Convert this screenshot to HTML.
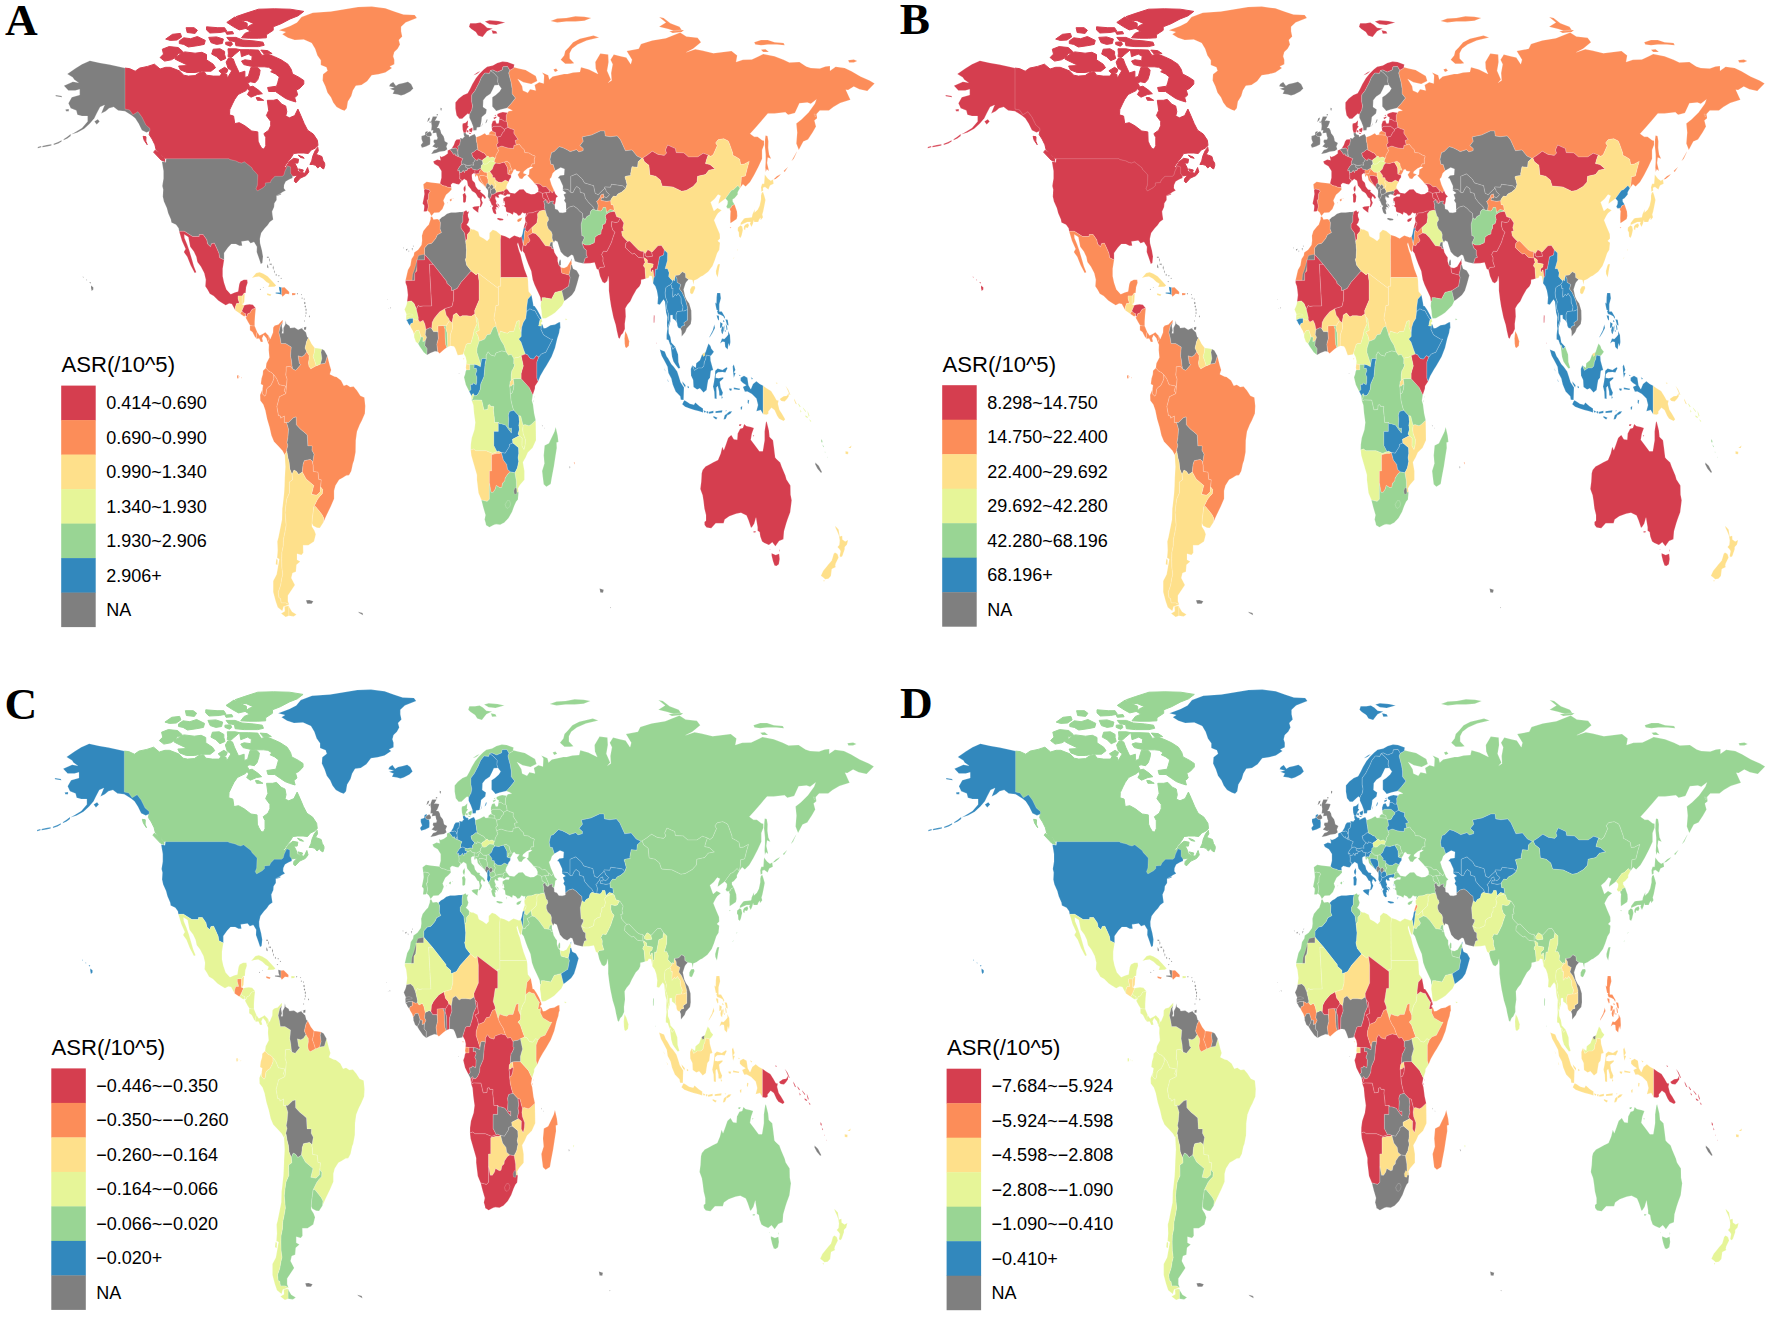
<!DOCTYPE html>
<html><head><meta charset="utf-8"><title>Figure</title>
<style>
html,body{margin:0;padding:0;background:#fff;}
svg{display:block;}
path{stroke:#fff;stroke-opacity:0.3;stroke-width:0.6;stroke-linejoin:round;}
.lt{font-family:"Liberation Sans",Arial,Helvetica,sans-serif;font-size:22.1px;fill:#000;}
.ll{font-family:"Liberation Sans",Arial,Helvetica,sans-serif;font-size:18px;fill:#000;}
.pl{font-family:"Liberation Serif","Times New Roman",serif;font-weight:bold;font-size:45.3px;fill:#000;}
</style></head><body>
<svg width="1772" height="1321" viewBox="0 0 1772 1321">
<rect width="1772" height="1321" fill="#fff"/>
<g transform="translate(0,0)">
<path d="M125.0,68.1L129.5,68.6L135.2,71.2L139.7,68.1L147.6,66.4L154.4,64.2L160.1,69.0L165.7,67.3L170.2,67.3L179.3,70.8L183.8,75.2L188.3,76.1L195.1,75.6L199.7,72.5L204.2,71.7L206.5,75.2L213.2,76.1L220.0,76.1L222.3,72.5L226.8,74.3L227.3,78.3L229.1,75.2L231.8,70.8L228.0,68.1L226.1,62.0L228.6,58.0L233.2,58.9L235.2,64.2L237.0,68.1L239.3,73.0L244.9,71.2L244.9,77.4L248.3,76.5L249.9,70.8L251.0,67.3L257.4,67.3L260.1,69.9L259.6,73.9L257.8,79.6L255.1,82.7L250.6,81.8L247.6,82.7L249.5,86.2L246.1,90.6L241.5,92.8L238.1,94.5L234.7,99.4L232.5,103.8L229.8,109.5L229.5,114.8L233.6,116.1L234.7,123.6L239.3,122.7L244.9,125.8L251.7,131.0L257.8,131.9L258.1,141.2L259.6,144.7L261.9,148.6L264.2,149.1L265.8,145.6L265.8,137.6L263.9,133.7L268.7,130.2L270.7,125.8L270.7,121.4L266.4,115.6L268.7,110.4L267.3,100.3L273.2,100.3L277.3,99.4L281.8,104.2L285.7,106.0L286.8,111.7L285.7,116.1L289.5,117.8L294.7,115.6L297.9,109.1L300.8,115.6L304.2,123.6L307.6,130.2L313.3,134.1L317.4,140.3L318.0,145.6L315.1,148.2L311.2,150.0L308.3,153.5L303.8,153.0L298.1,153.0L293.6,153.5L291.3,157.4L287.9,161.8L283.9,167.5L285.7,167.5L289.1,161.8L293.6,158.3L298.6,159.2L297.9,163.1L294.7,163.1L297.0,167.5L297.9,171.1L299.7,171.9L304.9,173.3L307.6,167.5L308.8,171.9L306.0,175.5L300.4,178.1L295.9,182.9L294.3,181.2L294.7,178.5L298.1,175.0L295.9,175.5L292.5,175.9L290.6,173.3L290.6,167.1L287.5,165.8L285.0,171.1L283.9,175.0L282.3,176.3L275.0,176.3L271.4,179.9L270.3,182.5L265.3,182.9L265.3,185.6L263.0,187.8L257.4,190.9L256.0,188.7L257.4,185.1L257.8,175.0L255.1,171.9L252.9,169.7L251.7,167.5L244.3,161.8L241.5,163.1L238.6,162.3L235.9,160.9L230.0,159.6L228.7,158.7L165.3,158.7L161.6,154.4L156.2,150.0L154.9,144.7L152.1,139.0L149.2,134.6L149.9,131.0L149.9,128.4L145.8,124.9L141.9,117.0L137.9,111.7L132.9,114.8L129.5,109.9L125.0,109.1ZM164.8,161.4L161.2,160.1L153.7,152.2L154.9,150.4L160.5,153.5L164.4,158.7ZM147.2,144.7L144.2,140.3L143.1,136.3L146.0,136.8L145.8,141.2ZM309.9,164.5L311.7,160.9L312.8,156.1L315.1,150.8L317.8,147.3L318.3,150.8L316.2,154.4L318.5,155.2L321.9,156.5L323.0,160.5L324.6,163.1L324.8,165.3L323.7,168.9L321.9,168.0L320.1,165.8L317.8,168.0L315.5,165.3L312.8,164.5ZM298.6,168.9L303.3,170.0L302.6,171.9L299.9,171.1ZM298.3,155.2L303.1,157.0L304.2,158.3L300.4,157.4ZM240.4,49.7L249.5,49.7L258.5,50.1L261.9,55.4L267.6,54.1L274.4,56.7L281.1,59.8L287.9,64.2L291.3,69.5L292.5,73.9L299.2,77.4L303.8,80.5L303.8,84.0L299.7,88.4L296.3,90.1L297.7,95.0L294.7,97.6L295.9,102.0L290.2,100.3L285.7,98.5L281.1,95.4L275.5,91.5L268.7,91.5L267.6,87.5L276.6,86.2L277.7,82.7L279.3,76.9L275.5,73.9L270.7,71.7L272.8,69.9L268.7,67.3L264.2,66.8L258.5,66.8L251.7,66.4L243.8,64.6L241.5,61.1L244.9,59.8L251.7,60.7L252.2,56.3L248.3,54.1L241.5,56.7ZM247.2,87.5L252.9,86.2L258.5,90.1L262.4,93.7L257.4,94.5L251.0,97.2L247.4,94.5L249.5,91.0ZM256.2,97.6L259.2,97.6L263.7,100.3L257.4,100.3ZM178.2,53.6L185.0,51.9L195.1,53.2L201.9,52.3L206.5,54.5L206.5,59.8L213.2,64.2L215.5,67.7L211.0,71.2L201.9,71.2L195.1,72.5L187.2,72.5L180.4,69.9L178.6,66.0L188.3,65.5L178.2,60.7L174.8,58.9ZM160.1,57.6L164.6,61.1L171.4,59.8L179.3,55.0L182.7,51.4L178.2,47.5L169.1,46.6L162.3,49.2L163.5,54.1ZM213.2,49.2L220.0,48.8L224.6,51.4L224.6,54.5L225.7,58.5L220.7,60.7L216.6,56.7L211.7,54.1ZM228.0,48.8L235.9,48.8L240.4,49.7L234.7,54.5L231.3,57.6L228.0,56.7L228.4,53.2ZM218.9,70.8L224.6,67.3L228.0,69.5L226.8,72.5L221.2,73.0ZM179.3,40.9L183.8,37.8L190.6,38.7L197.4,36.5L205.3,40.4L204.2,44.4L197.4,45.7L188.3,47.0L183.8,44.4L179.3,43.5ZM165.7,39.1L172.5,34.3L180.4,33.4L181.6,36.9L177.0,40.0L170.2,40.4ZM208.7,37.4L216.6,36.9L223.4,39.1L222.3,43.5L216.6,44.4L211.0,42.6ZM225.7,42.2L231.3,41.8L232.5,44.4L230.2,46.2L225.7,44.4ZM226.8,37.4L235.9,37.4L242.7,40.0L254.0,40.9L263.0,42.2L264.2,45.3L258.5,46.6L244.9,46.6L235.9,45.7L235.2,41.8L229.1,40.4ZM260.8,50.1L267.6,50.6L272.1,53.6L264.2,54.1ZM235.9,16.7L244.9,13.6L258.5,9.2L274.4,8.8L290.2,9.2L303.8,11.4L298.1,15.8L290.2,18.9L281.1,23.7L273.2,26.8L273.2,30.3L266.4,34.7L266.4,37.8L258.5,38.2L249.5,38.2L241.5,37.8L244.9,33.4L250.6,31.2L246.1,28.6L249.5,25.5L254.0,23.7L247.2,20.7L240.4,20.2ZM226.8,22.4L234.7,17.1L240.4,20.2L247.2,23.3L247.2,28.1L239.3,29.9L233.6,26.8ZM206.5,26.8L217.8,27.7L224.6,27.7L226.8,31.2L220.0,32.5L209.8,33.0L206.5,29.9ZM186.1,27.7L194.0,27.7L197.4,30.3L195.1,33.4L187.2,32.5ZM225.7,32.1L232.5,31.6L233.6,33.8L226.8,34.3Z" fill="#D53E4F" style="stroke:#D53E4F;stroke-opacity:1;stroke-width:1"/>
<path d="M125.0,68.1L118.2,66.4L109.1,64.6L100.1,62.9L89.9,60.7L82.0,64.2L75.2,68.6L67.3,73.9L72.9,77.4L74.1,79.6L78.6,82.7L72.9,81.8L63.9,85.7L68.4,90.6L75.2,90.6L79.7,89.3L79.7,95.0L71.8,97.2L68.4,103.3L70.7,108.2L76.3,110.4L77.4,114.8L82.0,116.1L87.6,116.1L87.6,121.4L82.0,128.0L76.3,131.5L71.1,134.6L77.4,132.4L84.2,128.8L89.9,123.6L94.4,118.3L96.7,113.4L100.1,106.9L104.6,105.1L101.2,113.4L105.7,111.2L109.1,108.2L113.7,106.9L118.2,110.4L125.0,111.2L131.8,115.6L135.2,118.3L138.6,123.6L141.9,130.2L146.5,132.4L149.9,131.0L149.9,128.4L145.8,124.9L141.9,117.0L137.9,111.7L132.9,114.8L129.5,109.9L125.0,109.1ZM94.4,121.4L97.8,119.2L99.6,121.4L96.7,124.4ZM55.5,95.0L61.6,95.9L62.1,97.2L55.9,96.3ZM65.4,109.5L68.8,109.1L68.8,111.2L66.1,111.2ZM70.7,134.1L67.3,136.8L63.9,139.0L63.4,140.3L67.3,138.5L70.7,135.9ZM61.6,140.3L58.2,142.0L53.7,143.8L53.7,145.1L58.2,143.4L61.6,141.6ZM51.4,144.2L46.9,145.1L42.4,146.0L42.4,147.3L46.9,146.4L51.4,145.6ZM41.2,146.0L37.8,146.9L37.8,148.2L41.2,147.3Z" fill="#7F7F7F"/>
<path d="M165.3,158.7L228.7,158.7L230.0,159.6L235.9,160.9L238.6,162.3L241.5,163.1L244.3,161.8L251.7,167.5L252.9,169.7L255.1,171.9L257.8,175.0L257.4,185.1L256.0,188.7L257.4,190.9L263.0,187.8L265.3,185.6L265.3,182.9L270.3,182.5L271.4,179.9L275.0,176.3L282.3,176.3L283.9,175.0L285.0,171.1L287.5,165.8L290.6,167.1L290.6,173.3L292.5,175.9L292.5,178.1L289.1,179.4L285.7,181.6L284.1,185.1L283.9,188.2L285.7,190.4L282.3,192.2L280.0,193.9L276.6,195.7L276.6,200.1L274.4,203.2L274.1,207.1L272.1,211.5L272.5,215.0L273.2,219.4L269.8,222.1L267.6,225.2L264.8,228.2L261.2,233.1L259.9,238.8L260.1,243.2L261.9,250.2L263.0,256.4L262.4,263.0L260.8,263.9L259.0,258.6L256.7,252.0L256.9,246.7L254.0,241.9L250.6,243.2L248.3,240.6L244.9,241.0L241.5,241.4L242.2,245.8L239.3,245.8L235.9,244.1L231.3,244.1L228.0,247.6L224.1,252.9L224.1,259.9L219.6,257.7L218.9,253.3L216.6,248.0L214.4,243.2L211.7,243.6L210.5,246.7L207.6,244.1L206.7,239.7L203.1,234.6L199.2,234.6L199.2,236.5L192.6,236.5L184.3,231.3L179.1,231.3L178.6,228.2L176.1,224.7L171.4,222.5L170.9,219.4L168.2,213.3L166.8,208.0L163.9,201.4L162.8,196.6L163.2,189.5L162.3,186.0L163.5,178.5L163.5,171.1L161.9,161.4L165.7,162.3L166.2,158.7ZM276.6,195.7L281.1,193.5L281.1,194.6L277.1,195.9Z" fill="#7F7F7F"/>
<path d="M91.0,285.4L93.3,287.2L93.3,289.4L91.7,290.9L91.0,288.0ZM89.4,281.9L91.0,282.3L90.3,283.7ZM86.0,279.3L87.2,280.1L86.5,280.6ZM82.7,276.6L83.6,277.1L83.1,277.9Z" fill="#7F7F7F"/>
<path d="M278.9,30.3L290.2,25.9L297.0,22.4L301.5,17.1L312.8,12.7L330.9,11.4L344.5,9.2L358.1,7.0L371.7,6.6L385.3,8.3L394.3,11.4L403.4,14.5L414.7,14.9L416.9,18.0L405.6,22.4L401.1,26.8L401.1,31.2L402.2,36.5L398.8,40.0L400.0,44.4L397.7,48.8L394.3,51.9L393.2,56.3L394.3,59.8L394.3,64.2L389.8,66.4L392.0,68.1L385.3,72.5L378.5,74.3L371.7,75.2L367.1,81.3L361.5,84.9L355.8,85.7L352.9,90.6L351.3,95.9L347.9,101.6L346.8,108.2L344.5,110.8L341.1,109.5L336.6,106.9L333.2,102.5L330.9,97.2L327.5,92.8L325.3,86.2L322.6,80.5L323.0,74.3L327.5,70.8L326.4,67.3L320.8,65.1L320.8,60.2L317.4,55.4L315.1,48.8L311.7,43.1L303.8,39.6L294.7,40.0L287.9,37.8L282.3,34.3L285.7,32.1Z" fill="#FC8D59"/>
<path d="M179.1,231.3L184.3,231.3L192.6,236.5L199.2,236.5L199.2,234.6L203.1,234.6L206.7,239.7L207.6,244.1L210.5,246.7L211.7,243.6L214.4,243.2L216.6,248.0L218.9,253.3L219.6,257.7L224.1,259.9L222.7,268.7L222.7,276.2L224.1,282.8L226.4,289.4L229.1,292.4L230.7,294.2L234.7,292.4L238.1,291.6L239.3,284.1L240.4,281.5L243.8,279.7L247.2,279.7L247.6,282.8L246.1,287.2L245.6,292.9L244.3,292.9L242.3,295.9L238.1,295.9L238.1,298.4L239.5,303.4L236.6,303.6L235.4,307.0L235.4,310.5L231.8,303.9L229.1,303.4L225.7,305.2L221.2,302.6L218.2,300.4L213.7,296.0L209.8,293.8L207.6,289.8L205.3,286.3L205.8,279.7L204.2,273.1L200.8,266.5L197.4,262.1L196.3,256.8L193.8,251.5L190.2,246.7L188.3,237.0L184.3,234.4L184.5,237.9L187.2,244.5L189.5,251.1L191.7,258.6L194.0,266.5L196.3,272.2L194.7,273.1L190.6,265.2L187.2,256.8L183.8,252.0L185.6,248.9L182.0,241.0Z" fill="#D53E4F"/>
<path d="M235.4,310.5L235.4,307.0L236.6,303.6L239.5,303.4L238.1,298.4L238.1,295.9L242.3,295.9L242.2,304.3L244.3,305.2L241.9,310.9L240.2,313.8Z" fill="#FEE08B"/>
<path d="M242.3,295.9L244.3,292.9L244.7,294.6L244.3,301.7L242.9,304.3L242.2,304.3Z" fill="#FEE08B"/>
<path d="M240.2,313.8L241.9,310.9L243.8,312.9L245.6,313.6L245.4,316.2L243.8,316.2Z" fill="#FC8D59"/>
<path d="M241.9,310.9L244.3,305.2L246.1,304.8L249.5,304.3L252.9,304.8L255.8,308.3L252.2,309.2L249.9,313.1L247.9,313.6L246.5,317.1L245.6,315.3L245.6,313.6L243.8,312.9Z" fill="#D53E4F"/>
<path d="M245.6,317.5L246.5,317.1L247.9,313.6L249.9,313.1L252.2,309.2L255.8,308.3L255.1,314.9L254.7,321.5L254.7,326.1L252.2,325.9L250.1,325.4L248.3,322.4Z" fill="#FC8D59"/>
<path d="M250.1,325.4L252.2,325.9L254.7,326.1L257.2,332.0L256.5,334.2L256.5,338.8L254.7,336.4L252.4,332.0L249.9,330.3L249.9,326.3Z" fill="#FC8D59"/>
<path d="M256.5,338.8L256.5,334.2L257.2,332.0L259.6,335.5L263.0,333.8L265.3,332.2L268.9,336.0L269.1,339.5L267.8,342.6L266.4,338.2L263.7,335.1L262.1,338.2L263.0,341.7L260.8,342.1L259.2,338.6Z" fill="#FC8D59"/>
<path d="M251.9,277.9L256.2,273.1L259.6,272.2L263.0,273.5L267.6,276.2L272.1,281.0L276.2,285.4L274.4,286.7L268.2,286.9L269.4,283.7L266.4,281.9L263.0,278.8L259.0,276.6L255.1,277.1Z" fill="#FEE08B"/>
<path d="M275.7,293.5L280.5,294.2L281.7,294.9L281.7,287.6L278.9,286.7L279.3,290.2L280.2,292.4L275.7,292.4Z" fill="#3288BD"/>
<path d="M281.7,294.9L282.5,296.8L285.7,293.8L289.1,294.2L289.3,292.0L286.8,289.4L284.5,287.2L281.7,287.6Z" fill="#FC8D59"/>
<path d="M266.9,293.3L271.4,294.6L270.3,296.0L267.1,295.1Z" fill="#FEE08B"/>
<path d="M292.0,292.9L295.6,293.3L295.2,295.1L292.0,295.3Z" fill="#FC8D59"/>
<path d="M266.9,256.8L268.7,256.8L268.7,258.1L266.9,257.7ZM267.1,263.9L268.2,266.1L268.5,268.3L267.1,267.4ZM268.9,263.9L271.6,263.4L271.6,265.2ZM277.3,281.5L278.9,281.0L278.4,282.3ZM272.7,267.8L273.2,265.6L273.8,267.8L273.2,270.0ZM273.9,271.8L274.4,270.0L274.8,271.8L274.4,273.5ZM275.5,274.9L276.2,273.8L276.8,274.9L276.2,276.0ZM278.2,275.7L278.9,274.9L279.6,275.7L278.9,276.6ZM268.9,259.9L269.4,257.7L269.8,259.9L269.4,262.1ZM280.5,278.4L281.1,277.7L281.8,278.4L281.1,279.0Z" fill="#7F7F7F"/>
<path d="M304.0,327.2L306.3,326.8L306.0,329.8L304.0,329.8Z" fill="#7F7F7F"/>
<path d="M303.9,303.0L304.8,301.7L305.7,303.0L304.8,304.3ZM304.5,306.5L305.2,305.2L306.0,306.5L305.2,307.8ZM305.4,309.8L306.0,308.3L306.7,309.8L306.0,311.4ZM305.5,313.1L306.0,311.8L306.6,313.1L306.0,314.4ZM305.1,316.0L305.6,314.9L306.0,316.0L305.6,317.1ZM308.8,316.4L309.3,315.3L309.9,316.4L309.3,317.5ZM304.0,321.0L304.5,319.9L304.9,321.0L304.5,322.1ZM303.7,299.0L304.2,298.2L304.8,299.0L304.2,299.9ZM301.5,298.2L302.1,297.3L302.6,298.2L302.1,299.0ZM296.8,293.8L297.4,293.1L298.1,293.8L297.4,294.4ZM300.9,294.6L301.4,294.0L301.9,294.6L301.4,295.3Z" fill="#7F7F7F"/>
<path d="M259.8,289.4L260.3,288.8L260.9,289.4L260.3,289.9ZM262.8,287.6L263.3,287.2L263.7,287.6L263.3,288.0Z" fill="#7F7F7F"/>
<path d="M327.3,355.8L329.8,365.5L331.2,369.9L329.8,374.2L334.3,376.4L336.6,376.9L341.1,380.4L343.8,385.7L346.8,384.8L350.2,387.0L353.6,386.6L357.0,390.5L360.4,395.8L364.4,397.6L365.3,405.9L364.9,413.4L361.9,420.4L359.7,424.8L357.0,431.4L355.8,440.2L355.6,452.1L354.0,460.5L352.9,463.5L351.3,471.0L349.0,475.2L346.3,475.4L342.3,478.0L339.1,479.8L335.5,485.5L334.1,490.8L334.1,498.7L330.9,506.2L326.2,515.9L323.2,522.7L323.7,518.1L321.9,514.5L318.3,509.9L315.5,506.6L313.7,507.1L317.4,499.6L319.6,496.5L322.3,493.7L322.6,489.5L320.5,486.8L321.2,479.8L318.7,479.4L318.0,472.3L313.3,471.4L313.1,465.3L312.5,462.9L314.0,454.3L311.9,450.3L312.1,445.9L307.8,445.9L307.2,434.9L303.8,431.9L300.4,429.2L296.3,424.8L296.1,416.9L293.4,417.8L288.6,422.6L286.6,422.4L284.3,422.6L284.3,416.0L280.7,418.2L280.5,416.0L278.4,415.6L276.8,406.4L278.4,400.6L279.3,396.7L285.7,393.6L285.8,392.7L287.0,379.1L285.7,375.1L286.1,370.7L286.1,366.8L290.2,366.3L292.7,369.0L295.9,370.3L300.6,364.6L299.2,363.3L298.1,355.8L301.5,356.7L304.2,355.3L306.7,351.4L308.1,354.0L309.0,354.9L309.2,358.4L308.5,362.8L309.0,366.3L310.8,368.8L316.2,365.7L317.4,365.5L320.5,363.9L325.1,363.3Z" fill="#FC8D59"/>
<path d="M268.9,336.0L270.3,339.1L273.0,332.5L273.2,327.6L274.8,325.4L278.4,324.6L281.1,321.5L282.7,319.7L282.7,322.4L280.5,325.4L278.9,332.5L280.2,337.7L281.1,343.5L285.7,343.5L291.3,347.0L290.6,355.8L291.6,361.1L292.0,365.5L292.7,369.0L290.2,366.3L286.1,366.8L286.1,370.7L285.7,375.1L287.0,379.1L285.8,392.7L284.1,391.0L285.6,386.1L279.1,384.8L276.6,378.6L273.7,374.7L271.4,372.5L268.7,371.2L265.8,368.1L266.4,363.3L269.4,357.5L268.7,350.1L268.9,344.8L267.8,342.6L269.1,339.5Z" fill="#FC8D59"/>
<path d="M282.7,322.4L281.8,325.9L282.7,330.3L281.8,333.3L283.4,333.3L283.4,328.1L285.2,324.6L285.7,320.6L286.3,323.7L289.5,325.9L290.2,328.1L294.7,327.6L298.1,329.8L303.8,327.2L302.0,328.5L306.0,332.5L307.2,336.9L308.5,337.7L306.7,341.3L305.1,348.1L306.7,351.4L304.2,355.3L301.5,356.7L298.1,355.8L299.2,363.3L300.6,364.6L295.9,370.3L292.7,369.0L292.0,365.5L291.6,361.1L290.6,355.8L291.3,347.0L285.7,343.5L281.1,343.5L280.2,337.7L278.9,332.5L280.5,325.4Z" fill="#7F7F7F"/>
<path d="M308.5,337.7L311.7,343.9L314.8,348.1L314.4,352.3L313.1,356.7L314.4,359.7L316.2,365.7L310.8,368.8L309.0,366.3L308.5,362.8L309.2,358.4L309.0,354.9L308.1,354.0L306.7,351.4L305.1,348.1L306.7,341.3Z" fill="#FEE08B"/>
<path d="M314.8,348.1L317.6,348.3L321.9,349.0L321.0,352.3L321.9,358.4L320.5,363.9L317.4,365.5L316.2,365.7L314.4,359.7L313.1,356.7L314.4,352.3Z" fill="#E6F598"/>
<path d="M321.9,349.0L324.4,350.5L327.3,355.8L325.1,363.3L320.5,363.9L321.9,358.4L321.0,352.3Z" fill="#7F7F7F"/>
<path d="M265.8,368.1L268.7,371.2L271.4,372.5L273.7,374.7L273.9,378.4L273.0,381.1L270.7,385.7L268.0,387.4L266.7,389.2L266.0,394.5L264.8,396.2L262.1,393.6L262.4,389.2L263.0,385.2L260.8,383.9L261.5,378.6L262.8,374.2L263.0,370.7Z" fill="#FC8D59"/>
<path d="M262.4,389.2L262.1,393.6L264.8,396.2L266.0,394.5L266.7,389.2L268.0,387.4L270.7,385.7L273.0,381.1L273.9,378.4L273.7,374.7L276.6,378.6L279.1,384.8L285.6,386.1L284.1,391.0L285.8,392.7L285.7,393.6L279.3,396.7L278.4,400.6L276.8,406.4L278.4,415.6L280.5,416.0L280.7,418.2L284.3,416.0L284.3,422.6L286.6,422.4L288.6,429.2L287.9,438.0L287.0,442.4L287.9,445.5L286.6,450.3L286.8,451.2L284.8,455.0L282.5,450.8L278.9,446.8L273.9,441.5L271.4,435.4L269.6,427.5L267.1,419.1L265.3,410.3L263.3,404.6L260.3,400.6L260.1,394.9Z" fill="#FC8D59"/>
<path d="M286.6,422.4L288.6,422.6L293.4,417.8L296.1,416.9L296.3,424.8L300.4,429.2L303.8,431.9L307.2,434.9L307.8,445.9L312.1,445.9L311.9,450.3L314.0,454.3L312.5,462.9L312.4,461.3L310.3,459.4L304.3,460.7L303.1,464.4L302.3,472.1L298.6,474.5L296.5,471.4L294.0,470.1L292.0,474.5L289.7,468.8L289.1,462.2L287.9,457.8L286.8,451.2L286.6,450.3L287.9,445.5L287.0,442.4L287.9,438.0L288.6,429.2Z" fill="#7F7F7F"/>
<path d="M312.5,462.9L313.1,465.3L313.3,471.4L318.0,472.3L318.7,479.4L321.2,479.8L320.5,486.8L320.3,491.7L317.6,494.5L316.2,495.2L311.5,494.3L313.7,485.5L306.0,478.9L302.3,472.1L303.1,464.4L304.3,460.7L310.3,459.4L312.4,461.3Z" fill="#FC8D59"/>
<path d="M323.2,522.7L319.8,528.0L316.9,527.7L313.1,525.8L311.9,523.3L312.4,517.2L313.3,510.6L313.7,507.1L315.5,506.6L318.3,509.9L321.9,514.5L323.7,518.1Z" fill="#FEE08B"/>
<path d="M302.3,472.1L298.6,474.5L296.5,471.4L294.0,470.1L292.0,474.5L292.5,479.8L289.3,482.0L289.5,492.6L286.6,499.2L285.7,506.2L285.0,512.8L285.7,520.7L286.1,525.1L284.8,532.6L283.4,539.2L283.2,545.8L281.8,552.4L281.6,559.0L281.8,567.8L282.7,574.4L281.6,578.8L280.5,585.4L278.2,592.0L278.9,597.7L280.5,598.5L281.1,602.9L285.7,602.9L289.3,604.7L287.9,601.2L287.9,595.5L290.9,591.1L294.9,584.9L291.3,577.9L292.5,573.0L295.9,571.7L296.5,564.7L300.2,561.6L297.0,559.8L297.0,553.7L301.5,555.0L303.3,552.8L303.1,545.3L308.3,545.3L314.0,541.4L315.8,534.3L314.4,530.4L311.9,526.4L311.9,523.3L312.4,517.2L313.3,510.6L313.7,507.1L317.4,499.6L319.6,496.5L322.3,493.7L322.6,489.5L320.5,486.8L320.3,491.7L317.6,494.5L316.2,495.2L311.5,494.3L313.7,485.5L306.0,478.9ZM288.8,605.8L289.6,607.8L292.0,611.7L296.5,614.6L293.6,616.4L288.8,615.7Z" fill="#FEE08B"/>
<path d="M284.8,455.0L286.8,451.2L287.9,457.8L289.1,462.2L289.7,468.8L292.0,474.5L292.5,479.8L289.3,482.0L289.5,492.6L286.6,499.2L285.7,506.2L285.0,512.8L285.7,520.7L286.1,525.1L284.8,532.6L283.4,539.2L283.2,545.8L281.8,552.4L281.6,559.0L281.8,567.8L282.7,574.4L281.6,578.8L280.5,585.4L278.2,592.0L278.9,597.7L280.5,598.5L281.1,602.9L285.7,602.9L289.3,604.7L283.6,606.5L282.3,610.9L277.7,607.3L275.5,600.7L273.2,592.0L273.2,581.0L276.6,574.4L278.2,565.6L279.3,559.0L277.1,558.1L277.7,550.2L277.3,541.4L278.4,537.4L279.8,530.4L282.0,519.4L282.3,508.4L282.7,505.8L284.1,493.0L284.5,486.0L284.8,477.6L285.4,466.6L285.2,463.1ZM288.8,605.8L284.5,606.5L284.8,611.3L281.1,613.5L285.7,617.0L288.8,615.7ZM276.8,558.5L277.7,560.3L277.5,565.1L275.7,564.2L276.2,559.8Z" fill="#FEE08B"/>
<path d="M306.0,600.3L309.4,599.9L313.3,601.2L311.7,603.8L307.2,603.8Z" fill="#7F7F7F"/>
<path d="M513.8,67.3L518.8,68.6L525.6,69.9L535.8,76.1L537.3,80.9L531.2,84.0L523.3,82.2L517.7,79.1L522.2,86.2L522.9,90.6L527.8,92.8L530.1,89.3L535.8,90.4L534.6,84.9L539.2,82.2L543.7,83.5L544.1,75.6L542.1,72.5L548.2,75.2L549.3,79.6L552.7,76.5L564.1,73.9L567.4,73.9L573.1,72.5L579.9,72.1L581.0,67.3L589.0,69.5L593.5,71.7L598.0,73.9L595.7,68.6L595.3,62.0L600.3,53.6L608.2,54.5L608.6,62.0L607.1,70.8L610.9,79.6L608.2,82.7L611.6,80.5L611.1,73.0L612.7,64.2L610.5,59.8L613.8,54.5L620.6,56.3L626.3,57.6L630.8,64.2L632.0,59.8L626.7,51.0L638.7,48.8L641.0,44.0L652.3,40.4L665.9,38.2L680.2,32.5L686.3,36.5L697.6,37.8L701.0,42.2L693.1,48.8L686.3,52.3L695.3,49.2L702.1,50.6L713.4,53.2L723.6,51.9L731.5,51.0L737.2,55.4L736.1,62.0L742.9,59.8L751.9,59.4L759.8,55.8L763.2,54.1L774.5,56.3L783.6,59.8L789.3,62.4L799.4,62.0L806.2,66.4L810.8,68.1L819.8,68.6L825.5,66.4L830.0,66.0L830.0,70.8L835.7,66.8L844.7,68.1L851.5,71.2L860.5,76.5L869.6,80.5L874.6,83.5L871.9,86.2L867.3,91.0L859.4,89.3L853.8,86.6L848.1,90.1L845.8,89.7L849.2,97.2L850.4,99.8L840.2,102.9L833.4,106.9L828.9,110.4L819.8,110.4L816.6,113.9L817.1,118.3L814.4,120.5L816.0,126.6L812.6,132.4L808.0,139.4L803.3,141.6L798.8,150.0L796.3,143.4L797.2,132.4L796.3,123.6L801.7,119.2L808.5,112.6L814.8,103.8L816.4,99.4L810.8,103.8L807.4,102.5L799.4,103.3L794.9,113.0L788.1,114.8L785.4,112.3L774.5,113.4L767.8,113.4L761.0,121.4L755.3,128.0L750.1,133.7L754.2,136.8L757.6,136.8L762.1,140.3L764.1,140.7L764.1,144.7L762.1,150.0L762.1,158.7L758.7,166.2L754.2,175.0L750.1,182.1L745.6,186.5L742.9,184.3L739.9,188.2L741.0,182.9L741.3,176.8L745.3,175.9L747.4,167.5L749.2,161.4L744.0,164.2L740.6,164.5L739.7,159.2L736.1,157.0L732.7,155.2L732.7,153.0L729.3,143.4L728.1,140.9L723.6,138.7L718.0,139.8L715.7,142.9L717.3,145.6L713.4,154.4L710.7,156.5L708.2,155.1L703.2,153.3L697.6,157.0L688.5,157.0L684.0,153.0L676.1,152.6L675.4,148.6L667.7,145.1L665.5,150.0L666.6,153.0L664.3,155.4L658.0,154.4L652.3,151.3L647.1,155.2L642.8,158.0L641.7,158.3L636.9,156.1L632.0,150.0L625.4,150.8L620.4,139.8L617.2,135.9L610.5,136.8L605.2,135.9L604.6,131.0L600.3,131.0L591.7,135.0L582.2,137.0L583.3,141.2L579.9,145.6L583.3,148.6L583.1,150.8L578.8,151.9L576.5,149.7L570.2,151.7L567.4,150.0L562.9,147.8L559.1,146.7L554.1,151.7L551.6,152.6L550.0,159.2L550.9,164.2L553.2,164.5L555.0,170.2L555.5,170.6L552.7,173.3L551.4,177.2L549.8,179.0L551.6,185.1L554.0,190.2L552.3,193.1L549.9,190.2L549.1,190.0L545.9,186.5L543.2,186.9L540.3,184.3L534.6,183.4L532.4,180.7L529.7,177.9L527.4,175.5L529.0,174.6L529.4,169.3L530.6,168.9L533.0,167.1L530.6,167.1L532.1,163.8L534.4,163.8L534.2,159.6L535.1,156.1L532.1,155.0L529.0,153.0L524.7,152.6L524.2,149.7L521.3,147.1L519.2,144.0L516.1,145.1L515.2,140.3L518.1,139.4L516.1,136.8L513.8,133.2L514.0,129.7L510.6,128.8L507.8,127.3L507.0,122.2L506.0,121.1L506.3,118.3L506.1,115.6L507.5,112.8L508.6,111.2L512.5,110.6L509.7,109.1L507.0,108.0L510.9,103.8L515.4,98.1L512.0,93.7L512.0,88.4L510.9,81.8L509.7,77.4L508.6,73.0L509.7,70.3L513.8,68.1ZM488.5,134.8L495.7,135.2L495.5,132.6L492.3,131.3L491.4,131.1L489.4,132.6L489.1,134.1ZM560.7,59.8L565.2,63.8L570.8,63.8L574.2,63.3L569.7,58.5L569.7,53.2L572.0,48.8L577.6,44.4L586.7,40.4L599.1,37.4L593.5,35.6L579.9,38.7L573.1,42.2L568.6,47.5L565.2,51.0L564.1,55.4ZM659.1,26.8L665.9,22.4L659.1,17.1L663.6,18.0L670.4,23.3L679.5,26.8L681.7,29.9L675.0,31.2L668.2,29.0ZM669.3,31.2L677.2,30.3L684.0,29.9L681.7,32.1L672.7,33.0ZM550.5,21.1L557.3,18.5L566.3,18.0L575.4,16.3L584.4,16.7L591.2,18.0L584.4,20.7L575.4,21.5L566.3,21.5L557.3,22.4ZM754.2,42.2L761.0,40.0L767.8,40.0L774.5,42.2L783.6,43.1L784.7,45.3L776.8,44.4L767.8,44.4L761.0,45.3L755.3,44.4ZM761.0,49.7L765.5,49.2L768.9,51.9L763.2,51.9ZM848.1,60.2L853.8,59.4L857.2,61.1L853.8,62.4L849.2,62.4ZM765.5,135.4L767.5,135.9L768.4,141.2L768.2,147.8L769.1,154.4L771.1,158.7L767.8,157.4L767.1,163.1L768.4,168.4L768.9,171.1L766.8,169.3L765.7,171.9L765.3,167.5L765.7,160.9L765.7,154.4L764.8,145.6L765.0,139.8ZM553.4,69.5L556.1,68.6L557.9,70.8L555.0,72.1ZM773.4,179.4L776.8,176.3L780.9,174.1L779.1,176.3L775.7,179.0ZM783.6,171.1L788.1,166.7L784.7,171.9ZM791.5,160.9L796.0,153.0L797.2,151.3L793.8,158.7ZM814.1,113.9L816.4,114.8L815.3,117.0Z" fill="#FC8D59"/>
<path d="M389.1,86.2L390.2,84.0L393.2,82.0L395.9,85.7L398.8,84.0L403.4,83.1L407.9,81.8L411.1,84.0L413.3,88.4L410.2,91.5L404.5,94.5L401.1,95.4L397.7,94.5L392.7,93.7L394.3,90.6L389.8,88.8L394.3,87.5Z" fill="#7F7F7F"/>
<path d="M421.9,147.8L420.8,145.1L422.8,142.5L421.5,139.0L421.5,135.9L424.9,135.0L425.3,131.9L427.6,131.0L427.6,132.4L425.8,134.6L427.6,136.3L429.8,136.5L430.3,139.8L430.1,144.2L429.6,144.7L426.0,146.4Z" fill="#7F7F7F"/>
<path d="M427.6,132.4L430.1,131.3L431.7,133.7L431.7,135.4L429.8,136.5L427.6,136.3L425.8,134.6ZM431.2,154.1L436.2,153.0L439.6,151.7L444.8,151.1L447.3,149.3L446.4,146.4L447.9,142.9L444.8,141.2L444.3,138.5L443.6,136.3L441.2,133.2L440.5,130.2L439.1,128.0L436.9,128.0L438.2,126.2L439.6,122.7L440.0,120.9L436.2,120.5L435.0,120.9L437.3,116.5L432.8,116.5L431.0,121.4L431.7,125.8L431.2,130.6L433.2,130.2L432.6,133.2L436.2,132.8L436.9,136.3L437.5,137.6L437.1,139.4L433.9,139.8L433.5,142.0L434.8,143.8L432.3,146.4L436.9,148.2L438.0,147.3L436.9,149.1L433.9,150.0ZM427.1,122.2L428.3,118.3L430.1,117.4L429.4,120.0ZM429.4,121.8L430.3,120.9L431.0,122.7L429.8,123.1ZM440.5,107.7L441.8,108.2L441.4,110.8L440.5,109.9ZM436.6,114.3L438.0,113.9L437.8,115.6L436.6,115.2Z" fill="#7F7F7F"/>
<path d="M469.4,114.8L467.9,113.4L465.6,115.6L462.2,118.7L459.3,118.7L456.5,115.2L455.4,108.6L455.4,102.5L458.8,98.5L463.3,95.0L467.6,93.2L470.1,88.8L472.4,84.0L475.8,78.3L479.2,73.9L483.7,69.5L487.1,66.8L492.8,65.5L497.3,62.9L502.5,61.6L507.5,62.0L514.3,64.6L513.8,67.3L513.8,68.1L509.7,70.3L507.5,66.4L502.9,66.8L502.3,69.9L497.3,72.1L492.8,69.9L490.5,70.6L489.4,73.4L484.8,73.0L481.4,77.4L479.2,82.7L476.9,87.1L475.1,90.6L471.7,95.0L471.7,101.6L472.6,106.0L471.7,110.4L470.6,112.1ZM473.5,75.2L476.9,73.9L480.3,71.2L478.0,72.1L474.7,74.3ZM469.0,26.8L470.1,23.3L475.8,23.3L480.3,22.4L483.7,24.6L487.1,27.7L492.8,28.6L487.1,31.2L482.6,36.9L478.0,35.6L475.8,32.1L471.3,29.0ZM484.8,21.5L489.4,20.2L498.4,21.1L505.2,22.4L496.2,25.0L489.4,24.2ZM491.6,30.3L496.2,31.2L497.3,33.4L492.8,33.8Z" fill="#D53E4F"/>
<path d="M469.4,114.8L469.4,117.8L471.3,121.8L473.1,126.6L473.3,130.6L476.5,130.2L476.9,127.5L480.3,127.1L481.4,121.4L481.9,117.0L486.0,113.4L486.7,109.5L483.0,106.9L483.3,100.3L486.0,96.7L490.5,93.7L492.8,89.3L494.6,85.3L498.8,84.9L497.7,81.8L498.0,77.4L493.9,73.0L490.5,70.6L489.4,73.4L484.8,73.0L481.4,77.4L479.2,82.7L476.9,87.1L475.1,90.6L471.7,95.0L471.7,101.6L472.6,106.0L471.7,110.4L470.6,112.1ZM485.3,123.6L486.7,119.6L487.6,119.6L486.7,122.2ZM481.2,127.1L482.8,122.2L482.3,124.9Z" fill="#7F7F7F"/>
<path d="M498.8,84.9L501.4,88.4L499.6,91.5L495.7,95.0L492.3,97.2L492.3,102.5L492.3,106.4L495.0,109.5L496.2,111.0L500.7,109.5L507.0,108.0L510.9,103.8L515.4,98.1L512.0,93.7L512.0,88.4L510.9,81.8L509.7,77.4L508.6,73.0L509.7,70.3L507.5,66.4L502.9,66.8L502.3,69.9L497.3,72.1L492.8,69.9L490.5,70.6L493.9,73.0L498.0,77.4L497.7,81.8Z" fill="#7F7F7F"/>
<path d="M463.6,132.8L462.7,129.7L462.4,125.8L462.7,123.6L465.6,122.7L468.1,120.3L467.6,125.8L468.8,126.6L467.2,128.4L466.3,131.0L465.6,133.0ZM469.0,129.3L472.4,127.5L472.6,129.7L471.7,132.4L469.4,131.5ZM466.3,130.2L468.5,130.2L468.3,132.4L466.7,131.9ZM469.0,132.8L471.3,133.2L470.8,134.1L469.0,133.7Z" fill="#D53E4F"/>
<path d="M463.6,132.8L465.6,133.0L466.7,134.6L469.0,135.0L469.0,136.8L472.4,135.0L474.7,134.1L476.2,137.2L476.5,141.2L477.1,143.4L477.4,146.4L478.0,150.0L476.5,149.7L473.5,152.2L471.7,153.0L472.6,156.5L475.3,159.6L474.4,161.4L473.1,162.7L473.6,165.3L471.7,164.9L467.9,165.8L465.8,165.1L463.6,164.0L461.3,164.9L461.3,161.8L462.7,158.7L458.6,156.8L457.9,153.7L457.7,151.1L458.1,148.2L457.7,146.2L459.5,145.1L459.9,142.9L460.4,140.1L459.9,138.1L462.9,138.5L463.6,137.2L464.5,136.8L463.8,135.0Z" fill="#7F7F7F"/>
<path d="M460.4,140.1L459.7,139.2L456.5,139.4L455.0,141.4L453.8,145.1L451.8,148.2L451.8,148.4L453.8,148.4L455.4,148.0L457.2,149.3L457.0,151.1L457.7,151.1L458.1,148.2L457.7,146.2L459.5,145.1L459.9,142.9Z" fill="#D53E4F"/>
<path d="M451.8,148.4L449.9,149.5L451.3,151.3L453.6,154.4L455.1,153.7L455.2,155.2L457.2,156.3L457.1,154.4L457.9,153.7L457.7,151.1L457.0,151.1L457.2,149.3L455.4,148.0L453.8,148.4Z" fill="#7F7F7F"/>
<path d="M457.2,156.3L457.1,154.4L457.9,153.7L458.6,156.8L457.7,156.8Z" fill="#7F7F7F"/>
<path d="M449.9,149.5L447.7,150.4L447.7,153.5L444.6,155.7L441.4,157.0L439.8,155.7L440.5,160.3L437.3,159.6L433.2,161.4L434.4,164.0L438.4,166.2L441.4,171.1L441.4,177.7L440.0,183.4L442.5,185.6L445.7,186.2L447.9,187.3L451.3,187.6L450.9,184.7L452.7,182.9L455.0,183.6L456.3,184.0L459.0,184.5L461.1,181.7L461.5,179.9L459.7,179.0L459.9,175.5L459.5,172.6L459.5,170.2L457.9,171.1L457.9,169.5L459.9,166.2L461.3,164.9L461.3,161.8L462.7,158.7L458.6,156.8L457.7,156.8L457.2,156.3L455.2,155.2L455.1,153.7L453.6,154.4L451.3,151.3ZM463.6,187.8L465.4,185.1L465.7,189.1L464.9,192.2L463.6,190.0Z" fill="#D53E4F"/>
<path d="M440.0,183.4L435.5,182.9L431.2,182.5L426.7,181.8L423.3,184.3L424.0,190.0L425.5,189.1L429.2,189.8L430.1,191.3L428.5,193.9L428.3,199.6L427.1,199.9L428.3,206.2L427.4,210.6L429.6,212.4L431.4,215.9L434.1,212.8L439.1,212.6L442.5,208.9L444.6,203.8L443.4,200.5L446.1,194.8L449.1,192.2L451.6,189.5L451.3,187.6L447.9,187.3L445.7,186.2L442.5,185.6ZM449.5,200.1L451.3,198.5L451.8,200.1L450.9,201.4ZM447.0,202.3L447.7,202.7L447.3,203.4ZM452.7,198.1L453.8,198.8L452.9,198.8Z" fill="#FC8D59"/>
<path d="M424.0,190.0L424.4,193.9L423.7,198.3L422.6,203.6L424.2,205.4L424.2,207.6L423.7,211.5L426.2,211.5L427.4,210.6L428.3,206.2L427.1,199.9L428.3,199.6L428.5,193.9L430.1,191.3L429.2,189.8L425.5,189.1Z" fill="#D53E4F"/>
<path d="M461.1,181.7L464.2,179.0L467.0,180.7L467.9,185.6L470.8,189.1L471.9,190.9L475.3,193.1L476.5,194.8L478.0,197.5L479.6,198.3L480.5,202.7L479.9,205.8L479.5,207.1L480.5,207.3L481.7,205.4L482.8,202.7L481.4,199.6L482.3,196.4L483.0,196.4L484.8,199.0L486.0,197.7L484.6,195.3L480.3,191.7L480.8,190.0L478.0,189.5L475.8,186.5L474.9,182.7L472.4,180.3L471.9,176.8L471.9,174.6L473.7,173.3L475.3,173.7L474.9,171.9L475.1,169.7L472.2,168.9L471.7,167.3L469.0,168.4L467.8,168.2L467.0,170.6L465.1,170.2L464.5,172.6L463.2,170.2L461.9,172.2L460.1,172.4L459.5,172.6L459.9,175.5L459.7,179.0L461.5,179.9ZM472.3,207.6L474.3,206.5L479.3,206.0L478.3,210.2L478.3,212.8L476.5,211.5L473.3,209.1ZM462.7,194.4L464.9,192.8L466.3,196.1L465.8,201.8L464.5,202.7L463.1,202.3L463.1,197.0Z" fill="#D53E4F"/>
<path d="M457.9,171.1L457.9,169.5L459.9,166.2L461.3,164.9L463.6,164.0L465.8,165.1L465.8,167.3L467.8,168.2L467.0,170.6L465.1,170.2L464.5,172.6L463.2,170.2L461.9,172.2L460.1,172.4L459.5,172.6L459.5,170.2Z" fill="#7F7F7F"/>
<path d="M465.8,165.1L467.9,165.8L471.7,164.9L473.6,165.3L473.1,162.7L474.4,161.4L475.3,159.6L477.4,160.5L478.0,158.7L480.5,159.8L482.5,160.5L482.9,163.1L482.8,164.5L481.4,165.3L481.4,167.5L480.5,168.2L479.5,168.9L477.1,170.2L475.1,169.7L472.2,168.9L471.7,167.3L469.0,168.4L467.8,168.2L465.8,167.3Z" fill="#7F7F7F"/>
<path d="M471.7,153.0L473.5,152.2L476.5,149.7L478.0,150.0L481.0,151.5L482.3,152.6L484.2,153.0L486.8,156.5L485.1,158.3L483.0,159.4L482.5,160.5L480.5,159.8L478.0,158.7L477.4,160.5L475.3,159.6L472.6,156.5Z" fill="#D53E4F"/>
<path d="M476.2,137.2L480.8,135.4L484.8,133.2L486.4,135.0L488.5,134.8L495.7,135.2L497.3,137.0L498.2,142.5L496.6,144.7L497.5,147.8L498.6,150.8L496.2,154.8L495.5,158.3L495.1,158.4L492.8,157.0L489.6,157.9L488.2,156.3L486.8,156.5L484.2,153.0L482.3,152.6L481.0,151.5L478.0,150.0L477.4,146.4L477.1,143.4L476.5,141.2Z" fill="#FC8D59"/>
<path d="M482.5,160.5L483.0,159.4L485.1,158.3L486.8,156.5L488.2,156.3L489.6,157.9L492.8,157.0L495.1,158.4L494.2,161.4L490.5,160.9L488.5,162.3L486.7,164.0L484.4,164.2L482.9,163.1Z" fill="#E6F598"/>
<path d="M482.9,163.1L484.4,164.2L486.7,164.0L488.5,162.3L490.5,160.9L494.2,161.4L495.9,163.1L493.9,164.9L492.3,169.3L489.9,171.5L486.9,172.4L484.2,172.2L482.3,170.4L481.2,169.3L480.5,168.2L481.4,167.5L481.4,165.3L482.8,164.5Z" fill="#E6F598"/>
<path d="M475.3,173.7L474.9,171.9L475.1,169.7L477.1,170.2L479.5,168.9L480.5,168.2L481.2,169.3L479.6,171.1L478.7,174.1L477.1,173.7L474.9,174.4Z" fill="#D53E4F"/>
<path d="M474.9,174.4L477.1,173.7L478.7,174.1L479.6,171.1L481.2,169.3L482.3,170.4L484.2,172.2L486.9,172.4L487.2,174.6L487.1,176.8L484.8,175.9L482.3,175.5L479.9,175.5L479.7,177.2L480.8,179.9L482.6,182.9L483.9,185.1L485.9,187.3L486.0,187.8L483.9,185.6L481.4,182.9L480.1,182.1L478.5,179.9L477.8,176.3L476.7,175.0L475.6,177.2L474.7,174.4Z" fill="#FC8D59"/>
<path d="M479.7,177.2L479.9,175.5L482.3,175.5L484.8,175.9L487.1,176.8L488.0,179.4L488.2,182.5L486.4,184.3L485.9,187.3L483.9,185.1L482.6,182.9L480.8,179.9Z" fill="#FC8D59"/>
<path d="M486.9,172.4L489.9,171.5L492.8,175.5L492.5,177.2L495.0,177.7L495.5,179.9L494.8,182.9L496.2,184.7L494.8,188.2L493.0,188.4L493.4,186.5L491.9,184.3L490.2,185.8L487.7,182.9L488.2,182.5L488.0,179.4L487.1,176.8L487.2,174.6Z" fill="#FEE08B"/>
<path d="M490.2,185.8L491.9,184.3L493.4,186.5L493.0,188.4L490.7,190.0L489.6,187.1Z" fill="#7F7F7F"/>
<path d="M485.9,187.3L486.4,184.3L487.7,182.9L490.2,185.8L489.6,187.1L488.5,187.3L487.9,190.2L486.0,187.8Z" fill="#7F7F7F"/>
<path d="M487.9,190.2L488.5,187.3L489.6,187.1L490.7,190.0L490.5,192.6L491.6,194.6L491.0,197.0L489.4,199.6L487.8,196.6L488.1,192.6Z" fill="#7F7F7F"/>
<path d="M490.7,190.0L493.0,188.4L494.8,188.2L496.2,190.9L495.9,192.4L495.5,193.3L493.7,194.2L491.6,194.6L490.5,192.6Z" fill="#7F7F7F"/>
<path d="M489.4,199.6L491.0,197.0L491.6,194.6L493.7,194.2L495.5,193.3L495.9,192.4L499.6,191.5L502.9,190.9L503.7,190.9L504.3,192.4L502.9,195.0L500.7,194.2L498.4,195.0L499.3,197.7L496.8,197.5L495.9,196.1L495.3,198.3L496.6,201.8L495.9,203.2L498.4,207.1L498.5,208.7L497.5,207.1L496.2,207.1L496.6,209.8L495.5,209.3L496.4,213.7L495.0,214.2L493.2,212.4L491.9,208.0L493.2,205.8L491.9,205.4L491.0,203.2L489.8,200.5ZM497.3,218.1L498.4,217.9L502.5,218.8L503.6,219.4L502.9,220.3L500.0,220.5L497.3,219.2ZM496.6,203.2L498.9,204.5L499.8,207.1L498.4,205.8ZM507.0,214.2L507.9,214.2L507.0,216.4ZM502.9,201.4L504.3,201.8L503.4,202.7ZM502.7,204.9L503.2,204.9L502.9,206.2ZM488.7,199.2L489.6,200.5L489.1,201.0ZM490.5,205.4L491.2,206.7L490.5,206.7Z" fill="#D53E4F"/>
<path d="M495.5,179.9L498.4,182.1L501.8,182.3L505.2,180.1L508.8,181.8L507.2,184.3L506.3,187.3L507.5,189.5L505.9,189.1L503.7,190.9L502.9,190.9L499.6,191.5L495.9,192.4L496.2,190.9L494.8,188.2L496.2,184.7L494.8,182.9Z" fill="#FEE08B"/>
<path d="M489.9,171.5L492.3,169.3L493.9,164.9L495.9,163.1L499.6,163.4L504.3,162.0L506.3,165.3L507.7,168.0L507.9,174.1L511.1,175.0L511.1,177.2L509.1,179.9L508.8,181.8L505.2,180.1L501.8,182.3L498.4,182.1L495.5,179.9L495.0,177.7L492.5,177.2L492.8,175.5Z" fill="#D53E4F"/>
<path d="M504.3,162.0L507.0,161.2L510.0,163.4L510.2,165.8L512.2,170.2L509.5,170.0L509.6,171.9L507.9,174.1L507.7,168.0L506.3,165.3Z" fill="#FC8D59"/>
<path d="M497.5,147.8L499.1,146.9L501.8,146.0L507.0,147.8L510.4,148.2L513.4,148.6L514.0,145.1L516.1,145.1L519.2,144.0L521.3,147.1L524.2,149.7L524.7,152.6L529.0,153.0L532.1,155.0L535.1,156.1L534.2,159.6L534.4,163.8L532.1,163.8L530.6,167.1L527.4,168.6L523.8,171.5L523.3,173.3L526.9,174.6L524.2,176.3L522.2,179.0L519.7,178.5L517.7,174.8L520.1,171.5L516.5,171.1L515.4,169.3L513.7,169.7L512.9,171.9L511.3,174.6L511.1,175.0L507.9,174.1L509.6,171.9L509.5,170.0L512.2,170.2L510.2,165.8L510.0,163.4L507.0,161.2L504.3,162.0L499.6,163.4L495.9,163.1L494.2,161.4L495.1,158.4L495.5,158.3L496.2,154.8L498.6,150.8Z" fill="#FC8D59"/>
<path d="M497.3,137.0L500.7,136.3L502.5,132.8L504.3,131.0L504.3,129.3L507.8,127.3L510.6,128.8L514.0,129.7L513.8,133.2L516.1,136.8L518.1,139.4L515.2,140.3L516.1,145.1L514.0,145.1L513.4,148.6L510.4,148.2L507.0,147.8L501.8,146.0L499.1,146.9L497.5,147.8L496.6,144.7L498.2,142.5Z" fill="#D53E4F"/>
<path d="M492.3,131.3L491.7,127.7L493.9,126.2L500.5,126.2L504.3,129.3L504.3,131.0L502.5,132.8L500.7,136.3L497.3,137.0L495.7,135.2L495.5,132.6Z" fill="#D53E4F"/>
<path d="M491.7,127.7L491.6,124.4L492.8,121.1L495.3,120.3L496.6,123.6L498.6,123.3L499.2,119.7L501.4,119.2L504.1,121.1L506.0,121.1L507.0,122.2L507.8,127.3L504.3,129.3L500.5,126.2L493.9,126.2Z" fill="#D53E4F"/>
<path d="M499.2,119.7L499.6,117.6L497.3,116.1L497.3,113.9L500.1,112.8L502.9,112.1L507.5,112.8L506.1,115.6L506.3,118.3L506.0,121.1L504.1,121.1L501.4,119.2ZM493.4,117.8L496.2,116.5L496.6,117.4L494.3,119.2ZM494.3,115.2L496.2,114.8L495.7,116.1Z" fill="#D53E4F"/>
<path d="M502.9,195.0L504.3,192.4L503.7,190.9L505.9,189.1L507.5,189.5L510.0,192.8L514.9,193.5L519.5,189.5L523.5,189.3L526.3,192.6L531.0,194.2L534.6,193.9L538.1,191.7L540.3,192.0L542.4,193.5L543.0,197.9L545.5,199.6L544.6,201.0L543.7,201.0L544.8,205.8L544.4,207.6L545.5,210.9L543.9,210.2L540.0,211.1L536.9,211.1L532.4,212.8L528.1,213.1L527.0,214.8L526.0,216.6L525.5,216.4L526.0,213.3L524.4,213.5L522.4,212.4L520.4,215.3L518.3,215.7L516.5,213.5L513.6,212.2L512.9,214.8L510.0,213.1L507.9,212.4L506.1,211.5L505.7,207.6L503.6,205.8L505.0,205.1L504.5,201.4L503.2,200.5L503.4,198.3L506.3,196.6L509.7,196.4L510.2,194.6L507.5,194.2L505.2,195.9Z" fill="#D53E4F"/>
<path d="M517.2,220.1L518.8,218.8L522.3,217.5L521.1,220.3L518.8,222.1L517.4,221.4Z" fill="#FC8D59"/>
<path d="M534.6,183.4L540.3,184.3L543.2,186.9L545.9,186.5L549.1,190.0L549.8,192.6L545.9,192.6L542.4,193.5L540.3,192.0L538.1,191.7L538.3,188.7L536.9,185.4Z" fill="#D53E4F"/>
<path d="M542.4,193.5L545.9,192.6L547.1,195.3L548.0,197.5L549.3,200.5L549.3,203.2L548.4,203.4L547.1,200.5L545.5,199.6L543.0,197.9Z" fill="#D53E4F"/>
<path d="M549.1,190.0L549.9,190.2L552.3,193.1L554.0,190.2L555.5,193.9L557.9,196.6L556.1,197.7L555.7,201.4L554.8,205.1L552.7,203.4L553.4,201.0L550.5,201.6L549.3,203.2L549.3,200.5L548.0,197.5L547.1,195.3L545.9,192.6L549.8,192.6ZM545.5,199.6L547.1,200.5L548.4,203.4L546.9,202.7L545.8,201.0Z" fill="#D53E4F"/>
<path d="M405.9,249.3L407.7,248.7L406.5,251.1ZM408.3,250.7L409.2,250.7L409.0,252.2ZM411.7,248.5L412.9,248.0L412.2,250.7ZM412.9,245.8L413.8,245.8L413.1,247.1ZM403.4,247.6L404.0,247.6L403.8,248.9Z" fill="#7F7F7F"/>
<path d="M555.5,170.6L555.0,170.2L553.2,164.5L550.9,164.2L550.0,159.2L551.6,152.6L554.1,151.7L559.1,146.7L562.9,147.8L567.4,150.0L570.2,151.7L576.5,149.7L578.8,151.9L583.1,150.8L583.3,148.6L579.9,145.6L583.3,141.2L582.2,137.0L591.7,135.0L600.3,131.0L604.6,131.0L605.2,135.9L610.5,136.8L617.2,135.9L620.4,139.8L625.4,150.8L632.0,150.0L636.9,156.1L641.7,158.3L640.6,159.6L638.1,161.8L637.6,167.3L632.0,166.7L630.6,174.1L631.0,175.5L627.2,175.9L624.9,176.8L626.1,180.7L627.0,184.5L625.6,188.7L623.4,186.0L617.2,185.1L611.6,184.3L610.5,187.3L604.8,186.9L604.7,188.4L602.5,190.4L600.3,192.4L598.2,194.8L595.1,193.3L593.5,185.6L593.0,185.6L584.4,182.9L582.2,179.0L576.5,173.9L570.8,176.3L570.8,192.6L568.1,189.5L564.1,189.1L562.8,190.6L562.9,186.0L559.5,178.5L557.9,178.1L560.0,175.5L564.1,175.0L564.5,168.9L560.7,167.5Z" fill="#7F7F7F"/>
<path d="M570.8,192.6L570.8,176.3L576.5,173.9L582.2,179.0L584.4,182.9L593.0,185.6L593.5,185.6L595.1,193.3L598.2,194.8L600.3,192.4L602.5,190.4L604.7,188.4L605.5,188.7L606.4,191.7L609.5,194.6L608.0,196.4L606.4,197.7L603.7,196.6L603.4,193.9L600.9,195.0L600.3,197.5L599.4,197.9L598.0,200.5L596.6,201.4L597.6,203.2L598.2,205.4L597.6,210.6L594.6,210.0L592.6,206.2L589.0,202.9L585.3,198.3L584.2,193.5L580.1,192.2L579.9,188.7L576.7,186.5L574.9,188.7L573.1,192.6Z" fill="#7F7F7F"/>
<path d="M562.8,190.6L564.1,189.1L568.1,189.5L570.8,192.6L573.1,192.6L574.9,188.7L576.7,186.5L579.9,188.7L580.1,192.2L584.2,193.5L585.3,198.3L589.0,202.9L592.6,206.2L594.6,210.0L592.8,209.3L590.8,211.1L589.9,215.0L586.9,216.6L585.1,219.4L582.8,217.7L582.4,213.3L579.9,211.5L577.2,208.4L573.6,206.0L569.5,207.1L566.1,210.0L565.9,203.2L564.1,200.5L565.2,198.3L563.6,194.4L566.3,193.1Z" fill="#7F7F7F"/>
<path d="M604.7,188.4L604.8,186.9L610.5,187.3L611.6,184.3L617.2,185.1L623.4,186.0L625.6,188.7L621.5,192.2L617.9,193.9L616.1,196.6L613.4,196.1L611.1,199.2L610.8,200.7L606.6,201.4L600.9,200.3L601.6,197.5L603.7,198.1L603.7,196.6L606.4,197.7L608.0,196.4L609.5,194.6L606.4,191.7L605.5,188.7Z" fill="#7F7F7F"/>
<path d="M597.6,210.6L598.2,205.4L597.6,203.2L596.6,201.4L598.0,200.5L599.4,197.9L600.3,197.5L600.9,195.0L603.4,193.9L603.7,196.6L603.7,198.1L601.6,197.5L600.9,200.3L606.6,201.4L610.8,200.7L611.1,204.5L613.6,205.1L614.2,209.8L613.6,210.4L610.0,209.5L606.6,212.8L605.7,207.6L603.0,207.6L602.8,209.1L600.9,211.1Z" fill="#FC8D59"/>
<path d="M642.8,158.0L647.1,155.2L652.3,151.3L658.0,154.4L664.3,155.4L666.6,153.0L665.5,150.0L667.7,145.1L675.4,148.6L676.1,152.6L684.0,153.0L688.5,157.0L697.6,157.0L703.2,153.3L708.2,155.1L706.6,159.6L705.5,163.6L710.0,164.5L715.2,168.9L708.9,170.2L705.5,174.6L697.6,176.3L697.1,182.1L693.1,186.5L686.3,190.4L681.7,191.3L672.7,186.9L663.6,186.2L662.1,186.0L660.2,179.9L655.7,176.3L649.8,175.0L648.9,165.3L644.4,161.8Z" fill="#D53E4F"/>
<path d="M739.7,187.8L737.9,185.6L733.8,189.5L731.3,190.6L727.7,195.5L725.5,198.5L720.2,202.5L718.4,203.8L719.1,200.1L720.7,195.7L718.0,194.6L714.6,199.0L710.7,202.3L713.2,209.3L713.9,210.9L717.5,208.0L721.6,210.2L718.0,213.3L716.4,215.7L714.1,220.3L716.8,226.9L719.8,234.0L720.0,238.4L717.7,241.0L720.0,242.7L719.3,249.8L717.1,253.3L714.8,260.3L712.5,266.1L708.2,271.8L702.8,275.7L701.0,276.6L697.1,279.3L694.0,280.6L693.7,285.0L692.4,280.1L688.5,279.5L685.6,277.5L685.4,273.5L682.4,271.8L679.3,275.1L675.3,275.5L674.5,281.0L673.0,279.5L673.0,281.2L670.4,278.8L668.6,276.6L669.1,272.7L667.5,268.7L665.0,268.7L667.3,260.8L667.5,252.9L664.4,250.0L661.4,245.4L658.0,245.8L652.3,252.0L651.5,252.2L650.1,251.1L647.8,249.8L645.5,253.3L645.3,254.2L643.6,251.6L640.8,251.2L638.1,249.8L634.2,245.8L629.7,241.0L627.5,241.4L624.0,237.9L622.2,235.7L621.5,231.3L623.6,230.9L622.7,227.8L623.8,223.0L620.6,218.1L616.6,216.8L614.8,211.7L612.8,211.4L613.6,210.4L614.2,209.8L613.6,205.1L611.1,204.5L610.8,200.7L611.1,199.2L613.4,196.1L616.1,196.6L617.9,193.9L621.5,192.2L625.6,188.7L627.0,184.5L626.1,180.7L624.9,176.8L627.2,175.9L631.0,175.5L630.6,174.1L632.0,166.7L637.6,167.3L638.1,161.8L640.6,159.6L641.7,158.3L642.8,158.0L644.4,161.8L648.9,165.3L649.8,175.0L655.7,176.3L660.2,179.9L662.1,186.0L663.6,186.2L672.7,186.9L681.7,191.3L686.3,190.4L693.1,186.5L697.1,182.1L697.6,176.3L705.5,174.6L708.9,170.2L715.2,168.9L710.0,164.5L705.5,163.6L706.6,159.6L708.2,155.1L710.7,156.5L713.4,154.4L717.3,145.6L715.7,142.9L718.0,139.8L723.6,138.7L728.1,140.9L729.3,143.4L732.7,153.0L732.7,155.2L736.1,157.0L739.7,159.2L740.6,164.5L744.0,164.2L749.2,161.4L747.4,167.5L745.3,175.9L741.3,176.8L741.0,182.9L739.9,188.2ZM690.1,289.4L691.9,286.3L694.6,285.9L695.3,288.0L693.1,293.3L691.9,294.2L690.1,292.9Z" fill="#FEE08B"/>
<path d="M718.0,264.3L720.0,263.9L719.1,268.7L717.7,277.5L716.1,274.0L715.9,270.9L717.3,266.1Z" fill="#FEE08B"/>
<path d="M725.5,198.5L727.7,195.5L731.3,190.6L733.8,189.5L737.9,185.6L739.7,187.8L739.9,188.2L737.7,192.2L737.7,194.6L734.5,198.3L732.7,199.2L732.7,201.4L734.6,204.5L731.8,205.8L730.9,208.0L727.7,208.4L726.3,206.7L727.5,204.0L727.7,201.0Z" fill="#99D594"/>
<path d="M730.9,208.0L731.8,205.8L734.6,204.5L737.0,211.5L737.3,215.9L736.7,219.0L733.8,221.0L730.4,223.2L730.2,218.1L730.4,212.8L730.6,211.5L729.5,208.4ZM729.7,227.4L731.3,226.9L730.6,228.2Z" fill="#FC8D59"/>
<path d="M763.0,191.7L764.4,196.1L765.5,200.1L764.4,205.8L763.2,211.5L762.3,214.6L763.0,217.2L760.7,220.3L760.5,217.7L759.2,219.4L758.2,221.9L756.9,222.1L754.2,222.1L753.9,220.3L753.0,223.4L751.5,227.1L749.9,223.8L750.6,221.9L747.4,222.1L744.0,223.4L740.6,224.9L740.6,223.0L744.0,218.6L745.6,217.9L748.5,217.7L751.9,217.2L752.4,214.6L753.7,211.5L754.9,209.3L754.6,212.4L757.6,209.8L759.6,205.8L761.0,199.2L761.0,195.7L761.6,193.1ZM761.4,191.7L761.0,187.3L762.1,183.8L764.1,183.8L764.8,174.6L767.8,178.5L770.7,180.7L773.0,179.4L773.6,183.8L770.0,185.4L768.4,189.5L765.0,186.9L763.0,187.8L763.2,190.6ZM744.0,226.5L745.1,224.7L748.1,223.2L749.0,225.6L747.8,228.0L745.6,227.4L745.1,230.2L743.8,229.1ZM740.4,225.2L742.2,226.5L742.9,230.0L741.7,235.3L740.6,237.9L739.0,236.6L738.8,232.2L737.7,230.4L737.9,227.4L739.2,226.5ZM733.1,259.0L734.5,256.4L733.8,258.6ZM738.3,249.3L737.2,249.8L737.0,250.7Z" fill="#FEE08B"/>
<path d="M598.5,270.0L600.0,276.2L602.5,281.9L604.8,283.2L607.3,281.0L608.4,276.2L608.9,281.9L608.9,290.7L610.0,299.5L611.1,306.5L613.4,317.5L615.7,325.0L616.8,330.7L618.4,337.7L619.6,338.7L621.1,335.1L622.9,333.3L624.9,329.0L624.8,323.7L625.8,316.6L625.4,308.3L627.4,304.8L630.4,301.2L632.6,296.4L636.5,289.4L639.6,286.3L641.0,283.2L641.2,279.7L643.7,279.3L645.8,278.4L645.3,272.2L644.9,267.4L643.5,266.1L644.2,263.4L645.3,263.0L644.2,258.6L644.4,257.7L647.3,259.9L647.3,263.0L653.2,264.1L652.8,266.9L650.5,268.7L650.5,270.9L651.6,273.1L652.1,270.5L653.0,270.0L653.7,277.7L655.0,276.6L655.5,269.1L657.2,269.4L658.4,263.4L659.6,256.8L663.6,255.1L664.4,250.0L661.4,245.4L658.0,245.8L652.3,252.0L651.5,252.2L652.5,256.2L647.5,256.8L645.3,255.7L645.3,254.2L643.6,251.6L643.5,257.9L638.3,257.3L634.4,253.3L632.6,254.0L629.5,251.5L625.4,247.6L625.8,243.4L627.5,241.4L624.0,237.9L622.2,235.7L621.5,231.3L623.6,230.9L622.7,227.8L623.8,223.0L620.6,218.1L620.2,218.1L618.1,221.9L615.7,222.5L611.6,221.6L611.4,226.0L612.7,230.0L614.8,232.2L612.9,237.5L611.4,242.3L609.1,247.1L606.8,251.5L603.4,251.1L601.6,254.6L603.0,257.7L602.8,261.2L604.6,266.9L599.8,267.4ZM653.9,314.9L654.6,315.8L654.4,322.4L653.7,322.8L653.7,318.0ZM656.2,342.1L656.6,343.5L656.4,344.3Z" fill="#D53E4F"/>
<path d="M583.5,263.4L590.1,263.2L594.6,262.5L596.6,268.7L598.5,270.0L599.8,267.4L604.6,266.9L602.8,261.2L603.0,257.7L601.6,254.6L603.4,251.1L606.8,251.5L609.1,247.1L611.4,242.3L612.9,237.5L614.8,232.2L612.7,230.0L611.4,226.0L611.6,221.6L615.7,222.5L618.1,221.9L620.2,218.1L616.6,216.8L614.8,211.7L612.8,211.4L609.3,212.2L606.2,214.2L605.2,216.1L606.2,219.4L605.0,223.8L602.5,224.7L602.5,228.2L601.2,230.4L600.9,234.0L598.2,234.8L595.1,237.0L594.2,242.7L589.2,244.9L585.6,244.9L581.9,242.9L584.0,248.5L586.2,250.0L586.2,254.4L587.4,257.3L585.1,258.1Z" fill="#D53E4F"/>
<path d="M581.9,242.9L585.6,244.9L589.2,244.9L594.2,242.7L595.1,237.0L598.2,234.8L600.9,234.0L601.2,230.4L602.5,228.2L602.5,224.7L605.0,223.8L606.2,219.4L605.2,216.1L606.2,214.2L609.3,212.2L612.8,211.4L613.6,210.4L610.0,209.5L606.6,212.8L605.7,207.6L603.0,207.6L602.8,209.1L600.9,211.1L597.6,210.6L594.6,210.0L592.8,209.3L590.8,211.1L589.9,215.0L586.9,216.6L585.1,219.4L582.8,217.7L581.0,224.7L581.3,229.1L581.8,235.7L584.0,236.4L584.0,238.6Z" fill="#99D594"/>
<path d="M625.4,247.6L625.8,243.4L627.5,241.4L629.7,241.0L634.2,245.8L638.1,249.8L640.8,251.2L643.6,251.6L643.5,257.9L638.3,257.3L634.4,253.3L632.6,254.0L629.5,251.5Z" fill="#D53E4F"/>
<path d="M645.3,254.2L645.5,253.3L647.8,249.8L650.1,251.1L651.5,252.2L652.5,256.2L647.5,256.8L645.3,255.7Z" fill="#D53E4F"/>
<path d="M645.8,278.4L645.3,272.2L644.9,267.4L643.5,266.1L644.2,263.4L645.3,263.0L644.2,258.6L644.4,257.7L647.3,259.9L647.3,263.0L653.2,264.1L652.8,266.9L650.5,268.7L650.5,270.9L651.6,273.1L652.1,270.5L653.0,270.0L653.7,277.7L653.0,283.2L651.9,276.2L649.6,275.7L648.5,277.9Z" fill="#FEE08B"/>
<path d="M624.5,338.2L625.2,331.1L627.2,334.7L629.2,341.3L628.8,345.7L626.5,348.1L625.2,347.0L624.7,343.5Z" fill="#FC8D59"/>
<path d="M653.0,283.2L653.7,277.7L655.0,276.6L655.5,269.1L657.2,269.4L658.4,263.4L659.6,256.8L663.6,255.1L664.4,250.0L667.5,252.9L667.3,260.8L665.0,268.7L667.5,268.7L669.1,272.7L668.6,276.6L670.4,278.8L673.0,281.2L670.7,284.8L668.2,285.9L665.9,287.6L665.2,292.9L665.5,296.8L667.3,301.7L666.4,307.4L668.4,313.6L668.6,319.3L669.5,322.4L667.7,328.1L667.1,330.4L667.0,322.4L667.3,317.1L666.1,312.7L665.2,304.3L665.0,301.7L663.6,299.5L661.8,301.7L659.8,304.8L657.5,303.9L658.0,297.3L656.9,290.7L655.3,286.3Z" fill="#3288BD"/>
<path d="M670.7,284.8L671.6,285.6L671.8,288.5L673.1,288.3L672.7,295.1L672.9,297.3L675.2,294.2L676.5,295.7L678.1,293.3L681.1,297.7L681.3,302.6L683.1,307.0L682.2,311.1L677.2,311.6L676.1,314.7L676.1,318.6L677.0,323.0L675.4,320.6L672.7,318.6L672.5,315.1L670.4,315.3L670.4,321.5L668.6,328.1L668.8,333.3L670.4,336.9L671.3,342.6L674.5,345.9L675.2,346.8L672.9,349.4L670.9,344.8L670.7,345.9L669.8,343.9L668.4,339.9L666.6,339.5L666.6,335.1L667.1,330.4L667.7,328.1L669.5,322.4L668.6,319.3L668.4,313.6L666.4,307.4L667.3,301.7L665.5,296.8L665.2,292.9L665.9,287.6L668.2,285.9Z" fill="#3288BD"/>
<path d="M670.7,284.8L673.0,281.2L673.0,279.5L674.5,281.0L675.3,275.5L677.0,278.8L677.2,282.3L680.8,284.5L679.5,288.9L682.2,292.4L685.4,299.5L687.6,307.4L687.5,309.6L684.0,311.1L682.2,311.1L683.1,307.0L681.3,302.6L681.1,297.7L678.1,293.3L676.5,295.7L675.2,294.2L672.9,297.3L672.7,295.1L673.1,288.3L671.8,288.5L671.6,285.6Z" fill="#3288BD"/>
<path d="M688.5,279.5L686.3,281.9L685.6,283.2L683.6,289.4L685.1,296.4L687.0,300.4L689.2,303.4L691.3,310.5L691.5,319.3L690.8,324.1L686.7,328.5L685.4,332.0L681.7,336.4L681.5,331.1L680.5,328.5L682.0,326.1L684.5,325.4L683.8,322.8L687.4,320.2L687.5,309.6L687.6,307.4L685.4,299.5L682.2,292.4L679.5,288.9L680.8,284.5L677.2,282.3L677.0,278.8L675.3,275.5L679.3,275.1L682.4,271.8L685.4,273.5L685.6,277.5Z" fill="#7F7F7F"/>
<path d="M677.0,323.0L676.1,318.6L676.1,314.7L677.2,311.6L682.2,311.1L684.0,311.1L687.5,309.6L687.4,320.2L683.8,322.8L684.5,325.4L682.0,326.1L680.5,328.5L678.6,328.1L677.4,325.9Z" fill="#3288BD"/>
<path d="M670.7,345.9L670.9,344.8L672.9,349.4L675.2,346.8L678.1,354.5L678.4,361.9L680.2,368.1L678.4,368.5L675.4,364.6L673.4,361.5L672.0,356.7L671.2,350.5ZM692.3,365.2L695.8,367.7L696.2,363.3L699.9,360.2L702.1,354.5L705.5,352.3L706.9,347.9L708.5,343.5L710.5,346.1L711.4,348.7L713.9,351.8L711.6,354.9L710.3,356.0L706.4,355.1L705.7,359.3L704.4,361.9L703.9,365.9L701.9,368.1L698.0,368.1L694.4,370.5Z" fill="#3288BD"/>
<path d="M702.3,354.0L705.1,352.5L704.8,355.3L703.5,356.7Z" fill="#FEE08B"/>
<path d="M659.8,349.6L664.8,351.4L666.6,356.2L668.2,358.4L671.3,364.1L673.8,366.8L677.2,371.6L679.0,376.9L680.6,382.2L684.0,387.4L683.8,394.0L683.6,400.0L680.8,399.8L680.2,396.2L675.6,391.4L672.7,384.4L671.3,378.4L668.4,372.9L667.5,366.8L664.1,360.2L661.6,355.8ZM682.2,404.2L684.2,400.2L685.8,401.1L689.9,403.7L694.0,404.8L695.3,402.4L699.2,405.9L703.0,408.6L703.0,412.5L699.2,411.2L694.2,409.9L689.7,408.6L685.1,406.8ZM692.3,365.2L694.4,370.5L698.0,368.1L701.9,368.1L703.9,365.9L704.4,361.9L705.7,359.3L706.4,355.1L710.3,356.0L710.7,361.1L713.2,369.9L710.9,370.7L710.0,377.8L708.2,380.0L707.3,385.2L706.6,390.1L703.5,392.5L699.9,388.3L697.1,389.6L693.5,387.0L693.1,380.0L691.0,375.6L690.8,369.0ZM715.2,370.7L717.7,368.5L722.5,370.1L726.6,367.2L727.5,368.1L725.4,372.5L722.5,372.1L718.0,372.3L715.9,374.2L715.7,377.8L718.6,378.2L723.2,377.3L723.4,378.6L719.8,381.7L720.7,387.4L722.9,392.7L722.0,395.8L719.3,395.4L719.1,391.4L717.7,386.1L716.4,387.4L716.6,395.4L716.6,398.9L714.6,398.4L714.3,391.8L713.0,386.6L713.9,382.2L715.0,374.7ZM740.6,377.8L744.0,375.8L747.4,377.8L748.5,385.2L750.8,389.2L753.0,383.9L756.4,381.3L759.8,383.9L763.2,385.7L763.2,414.3L760.7,409.9L756.4,411.2L758.0,405.0L756.4,398.4L751.9,394.0L747.4,391.4L744.9,391.8L742.9,387.0L746.3,385.2L742.9,383.0L740.6,380.8ZM723.6,419.5L724.7,415.2L727.0,413.4L727.2,415.6L725.7,418.9ZM703.2,410.3L706.0,411.2L704.8,413.0ZM706.6,411.2L708.2,411.2L707.8,413.4L706.6,413.0ZM708.5,412.1L713.4,410.8L713.4,413.0L708.9,413.8ZM715.5,411.2L722.3,410.3L722.0,412.5L715.5,413.0ZM713.4,416.0L717.5,417.8L716.1,419.5L713.4,417.4ZM733.8,387.4L740.1,388.8L739.5,390.1L733.8,389.2ZM729.3,388.3L732.0,388.8L731.1,391.0L729.3,390.1ZM732.7,366.3L733.8,364.6L735.4,369.9L733.8,372.5L735.6,372.9L733.8,377.8L733.1,372.1ZM682.2,381.3L685.6,385.2L685.1,387.4L682.9,383.9ZM687.6,385.7L689.2,387.0L688.5,388.3L687.6,387.4ZM664.1,368.1L665.7,371.6L664.8,370.3ZM667.3,378.6L668.8,382.2L667.9,381.3ZM725.4,410.8L727.2,410.3L725.9,411.6ZM740.6,407.2L742.2,405.9L742.0,409.4L740.8,409.4ZM747.8,399.8L749.2,400.2L748.5,404.2L747.6,402.8ZM721.4,396.2L722.9,397.1L721.8,398.9ZM750.8,377.3L753.0,378.6L751.9,379.5ZM738.8,374.7L741.0,375.6L739.5,376.0Z" fill="#3288BD"/>
<path d="M727.0,413.4L729.3,411.6L732.2,411.2L730.4,413.8L727.2,415.6Z" fill="#3288BD"/>
<path d="M717.1,292.9L720.2,292.9L720.9,298.2L719.3,304.3L719.3,311.4L721.8,311.4L725.0,317.1L724.7,319.1L723.2,316.2L720.9,314.9L718.0,314.0L717.1,311.4L717.7,310.0L716.6,310.0L715.5,304.8L715.2,302.6L716.4,303.4L716.6,297.3ZM720.2,343.5L722.0,338.6L724.3,339.1L726.3,336.9L728.1,334.7L728.1,331.1L730.0,335.1L730.4,342.1L729.7,346.5L728.6,343.5L727.9,347.9L727.7,349.6L725.2,347.0L724.7,342.1L723.4,341.7L722.3,341.7ZM725.4,319.3L727.7,319.7L728.6,325.4L727.0,325.0ZM725.7,324.1L727.0,325.9L727.5,329.4L726.6,330.3ZM722.3,326.3L723.6,326.8L722.9,334.2L721.6,332.9L721.1,330.3ZM720.2,321.9L722.7,323.7L721.6,327.6L720.0,328.1ZM723.4,328.1L724.7,325.0L724.1,330.3L723.2,332.5ZM714.3,324.6L715.0,328.1L712.3,333.3L709.4,337.7L709.6,336.4L712.8,330.3ZM716.6,315.3L718.9,315.8L719.1,319.7L718.4,320.6L717.3,318.0ZM724.3,330.7L725.9,330.3L725.7,332.0ZM722.9,319.7L724.7,321.5L723.2,321.9Z" fill="#3288BD"/>
<path d="M525.5,216.4L526.0,216.6L527.0,214.8L528.1,213.1L532.4,212.8L536.9,211.1L540.0,211.1L537.6,213.7L537.8,217.7L536.9,223.0L531.9,227.5L527.4,232.2L525.0,230.2L525.2,227.4L526.9,223.8L526.5,222.1L525.5,221.9L525.0,218.1Z" fill="#D53E4F"/>
<path d="M523.5,228.7L525.2,227.4L526.9,223.8L526.5,222.1L525.5,221.9L524.4,225.2Z" fill="#D53E4F"/>
<path d="M521.6,236.6L523.1,244.5L524.2,237.9L524.6,231.8L525.0,230.2L525.2,227.4L523.5,228.7L523.2,230.0L522.6,233.5Z" fill="#3288BD"/>
<path d="M523.2,244.9L524.2,237.9L524.6,231.8L525.0,230.2L527.4,232.2L531.9,227.5L532.8,232.9L527.8,235.7L530.1,240.1L529.0,242.3L527.3,243.0L525.8,245.8Z" fill="#FC8D59"/>
<path d="M540.0,211.1L543.9,210.2L545.5,210.9L546.9,215.9L548.2,217.2L548.7,219.9L547.1,222.5L547.1,225.2L548.4,228.7L551.4,231.8L552.3,234.4L552.1,237.9L552.7,240.1L554.0,242.5L552.7,242.3L552.1,241.9L550.5,242.5L549.5,246.3L545.3,245.8L539.4,237.5L535.5,233.7L532.8,232.9L531.9,227.5L536.9,223.0L537.8,217.7L537.6,213.7Z" fill="#FEE08B"/>
<path d="M549.5,246.3L550.5,242.5L552.1,241.9L552.7,242.3L552.7,245.4L553.6,248.7L551.8,248.7L551.5,246.7Z" fill="#7F7F7F"/>
<path d="M523.2,244.9L525.8,245.8L527.3,243.0L529.0,242.3L530.1,240.1L527.8,235.7L532.8,232.9L535.5,233.7L539.4,237.5L545.3,245.8L549.5,246.3L551.5,246.7L551.8,248.7L553.6,248.7L554.5,252.4L556.6,255.9L557.7,257.3L557.7,261.2L559.1,265.4L560.0,266.1L560.9,267.6L561.8,273.1L568.8,274.9L569.0,274.4L570.2,277.5L568.6,286.3L561.8,290.7L555.0,292.4L551.6,299.0L548.9,298.6L544.8,297.7L542.1,297.7L541.9,300.8L541.0,302.1L540.3,297.3L537.3,290.7L534.6,285.0L532.7,279.7L531.2,270.9L528.3,264.3L526.7,259.9L524.4,253.3L522.4,250.7Z" fill="#D53E4F"/>
<path d="M541.0,302.1L541.9,300.8L542.1,297.7L544.8,297.7L548.9,298.6L551.6,299.0L555.0,292.4L561.8,290.7L564.3,301.0L562.2,305.6L555.0,312.7L551.6,314.9L545.9,318.2L542.6,318.6L541.9,315.8L541.4,310.5L540.7,306.1ZM565.0,318.8L567.4,319.1L565.9,320.2Z" fill="#E6F598"/>
<path d="M564.3,301.0L561.8,290.7L568.6,286.3L570.2,277.5L569.0,274.4L570.4,268.7L570.8,264.7L571.8,264.5L573.1,268.7L576.7,270.5L579.4,275.3L577.0,284.1L574.9,290.7L574.7,291.1L572.0,295.1L569.3,297.3L566.5,299.5ZM571.1,259.9L572.0,258.6L571.8,261.7Z" fill="#7F7F7F"/>
<path d="M560.9,267.6L561.8,273.1L568.8,274.9L569.0,274.4L570.4,268.7L570.8,264.7L571.8,264.5L571.5,261.7L571.1,259.9L569.3,263.0L567.2,266.5L564.1,268.0Z" fill="#FC8D59"/>
<path d="M559.1,265.4L559.0,262.1L560.0,259.2L560.9,260.8L560.9,264.3L560.0,266.1Z" fill="#7F7F7F"/>
<path d="M545.5,199.6L546.9,202.7L548.4,203.4L549.3,203.2L550.5,201.6L553.4,201.0L552.7,203.4L554.8,205.1L555.2,208.9L557.7,209.8L559.5,212.4L562.9,212.8L566.1,212.0L566.1,210.0L569.5,207.1L573.6,206.0L577.2,208.4L579.9,211.5L582.4,213.3L582.8,217.7L581.0,224.7L581.3,229.1L581.8,235.7L584.0,236.4L584.0,238.6L581.9,242.9L584.0,248.5L586.2,250.0L586.2,254.4L587.4,257.3L585.1,258.1L583.5,263.4L578.8,262.5L574.9,261.2L573.1,255.5L571.5,254.8L567.9,257.5L564.1,255.5L560.7,251.8L559.1,247.1L557.5,241.7L555.0,240.6L554.0,242.5L552.7,240.1L552.1,237.9L552.3,234.4L551.4,231.8L548.4,228.7L547.1,225.2L547.1,222.5L548.7,219.9L548.2,217.2L546.9,215.9L545.5,210.9L544.4,207.6L544.8,205.8L543.7,201.0L544.6,201.0Z" fill="#7F7F7F"/>
<path d="M439.1,219.9L441.8,217.2L444.3,215.9L447.0,213.7L451.0,212.4L455.6,212.4L459.7,212.0L461.8,212.0L463.6,211.7L462.9,215.9L462.9,221.6L461.1,224.3L461.1,228.2L464.6,233.1L465.7,241.3L466.5,249.8L466.1,257.7L465.4,259.5L466.7,265.2L471.2,270.9L461.1,282.3L457.2,288.5L453.7,290.0L451.6,290.7L451.3,287.2L446.8,283.2L446.7,281.5L433.2,264.3L424.5,254.2L424.5,252.6L424.5,248.0L428.0,244.1L431.7,243.2L435.7,238.4L437.3,234.8L441.4,232.6L440.0,229.1L440.3,222.5Z" fill="#7F7F7F"/>
<path d="M405.5,282.8L405.6,280.1L407.9,270.0L410.4,265.6L411.5,259.0L413.8,255.5L414.2,252.6L418.1,249.8L421.5,244.9L422.1,240.6L421.9,235.7L423.3,230.9L426.9,226.5L428.7,224.7L430.5,219.4L430.7,216.8L432.1,216.4L433.5,219.4L437.3,219.0L439.1,219.9L440.3,222.5L440.0,229.1L441.4,232.6L437.3,234.8L435.7,238.4L431.7,243.2L428.0,244.1L424.5,248.0L424.5,252.6L424.5,259.9L416.9,259.9L416.9,271.1L414.7,273.1L414.7,280.4L405.6,280.4Z" fill="#FC8D59"/>
<path d="M418.5,255.5L424.5,254.2L424.5,259.9L419.1,259.9L418.1,262.5L416.3,269.6L414.7,274.4L414.5,280.4L412.0,280.4L412.6,274.4L414.7,268.5L416.3,262.5Z" fill="#7F7F7F"/>
<path d="M405.5,282.8L405.6,280.4L414.7,280.4L414.7,273.1L416.9,271.1L416.9,259.9L424.5,259.9L424.5,254.2L433.2,264.3L429.4,264.3L431.7,306.1L423.1,306.1L419.9,306.5L418.1,305.6L416.4,309.3L414.0,303.4L411.3,301.0L407.2,301.7L406.8,303.7L407.9,295.1L407.2,288.9L406.8,286.3Z" fill="#D53E4F"/>
<path d="M406.8,303.7L407.2,301.7L411.3,301.0L414.0,303.4L416.4,309.3L418.3,317.3L418.3,319.7L416.0,320.2L413.1,318.6L409.7,318.5L406.3,319.9L406.1,316.9L406.6,314.4L404.5,309.6L406.1,306.1Z" fill="#E6F598"/>
<path d="M406.1,316.9L412.9,315.8L412.9,314.7L409.7,313.6L406.6,314.4Z" fill="#E6F598"/>
<path d="M406.3,319.9L409.7,318.5L413.1,318.6L413.1,322.8L410.8,323.7L410.2,326.1L408.1,323.2L407.4,321.5Z" fill="#3288BD"/>
<path d="M410.2,326.1L410.8,323.7L413.1,322.8L413.1,318.6L416.0,320.2L418.3,319.7L419.9,321.9L423.1,320.2L424.9,324.1L426.0,329.4L425.3,334.7L426.7,337.3L425.3,340.8L422.8,341.7L423.1,337.3L420.8,336.9L420.1,334.2L418.8,330.3L416.0,330.7L414.0,334.4L412.9,331.1L411.1,328.1Z" fill="#FEE08B"/>
<path d="M414.0,334.4L416.0,330.7L418.8,330.3L420.1,334.2L420.8,336.9L420.1,339.9L418.1,343.7L415.8,341.7L414.2,337.3Z" fill="#E6F598"/>
<path d="M418.1,343.7L420.1,339.9L420.8,336.9L423.1,337.3L422.8,341.7L425.3,340.8L424.9,345.7L427.1,348.5L427.0,355.1L423.7,352.3L419.7,346.5Z" fill="#99D594"/>
<path d="M427.0,355.1L427.1,348.5L424.9,345.7L425.3,340.8L426.7,337.3L425.3,334.7L426.0,329.4L430.1,327.6L431.7,328.5L433.5,331.6L437.8,331.6L438.0,332.5L438.4,338.2L436.9,344.3L437.8,351.8L435.0,351.2L430.5,353.1Z" fill="#7F7F7F"/>
<path d="M437.8,351.8L436.9,344.3L438.4,338.2L438.0,332.5L437.8,325.9L443.8,325.4L445.0,329.0L445.2,336.9L445.7,344.3L446.8,347.4L444.1,349.6L439.6,353.4Z" fill="#FC8D59"/>
<path d="M446.8,347.4L445.7,344.3L445.2,336.9L445.0,329.0L443.8,325.4L446.1,325.9L445.9,328.5L447.3,333.3L447.7,343.9L447.8,347.0Z" fill="#99D594"/>
<path d="M447.8,347.0L447.7,343.9L447.3,333.3L445.9,328.5L446.1,325.9L449.5,320.6L452.2,322.8L452.7,328.1L450.4,334.7L450.2,346.1Z" fill="#FEE08B"/>
<path d="M431.7,328.5L433.5,331.6L437.8,331.6L438.0,332.5L437.8,325.9L443.8,325.4L446.1,325.9L449.5,320.6L448.9,318.4L446.3,315.3L444.7,308.7L439.6,311.8L436.2,315.8L434.1,318.4L432.1,322.4Z" fill="#FEE08B"/>
<path d="M416.4,309.3L418.1,305.6L419.9,306.5L423.1,306.1L431.7,306.1L429.4,264.3L433.2,264.3L446.7,281.5L446.8,283.2L451.3,287.2L451.6,290.7L453.7,290.0L453.6,299.9L452.0,306.5L444.7,308.7L439.6,311.8L436.2,315.8L434.1,318.4L432.1,322.4L431.7,328.5L430.1,327.6L426.0,329.4L424.9,324.1L423.1,320.2L419.9,321.9L418.3,319.7L418.3,317.3Z" fill="#D53E4F"/>
<path d="M444.7,308.7L452.0,306.5L453.6,299.9L453.7,290.0L457.2,288.5L461.1,282.3L471.2,270.9L476.2,274.9L478.0,273.1L479.2,281.9L479.2,299.9L474.7,310.5L474.9,314.0L471.3,316.2L466.7,315.8L462.2,315.8L459.9,317.1L456.5,313.1L453.4,314.9L452.2,322.8L449.5,320.6L448.9,318.4L446.3,315.3Z" fill="#D53E4F"/>
<path d="M450.2,346.1L450.4,334.7L452.7,328.1L452.2,322.8L453.4,314.9L456.5,313.1L459.9,317.1L462.2,315.8L466.7,315.8L471.3,316.2L474.9,314.0L476.0,317.1L476.2,319.3L477.1,323.7L474.2,330.3L473.1,336.0L470.8,343.5L467.9,343.5L466.3,344.3L463.6,353.1L462.9,354.5L459.9,354.9L457.7,355.3L455.4,348.7L454.1,346.5L451.8,346.1Z" fill="#FEE08B"/>
<path d="M463.6,211.7L466.3,210.2L467.4,212.0L469.2,211.3L467.9,214.6L468.1,216.8L469.2,219.4L468.3,222.5L466.7,224.7L468.8,226.5L470.2,228.5L470.1,231.3L467.4,234.4L467.4,238.4L465.7,241.3L464.6,233.1L461.1,228.2L461.1,224.3L462.9,221.6L462.9,215.9Z" fill="#D53E4F"/>
<path d="M470.2,228.5L472.4,229.6L474.0,229.6L478.3,231.8L479.6,236.2L483.7,238.4L487.1,241.0L489.4,238.4L489.5,233.1L492.8,229.8L496.2,230.9L501.0,235.1L500.5,240.1L500.7,277.5L500.7,286.3L498.4,286.3L498.4,288.5L478.0,273.1L476.2,274.9L471.2,270.9L466.7,265.2L465.4,259.5L466.1,257.7L466.5,249.8L465.7,241.3L467.4,238.4L467.4,234.4L470.1,231.3Z" fill="#FEE08B"/>
<path d="M501.0,235.1L505.2,236.2L509.7,238.6L511.8,237.0L514.3,235.5L517.2,236.6L519.9,237.5L521.6,236.6L523.1,244.5L522.0,251.1L521.5,252.2L520.1,249.8L517.9,242.7L517.4,244.5L519.2,251.1L520.6,254.6L522.2,261.2L524.4,269.1L527.6,277.5L500.7,277.5L500.5,240.1Z" fill="#D53E4F"/>
<path d="M527.6,277.5L500.7,277.5L500.7,286.3L498.4,286.3L498.4,305.2L495.9,305.6L495.0,311.8L493.9,318.4L495.9,324.1L495.9,326.3L497.5,331.1L498.9,336.0L500.5,331.1L504.1,332.5L507.5,333.3L509.7,331.6L513.8,331.4L516.8,321.5L519.2,320.6L519.0,327.2L521.3,332.5L521.7,327.6L523.3,322.4L525.8,318.4L526.6,311.6L526.7,307.4L527.8,299.3L531.5,295.1L528.7,291.6L528.3,286.3L528.1,281.0Z" fill="#FEE08B"/>
<path d="M498.9,336.0L500.5,331.1L504.1,332.5L507.5,333.3L509.7,331.6L513.8,331.4L516.8,321.5L519.2,320.6L519.0,327.2L521.3,332.5L521.3,336.4L518.8,339.1L521.1,342.1L524.0,350.5L525.4,354.0L521.1,355.8L518.8,357.3L514.3,358.0L513.9,358.9L511.3,354.5L508.4,355.3L506.2,352.0L503.9,345.2L501.1,340.8Z" fill="#E6F598"/>
<path d="M474.9,314.0L474.7,310.5L479.2,299.9L479.2,281.9L478.0,273.1L498.4,288.5L498.4,305.2L495.9,305.6L495.0,311.8L493.9,318.4L495.9,324.1L495.9,326.3L493.2,327.6L490.3,334.2L487.1,334.7L484.8,339.1L481.7,340.4L479.2,341.3L478.0,336.0L475.6,332.0L479.2,330.3L478.3,323.7L477.8,319.3L476.0,317.1Z" fill="#FEE08B"/>
<path d="M463.6,353.1L466.3,344.3L467.9,343.5L470.8,343.5L473.1,336.0L474.2,330.3L477.1,323.7L476.2,319.3L476.0,317.1L477.8,319.3L478.3,323.7L479.2,330.3L475.6,332.0L478.0,336.0L479.2,341.3L477.1,347.9L476.9,352.3L478.3,356.7L480.8,364.6L480.5,366.8L476.9,365.0L474.2,364.6L469.8,364.6L466.3,364.1L466.5,361.1L465.6,357.1L464.2,354.5Z" fill="#E6F598"/>
<path d="M479.2,341.3L481.7,340.4L484.8,339.1L487.1,334.7L490.3,334.2L493.2,327.6L495.9,326.3L497.5,331.1L498.9,336.0L501.1,340.8L503.9,345.2L506.2,352.0L501.8,350.9L499.3,351.8L495.9,353.1L494.8,356.2L490.5,354.9L488.2,351.8L486.2,355.3L486.2,358.9L483.7,358.4L481.7,358.9L480.8,364.6L478.3,356.7L476.9,352.3L477.1,347.9Z" fill="#99D594"/>
<path d="M466.3,364.1L469.8,364.6L469.8,369.9L466.3,369.9L465.8,367.7ZM463.3,358.0L464.2,358.0L463.8,360.0Z" fill="#FEE08B"/>
<path d="M466.3,369.9L469.8,369.9L469.8,364.6L474.2,364.6L474.0,368.5L476.2,368.1L476.9,370.7L475.6,374.2L476.9,376.9L476.7,382.6L476.2,384.8L473.1,383.0L472.4,384.8L470.4,384.8L471.0,389.6L469.2,391.6L465.8,384.8L464.0,377.3L465.1,374.2L465.6,371.6Z" fill="#99D594"/>
<path d="M469.2,391.6L471.0,389.6L470.4,384.8L472.4,384.8L473.1,383.0L476.2,384.8L476.7,382.6L476.9,376.9L475.6,374.2L476.9,370.7L476.2,368.1L474.0,368.5L474.2,364.6L476.9,365.0L480.5,366.8L480.8,364.6L481.7,358.9L483.7,358.4L486.2,358.9L485.1,364.1L484.4,372.9L483.9,376.9L480.8,383.9L480.3,389.2L478.5,393.2L476.7,395.6L474.4,395.8L473.7,394.5L473.1,393.6L471.3,396.2L470.8,394.5Z" fill="#3288BD"/>
<path d="M471.7,399.5L472.4,399.3L473.7,394.5L474.4,395.8L476.7,395.6L478.5,393.2L480.3,389.2L480.8,383.9L483.9,376.9L484.4,372.9L485.1,364.1L486.2,358.9L486.2,355.3L488.2,351.8L490.5,354.9L494.8,356.2L495.9,353.1L499.3,351.8L501.8,350.9L506.2,352.0L508.4,355.3L511.3,354.5L513.9,358.9L513.8,363.7L514.9,364.8L513.1,369.0L511.9,370.7L511.3,374.7L511.1,380.4L510.2,381.7L509.7,386.3L510.2,388.8L510.4,393.8L511.1,400.6L512.7,407.2L513.8,410.3L509.5,411.6L508.4,415.2L508.8,419.1L508.4,426.6L509.7,428.8L511.5,427.9L511.5,433.2L508.4,429.2L505.7,425.3L501.6,423.9L499.3,423.9L498.4,422.2L498.2,422.6L494.6,422.6L494.3,417.8L493.4,410.3L493.7,406.4L490.5,406.4L490.0,404.8L488.2,405.0L487.8,409.4L483.9,409.9L481.7,400.2L474.4,400.0L471.9,401.1Z" fill="#99D594"/>
<path d="M471.9,401.1L474.4,400.0L481.7,400.2L483.9,409.9L487.8,409.4L488.2,405.0L490.0,404.8L490.5,406.4L493.7,406.4L493.4,410.3L494.3,417.8L494.6,422.6L498.2,422.6L498.4,422.2L498.4,431.4L493.9,431.4L493.9,445.5L497.1,451.7L492.5,453.4L486.0,450.8L475.8,450.8L473.5,449.0L470.7,450.1L470.8,444.6L471.7,438.0L474.4,429.7L475.3,422.6L474.0,413.0L473.3,405.0ZM471.3,396.2L473.1,393.6L473.7,394.5L472.4,399.3L471.7,399.5Z" fill="#E6F598"/>
<path d="M498.4,422.2L499.3,423.9L501.6,423.9L505.7,425.3L508.4,429.2L511.5,433.2L511.5,427.9L509.7,428.8L508.4,426.6L508.8,419.1L508.4,415.2L509.5,411.6L513.8,410.3L518.7,415.6L519.5,421.7L518.8,425.3L519.5,429.2L518.1,434.1L519.2,435.8L512.5,439.3L512.9,442.9L509.5,444.4L509.3,446.8L505.2,453.2L501.4,452.5L498.4,451.2L497.1,451.7L493.9,445.5L493.9,431.4L498.4,431.4Z" fill="#3288BD"/>
<path d="M470.7,450.1L473.5,449.0L475.8,450.8L486.0,450.8L492.5,453.4L497.1,451.7L498.4,451.2L501.4,452.5L499.6,453.4L496.8,453.4L491.6,454.7L491.6,471.0L489.4,471.0L489.4,483.3L489.4,499.2L487.1,501.4L483.5,500.5L481.4,500.0L478.5,493.0L476.9,479.8L476.9,475.0L474.4,466.2L471.3,455.6Z" fill="#FEE08B"/>
<path d="M489.4,483.3L489.4,471.0L491.6,471.0L491.6,454.7L496.8,453.4L499.6,453.4L501.4,452.5L503.4,460.0L506.8,464.4L507.5,469.2L510.6,471.9L508.2,473.6L505.2,478.0L504.8,481.1L502.7,482.9L501.8,487.3L500.0,487.7L496.2,485.5L495.3,489.0L493.2,492.3L491.0,492.3Z" fill="#FC8D59"/>
<path d="M501.4,452.5L505.2,453.2L509.3,446.8L509.5,444.4L512.9,442.9L514.9,444.6L518.6,447.7L518.8,453.4L518.1,457.8L518.8,461.3L517.4,467.9L514.9,472.8L510.6,471.9L507.5,469.2L506.8,464.4L503.4,460.0Z" fill="#3288BD"/>
<path d="M535.7,420.2L531.2,424.4L529.0,425.7L525.1,424.6L523.2,425.0L522.6,429.2L523.1,433.6L525.4,439.8L525.1,444.6L524.0,449.5L522.0,445.9L522.2,438.0L519.2,435.8L512.5,439.3L512.9,442.9L514.9,444.6L518.6,447.7L518.8,453.4L518.1,457.8L518.8,461.3L517.4,467.9L514.9,472.8L516.3,481.1L516.5,488.2L516.8,492.1L518.6,492.3L517.9,488.4L519.9,485.1L524.4,479.8L524.4,471.0L522.9,462.2L525.6,457.4L527.8,452.5L532.6,447.7L536.0,440.2L535.9,431.0Z" fill="#E6F598"/>
<path d="M518.7,415.6L520.8,416.0L522.4,422.6L523.2,425.0L522.6,429.2L523.1,433.6L525.4,439.8L525.1,444.6L524.0,449.5L522.0,445.9L522.2,438.0L519.2,435.8L518.1,434.1L519.5,429.2L518.8,425.3L519.5,421.7Z" fill="#E6F598"/>
<path d="M535.7,420.2L534.2,413.4L533.0,404.2L531.9,400.6L532.8,394.9L529.2,387.4L521.1,378.6L515.8,378.6L513.1,378.9L513.9,384.6L513.4,389.2L512.0,393.2L510.4,393.8L511.1,400.6L512.7,407.2L513.8,410.3L518.7,415.6L520.8,416.0L522.4,422.6L523.2,425.0L525.1,424.6L529.0,425.7L531.2,424.4ZM532.8,399.8L533.6,401.1L533.3,402.6ZM534.0,395.8L534.3,397.1L534.0,398.0Z" fill="#99D594"/>
<path d="M532.8,394.9L529.2,387.4L521.1,378.6L521.1,373.4L522.2,369.4L523.3,365.9L521.1,355.8L525.4,354.0L527.6,354.7L530.3,358.4L533.5,359.1L536.4,355.6L538.9,356.9L536.9,361.9L536.9,374.2L536.9,378.0L538.1,381.5L535.1,386.1L534.9,388.8L533.8,392.1Z" fill="#D53E4F"/>
<path d="M521.1,378.6L515.8,378.6L513.1,378.9L511.1,380.4L511.3,374.7L511.9,370.7L513.1,369.0L514.9,364.8L513.8,363.7L513.9,358.9L514.3,358.0L518.8,357.3L521.1,355.8L523.3,365.9L522.2,369.4L521.1,373.4Z" fill="#E6F598"/>
<path d="M511.1,380.4L513.1,378.9L513.9,384.6L512.0,384.8L511.8,386.1L509.7,386.3L510.2,381.7Z" fill="#FEE08B"/>
<path d="M509.7,386.3L511.8,386.1L512.0,384.8L513.9,384.6L513.4,389.2L512.0,393.2L510.4,393.8L510.2,388.8Z" fill="#99D594"/>
<path d="M526.6,311.6L529.9,308.7L532.4,310.0L534.9,310.5L537.3,314.9L540.1,319.5L538.7,325.9L541.3,326.0L541.0,329.4L542.8,333.3L543.7,334.9L550.5,339.1L552.7,339.1L545.9,352.3L541.4,354.0L538.9,356.9L536.4,355.6L533.5,359.1L530.3,358.4L527.6,354.7L525.4,354.0L524.0,350.5L521.1,342.1L518.8,339.1L521.3,336.4L521.3,332.5L521.7,327.6L523.3,322.4L525.8,318.4Z" fill="#3288BD"/>
<path d="M531.5,295.1L527.8,299.3L526.7,307.4L526.6,311.6L529.9,308.7L532.4,310.0L534.9,310.5L537.3,314.9L540.1,319.5L541.6,318.4L539.8,314.4L537.3,310.0L534.6,306.1L533.5,306.1L532.8,301.7Z" fill="#3288BD"/>
<path d="M541.6,318.4L540.1,319.5L538.7,325.9L541.3,326.0L542.0,323.9L540.7,323.2L542.3,321.5Z" fill="#E6F598"/>
<path d="M542.0,323.9L541.3,326.0L541.0,329.4L542.8,333.3L543.7,334.9L550.5,339.1L552.7,339.1L545.9,352.3L541.4,354.0L538.9,356.9L536.9,361.9L536.9,374.2L536.9,378.0L538.1,381.5L540.3,376.0L543.7,369.9L546.7,365.2L551.6,356.7L555.0,347.9L557.3,338.6L559.1,332.9L559.8,328.5L560.4,328.3L560.1,322.1L558.4,322.6L555.0,324.6L550.5,325.2L545.9,328.1L543.7,328.3L542.6,325.0Z" fill="#3288BD"/>
<path d="M481.4,500.0L483.5,500.5L487.1,501.4L489.4,499.2L489.4,483.3L491.0,492.3L493.2,492.3L495.3,489.0L496.2,485.5L500.0,487.7L501.8,487.3L502.7,482.9L504.8,481.1L505.2,478.0L508.2,473.6L510.6,471.9L514.9,472.8L516.3,481.1L516.5,488.2L516.8,492.1L518.6,492.3L517.9,499.6L516.1,501.8L514.3,505.8L512.0,511.9L508.6,518.1L507.2,519.4L504.1,522.7L502.0,523.8L500.2,524.7L496.2,524.2L494.1,524.7L489.4,527.3L486.7,525.5L486.0,525.3L485.7,523.3L484.6,519.4L485.5,515.0L483.3,507.5Z" fill="#99D594"/>
<path d="M505.2,504.4L507.5,500.5L509.5,500.7L510.6,503.6L510.0,506.2L507.9,508.4L506.1,507.5Z" fill="#99D594"/>
<path d="M515.2,487.5L516.5,488.6L516.8,492.1L516.4,494.3L514.3,493.9L513.8,490.8Z" fill="#7F7F7F"/>
<path d="M555.7,427.0L557.7,435.8L558.4,442.0L556.6,442.4L556.8,448.1L555.9,453.4L553.9,466.6L551.8,477.6L550.7,484.0L546.4,486.8L543.7,484.2L542.8,477.2L542.1,471.0L544.4,463.5L543.7,455.6L544.6,445.5L548.9,443.3L552.5,435.8L554.5,431.4Z" fill="#99D594"/>
<path d="M573.8,462.2L574.9,462.6L574.5,464.4Z" fill="#FC8D59"/>
<path d="M569.3,466.2L570.4,467.0L569.7,468.4Z" fill="#7F7F7F"/>
<path d="M541.9,424.8L542.6,425.7L542.1,426.6ZM544.4,427.5L544.8,428.3L544.4,428.8Z" fill="#7F7F7F"/>
<path d="M390.2,307.0L391.1,307.8L390.7,308.7ZM387.1,299.0L387.5,299.5L387.1,299.9ZM388.9,308.7L389.1,308.3L388.6,308.3Z" fill="#7F7F7F"/>
<path d="M458.8,372.9L459.3,372.9L459.0,374.0Z" fill="#7F7F7F"/>
<path d="M700.3,489.0L701.2,482.0L701.7,473.2L702.6,470.1L705.5,466.6L708.9,464.8L713.4,462.2L718.0,460.0L720.7,453.4L722.3,446.8L723.8,450.3L725.9,444.6L728.1,438.0L731.3,434.9L733.8,439.3L737.2,439.8L737.7,433.6L739.0,431.0L740.1,428.8L742.9,427.9L744.2,423.9L746.3,426.1L750.8,427.0L753.9,427.9L751.9,433.6L750.8,439.8L754.2,444.2L759.4,451.2L762.8,451.2L764.6,440.2L764.6,431.4L765.9,422.6L766.6,421.3L768.9,430.5L769.6,437.1L773.0,440.2L774.1,448.6L775.2,457.4L776.4,458.9L780.2,462.6L781.8,467.0L785.4,475.4L786.5,479.4L790.4,485.5L790.6,494.8L791.7,500.3L790.2,512.3L787.7,518.9L786.3,523.3L784.0,531.3L783.4,539.2L779.1,540.9L775.4,546.2L772.3,542.3L768.9,544.9L764.4,543.1L762.1,541.4L760.3,536.5L759.6,532.1L757.6,530.8L757.6,527.3L756.4,520.3L756.0,517.6L754.2,523.8L751.9,527.3L751.0,527.7L748.5,520.3L746.5,515.4L741.0,512.8L736.1,513.7L729.3,516.3L724.7,519.4L723.6,523.3L720.0,523.3L715.7,523.3L711.2,528.2L706.6,527.5L704.6,525.1L704.4,522.0L706.0,520.7L706.0,515.0L704.4,508.4L703.5,500.9L702.6,495.2ZM771.6,553.2L775.7,555.0L779.1,553.7L779.7,559.0L778.8,564.2L776.4,566.0L774.5,565.6L773.0,561.2L771.6,555.4ZM739.0,424.4L741.5,423.9L740.6,426.1L739.2,426.1ZM753.0,434.9L754.2,435.4L753.5,436.7ZM753.5,531.3L756.0,531.3L755.3,532.6L753.5,532.6ZM769.8,548.9L770.2,548.9L770.0,550.6ZM779.1,549.3L779.7,550.2L779.3,551.9Z" fill="#D53E4F"/>
<path d="M835.0,525.8L838.6,529.5L839.7,536.5L842.2,535.7L842.4,539.6L845.2,541.4L848.1,540.1L847.0,544.5L844.7,547.1L844.7,549.3L842.4,555.9L840.9,557.2L839.7,555.9L840.6,551.0L839.3,548.9L837.5,547.1L839.3,544.9L839.7,540.5L839.0,536.1L837.5,532.1L835.7,528.2ZM835.0,552.4L837.5,554.1L838.6,557.6L835.7,563.4L835.2,566.0L835.9,567.1L831.8,569.1L830.9,576.1L828.4,578.8L825.2,579.2L823.2,577.4L820.9,575.7L823.2,570.8L825.7,567.8L828.9,563.8L831.6,560.7L832.5,557.9L833.6,554.1ZM823.4,580.1L824.8,580.5L823.9,581.8Z" fill="#FEE08B"/>
<path d="M763.2,385.7L766.6,388.3L771.1,391.0L774.1,395.8L776.6,400.2L778.6,400.6L777.9,403.7L779.5,409.9L782.0,413.8L785.2,419.3L783.6,421.1L779.1,418.7L777.1,415.8L774.5,409.9L771.4,407.7L769.6,409.9L768.4,411.2L768.4,413.8L766.6,414.7L763.2,414.3ZM779.7,398.9L783.6,396.2L787.0,395.8L788.6,392.7L788.8,396.2L787.0,398.9L784.7,401.5L781.3,401.1ZM785.4,385.7L788.1,389.2L790.4,394.5L789.7,394.9L787.0,388.8ZM794.2,398.4L796.9,404.2L795.6,403.7L794.2,400.2ZM775.7,382.6L777.7,383.0L776.8,383.9Z" fill="#FEE08B"/>
<path d="M805.3,415.2L808.0,416.9L807.6,418.0L805.5,416.9ZM807.6,410.8L809.4,415.6L808.9,416.9L807.8,413.4ZM802.8,407.2L806.0,411.2L805.5,412.1L803.1,408.6ZM798.3,403.3L800.6,406.4L799.9,407.2L798.3,404.6ZM799.9,409.4L801.5,411.6L800.6,412.5ZM809.2,419.1L811.4,421.3L810.3,421.7Z" fill="#E6F598"/>
<path d="M821.2,438.9L822.5,441.1L822.1,442.9L821.2,441.5ZM822.5,444.6L823.9,446.4L823.2,447.3ZM824.8,451.7L825.5,452.1L825.0,452.8ZM827.1,456.5L827.5,457.4L827.1,457.8Z" fill="#99D594"/>
<path d="M815.3,462.6L818.7,465.7L822.1,472.3L820.9,472.8L817.5,468.8L815.3,464.4Z" fill="#7F7F7F"/>
<path d="M845.4,451.2L848.3,451.7L848.1,454.3L845.6,453.9ZM848.3,448.1L851.5,445.5L850.8,448.1Z" fill="#FEE08B"/>
<path d="M599.6,588.4L603.7,589.8L603.0,592.8L600.3,592.4ZM610.0,607.3L611.1,607.3L610.7,608.2Z" fill="#7F7F7F"/>
<path d="M358.1,611.7L362.6,613.1L363.1,615.3L359.2,613.1Z" fill="#7F7F7F"/>
<path d="M237.0,375.6L238.4,375.1L238.6,378.2L237.2,378.6ZM239.3,376.4L240.0,376.4L239.7,377.5ZM241.3,377.3L242.0,377.5L241.5,378.4Z" fill="#FC8D59"/>
</g>
<g transform="translate(890,0)">
<path d="M125.0,68.1L129.5,68.6L135.2,71.2L139.7,68.1L147.6,66.4L154.4,64.2L160.1,69.0L165.7,67.3L170.2,67.3L179.3,70.8L183.8,75.2L188.3,76.1L195.1,75.6L199.7,72.5L204.2,71.7L206.5,75.2L213.2,76.1L220.0,76.1L222.3,72.5L226.8,74.3L227.3,78.3L229.1,75.2L231.8,70.8L228.0,68.1L226.1,62.0L228.6,58.0L233.2,58.9L235.2,64.2L237.0,68.1L239.3,73.0L244.9,71.2L244.9,77.4L248.3,76.5L249.9,70.8L251.0,67.3L257.4,67.3L260.1,69.9L259.6,73.9L257.8,79.6L255.1,82.7L250.6,81.8L247.6,82.7L249.5,86.2L246.1,90.6L241.5,92.8L238.1,94.5L234.7,99.4L232.5,103.8L229.8,109.5L229.5,114.8L233.6,116.1L234.7,123.6L239.3,122.7L244.9,125.8L251.7,131.0L257.8,131.9L258.1,141.2L259.6,144.7L261.9,148.6L264.2,149.1L265.8,145.6L265.8,137.6L263.9,133.7L268.7,130.2L270.7,125.8L270.7,121.4L266.4,115.6L268.7,110.4L267.3,100.3L273.2,100.3L277.3,99.4L281.8,104.2L285.7,106.0L286.8,111.7L285.7,116.1L289.5,117.8L294.7,115.6L297.9,109.1L300.8,115.6L304.2,123.6L307.6,130.2L313.3,134.1L317.4,140.3L318.0,145.6L315.1,148.2L311.2,150.0L308.3,153.5L303.8,153.0L298.1,153.0L293.6,153.5L291.3,157.4L287.9,161.8L283.9,167.5L285.7,167.5L289.1,161.8L293.6,158.3L298.6,159.2L297.9,163.1L294.7,163.1L297.0,167.5L297.9,171.1L299.7,171.9L304.9,173.3L307.6,167.5L308.8,171.9L306.0,175.5L300.4,178.1L295.9,182.9L294.3,181.2L294.7,178.5L298.1,175.0L295.9,175.5L292.5,175.9L290.6,173.3L290.6,167.1L287.5,165.8L285.0,171.1L283.9,175.0L282.3,176.3L275.0,176.3L271.4,179.9L270.3,182.5L265.3,182.9L265.3,185.6L263.0,187.8L257.4,190.9L256.0,188.7L257.4,185.1L257.8,175.0L255.1,171.9L252.9,169.7L251.7,167.5L244.3,161.8L241.5,163.1L238.6,162.3L235.9,160.9L230.0,159.6L228.7,158.7L165.3,158.7L161.6,154.4L156.2,150.0L154.9,144.7L152.1,139.0L149.2,134.6L149.9,131.0L149.9,128.4L145.8,124.9L141.9,117.0L137.9,111.7L132.9,114.8L129.5,109.9L125.0,109.1ZM164.8,161.4L161.2,160.1L153.7,152.2L154.9,150.4L160.5,153.5L164.4,158.7ZM147.2,144.7L144.2,140.3L143.1,136.3L146.0,136.8L145.8,141.2ZM309.9,164.5L311.7,160.9L312.8,156.1L315.1,150.8L317.8,147.3L318.3,150.8L316.2,154.4L318.5,155.2L321.9,156.5L323.0,160.5L324.6,163.1L324.8,165.3L323.7,168.9L321.9,168.0L320.1,165.8L317.8,168.0L315.5,165.3L312.8,164.5ZM298.6,168.9L303.3,170.0L302.6,171.9L299.9,171.1ZM298.3,155.2L303.1,157.0L304.2,158.3L300.4,157.4ZM240.4,49.7L249.5,49.7L258.5,50.1L261.9,55.4L267.6,54.1L274.4,56.7L281.1,59.8L287.9,64.2L291.3,69.5L292.5,73.9L299.2,77.4L303.8,80.5L303.8,84.0L299.7,88.4L296.3,90.1L297.7,95.0L294.7,97.6L295.9,102.0L290.2,100.3L285.7,98.5L281.1,95.4L275.5,91.5L268.7,91.5L267.6,87.5L276.6,86.2L277.7,82.7L279.3,76.9L275.5,73.9L270.7,71.7L272.8,69.9L268.7,67.3L264.2,66.8L258.5,66.8L251.7,66.4L243.8,64.6L241.5,61.1L244.9,59.8L251.7,60.7L252.2,56.3L248.3,54.1L241.5,56.7ZM247.2,87.5L252.9,86.2L258.5,90.1L262.4,93.7L257.4,94.5L251.0,97.2L247.4,94.5L249.5,91.0ZM256.2,97.6L259.2,97.6L263.7,100.3L257.4,100.3ZM178.2,53.6L185.0,51.9L195.1,53.2L201.9,52.3L206.5,54.5L206.5,59.8L213.2,64.2L215.5,67.7L211.0,71.2L201.9,71.2L195.1,72.5L187.2,72.5L180.4,69.9L178.6,66.0L188.3,65.5L178.2,60.7L174.8,58.9ZM160.1,57.6L164.6,61.1L171.4,59.8L179.3,55.0L182.7,51.4L178.2,47.5L169.1,46.6L162.3,49.2L163.5,54.1ZM213.2,49.2L220.0,48.8L224.6,51.4L224.6,54.5L225.7,58.5L220.7,60.7L216.6,56.7L211.7,54.1ZM228.0,48.8L235.9,48.8L240.4,49.7L234.7,54.5L231.3,57.6L228.0,56.7L228.4,53.2ZM218.9,70.8L224.6,67.3L228.0,69.5L226.8,72.5L221.2,73.0ZM179.3,40.9L183.8,37.8L190.6,38.7L197.4,36.5L205.3,40.4L204.2,44.4L197.4,45.7L188.3,47.0L183.8,44.4L179.3,43.5ZM165.7,39.1L172.5,34.3L180.4,33.4L181.6,36.9L177.0,40.0L170.2,40.4ZM208.7,37.4L216.6,36.9L223.4,39.1L222.3,43.5L216.6,44.4L211.0,42.6ZM225.7,42.2L231.3,41.8L232.5,44.4L230.2,46.2L225.7,44.4ZM226.8,37.4L235.9,37.4L242.7,40.0L254.0,40.9L263.0,42.2L264.2,45.3L258.5,46.6L244.9,46.6L235.9,45.7L235.2,41.8L229.1,40.4ZM260.8,50.1L267.6,50.6L272.1,53.6L264.2,54.1ZM235.9,16.7L244.9,13.6L258.5,9.2L274.4,8.8L290.2,9.2L303.8,11.4L298.1,15.8L290.2,18.9L281.1,23.7L273.2,26.8L273.2,30.3L266.4,34.7L266.4,37.8L258.5,38.2L249.5,38.2L241.5,37.8L244.9,33.4L250.6,31.2L246.1,28.6L249.5,25.5L254.0,23.7L247.2,20.7L240.4,20.2ZM226.8,22.4L234.7,17.1L240.4,20.2L247.2,23.3L247.2,28.1L239.3,29.9L233.6,26.8ZM206.5,26.8L217.8,27.7L224.6,27.7L226.8,31.2L220.0,32.5L209.8,33.0L206.5,29.9ZM186.1,27.7L194.0,27.7L197.4,30.3L195.1,33.4L187.2,32.5ZM225.7,32.1L232.5,31.6L233.6,33.8L226.8,34.3Z" fill="#D53E4F" style="stroke:#D53E4F;stroke-opacity:1;stroke-width:1"/>
<path d="M125.0,68.1L118.2,66.4L109.1,64.6L100.1,62.9L89.9,60.7L82.0,64.2L75.2,68.6L67.3,73.9L72.9,77.4L74.1,79.6L78.6,82.7L72.9,81.8L63.9,85.7L68.4,90.6L75.2,90.6L79.7,89.3L79.7,95.0L71.8,97.2L68.4,103.3L70.7,108.2L76.3,110.4L77.4,114.8L82.0,116.1L87.6,116.1L87.6,121.4L82.0,128.0L76.3,131.5L71.1,134.6L77.4,132.4L84.2,128.8L89.9,123.6L94.4,118.3L96.7,113.4L100.1,106.9L104.6,105.1L101.2,113.4L105.7,111.2L109.1,108.2L113.7,106.9L118.2,110.4L125.0,111.2L131.8,115.6L135.2,118.3L138.6,123.6L141.9,130.2L146.5,132.4L149.9,131.0L149.9,128.4L145.8,124.9L141.9,117.0L137.9,111.7L132.9,114.8L129.5,109.9L125.0,109.1ZM94.4,121.4L97.8,119.2L99.6,121.4L96.7,124.4ZM55.5,95.0L61.6,95.9L62.1,97.2L55.9,96.3ZM65.4,109.5L68.8,109.1L68.8,111.2L66.1,111.2ZM70.7,134.1L67.3,136.8L63.9,139.0L63.4,140.3L67.3,138.5L70.7,135.9ZM61.6,140.3L58.2,142.0L53.7,143.8L53.7,145.1L58.2,143.4L61.6,141.6ZM51.4,144.2L46.9,145.1L42.4,146.0L42.4,147.3L46.9,146.4L51.4,145.6ZM41.2,146.0L37.8,146.9L37.8,148.2L41.2,147.3Z" fill="#D53E4F"/>
<path d="M165.3,158.7L228.7,158.7L230.0,159.6L235.9,160.9L238.6,162.3L241.5,163.1L244.3,161.8L251.7,167.5L252.9,169.7L255.1,171.9L257.8,175.0L257.4,185.1L256.0,188.7L257.4,190.9L263.0,187.8L265.3,185.6L265.3,182.9L270.3,182.5L271.4,179.9L275.0,176.3L282.3,176.3L283.9,175.0L285.0,171.1L287.5,165.8L290.6,167.1L290.6,173.3L292.5,175.9L292.5,178.1L289.1,179.4L285.7,181.6L284.1,185.1L283.9,188.2L285.7,190.4L282.3,192.2L280.0,193.9L276.6,195.7L276.6,200.1L274.4,203.2L274.1,207.1L272.1,211.5L272.5,215.0L273.2,219.4L269.8,222.1L267.6,225.2L264.8,228.2L261.2,233.1L259.9,238.8L260.1,243.2L261.9,250.2L263.0,256.4L262.4,263.0L260.8,263.9L259.0,258.6L256.7,252.0L256.9,246.7L254.0,241.9L250.6,243.2L248.3,240.6L244.9,241.0L241.5,241.4L242.2,245.8L239.3,245.8L235.9,244.1L231.3,244.1L228.0,247.6L224.1,252.9L224.1,259.9L219.6,257.7L218.9,253.3L216.6,248.0L214.4,243.2L211.7,243.6L210.5,246.7L207.6,244.1L206.7,239.7L203.1,234.6L199.2,234.6L199.2,236.5L192.6,236.5L184.3,231.3L179.1,231.3L178.6,228.2L176.1,224.7L171.4,222.5L170.9,219.4L168.2,213.3L166.8,208.0L163.9,201.4L162.8,196.6L163.2,189.5L162.3,186.0L163.5,178.5L163.5,171.1L161.9,161.4L165.7,162.3L166.2,158.7ZM276.6,195.7L281.1,193.5L281.1,194.6L277.1,195.9Z" fill="#D53E4F"/>
<path d="M91.0,285.4L93.3,287.2L93.3,289.4L91.7,290.9L91.0,288.0ZM89.4,281.9L91.0,282.3L90.3,283.7ZM86.0,279.3L87.2,280.1L86.5,280.6ZM82.7,276.6L83.6,277.1L83.1,277.9Z" fill="#D53E4F"/>
<path d="M278.9,30.3L290.2,25.9L297.0,22.4L301.5,17.1L312.8,12.7L330.9,11.4L344.5,9.2L358.1,7.0L371.7,6.6L385.3,8.3L394.3,11.4L403.4,14.5L414.7,14.9L416.9,18.0L405.6,22.4L401.1,26.8L401.1,31.2L402.2,36.5L398.8,40.0L400.0,44.4L397.7,48.8L394.3,51.9L393.2,56.3L394.3,59.8L394.3,64.2L389.8,66.4L392.0,68.1L385.3,72.5L378.5,74.3L371.7,75.2L367.1,81.3L361.5,84.9L355.8,85.7L352.9,90.6L351.3,95.9L347.9,101.6L346.8,108.2L344.5,110.8L341.1,109.5L336.6,106.9L333.2,102.5L330.9,97.2L327.5,92.8L325.3,86.2L322.6,80.5L323.0,74.3L327.5,70.8L326.4,67.3L320.8,65.1L320.8,60.2L317.4,55.4L315.1,48.8L311.7,43.1L303.8,39.6L294.7,40.0L287.9,37.8L282.3,34.3L285.7,32.1Z" fill="#FC8D59"/>
<path d="M179.1,231.3L184.3,231.3L192.6,236.5L199.2,236.5L199.2,234.6L203.1,234.6L206.7,239.7L207.6,244.1L210.5,246.7L211.7,243.6L214.4,243.2L216.6,248.0L218.9,253.3L219.6,257.7L224.1,259.9L222.7,268.7L222.7,276.2L224.1,282.8L226.4,289.4L229.1,292.4L230.7,294.2L234.7,292.4L238.1,291.6L239.3,284.1L240.4,281.5L243.8,279.7L247.2,279.7L247.6,282.8L246.1,287.2L245.6,292.9L244.3,292.9L242.3,295.9L238.1,295.9L238.1,298.4L239.5,303.4L236.6,303.6L235.4,307.0L235.4,310.5L231.8,303.9L229.1,303.4L225.7,305.2L221.2,302.6L218.2,300.4L213.7,296.0L209.8,293.8L207.6,289.8L205.3,286.3L205.8,279.7L204.2,273.1L200.8,266.5L197.4,262.1L196.3,256.8L193.8,251.5L190.2,246.7L188.3,237.0L184.3,234.4L184.5,237.9L187.2,244.5L189.5,251.1L191.7,258.6L194.0,266.5L196.3,272.2L194.7,273.1L190.6,265.2L187.2,256.8L183.8,252.0L185.6,248.9L182.0,241.0Z" fill="#FC8D59"/>
<path d="M235.4,310.5L235.4,307.0L236.6,303.6L239.5,303.4L238.1,298.4L238.1,295.9L242.3,295.9L242.2,304.3L244.3,305.2L241.9,310.9L240.2,313.8Z" fill="#FEE08B"/>
<path d="M242.3,295.9L244.3,292.9L244.7,294.6L244.3,301.7L242.9,304.3L242.2,304.3Z" fill="#FEE08B"/>
<path d="M240.2,313.8L241.9,310.9L243.8,312.9L245.6,313.6L245.4,316.2L243.8,316.2Z" fill="#FC8D59"/>
<path d="M241.9,310.9L244.3,305.2L246.1,304.8L249.5,304.3L252.9,304.8L255.8,308.3L252.2,309.2L249.9,313.1L247.9,313.6L246.5,317.1L245.6,315.3L245.6,313.6L243.8,312.9Z" fill="#D53E4F"/>
<path d="M245.6,317.5L246.5,317.1L247.9,313.6L249.9,313.1L252.2,309.2L255.8,308.3L255.1,314.9L254.7,321.5L254.7,326.1L252.2,325.9L250.1,325.4L248.3,322.4Z" fill="#FC8D59"/>
<path d="M250.1,325.4L252.2,325.9L254.7,326.1L257.2,332.0L256.5,334.2L256.5,338.8L254.7,336.4L252.4,332.0L249.9,330.3L249.9,326.3Z" fill="#FC8D59"/>
<path d="M256.5,338.8L256.5,334.2L257.2,332.0L259.6,335.5L263.0,333.8L265.3,332.2L268.9,336.0L269.1,339.5L267.8,342.6L266.4,338.2L263.7,335.1L262.1,338.2L263.0,341.7L260.8,342.1L259.2,338.6Z" fill="#FC8D59"/>
<path d="M251.9,277.9L256.2,273.1L259.6,272.2L263.0,273.5L267.6,276.2L272.1,281.0L276.2,285.4L274.4,286.7L268.2,286.9L269.4,283.7L266.4,281.9L263.0,278.8L259.0,276.6L255.1,277.1Z" fill="#FEE08B"/>
<path d="M275.7,293.5L280.5,294.2L281.7,294.9L281.7,287.6L278.9,286.7L279.3,290.2L280.2,292.4L275.7,292.4Z" fill="#3288BD"/>
<path d="M281.7,294.9L282.5,296.8L285.7,293.8L289.1,294.2L289.3,292.0L286.8,289.4L284.5,287.2L281.7,287.6Z" fill="#FC8D59"/>
<path d="M266.9,293.3L271.4,294.6L270.3,296.0L267.1,295.1Z" fill="#FEE08B"/>
<path d="M292.0,292.9L295.6,293.3L295.2,295.1L292.0,295.3Z" fill="#FC8D59"/>
<path d="M266.9,256.8L268.7,256.8L268.7,258.1L266.9,257.7ZM267.1,263.9L268.2,266.1L268.5,268.3L267.1,267.4ZM268.9,263.9L271.6,263.4L271.6,265.2ZM277.3,281.5L278.9,281.0L278.4,282.3ZM272.7,267.8L273.2,265.6L273.8,267.8L273.2,270.0ZM273.9,271.8L274.4,270.0L274.8,271.8L274.4,273.5ZM275.5,274.9L276.2,273.8L276.8,274.9L276.2,276.0ZM278.2,275.7L278.9,274.9L279.6,275.7L278.9,276.6ZM268.9,259.9L269.4,257.7L269.8,259.9L269.4,262.1ZM280.5,278.4L281.1,277.7L281.8,278.4L281.1,279.0Z" fill="#7F7F7F"/>
<path d="M304.0,327.2L306.3,326.8L306.0,329.8L304.0,329.8Z" fill="#7F7F7F"/>
<path d="M303.9,303.0L304.8,301.7L305.7,303.0L304.8,304.3ZM304.5,306.5L305.2,305.2L306.0,306.5L305.2,307.8ZM305.4,309.8L306.0,308.3L306.7,309.8L306.0,311.4ZM305.5,313.1L306.0,311.8L306.6,313.1L306.0,314.4ZM305.1,316.0L305.6,314.9L306.0,316.0L305.6,317.1ZM308.8,316.4L309.3,315.3L309.9,316.4L309.3,317.5ZM304.0,321.0L304.5,319.9L304.9,321.0L304.5,322.1ZM303.7,299.0L304.2,298.2L304.8,299.0L304.2,299.9ZM301.5,298.2L302.1,297.3L302.6,298.2L302.1,299.0ZM296.8,293.8L297.4,293.1L298.1,293.8L297.4,294.4ZM300.9,294.6L301.4,294.0L301.9,294.6L301.4,295.3Z" fill="#7F7F7F"/>
<path d="M259.8,289.4L260.3,288.8L260.9,289.4L260.3,289.9ZM262.8,287.6L263.3,287.2L263.7,287.6L263.3,288.0Z" fill="#7F7F7F"/>
<path d="M327.3,355.8L329.8,365.5L331.2,369.9L329.8,374.2L334.3,376.4L336.6,376.9L341.1,380.4L343.8,385.7L346.8,384.8L350.2,387.0L353.6,386.6L357.0,390.5L360.4,395.8L364.4,397.6L365.3,405.9L364.9,413.4L361.9,420.4L359.7,424.8L357.0,431.4L355.8,440.2L355.6,452.1L354.0,460.5L352.9,463.5L351.3,471.0L349.0,475.2L346.3,475.4L342.3,478.0L339.1,479.8L335.5,485.5L334.1,490.8L334.1,498.7L330.9,506.2L326.2,515.9L323.2,522.7L323.7,518.1L321.9,514.5L318.3,509.9L315.5,506.6L313.7,507.1L317.4,499.6L319.6,496.5L322.3,493.7L322.6,489.5L320.5,486.8L321.2,479.8L318.7,479.4L318.0,472.3L313.3,471.4L313.1,465.3L312.5,462.9L314.0,454.3L311.9,450.3L312.1,445.9L307.8,445.9L307.2,434.9L303.8,431.9L300.4,429.2L296.3,424.8L296.1,416.9L293.4,417.8L288.6,422.6L286.6,422.4L284.3,422.6L284.3,416.0L280.7,418.2L280.5,416.0L278.4,415.6L276.8,406.4L278.4,400.6L279.3,396.7L285.7,393.6L285.8,392.7L287.0,379.1L285.7,375.1L286.1,370.7L286.1,366.8L290.2,366.3L292.7,369.0L295.9,370.3L300.6,364.6L299.2,363.3L298.1,355.8L301.5,356.7L304.2,355.3L306.7,351.4L308.1,354.0L309.0,354.9L309.2,358.4L308.5,362.8L309.0,366.3L310.8,368.8L316.2,365.7L317.4,365.5L320.5,363.9L325.1,363.3Z" fill="#FC8D59"/>
<path d="M268.9,336.0L270.3,339.1L273.0,332.5L273.2,327.6L274.8,325.4L278.4,324.6L281.1,321.5L282.7,319.7L282.7,322.4L280.5,325.4L278.9,332.5L280.2,337.7L281.1,343.5L285.7,343.5L291.3,347.0L290.6,355.8L291.6,361.1L292.0,365.5L292.7,369.0L290.2,366.3L286.1,366.8L286.1,370.7L285.7,375.1L287.0,379.1L285.8,392.7L284.1,391.0L285.6,386.1L279.1,384.8L276.6,378.6L273.7,374.7L271.4,372.5L268.7,371.2L265.8,368.1L266.4,363.3L269.4,357.5L268.7,350.1L268.9,344.8L267.8,342.6L269.1,339.5Z" fill="#FC8D59"/>
<path d="M282.7,322.4L281.8,325.9L282.7,330.3L281.8,333.3L283.4,333.3L283.4,328.1L285.2,324.6L285.7,320.6L286.3,323.7L289.5,325.9L290.2,328.1L294.7,327.6L298.1,329.8L303.8,327.2L302.0,328.5L306.0,332.5L307.2,336.9L308.5,337.7L306.7,341.3L305.1,348.1L306.7,351.4L304.2,355.3L301.5,356.7L298.1,355.8L299.2,363.3L300.6,364.6L295.9,370.3L292.7,369.0L292.0,365.5L291.6,361.1L290.6,355.8L291.3,347.0L285.7,343.5L281.1,343.5L280.2,337.7L278.9,332.5L280.5,325.4Z" fill="#7F7F7F"/>
<path d="M308.5,337.7L311.7,343.9L314.8,348.1L314.4,352.3L313.1,356.7L314.4,359.7L316.2,365.7L310.8,368.8L309.0,366.3L308.5,362.8L309.2,358.4L309.0,354.9L308.1,354.0L306.7,351.4L305.1,348.1L306.7,341.3Z" fill="#FEE08B"/>
<path d="M314.8,348.1L317.6,348.3L321.9,349.0L321.0,352.3L321.9,358.4L320.5,363.9L317.4,365.5L316.2,365.7L314.4,359.7L313.1,356.7L314.4,352.3Z" fill="#E6F598"/>
<path d="M321.9,349.0L324.4,350.5L327.3,355.8L325.1,363.3L320.5,363.9L321.9,358.4L321.0,352.3Z" fill="#7F7F7F"/>
<path d="M265.8,368.1L268.7,371.2L271.4,372.5L273.7,374.7L273.9,378.4L273.0,381.1L270.7,385.7L268.0,387.4L266.7,389.2L266.0,394.5L264.8,396.2L262.1,393.6L262.4,389.2L263.0,385.2L260.8,383.9L261.5,378.6L262.8,374.2L263.0,370.7Z" fill="#FC8D59"/>
<path d="M262.4,389.2L262.1,393.6L264.8,396.2L266.0,394.5L266.7,389.2L268.0,387.4L270.7,385.7L273.0,381.1L273.9,378.4L273.7,374.7L276.6,378.6L279.1,384.8L285.6,386.1L284.1,391.0L285.8,392.7L285.7,393.6L279.3,396.7L278.4,400.6L276.8,406.4L278.4,415.6L280.5,416.0L280.7,418.2L284.3,416.0L284.3,422.6L286.6,422.4L288.6,429.2L287.9,438.0L287.0,442.4L287.9,445.5L286.6,450.3L286.8,451.2L284.8,455.0L282.5,450.8L278.9,446.8L273.9,441.5L271.4,435.4L269.6,427.5L267.1,419.1L265.3,410.3L263.3,404.6L260.3,400.6L260.1,394.9Z" fill="#FC8D59"/>
<path d="M286.6,422.4L288.6,422.6L293.4,417.8L296.1,416.9L296.3,424.8L300.4,429.2L303.8,431.9L307.2,434.9L307.8,445.9L312.1,445.9L311.9,450.3L314.0,454.3L312.5,462.9L312.4,461.3L310.3,459.4L304.3,460.7L303.1,464.4L302.3,472.1L298.6,474.5L296.5,471.4L294.0,470.1L292.0,474.5L289.7,468.8L289.1,462.2L287.9,457.8L286.8,451.2L286.6,450.3L287.9,445.5L287.0,442.4L287.9,438.0L288.6,429.2Z" fill="#7F7F7F"/>
<path d="M312.5,462.9L313.1,465.3L313.3,471.4L318.0,472.3L318.7,479.4L321.2,479.8L320.5,486.8L320.3,491.7L317.6,494.5L316.2,495.2L311.5,494.3L313.7,485.5L306.0,478.9L302.3,472.1L303.1,464.4L304.3,460.7L310.3,459.4L312.4,461.3Z" fill="#FC8D59"/>
<path d="M323.2,522.7L319.8,528.0L316.9,527.7L313.1,525.8L311.9,523.3L312.4,517.2L313.3,510.6L313.7,507.1L315.5,506.6L318.3,509.9L321.9,514.5L323.7,518.1Z" fill="#FEE08B"/>
<path d="M302.3,472.1L298.6,474.5L296.5,471.4L294.0,470.1L292.0,474.5L292.5,479.8L289.3,482.0L289.5,492.6L286.6,499.2L285.7,506.2L285.0,512.8L285.7,520.7L286.1,525.1L284.8,532.6L283.4,539.2L283.2,545.8L281.8,552.4L281.6,559.0L281.8,567.8L282.7,574.4L281.6,578.8L280.5,585.4L278.2,592.0L278.9,597.7L280.5,598.5L281.1,602.9L285.7,602.9L289.3,604.7L287.9,601.2L287.9,595.5L290.9,591.1L294.9,584.9L291.3,577.9L292.5,573.0L295.9,571.7L296.5,564.7L300.2,561.6L297.0,559.8L297.0,553.7L301.5,555.0L303.3,552.8L303.1,545.3L308.3,545.3L314.0,541.4L315.8,534.3L314.4,530.4L311.9,526.4L311.9,523.3L312.4,517.2L313.3,510.6L313.7,507.1L317.4,499.6L319.6,496.5L322.3,493.7L322.6,489.5L320.5,486.8L320.3,491.7L317.6,494.5L316.2,495.2L311.5,494.3L313.7,485.5L306.0,478.9ZM288.8,605.8L289.6,607.8L292.0,611.7L296.5,614.6L293.6,616.4L288.8,615.7Z" fill="#FEE08B"/>
<path d="M284.8,455.0L286.8,451.2L287.9,457.8L289.1,462.2L289.7,468.8L292.0,474.5L292.5,479.8L289.3,482.0L289.5,492.6L286.6,499.2L285.7,506.2L285.0,512.8L285.7,520.7L286.1,525.1L284.8,532.6L283.4,539.2L283.2,545.8L281.8,552.4L281.6,559.0L281.8,567.8L282.7,574.4L281.6,578.8L280.5,585.4L278.2,592.0L278.9,597.7L280.5,598.5L281.1,602.9L285.7,602.9L289.3,604.7L283.6,606.5L282.3,610.9L277.7,607.3L275.5,600.7L273.2,592.0L273.2,581.0L276.6,574.4L278.2,565.6L279.3,559.0L277.1,558.1L277.7,550.2L277.3,541.4L278.4,537.4L279.8,530.4L282.0,519.4L282.3,508.4L282.7,505.8L284.1,493.0L284.5,486.0L284.8,477.6L285.4,466.6L285.2,463.1ZM288.8,605.8L284.5,606.5L284.8,611.3L281.1,613.5L285.7,617.0L288.8,615.7ZM276.8,558.5L277.7,560.3L277.5,565.1L275.7,564.2L276.2,559.8Z" fill="#FEE08B"/>
<path d="M306.0,600.3L309.4,599.9L313.3,601.2L311.7,603.8L307.2,603.8Z" fill="#7F7F7F"/>
<path d="M513.8,67.3L518.8,68.6L525.6,69.9L535.8,76.1L537.3,80.9L531.2,84.0L523.3,82.2L517.7,79.1L522.2,86.2L522.9,90.6L527.8,92.8L530.1,89.3L535.8,90.4L534.6,84.9L539.2,82.2L543.7,83.5L544.1,75.6L542.1,72.5L548.2,75.2L549.3,79.6L552.7,76.5L564.1,73.9L567.4,73.9L573.1,72.5L579.9,72.1L581.0,67.3L589.0,69.5L593.5,71.7L598.0,73.9L595.7,68.6L595.3,62.0L600.3,53.6L608.2,54.5L608.6,62.0L607.1,70.8L610.9,79.6L608.2,82.7L611.6,80.5L611.1,73.0L612.7,64.2L610.5,59.8L613.8,54.5L620.6,56.3L626.3,57.6L630.8,64.2L632.0,59.8L626.7,51.0L638.7,48.8L641.0,44.0L652.3,40.4L665.9,38.2L680.2,32.5L686.3,36.5L697.6,37.8L701.0,42.2L693.1,48.8L686.3,52.3L695.3,49.2L702.1,50.6L713.4,53.2L723.6,51.9L731.5,51.0L737.2,55.4L736.1,62.0L742.9,59.8L751.9,59.4L759.8,55.8L763.2,54.1L774.5,56.3L783.6,59.8L789.3,62.4L799.4,62.0L806.2,66.4L810.8,68.1L819.8,68.6L825.5,66.4L830.0,66.0L830.0,70.8L835.7,66.8L844.7,68.1L851.5,71.2L860.5,76.5L869.6,80.5L874.6,83.5L871.9,86.2L867.3,91.0L859.4,89.3L853.8,86.6L848.1,90.1L845.8,89.7L849.2,97.2L850.4,99.8L840.2,102.9L833.4,106.9L828.9,110.4L819.8,110.4L816.6,113.9L817.1,118.3L814.4,120.5L816.0,126.6L812.6,132.4L808.0,139.4L803.3,141.6L798.8,150.0L796.3,143.4L797.2,132.4L796.3,123.6L801.7,119.2L808.5,112.6L814.8,103.8L816.4,99.4L810.8,103.8L807.4,102.5L799.4,103.3L794.9,113.0L788.1,114.8L785.4,112.3L774.5,113.4L767.8,113.4L761.0,121.4L755.3,128.0L750.1,133.7L754.2,136.8L757.6,136.8L762.1,140.3L764.1,140.7L764.1,144.7L762.1,150.0L762.1,158.7L758.7,166.2L754.2,175.0L750.1,182.1L745.6,186.5L742.9,184.3L739.9,188.2L741.0,182.9L741.3,176.8L745.3,175.9L747.4,167.5L749.2,161.4L744.0,164.2L740.6,164.5L739.7,159.2L736.1,157.0L732.7,155.2L732.7,153.0L729.3,143.4L728.1,140.9L723.6,138.7L718.0,139.8L715.7,142.9L717.3,145.6L713.4,154.4L710.7,156.5L708.2,155.1L703.2,153.3L697.6,157.0L688.5,157.0L684.0,153.0L676.1,152.6L675.4,148.6L667.7,145.1L665.5,150.0L666.6,153.0L664.3,155.4L658.0,154.4L652.3,151.3L647.1,155.2L642.8,158.0L641.7,158.3L636.9,156.1L632.0,150.0L625.4,150.8L620.4,139.8L617.2,135.9L610.5,136.8L605.2,135.9L604.6,131.0L600.3,131.0L591.7,135.0L582.2,137.0L583.3,141.2L579.9,145.6L583.3,148.6L583.1,150.8L578.8,151.9L576.5,149.7L570.2,151.7L567.4,150.0L562.9,147.8L559.1,146.7L554.1,151.7L551.6,152.6L550.0,159.2L550.9,164.2L553.2,164.5L555.0,170.2L555.5,170.6L552.7,173.3L551.4,177.2L549.8,179.0L551.6,185.1L554.0,190.2L552.3,193.1L549.9,190.2L549.1,190.0L545.9,186.5L543.2,186.9L540.3,184.3L534.6,183.4L532.4,180.7L529.7,177.9L527.4,175.5L529.0,174.6L529.4,169.3L530.6,168.9L533.0,167.1L530.6,167.1L532.1,163.8L534.4,163.8L534.2,159.6L535.1,156.1L532.1,155.0L529.0,153.0L524.7,152.6L524.2,149.7L521.3,147.1L519.2,144.0L516.1,145.1L515.2,140.3L518.1,139.4L516.1,136.8L513.8,133.2L514.0,129.7L510.6,128.8L507.8,127.3L507.0,122.2L506.0,121.1L506.3,118.3L506.1,115.6L507.5,112.8L508.6,111.2L512.5,110.6L509.7,109.1L507.0,108.0L510.9,103.8L515.4,98.1L512.0,93.7L512.0,88.4L510.9,81.8L509.7,77.4L508.6,73.0L509.7,70.3L513.8,68.1ZM488.5,134.8L495.7,135.2L495.5,132.6L492.3,131.3L491.4,131.1L489.4,132.6L489.1,134.1ZM560.7,59.8L565.2,63.8L570.8,63.8L574.2,63.3L569.7,58.5L569.7,53.2L572.0,48.8L577.6,44.4L586.7,40.4L599.1,37.4L593.5,35.6L579.9,38.7L573.1,42.2L568.6,47.5L565.2,51.0L564.1,55.4ZM659.1,26.8L665.9,22.4L659.1,17.1L663.6,18.0L670.4,23.3L679.5,26.8L681.7,29.9L675.0,31.2L668.2,29.0ZM669.3,31.2L677.2,30.3L684.0,29.9L681.7,32.1L672.7,33.0ZM550.5,21.1L557.3,18.5L566.3,18.0L575.4,16.3L584.4,16.7L591.2,18.0L584.4,20.7L575.4,21.5L566.3,21.5L557.3,22.4ZM754.2,42.2L761.0,40.0L767.8,40.0L774.5,42.2L783.6,43.1L784.7,45.3L776.8,44.4L767.8,44.4L761.0,45.3L755.3,44.4ZM761.0,49.7L765.5,49.2L768.9,51.9L763.2,51.9ZM848.1,60.2L853.8,59.4L857.2,61.1L853.8,62.4L849.2,62.4ZM765.5,135.4L767.5,135.9L768.4,141.2L768.2,147.8L769.1,154.4L771.1,158.7L767.8,157.4L767.1,163.1L768.4,168.4L768.9,171.1L766.8,169.3L765.7,171.9L765.3,167.5L765.7,160.9L765.7,154.4L764.8,145.6L765.0,139.8ZM553.4,69.5L556.1,68.6L557.9,70.8L555.0,72.1ZM773.4,179.4L776.8,176.3L780.9,174.1L779.1,176.3L775.7,179.0ZM783.6,171.1L788.1,166.7L784.7,171.9ZM791.5,160.9L796.0,153.0L797.2,151.3L793.8,158.7ZM814.1,113.9L816.4,114.8L815.3,117.0Z" fill="#FC8D59"/>
<path d="M389.1,86.2L390.2,84.0L393.2,82.0L395.9,85.7L398.8,84.0L403.4,83.1L407.9,81.8L411.1,84.0L413.3,88.4L410.2,91.5L404.5,94.5L401.1,95.4L397.7,94.5L392.7,93.7L394.3,90.6L389.8,88.8L394.3,87.5Z" fill="#7F7F7F"/>
<path d="M421.9,147.8L420.8,145.1L422.8,142.5L421.5,139.0L421.5,135.9L424.9,135.0L425.3,131.9L427.6,131.0L427.6,132.4L425.8,134.6L427.6,136.3L429.8,136.5L430.3,139.8L430.1,144.2L429.6,144.7L426.0,146.4Z" fill="#7F7F7F"/>
<path d="M427.6,132.4L430.1,131.3L431.7,133.7L431.7,135.4L429.8,136.5L427.6,136.3L425.8,134.6ZM431.2,154.1L436.2,153.0L439.6,151.7L444.8,151.1L447.3,149.3L446.4,146.4L447.9,142.9L444.8,141.2L444.3,138.5L443.6,136.3L441.2,133.2L440.5,130.2L439.1,128.0L436.9,128.0L438.2,126.2L439.6,122.7L440.0,120.9L436.2,120.5L435.0,120.9L437.3,116.5L432.8,116.5L431.0,121.4L431.7,125.8L431.2,130.6L433.2,130.2L432.6,133.2L436.2,132.8L436.9,136.3L437.5,137.6L437.1,139.4L433.9,139.8L433.5,142.0L434.8,143.8L432.3,146.4L436.9,148.2L438.0,147.3L436.9,149.1L433.9,150.0ZM427.1,122.2L428.3,118.3L430.1,117.4L429.4,120.0ZM429.4,121.8L430.3,120.9L431.0,122.7L429.8,123.1ZM440.5,107.7L441.8,108.2L441.4,110.8L440.5,109.9ZM436.6,114.3L438.0,113.9L437.8,115.6L436.6,115.2Z" fill="#7F7F7F"/>
<path d="M469.4,114.8L467.9,113.4L465.6,115.6L462.2,118.7L459.3,118.7L456.5,115.2L455.4,108.6L455.4,102.5L458.8,98.5L463.3,95.0L467.6,93.2L470.1,88.8L472.4,84.0L475.8,78.3L479.2,73.9L483.7,69.5L487.1,66.8L492.8,65.5L497.3,62.9L502.5,61.6L507.5,62.0L514.3,64.6L513.8,67.3L513.8,68.1L509.7,70.3L507.5,66.4L502.9,66.8L502.3,69.9L497.3,72.1L492.8,69.9L490.5,70.6L489.4,73.4L484.8,73.0L481.4,77.4L479.2,82.7L476.9,87.1L475.1,90.6L471.7,95.0L471.7,101.6L472.6,106.0L471.7,110.4L470.6,112.1ZM473.5,75.2L476.9,73.9L480.3,71.2L478.0,72.1L474.7,74.3ZM469.0,26.8L470.1,23.3L475.8,23.3L480.3,22.4L483.7,24.6L487.1,27.7L492.8,28.6L487.1,31.2L482.6,36.9L478.0,35.6L475.8,32.1L471.3,29.0ZM484.8,21.5L489.4,20.2L498.4,21.1L505.2,22.4L496.2,25.0L489.4,24.2ZM491.6,30.3L496.2,31.2L497.3,33.4L492.8,33.8Z" fill="#D53E4F"/>
<path d="M469.4,114.8L469.4,117.8L471.3,121.8L473.1,126.6L473.3,130.6L476.5,130.2L476.9,127.5L480.3,127.1L481.4,121.4L481.9,117.0L486.0,113.4L486.7,109.5L483.0,106.9L483.3,100.3L486.0,96.7L490.5,93.7L492.8,89.3L494.6,85.3L498.8,84.9L497.7,81.8L498.0,77.4L493.9,73.0L490.5,70.6L489.4,73.4L484.8,73.0L481.4,77.4L479.2,82.7L476.9,87.1L475.1,90.6L471.7,95.0L471.7,101.6L472.6,106.0L471.7,110.4L470.6,112.1ZM485.3,123.6L486.7,119.6L487.6,119.6L486.7,122.2ZM481.2,127.1L482.8,122.2L482.3,124.9Z" fill="#7F7F7F"/>
<path d="M498.8,84.9L501.4,88.4L499.6,91.5L495.7,95.0L492.3,97.2L492.3,102.5L492.3,106.4L495.0,109.5L496.2,111.0L500.7,109.5L507.0,108.0L510.9,103.8L515.4,98.1L512.0,93.7L512.0,88.4L510.9,81.8L509.7,77.4L508.6,73.0L509.7,70.3L507.5,66.4L502.9,66.8L502.3,69.9L497.3,72.1L492.8,69.9L490.5,70.6L493.9,73.0L498.0,77.4L497.7,81.8Z" fill="#7F7F7F"/>
<path d="M463.6,132.8L462.7,129.7L462.4,125.8L462.7,123.6L465.6,122.7L468.1,120.3L467.6,125.8L468.8,126.6L467.2,128.4L466.3,131.0L465.6,133.0ZM469.0,129.3L472.4,127.5L472.6,129.7L471.7,132.4L469.4,131.5ZM466.3,130.2L468.5,130.2L468.3,132.4L466.7,131.9ZM469.0,132.8L471.3,133.2L470.8,134.1L469.0,133.7Z" fill="#D53E4F"/>
<path d="M463.6,132.8L465.6,133.0L466.7,134.6L469.0,135.0L469.0,136.8L472.4,135.0L474.7,134.1L476.2,137.2L476.5,141.2L477.1,143.4L477.4,146.4L478.0,150.0L476.5,149.7L473.5,152.2L471.7,153.0L472.6,156.5L475.3,159.6L474.4,161.4L473.1,162.7L473.6,165.3L471.7,164.9L467.9,165.8L465.8,165.1L463.6,164.0L461.3,164.9L461.3,161.8L462.7,158.7L458.6,156.8L457.9,153.7L457.7,151.1L458.1,148.2L457.7,146.2L459.5,145.1L459.9,142.9L460.4,140.1L459.9,138.1L462.9,138.5L463.6,137.2L464.5,136.8L463.8,135.0Z" fill="#7F7F7F"/>
<path d="M460.4,140.1L459.7,139.2L456.5,139.4L455.0,141.4L453.8,145.1L451.8,148.2L451.8,148.4L453.8,148.4L455.4,148.0L457.2,149.3L457.0,151.1L457.7,151.1L458.1,148.2L457.7,146.2L459.5,145.1L459.9,142.9Z" fill="#D53E4F"/>
<path d="M451.8,148.4L449.9,149.5L451.3,151.3L453.6,154.4L455.1,153.7L455.2,155.2L457.2,156.3L457.1,154.4L457.9,153.7L457.7,151.1L457.0,151.1L457.2,149.3L455.4,148.0L453.8,148.4Z" fill="#7F7F7F"/>
<path d="M457.2,156.3L457.1,154.4L457.9,153.7L458.6,156.8L457.7,156.8Z" fill="#7F7F7F"/>
<path d="M449.9,149.5L447.7,150.4L447.7,153.5L444.6,155.7L441.4,157.0L439.8,155.7L440.5,160.3L437.3,159.6L433.2,161.4L434.4,164.0L438.4,166.2L441.4,171.1L441.4,177.7L440.0,183.4L442.5,185.6L445.7,186.2L447.9,187.3L451.3,187.6L450.9,184.7L452.7,182.9L455.0,183.6L456.3,184.0L459.0,184.5L461.1,181.7L461.5,179.9L459.7,179.0L459.9,175.5L459.5,172.6L459.5,170.2L457.9,171.1L457.9,169.5L459.9,166.2L461.3,164.9L461.3,161.8L462.7,158.7L458.6,156.8L457.7,156.8L457.2,156.3L455.2,155.2L455.1,153.7L453.6,154.4L451.3,151.3ZM463.6,187.8L465.4,185.1L465.7,189.1L464.9,192.2L463.6,190.0Z" fill="#D53E4F"/>
<path d="M440.0,183.4L435.5,182.9L431.2,182.5L426.7,181.8L423.3,184.3L424.0,190.0L425.5,189.1L429.2,189.8L430.1,191.3L428.5,193.9L428.3,199.6L427.1,199.9L428.3,206.2L427.4,210.6L429.6,212.4L431.4,215.9L434.1,212.8L439.1,212.6L442.5,208.9L444.6,203.8L443.4,200.5L446.1,194.8L449.1,192.2L451.6,189.5L451.3,187.6L447.9,187.3L445.7,186.2L442.5,185.6ZM449.5,200.1L451.3,198.5L451.8,200.1L450.9,201.4ZM447.0,202.3L447.7,202.7L447.3,203.4ZM452.7,198.1L453.8,198.8L452.9,198.8Z" fill="#FC8D59"/>
<path d="M424.0,190.0L424.4,193.9L423.7,198.3L422.6,203.6L424.2,205.4L424.2,207.6L423.7,211.5L426.2,211.5L427.4,210.6L428.3,206.2L427.1,199.9L428.3,199.6L428.5,193.9L430.1,191.3L429.2,189.8L425.5,189.1Z" fill="#D53E4F"/>
<path d="M461.1,181.7L464.2,179.0L467.0,180.7L467.9,185.6L470.8,189.1L471.9,190.9L475.3,193.1L476.5,194.8L478.0,197.5L479.6,198.3L480.5,202.7L479.9,205.8L479.5,207.1L480.5,207.3L481.7,205.4L482.8,202.7L481.4,199.6L482.3,196.4L483.0,196.4L484.8,199.0L486.0,197.7L484.6,195.3L480.3,191.7L480.8,190.0L478.0,189.5L475.8,186.5L474.9,182.7L472.4,180.3L471.9,176.8L471.9,174.6L473.7,173.3L475.3,173.7L474.9,171.9L475.1,169.7L472.2,168.9L471.7,167.3L469.0,168.4L467.8,168.2L467.0,170.6L465.1,170.2L464.5,172.6L463.2,170.2L461.9,172.2L460.1,172.4L459.5,172.6L459.9,175.5L459.7,179.0L461.5,179.9ZM472.3,207.6L474.3,206.5L479.3,206.0L478.3,210.2L478.3,212.8L476.5,211.5L473.3,209.1ZM462.7,194.4L464.9,192.8L466.3,196.1L465.8,201.8L464.5,202.7L463.1,202.3L463.1,197.0Z" fill="#D53E4F"/>
<path d="M457.9,171.1L457.9,169.5L459.9,166.2L461.3,164.9L463.6,164.0L465.8,165.1L465.8,167.3L467.8,168.2L467.0,170.6L465.1,170.2L464.5,172.6L463.2,170.2L461.9,172.2L460.1,172.4L459.5,172.6L459.5,170.2Z" fill="#7F7F7F"/>
<path d="M465.8,165.1L467.9,165.8L471.7,164.9L473.6,165.3L473.1,162.7L474.4,161.4L475.3,159.6L477.4,160.5L478.0,158.7L480.5,159.8L482.5,160.5L482.9,163.1L482.8,164.5L481.4,165.3L481.4,167.5L480.5,168.2L479.5,168.9L477.1,170.2L475.1,169.7L472.2,168.9L471.7,167.3L469.0,168.4L467.8,168.2L465.8,167.3Z" fill="#7F7F7F"/>
<path d="M471.7,153.0L473.5,152.2L476.5,149.7L478.0,150.0L481.0,151.5L482.3,152.6L484.2,153.0L486.8,156.5L485.1,158.3L483.0,159.4L482.5,160.5L480.5,159.8L478.0,158.7L477.4,160.5L475.3,159.6L472.6,156.5Z" fill="#D53E4F"/>
<path d="M476.2,137.2L480.8,135.4L484.8,133.2L486.4,135.0L488.5,134.8L495.7,135.2L497.3,137.0L498.2,142.5L496.6,144.7L497.5,147.8L498.6,150.8L496.2,154.8L495.5,158.3L495.1,158.4L492.8,157.0L489.6,157.9L488.2,156.3L486.8,156.5L484.2,153.0L482.3,152.6L481.0,151.5L478.0,150.0L477.4,146.4L477.1,143.4L476.5,141.2Z" fill="#FC8D59"/>
<path d="M482.5,160.5L483.0,159.4L485.1,158.3L486.8,156.5L488.2,156.3L489.6,157.9L492.8,157.0L495.1,158.4L494.2,161.4L490.5,160.9L488.5,162.3L486.7,164.0L484.4,164.2L482.9,163.1Z" fill="#E6F598"/>
<path d="M482.9,163.1L484.4,164.2L486.7,164.0L488.5,162.3L490.5,160.9L494.2,161.4L495.9,163.1L493.9,164.9L492.3,169.3L489.9,171.5L486.9,172.4L484.2,172.2L482.3,170.4L481.2,169.3L480.5,168.2L481.4,167.5L481.4,165.3L482.8,164.5Z" fill="#E6F598"/>
<path d="M475.3,173.7L474.9,171.9L475.1,169.7L477.1,170.2L479.5,168.9L480.5,168.2L481.2,169.3L479.6,171.1L478.7,174.1L477.1,173.7L474.9,174.4Z" fill="#FC8D59"/>
<path d="M474.9,174.4L477.1,173.7L478.7,174.1L479.6,171.1L481.2,169.3L482.3,170.4L484.2,172.2L486.9,172.4L487.2,174.6L487.1,176.8L484.8,175.9L482.3,175.5L479.9,175.5L479.7,177.2L480.8,179.9L482.6,182.9L483.9,185.1L485.9,187.3L486.0,187.8L483.9,185.6L481.4,182.9L480.1,182.1L478.5,179.9L477.8,176.3L476.7,175.0L475.6,177.2L474.7,174.4Z" fill="#FC8D59"/>
<path d="M479.7,177.2L479.9,175.5L482.3,175.5L484.8,175.9L487.1,176.8L488.0,179.4L488.2,182.5L486.4,184.3L485.9,187.3L483.9,185.1L482.6,182.9L480.8,179.9Z" fill="#D53E4F"/>
<path d="M486.9,172.4L489.9,171.5L492.8,175.5L492.5,177.2L495.0,177.7L495.5,179.9L494.8,182.9L496.2,184.7L494.8,188.2L493.0,188.4L493.4,186.5L491.9,184.3L490.2,185.8L487.7,182.9L488.2,182.5L488.0,179.4L487.1,176.8L487.2,174.6Z" fill="#FEE08B"/>
<path d="M490.2,185.8L491.9,184.3L493.4,186.5L493.0,188.4L490.7,190.0L489.6,187.1Z" fill="#7F7F7F"/>
<path d="M485.9,187.3L486.4,184.3L487.7,182.9L490.2,185.8L489.6,187.1L488.5,187.3L487.9,190.2L486.0,187.8Z" fill="#7F7F7F"/>
<path d="M487.9,190.2L488.5,187.3L489.6,187.1L490.7,190.0L490.5,192.6L491.6,194.6L491.0,197.0L489.4,199.6L487.8,196.6L488.1,192.6Z" fill="#7F7F7F"/>
<path d="M490.7,190.0L493.0,188.4L494.8,188.2L496.2,190.9L495.9,192.4L495.5,193.3L493.7,194.2L491.6,194.6L490.5,192.6Z" fill="#7F7F7F"/>
<path d="M489.4,199.6L491.0,197.0L491.6,194.6L493.7,194.2L495.5,193.3L495.9,192.4L499.6,191.5L502.9,190.9L503.7,190.9L504.3,192.4L502.9,195.0L500.7,194.2L498.4,195.0L499.3,197.7L496.8,197.5L495.9,196.1L495.3,198.3L496.6,201.8L495.9,203.2L498.4,207.1L498.5,208.7L497.5,207.1L496.2,207.1L496.6,209.8L495.5,209.3L496.4,213.7L495.0,214.2L493.2,212.4L491.9,208.0L493.2,205.8L491.9,205.4L491.0,203.2L489.8,200.5ZM497.3,218.1L498.4,217.9L502.5,218.8L503.6,219.4L502.9,220.3L500.0,220.5L497.3,219.2ZM496.6,203.2L498.9,204.5L499.8,207.1L498.4,205.8ZM507.0,214.2L507.9,214.2L507.0,216.4ZM502.9,201.4L504.3,201.8L503.4,202.7ZM502.7,204.9L503.2,204.9L502.9,206.2ZM488.7,199.2L489.6,200.5L489.1,201.0ZM490.5,205.4L491.2,206.7L490.5,206.7Z" fill="#7F7F7F"/>
<path d="M495.5,179.9L498.4,182.1L501.8,182.3L505.2,180.1L508.8,181.8L507.2,184.3L506.3,187.3L507.5,189.5L505.9,189.1L503.7,190.9L502.9,190.9L499.6,191.5L495.9,192.4L496.2,190.9L494.8,188.2L496.2,184.7L494.8,182.9Z" fill="#FEE08B"/>
<path d="M489.9,171.5L492.3,169.3L493.9,164.9L495.9,163.1L499.6,163.4L504.3,162.0L506.3,165.3L507.7,168.0L507.9,174.1L511.1,175.0L511.1,177.2L509.1,179.9L508.8,181.8L505.2,180.1L501.8,182.3L498.4,182.1L495.5,179.9L495.0,177.7L492.5,177.2L492.8,175.5Z" fill="#D53E4F"/>
<path d="M504.3,162.0L507.0,161.2L510.0,163.4L510.2,165.8L512.2,170.2L509.5,170.0L509.6,171.9L507.9,174.1L507.7,168.0L506.3,165.3Z" fill="#FEE08B"/>
<path d="M497.5,147.8L499.1,146.9L501.8,146.0L507.0,147.8L510.4,148.2L513.4,148.6L514.0,145.1L516.1,145.1L519.2,144.0L521.3,147.1L524.2,149.7L524.7,152.6L529.0,153.0L532.1,155.0L535.1,156.1L534.2,159.6L534.4,163.8L532.1,163.8L530.6,167.1L527.4,168.6L523.8,171.5L523.3,173.3L526.9,174.6L524.2,176.3L522.2,179.0L519.7,178.5L517.7,174.8L520.1,171.5L516.5,171.1L515.4,169.3L513.7,169.7L512.9,171.9L511.3,174.6L511.1,175.0L507.9,174.1L509.6,171.9L509.5,170.0L512.2,170.2L510.2,165.8L510.0,163.4L507.0,161.2L504.3,162.0L499.6,163.4L495.9,163.1L494.2,161.4L495.1,158.4L495.5,158.3L496.2,154.8L498.6,150.8Z" fill="#FC8D59"/>
<path d="M497.3,137.0L500.7,136.3L502.5,132.8L504.3,131.0L504.3,129.3L507.8,127.3L510.6,128.8L514.0,129.7L513.8,133.2L516.1,136.8L518.1,139.4L515.2,140.3L516.1,145.1L514.0,145.1L513.4,148.6L510.4,148.2L507.0,147.8L501.8,146.0L499.1,146.9L497.5,147.8L496.6,144.7L498.2,142.5Z" fill="#D53E4F"/>
<path d="M492.3,131.3L491.7,127.7L493.9,126.2L500.5,126.2L504.3,129.3L504.3,131.0L502.5,132.8L500.7,136.3L497.3,137.0L495.7,135.2L495.5,132.6Z" fill="#D53E4F"/>
<path d="M491.7,127.7L491.6,124.4L492.8,121.1L495.3,120.3L496.6,123.6L498.6,123.3L499.2,119.7L501.4,119.2L504.1,121.1L506.0,121.1L507.0,122.2L507.8,127.3L504.3,129.3L500.5,126.2L493.9,126.2Z" fill="#D53E4F"/>
<path d="M499.2,119.7L499.6,117.6L497.3,116.1L497.3,113.9L500.1,112.8L502.9,112.1L507.5,112.8L506.1,115.6L506.3,118.3L506.0,121.1L504.1,121.1L501.4,119.2ZM493.4,117.8L496.2,116.5L496.6,117.4L494.3,119.2ZM494.3,115.2L496.2,114.8L495.7,116.1Z" fill="#D53E4F"/>
<path d="M502.9,195.0L504.3,192.4L503.7,190.9L505.9,189.1L507.5,189.5L510.0,192.8L514.9,193.5L519.5,189.5L523.5,189.3L526.3,192.6L531.0,194.2L534.6,193.9L538.1,191.7L540.3,192.0L542.4,193.5L543.0,197.9L545.5,199.6L544.6,201.0L543.7,201.0L544.8,205.8L544.4,207.6L545.5,210.9L543.9,210.2L540.0,211.1L536.9,211.1L532.4,212.8L528.1,213.1L527.0,214.8L526.0,216.6L525.5,216.4L526.0,213.3L524.4,213.5L522.4,212.4L520.4,215.3L518.3,215.7L516.5,213.5L513.6,212.2L512.9,214.8L510.0,213.1L507.9,212.4L506.1,211.5L505.7,207.6L503.6,205.8L505.0,205.1L504.5,201.4L503.2,200.5L503.4,198.3L506.3,196.6L509.7,196.4L510.2,194.6L507.5,194.2L505.2,195.9Z" fill="#D53E4F"/>
<path d="M517.2,220.1L518.8,218.8L522.3,217.5L521.1,220.3L518.8,222.1L517.4,221.4Z" fill="#D53E4F"/>
<path d="M534.6,183.4L540.3,184.3L543.2,186.9L545.9,186.5L549.1,190.0L549.8,192.6L545.9,192.6L542.4,193.5L540.3,192.0L538.1,191.7L538.3,188.7L536.9,185.4Z" fill="#D53E4F"/>
<path d="M542.4,193.5L545.9,192.6L547.1,195.3L548.0,197.5L549.3,200.5L549.3,203.2L548.4,203.4L547.1,200.5L545.5,199.6L543.0,197.9Z" fill="#D53E4F"/>
<path d="M549.1,190.0L549.9,190.2L552.3,193.1L554.0,190.2L555.5,193.9L557.9,196.6L556.1,197.7L555.7,201.4L554.8,205.1L552.7,203.4L553.4,201.0L550.5,201.6L549.3,203.2L549.3,200.5L548.0,197.5L547.1,195.3L545.9,192.6L549.8,192.6ZM545.5,199.6L547.1,200.5L548.4,203.4L546.9,202.7L545.8,201.0Z" fill="#D53E4F"/>
<path d="M405.9,249.3L407.7,248.7L406.5,251.1ZM408.3,250.7L409.2,250.7L409.0,252.2ZM411.7,248.5L412.9,248.0L412.2,250.7ZM412.9,245.8L413.8,245.8L413.1,247.1ZM403.4,247.6L404.0,247.6L403.8,248.9Z" fill="#7F7F7F"/>
<path d="M555.5,170.6L555.0,170.2L553.2,164.5L550.9,164.2L550.0,159.2L551.6,152.6L554.1,151.7L559.1,146.7L562.9,147.8L567.4,150.0L570.2,151.7L576.5,149.7L578.8,151.9L583.1,150.8L583.3,148.6L579.9,145.6L583.3,141.2L582.2,137.0L591.7,135.0L600.3,131.0L604.6,131.0L605.2,135.9L610.5,136.8L617.2,135.9L620.4,139.8L625.4,150.8L632.0,150.0L636.9,156.1L641.7,158.3L640.6,159.6L638.1,161.8L637.6,167.3L632.0,166.7L630.6,174.1L631.0,175.5L627.2,175.9L624.9,176.8L626.1,180.7L627.0,184.5L625.6,188.7L623.4,186.0L617.2,185.1L611.6,184.3L610.5,187.3L604.8,186.9L604.7,188.4L602.5,190.4L600.3,192.4L598.2,194.8L595.1,193.3L593.5,185.6L593.0,185.6L584.4,182.9L582.2,179.0L576.5,173.9L570.8,176.3L570.8,192.6L568.1,189.5L564.1,189.1L562.8,190.6L562.9,186.0L559.5,178.5L557.9,178.1L560.0,175.5L564.1,175.0L564.5,168.9L560.7,167.5Z" fill="#7F7F7F"/>
<path d="M570.8,192.6L570.8,176.3L576.5,173.9L582.2,179.0L584.4,182.9L593.0,185.6L593.5,185.6L595.1,193.3L598.2,194.8L600.3,192.4L602.5,190.4L604.7,188.4L605.5,188.7L606.4,191.7L609.5,194.6L608.0,196.4L606.4,197.7L603.7,196.6L603.4,193.9L600.9,195.0L600.3,197.5L599.4,197.9L598.0,200.5L596.6,201.4L597.6,203.2L598.2,205.4L597.6,210.6L594.6,210.0L592.6,206.2L589.0,202.9L585.3,198.3L584.2,193.5L580.1,192.2L579.9,188.7L576.7,186.5L574.9,188.7L573.1,192.6Z" fill="#7F7F7F"/>
<path d="M562.8,190.6L564.1,189.1L568.1,189.5L570.8,192.6L573.1,192.6L574.9,188.7L576.7,186.5L579.9,188.7L580.1,192.2L584.2,193.5L585.3,198.3L589.0,202.9L592.6,206.2L594.6,210.0L592.8,209.3L590.8,211.1L589.9,215.0L586.9,216.6L585.1,219.4L582.8,217.7L582.4,213.3L579.9,211.5L577.2,208.4L573.6,206.0L569.5,207.1L566.1,210.0L565.9,203.2L564.1,200.5L565.2,198.3L563.6,194.4L566.3,193.1Z" fill="#7F7F7F"/>
<path d="M604.7,188.4L604.8,186.9L610.5,187.3L611.6,184.3L617.2,185.1L623.4,186.0L625.6,188.7L621.5,192.2L617.9,193.9L616.1,196.6L613.4,196.1L611.1,199.2L610.8,200.7L606.6,201.4L600.9,200.3L601.6,197.5L603.7,198.1L603.7,196.6L606.4,197.7L608.0,196.4L609.5,194.6L606.4,191.7L605.5,188.7Z" fill="#7F7F7F"/>
<path d="M597.6,210.6L598.2,205.4L597.6,203.2L596.6,201.4L598.0,200.5L599.4,197.9L600.3,197.5L600.9,195.0L603.4,193.9L603.7,196.6L603.7,198.1L601.6,197.5L600.9,200.3L606.6,201.4L610.8,200.7L611.1,204.5L613.6,205.1L614.2,209.8L613.6,210.4L610.0,209.5L606.6,212.8L605.7,207.6L603.0,207.6L602.8,209.1L600.9,211.1Z" fill="#FC8D59"/>
<path d="M642.8,158.0L647.1,155.2L652.3,151.3L658.0,154.4L664.3,155.4L666.6,153.0L665.5,150.0L667.7,145.1L675.4,148.6L676.1,152.6L684.0,153.0L688.5,157.0L697.6,157.0L703.2,153.3L708.2,155.1L706.6,159.6L705.5,163.6L710.0,164.5L715.2,168.9L708.9,170.2L705.5,174.6L697.6,176.3L697.1,182.1L693.1,186.5L686.3,190.4L681.7,191.3L672.7,186.9L663.6,186.2L662.1,186.0L660.2,179.9L655.7,176.3L649.8,175.0L648.9,165.3L644.4,161.8Z" fill="#D53E4F"/>
<path d="M739.7,187.8L737.9,185.6L733.8,189.5L731.3,190.6L727.7,195.5L725.5,198.5L720.2,202.5L718.4,203.8L719.1,200.1L720.7,195.7L718.0,194.6L714.6,199.0L710.7,202.3L713.2,209.3L713.9,210.9L717.5,208.0L721.6,210.2L718.0,213.3L716.4,215.7L714.1,220.3L716.8,226.9L719.8,234.0L720.0,238.4L717.7,241.0L720.0,242.7L719.3,249.8L717.1,253.3L714.8,260.3L712.5,266.1L708.2,271.8L702.8,275.7L701.0,276.6L697.1,279.3L694.0,280.6L693.7,285.0L692.4,280.1L688.5,279.5L685.6,277.5L685.4,273.5L682.4,271.8L679.3,275.1L675.3,275.5L674.5,281.0L673.0,279.5L673.0,281.2L670.4,278.8L668.6,276.6L669.1,272.7L667.5,268.7L665.0,268.7L667.3,260.8L667.5,252.9L664.4,250.0L661.4,245.4L658.0,245.8L652.3,252.0L651.5,252.2L650.1,251.1L647.8,249.8L645.5,253.3L645.3,254.2L643.6,251.6L640.8,251.2L638.1,249.8L634.2,245.8L629.7,241.0L627.5,241.4L624.0,237.9L622.2,235.7L621.5,231.3L623.6,230.9L622.7,227.8L623.8,223.0L620.6,218.1L616.6,216.8L614.8,211.7L612.8,211.4L613.6,210.4L614.2,209.8L613.6,205.1L611.1,204.5L610.8,200.7L611.1,199.2L613.4,196.1L616.1,196.6L617.9,193.9L621.5,192.2L625.6,188.7L627.0,184.5L626.1,180.7L624.9,176.8L627.2,175.9L631.0,175.5L630.6,174.1L632.0,166.7L637.6,167.3L638.1,161.8L640.6,159.6L641.7,158.3L642.8,158.0L644.4,161.8L648.9,165.3L649.8,175.0L655.7,176.3L660.2,179.9L662.1,186.0L663.6,186.2L672.7,186.9L681.7,191.3L686.3,190.4L693.1,186.5L697.1,182.1L697.6,176.3L705.5,174.6L708.9,170.2L715.2,168.9L710.0,164.5L705.5,163.6L706.6,159.6L708.2,155.1L710.7,156.5L713.4,154.4L717.3,145.6L715.7,142.9L718.0,139.8L723.6,138.7L728.1,140.9L729.3,143.4L732.7,153.0L732.7,155.2L736.1,157.0L739.7,159.2L740.6,164.5L744.0,164.2L749.2,161.4L747.4,167.5L745.3,175.9L741.3,176.8L741.0,182.9L739.9,188.2ZM690.1,289.4L691.9,286.3L694.6,285.9L695.3,288.0L693.1,293.3L691.9,294.2L690.1,292.9Z" fill="#FEE08B"/>
<path d="M718.0,264.3L720.0,263.9L719.1,268.7L717.7,277.5L716.1,274.0L715.9,270.9L717.3,266.1Z" fill="#FEE08B"/>
<path d="M725.5,198.5L727.7,195.5L731.3,190.6L733.8,189.5L737.9,185.6L739.7,187.8L739.9,188.2L737.7,192.2L737.7,194.6L734.5,198.3L732.7,199.2L732.7,201.4L734.6,204.5L731.8,205.8L730.9,208.0L727.7,208.4L726.3,206.7L727.5,204.0L727.7,201.0Z" fill="#3288BD"/>
<path d="M730.9,208.0L731.8,205.8L734.6,204.5L737.0,211.5L737.3,215.9L736.7,219.0L733.8,221.0L730.4,223.2L730.2,218.1L730.4,212.8L730.6,211.5L729.5,208.4ZM729.7,227.4L731.3,226.9L730.6,228.2Z" fill="#FC8D59"/>
<path d="M763.0,191.7L764.4,196.1L765.5,200.1L764.4,205.8L763.2,211.5L762.3,214.6L763.0,217.2L760.7,220.3L760.5,217.7L759.2,219.4L758.2,221.9L756.9,222.1L754.2,222.1L753.9,220.3L753.0,223.4L751.5,227.1L749.9,223.8L750.6,221.9L747.4,222.1L744.0,223.4L740.6,224.9L740.6,223.0L744.0,218.6L745.6,217.9L748.5,217.7L751.9,217.2L752.4,214.6L753.7,211.5L754.9,209.3L754.6,212.4L757.6,209.8L759.6,205.8L761.0,199.2L761.0,195.7L761.6,193.1ZM761.4,191.7L761.0,187.3L762.1,183.8L764.1,183.8L764.8,174.6L767.8,178.5L770.7,180.7L773.0,179.4L773.6,183.8L770.0,185.4L768.4,189.5L765.0,186.9L763.0,187.8L763.2,190.6ZM744.0,226.5L745.1,224.7L748.1,223.2L749.0,225.6L747.8,228.0L745.6,227.4L745.1,230.2L743.8,229.1ZM740.4,225.2L742.2,226.5L742.9,230.0L741.7,235.3L740.6,237.9L739.0,236.6L738.8,232.2L737.7,230.4L737.9,227.4L739.2,226.5ZM733.1,259.0L734.5,256.4L733.8,258.6ZM738.3,249.3L737.2,249.8L737.0,250.7Z" fill="#FEE08B"/>
<path d="M598.5,270.0L600.0,276.2L602.5,281.9L604.8,283.2L607.3,281.0L608.4,276.2L608.9,281.9L608.9,290.7L610.0,299.5L611.1,306.5L613.4,317.5L615.7,325.0L616.8,330.7L618.4,337.7L619.6,338.7L621.1,335.1L622.9,333.3L624.9,329.0L624.8,323.7L625.8,316.6L625.4,308.3L627.4,304.8L630.4,301.2L632.6,296.4L636.5,289.4L639.6,286.3L641.0,283.2L641.2,279.7L643.7,279.3L645.8,278.4L645.3,272.2L644.9,267.4L643.5,266.1L644.2,263.4L645.3,263.0L644.2,258.6L644.4,257.7L647.3,259.9L647.3,263.0L653.2,264.1L652.8,266.9L650.5,268.7L650.5,270.9L651.6,273.1L652.1,270.5L653.0,270.0L653.7,277.7L655.0,276.6L655.5,269.1L657.2,269.4L658.4,263.4L659.6,256.8L663.6,255.1L664.4,250.0L661.4,245.4L658.0,245.8L652.3,252.0L651.5,252.2L652.5,256.2L647.5,256.8L645.3,255.7L645.3,254.2L643.6,251.6L643.5,257.9L638.3,257.3L634.4,253.3L632.6,254.0L629.5,251.5L625.4,247.6L625.8,243.4L627.5,241.4L624.0,237.9L622.2,235.7L621.5,231.3L623.6,230.9L622.7,227.8L623.8,223.0L620.6,218.1L620.2,218.1L618.1,221.9L615.7,222.5L611.6,221.6L611.4,226.0L612.7,230.0L614.8,232.2L612.9,237.5L611.4,242.3L609.1,247.1L606.8,251.5L603.4,251.1L601.6,254.6L603.0,257.7L602.8,261.2L604.6,266.9L599.8,267.4ZM653.9,314.9L654.6,315.8L654.4,322.4L653.7,322.8L653.7,318.0ZM656.2,342.1L656.6,343.5L656.4,344.3Z" fill="#D53E4F"/>
<path d="M583.5,263.4L590.1,263.2L594.6,262.5L596.6,268.7L598.5,270.0L599.8,267.4L604.6,266.9L602.8,261.2L603.0,257.7L601.6,254.6L603.4,251.1L606.8,251.5L609.1,247.1L611.4,242.3L612.9,237.5L614.8,232.2L612.7,230.0L611.4,226.0L611.6,221.6L615.7,222.5L618.1,221.9L620.2,218.1L616.6,216.8L614.8,211.7L612.8,211.4L609.3,212.2L606.2,214.2L605.2,216.1L606.2,219.4L605.0,223.8L602.5,224.7L602.5,228.2L601.2,230.4L600.9,234.0L598.2,234.8L595.1,237.0L594.2,242.7L589.2,244.9L585.6,244.9L581.9,242.9L584.0,248.5L586.2,250.0L586.2,254.4L587.4,257.3L585.1,258.1Z" fill="#D53E4F"/>
<path d="M581.9,242.9L585.6,244.9L589.2,244.9L594.2,242.7L595.1,237.0L598.2,234.8L600.9,234.0L601.2,230.4L602.5,228.2L602.5,224.7L605.0,223.8L606.2,219.4L605.2,216.1L606.2,214.2L609.3,212.2L612.8,211.4L613.6,210.4L610.0,209.5L606.6,212.8L605.7,207.6L603.0,207.6L602.8,209.1L600.9,211.1L597.6,210.6L594.6,210.0L592.8,209.3L590.8,211.1L589.9,215.0L586.9,216.6L585.1,219.4L582.8,217.7L581.0,224.7L581.3,229.1L581.8,235.7L584.0,236.4L584.0,238.6Z" fill="#99D594"/>
<path d="M625.4,247.6L625.8,243.4L627.5,241.4L629.7,241.0L634.2,245.8L638.1,249.8L640.8,251.2L643.6,251.6L643.5,257.9L638.3,257.3L634.4,253.3L632.6,254.0L629.5,251.5Z" fill="#FC8D59"/>
<path d="M645.3,254.2L645.5,253.3L647.8,249.8L650.1,251.1L651.5,252.2L652.5,256.2L647.5,256.8L645.3,255.7Z" fill="#D53E4F"/>
<path d="M645.8,278.4L645.3,272.2L644.9,267.4L643.5,266.1L644.2,263.4L645.3,263.0L644.2,258.6L644.4,257.7L647.3,259.9L647.3,263.0L653.2,264.1L652.8,266.9L650.5,268.7L650.5,270.9L651.6,273.1L652.1,270.5L653.0,270.0L653.7,277.7L653.0,283.2L651.9,276.2L649.6,275.7L648.5,277.9Z" fill="#FEE08B"/>
<path d="M624.5,338.2L625.2,331.1L627.2,334.7L629.2,341.3L628.8,345.7L626.5,348.1L625.2,347.0L624.7,343.5Z" fill="#FC8D59"/>
<path d="M653.0,283.2L653.7,277.7L655.0,276.6L655.5,269.1L657.2,269.4L658.4,263.4L659.6,256.8L663.6,255.1L664.4,250.0L667.5,252.9L667.3,260.8L665.0,268.7L667.5,268.7L669.1,272.7L668.6,276.6L670.4,278.8L673.0,281.2L670.7,284.8L668.2,285.9L665.9,287.6L665.2,292.9L665.5,296.8L667.3,301.7L666.4,307.4L668.4,313.6L668.6,319.3L669.5,322.4L667.7,328.1L667.1,330.4L667.0,322.4L667.3,317.1L666.1,312.7L665.2,304.3L665.0,301.7L663.6,299.5L661.8,301.7L659.8,304.8L657.5,303.9L658.0,297.3L656.9,290.7L655.3,286.3Z" fill="#3288BD"/>
<path d="M670.7,284.8L671.6,285.6L671.8,288.5L673.1,288.3L672.7,295.1L672.9,297.3L675.2,294.2L676.5,295.7L678.1,293.3L681.1,297.7L681.3,302.6L683.1,307.0L682.2,311.1L677.2,311.6L676.1,314.7L676.1,318.6L677.0,323.0L675.4,320.6L672.7,318.6L672.5,315.1L670.4,315.3L670.4,321.5L668.6,328.1L668.8,333.3L670.4,336.9L671.3,342.6L674.5,345.9L675.2,346.8L672.9,349.4L670.9,344.8L670.7,345.9L669.8,343.9L668.4,339.9L666.6,339.5L666.6,335.1L667.1,330.4L667.7,328.1L669.5,322.4L668.6,319.3L668.4,313.6L666.4,307.4L667.3,301.7L665.5,296.8L665.2,292.9L665.9,287.6L668.2,285.9Z" fill="#3288BD"/>
<path d="M670.7,284.8L673.0,281.2L673.0,279.5L674.5,281.0L675.3,275.5L677.0,278.8L677.2,282.3L680.8,284.5L679.5,288.9L682.2,292.4L685.4,299.5L687.6,307.4L687.5,309.6L684.0,311.1L682.2,311.1L683.1,307.0L681.3,302.6L681.1,297.7L678.1,293.3L676.5,295.7L675.2,294.2L672.9,297.3L672.7,295.1L673.1,288.3L671.8,288.5L671.6,285.6Z" fill="#3288BD"/>
<path d="M688.5,279.5L686.3,281.9L685.6,283.2L683.6,289.4L685.1,296.4L687.0,300.4L689.2,303.4L691.3,310.5L691.5,319.3L690.8,324.1L686.7,328.5L685.4,332.0L681.7,336.4L681.5,331.1L680.5,328.5L682.0,326.1L684.5,325.4L683.8,322.8L687.4,320.2L687.5,309.6L687.6,307.4L685.4,299.5L682.2,292.4L679.5,288.9L680.8,284.5L677.2,282.3L677.0,278.8L675.3,275.5L679.3,275.1L682.4,271.8L685.4,273.5L685.6,277.5Z" fill="#7F7F7F"/>
<path d="M677.0,323.0L676.1,318.6L676.1,314.7L677.2,311.6L682.2,311.1L684.0,311.1L687.5,309.6L687.4,320.2L683.8,322.8L684.5,325.4L682.0,326.1L680.5,328.5L678.6,328.1L677.4,325.9Z" fill="#3288BD"/>
<path d="M670.7,345.9L670.9,344.8L672.9,349.4L675.2,346.8L678.1,354.5L678.4,361.9L680.2,368.1L678.4,368.5L675.4,364.6L673.4,361.5L672.0,356.7L671.2,350.5ZM692.3,365.2L695.8,367.7L696.2,363.3L699.9,360.2L702.1,354.5L705.5,352.3L706.9,347.9L708.5,343.5L710.5,346.1L711.4,348.7L713.9,351.8L711.6,354.9L710.3,356.0L706.4,355.1L705.7,359.3L704.4,361.9L703.9,365.9L701.9,368.1L698.0,368.1L694.4,370.5Z" fill="#99D594"/>
<path d="M702.3,354.0L705.1,352.5L704.8,355.3L703.5,356.7Z" fill="#FEE08B"/>
<path d="M659.8,349.6L664.8,351.4L666.6,356.2L668.2,358.4L671.3,364.1L673.8,366.8L677.2,371.6L679.0,376.9L680.6,382.2L684.0,387.4L683.8,394.0L683.6,400.0L680.8,399.8L680.2,396.2L675.6,391.4L672.7,384.4L671.3,378.4L668.4,372.9L667.5,366.8L664.1,360.2L661.6,355.8ZM682.2,404.2L684.2,400.2L685.8,401.1L689.9,403.7L694.0,404.8L695.3,402.4L699.2,405.9L703.0,408.6L703.0,412.5L699.2,411.2L694.2,409.9L689.7,408.6L685.1,406.8ZM692.3,365.2L694.4,370.5L698.0,368.1L701.9,368.1L703.9,365.9L704.4,361.9L705.7,359.3L706.4,355.1L710.3,356.0L710.7,361.1L713.2,369.9L710.9,370.7L710.0,377.8L708.2,380.0L707.3,385.2L706.6,390.1L703.5,392.5L699.9,388.3L697.1,389.6L693.5,387.0L693.1,380.0L691.0,375.6L690.8,369.0ZM715.2,370.7L717.7,368.5L722.5,370.1L726.6,367.2L727.5,368.1L725.4,372.5L722.5,372.1L718.0,372.3L715.9,374.2L715.7,377.8L718.6,378.2L723.2,377.3L723.4,378.6L719.8,381.7L720.7,387.4L722.9,392.7L722.0,395.8L719.3,395.4L719.1,391.4L717.7,386.1L716.4,387.4L716.6,395.4L716.6,398.9L714.6,398.4L714.3,391.8L713.0,386.6L713.9,382.2L715.0,374.7ZM740.6,377.8L744.0,375.8L747.4,377.8L748.5,385.2L750.8,389.2L753.0,383.9L756.4,381.3L759.8,383.9L763.2,385.7L763.2,414.3L760.7,409.9L756.4,411.2L758.0,405.0L756.4,398.4L751.9,394.0L747.4,391.4L744.9,391.8L742.9,387.0L746.3,385.2L742.9,383.0L740.6,380.8ZM723.6,419.5L724.7,415.2L727.0,413.4L727.2,415.6L725.7,418.9ZM703.2,410.3L706.0,411.2L704.8,413.0ZM706.6,411.2L708.2,411.2L707.8,413.4L706.6,413.0ZM708.5,412.1L713.4,410.8L713.4,413.0L708.9,413.8ZM715.5,411.2L722.3,410.3L722.0,412.5L715.5,413.0ZM713.4,416.0L717.5,417.8L716.1,419.5L713.4,417.4ZM733.8,387.4L740.1,388.8L739.5,390.1L733.8,389.2ZM729.3,388.3L732.0,388.8L731.1,391.0L729.3,390.1ZM732.7,366.3L733.8,364.6L735.4,369.9L733.8,372.5L735.6,372.9L733.8,377.8L733.1,372.1ZM682.2,381.3L685.6,385.2L685.1,387.4L682.9,383.9ZM687.6,385.7L689.2,387.0L688.5,388.3L687.6,387.4ZM664.1,368.1L665.7,371.6L664.8,370.3ZM667.3,378.6L668.8,382.2L667.9,381.3ZM725.4,410.8L727.2,410.3L725.9,411.6ZM740.6,407.2L742.2,405.9L742.0,409.4L740.8,409.4ZM747.8,399.8L749.2,400.2L748.5,404.2L747.6,402.8ZM721.4,396.2L722.9,397.1L721.8,398.9ZM750.8,377.3L753.0,378.6L751.9,379.5ZM738.8,374.7L741.0,375.6L739.5,376.0Z" fill="#3288BD"/>
<path d="M727.0,413.4L729.3,411.6L732.2,411.2L730.4,413.8L727.2,415.6Z" fill="#3288BD"/>
<path d="M717.1,292.9L720.2,292.9L720.9,298.2L719.3,304.3L719.3,311.4L721.8,311.4L725.0,317.1L724.7,319.1L723.2,316.2L720.9,314.9L718.0,314.0L717.1,311.4L717.7,310.0L716.6,310.0L715.5,304.8L715.2,302.6L716.4,303.4L716.6,297.3ZM720.2,343.5L722.0,338.6L724.3,339.1L726.3,336.9L728.1,334.7L728.1,331.1L730.0,335.1L730.4,342.1L729.7,346.5L728.6,343.5L727.9,347.9L727.7,349.6L725.2,347.0L724.7,342.1L723.4,341.7L722.3,341.7ZM725.4,319.3L727.7,319.7L728.6,325.4L727.0,325.0ZM725.7,324.1L727.0,325.9L727.5,329.4L726.6,330.3ZM722.3,326.3L723.6,326.8L722.9,334.2L721.6,332.9L721.1,330.3ZM720.2,321.9L722.7,323.7L721.6,327.6L720.0,328.1ZM723.4,328.1L724.7,325.0L724.1,330.3L723.2,332.5ZM714.3,324.6L715.0,328.1L712.3,333.3L709.4,337.7L709.6,336.4L712.8,330.3ZM716.6,315.3L718.9,315.8L719.1,319.7L718.4,320.6L717.3,318.0ZM724.3,330.7L725.9,330.3L725.7,332.0ZM722.9,319.7L724.7,321.5L723.2,321.9Z" fill="#3288BD"/>
<path d="M525.5,216.4L526.0,216.6L527.0,214.8L528.1,213.1L532.4,212.8L536.9,211.1L540.0,211.1L537.6,213.7L537.8,217.7L536.9,223.0L531.9,227.5L527.4,232.2L525.0,230.2L525.2,227.4L526.9,223.8L526.5,222.1L525.5,221.9L525.0,218.1Z" fill="#D53E4F"/>
<path d="M523.5,228.7L525.2,227.4L526.9,223.8L526.5,222.1L525.5,221.9L524.4,225.2Z" fill="#D53E4F"/>
<path d="M521.6,236.6L523.1,244.5L524.2,237.9L524.6,231.8L525.0,230.2L525.2,227.4L523.5,228.7L523.2,230.0L522.6,233.5Z" fill="#3288BD"/>
<path d="M523.2,244.9L524.2,237.9L524.6,231.8L525.0,230.2L527.4,232.2L531.9,227.5L532.8,232.9L527.8,235.7L530.1,240.1L529.0,242.3L527.3,243.0L525.8,245.8Z" fill="#FC8D59"/>
<path d="M540.0,211.1L543.9,210.2L545.5,210.9L546.9,215.9L548.2,217.2L548.7,219.9L547.1,222.5L547.1,225.2L548.4,228.7L551.4,231.8L552.3,234.4L552.1,237.9L552.7,240.1L554.0,242.5L552.7,242.3L552.1,241.9L550.5,242.5L549.5,246.3L545.3,245.8L539.4,237.5L535.5,233.7L532.8,232.9L531.9,227.5L536.9,223.0L537.8,217.7L537.6,213.7Z" fill="#E6F598"/>
<path d="M549.5,246.3L550.5,242.5L552.1,241.9L552.7,242.3L552.7,245.4L553.6,248.7L551.8,248.7L551.5,246.7Z" fill="#7F7F7F"/>
<path d="M523.2,244.9L525.8,245.8L527.3,243.0L529.0,242.3L530.1,240.1L527.8,235.7L532.8,232.9L535.5,233.7L539.4,237.5L545.3,245.8L549.5,246.3L551.5,246.7L551.8,248.7L553.6,248.7L554.5,252.4L556.6,255.9L557.7,257.3L557.7,261.2L559.1,265.4L560.0,266.1L560.9,267.6L561.8,273.1L568.8,274.9L569.0,274.4L570.2,277.5L568.6,286.3L561.8,290.7L555.0,292.4L551.6,299.0L548.9,298.6L544.8,297.7L542.1,297.7L541.9,300.8L541.0,302.1L540.3,297.3L537.3,290.7L534.6,285.0L532.7,279.7L531.2,270.9L528.3,264.3L526.7,259.9L524.4,253.3L522.4,250.7Z" fill="#D53E4F"/>
<path d="M541.0,302.1L541.9,300.8L542.1,297.7L544.8,297.7L548.9,298.6L551.6,299.0L555.0,292.4L561.8,290.7L564.3,301.0L562.2,305.6L555.0,312.7L551.6,314.9L545.9,318.2L542.6,318.6L541.9,315.8L541.4,310.5L540.7,306.1ZM565.0,318.8L567.4,319.1L565.9,320.2Z" fill="#99D594"/>
<path d="M564.3,301.0L561.8,290.7L568.6,286.3L570.2,277.5L569.0,274.4L570.4,268.7L570.8,264.7L571.8,264.5L573.1,268.7L576.7,270.5L579.4,275.3L577.0,284.1L574.9,290.7L574.7,291.1L572.0,295.1L569.3,297.3L566.5,299.5ZM571.1,259.9L572.0,258.6L571.8,261.7Z" fill="#7F7F7F"/>
<path d="M560.9,267.6L561.8,273.1L568.8,274.9L569.0,274.4L570.4,268.7L570.8,264.7L571.8,264.5L571.5,261.7L571.1,259.9L569.3,263.0L567.2,266.5L564.1,268.0Z" fill="#D53E4F"/>
<path d="M559.1,265.4L559.0,262.1L560.0,259.2L560.9,260.8L560.9,264.3L560.0,266.1Z" fill="#7F7F7F"/>
<path d="M545.5,199.6L546.9,202.7L548.4,203.4L549.3,203.2L550.5,201.6L553.4,201.0L552.7,203.4L554.8,205.1L555.2,208.9L557.7,209.8L559.5,212.4L562.9,212.8L566.1,212.0L566.1,210.0L569.5,207.1L573.6,206.0L577.2,208.4L579.9,211.5L582.4,213.3L582.8,217.7L581.0,224.7L581.3,229.1L581.8,235.7L584.0,236.4L584.0,238.6L581.9,242.9L584.0,248.5L586.2,250.0L586.2,254.4L587.4,257.3L585.1,258.1L583.5,263.4L578.8,262.5L574.9,261.2L573.1,255.5L571.5,254.8L567.9,257.5L564.1,255.5L560.7,251.8L559.1,247.1L557.5,241.7L555.0,240.6L554.0,242.5L552.7,240.1L552.1,237.9L552.3,234.4L551.4,231.8L548.4,228.7L547.1,225.2L547.1,222.5L548.7,219.9L548.2,217.2L546.9,215.9L545.5,210.9L544.4,207.6L544.8,205.8L543.7,201.0L544.6,201.0Z" fill="#7F7F7F"/>
<path d="M439.1,219.9L441.8,217.2L444.3,215.9L447.0,213.7L451.0,212.4L455.6,212.4L459.7,212.0L461.8,212.0L463.6,211.7L462.9,215.9L462.9,221.6L461.1,224.3L461.1,228.2L464.6,233.1L465.7,241.3L466.5,249.8L466.1,257.7L465.4,259.5L466.7,265.2L471.2,270.9L461.1,282.3L457.2,288.5L453.7,290.0L451.6,290.7L451.3,287.2L446.8,283.2L446.7,281.5L433.2,264.3L424.5,254.2L424.5,252.6L424.5,248.0L428.0,244.1L431.7,243.2L435.7,238.4L437.3,234.8L441.4,232.6L440.0,229.1L440.3,222.5Z" fill="#7F7F7F"/>
<path d="M405.5,282.8L405.6,280.1L407.9,270.0L410.4,265.6L411.5,259.0L413.8,255.5L414.2,252.6L418.1,249.8L421.5,244.9L422.1,240.6L421.9,235.7L423.3,230.9L426.9,226.5L428.7,224.7L430.5,219.4L430.7,216.8L432.1,216.4L433.5,219.4L437.3,219.0L439.1,219.9L440.3,222.5L440.0,229.1L441.4,232.6L437.3,234.8L435.7,238.4L431.7,243.2L428.0,244.1L424.5,248.0L424.5,252.6L424.5,259.9L416.9,259.9L416.9,271.1L414.7,273.1L414.7,280.4L405.6,280.4Z" fill="#FC8D59"/>
<path d="M418.5,255.5L424.5,254.2L424.5,259.9L419.1,259.9L418.1,262.5L416.3,269.6L414.7,274.4L414.5,280.4L412.0,280.4L412.6,274.4L414.7,268.5L416.3,262.5Z" fill="#7F7F7F"/>
<path d="M405.5,282.8L405.6,280.4L414.7,280.4L414.7,273.1L416.9,271.1L416.9,259.9L424.5,259.9L424.5,254.2L433.2,264.3L429.4,264.3L431.7,306.1L423.1,306.1L419.9,306.5L418.1,305.6L416.4,309.3L414.0,303.4L411.3,301.0L407.2,301.7L406.8,303.7L407.9,295.1L407.2,288.9L406.8,286.3Z" fill="#D53E4F"/>
<path d="M406.8,303.7L407.2,301.7L411.3,301.0L414.0,303.4L416.4,309.3L418.3,317.3L418.3,319.7L416.0,320.2L413.1,318.6L409.7,318.5L406.3,319.9L406.1,316.9L406.6,314.4L404.5,309.6L406.1,306.1Z" fill="#E6F598"/>
<path d="M406.1,316.9L412.9,315.8L412.9,314.7L409.7,313.6L406.6,314.4Z" fill="#E6F598"/>
<path d="M406.3,319.9L409.7,318.5L413.1,318.6L413.1,322.8L410.8,323.7L410.2,326.1L408.1,323.2L407.4,321.5Z" fill="#3288BD"/>
<path d="M410.2,326.1L410.8,323.7L413.1,322.8L413.1,318.6L416.0,320.2L418.3,319.7L419.9,321.9L423.1,320.2L424.9,324.1L426.0,329.4L425.3,334.7L426.7,337.3L425.3,340.8L422.8,341.7L423.1,337.3L420.8,336.9L420.1,334.2L418.8,330.3L416.0,330.7L414.0,334.4L412.9,331.1L411.1,328.1Z" fill="#FEE08B"/>
<path d="M414.0,334.4L416.0,330.7L418.8,330.3L420.1,334.2L420.8,336.9L420.1,339.9L418.1,343.7L415.8,341.7L414.2,337.3Z" fill="#E6F598"/>
<path d="M418.1,343.7L420.1,339.9L420.8,336.9L423.1,337.3L422.8,341.7L425.3,340.8L424.9,345.7L427.1,348.5L427.0,355.1L423.7,352.3L419.7,346.5Z" fill="#99D594"/>
<path d="M427.0,355.1L427.1,348.5L424.9,345.7L425.3,340.8L426.7,337.3L425.3,334.7L426.0,329.4L430.1,327.6L431.7,328.5L433.5,331.6L437.8,331.6L438.0,332.5L438.4,338.2L436.9,344.3L437.8,351.8L435.0,351.2L430.5,353.1Z" fill="#7F7F7F"/>
<path d="M437.8,351.8L436.9,344.3L438.4,338.2L438.0,332.5L437.8,325.9L443.8,325.4L445.0,329.0L445.2,336.9L445.7,344.3L446.8,347.4L444.1,349.6L439.6,353.4Z" fill="#FC8D59"/>
<path d="M446.8,347.4L445.7,344.3L445.2,336.9L445.0,329.0L443.8,325.4L446.1,325.9L445.9,328.5L447.3,333.3L447.7,343.9L447.8,347.0Z" fill="#99D594"/>
<path d="M447.8,347.0L447.7,343.9L447.3,333.3L445.9,328.5L446.1,325.9L449.5,320.6L452.2,322.8L452.7,328.1L450.4,334.7L450.2,346.1Z" fill="#FEE08B"/>
<path d="M431.7,328.5L433.5,331.6L437.8,331.6L438.0,332.5L437.8,325.9L443.8,325.4L446.1,325.9L449.5,320.6L448.9,318.4L446.3,315.3L444.7,308.7L439.6,311.8L436.2,315.8L434.1,318.4L432.1,322.4Z" fill="#FEE08B"/>
<path d="M416.4,309.3L418.1,305.6L419.9,306.5L423.1,306.1L431.7,306.1L429.4,264.3L433.2,264.3L446.7,281.5L446.8,283.2L451.3,287.2L451.6,290.7L453.7,290.0L453.6,299.9L452.0,306.5L444.7,308.7L439.6,311.8L436.2,315.8L434.1,318.4L432.1,322.4L431.7,328.5L430.1,327.6L426.0,329.4L424.9,324.1L423.1,320.2L419.9,321.9L418.3,319.7L418.3,317.3Z" fill="#D53E4F"/>
<path d="M444.7,308.7L452.0,306.5L453.6,299.9L453.7,290.0L457.2,288.5L461.1,282.3L471.2,270.9L476.2,274.9L478.0,273.1L479.2,281.9L479.2,299.9L474.7,310.5L474.9,314.0L471.3,316.2L466.7,315.8L462.2,315.8L459.9,317.1L456.5,313.1L453.4,314.9L452.2,322.8L449.5,320.6L448.9,318.4L446.3,315.3Z" fill="#D53E4F"/>
<path d="M450.2,346.1L450.4,334.7L452.7,328.1L452.2,322.8L453.4,314.9L456.5,313.1L459.9,317.1L462.2,315.8L466.7,315.8L471.3,316.2L474.9,314.0L476.0,317.1L476.2,319.3L477.1,323.7L474.2,330.3L473.1,336.0L470.8,343.5L467.9,343.5L466.3,344.3L463.6,353.1L462.9,354.5L459.9,354.9L457.7,355.3L455.4,348.7L454.1,346.5L451.8,346.1Z" fill="#FEE08B"/>
<path d="M463.6,211.7L466.3,210.2L467.4,212.0L469.2,211.3L467.9,214.6L468.1,216.8L469.2,219.4L468.3,222.5L466.7,224.7L468.8,226.5L470.2,228.5L470.1,231.3L467.4,234.4L467.4,238.4L465.7,241.3L464.6,233.1L461.1,228.2L461.1,224.3L462.9,221.6L462.9,215.9Z" fill="#D53E4F"/>
<path d="M470.2,228.5L472.4,229.6L474.0,229.6L478.3,231.8L479.6,236.2L483.7,238.4L487.1,241.0L489.4,238.4L489.5,233.1L492.8,229.8L496.2,230.9L501.0,235.1L500.5,240.1L500.7,277.5L500.7,286.3L498.4,286.3L498.4,288.5L478.0,273.1L476.2,274.9L471.2,270.9L466.7,265.2L465.4,259.5L466.1,257.7L466.5,249.8L465.7,241.3L467.4,238.4L467.4,234.4L470.1,231.3Z" fill="#FEE08B"/>
<path d="M501.0,235.1L505.2,236.2L509.7,238.6L511.8,237.0L514.3,235.5L517.2,236.6L519.9,237.5L521.6,236.6L523.1,244.5L522.0,251.1L521.5,252.2L520.1,249.8L517.9,242.7L517.4,244.5L519.2,251.1L520.6,254.6L522.2,261.2L524.4,269.1L527.6,277.5L500.7,277.5L500.5,240.1Z" fill="#FC8D59"/>
<path d="M527.6,277.5L500.7,277.5L500.7,286.3L498.4,286.3L498.4,305.2L495.9,305.6L495.0,311.8L493.9,318.4L495.9,324.1L495.9,326.3L497.5,331.1L498.9,336.0L500.5,331.1L504.1,332.5L507.5,333.3L509.7,331.6L513.8,331.4L516.8,321.5L519.2,320.6L519.0,327.2L521.3,332.5L521.7,327.6L523.3,322.4L525.8,318.4L526.6,311.6L526.7,307.4L527.8,299.3L531.5,295.1L528.7,291.6L528.3,286.3L528.1,281.0Z" fill="#FEE08B"/>
<path d="M498.9,336.0L500.5,331.1L504.1,332.5L507.5,333.3L509.7,331.6L513.8,331.4L516.8,321.5L519.2,320.6L519.0,327.2L521.3,332.5L521.3,336.4L518.8,339.1L521.1,342.1L524.0,350.5L525.4,354.0L521.1,355.8L518.8,357.3L514.3,358.0L513.9,358.9L511.3,354.5L508.4,355.3L506.2,352.0L503.9,345.2L501.1,340.8Z" fill="#E6F598"/>
<path d="M474.9,314.0L474.7,310.5L479.2,299.9L479.2,281.9L478.0,273.1L498.4,288.5L498.4,305.2L495.9,305.6L495.0,311.8L493.9,318.4L495.9,324.1L495.9,326.3L493.2,327.6L490.3,334.2L487.1,334.7L484.8,339.1L481.7,340.4L479.2,341.3L478.0,336.0L475.6,332.0L479.2,330.3L478.3,323.7L477.8,319.3L476.0,317.1Z" fill="#FEE08B"/>
<path d="M463.6,353.1L466.3,344.3L467.9,343.5L470.8,343.5L473.1,336.0L474.2,330.3L477.1,323.7L476.2,319.3L476.0,317.1L477.8,319.3L478.3,323.7L479.2,330.3L475.6,332.0L478.0,336.0L479.2,341.3L477.1,347.9L476.9,352.3L478.3,356.7L480.8,364.6L480.5,366.8L476.9,365.0L474.2,364.6L469.8,364.6L466.3,364.1L466.5,361.1L465.6,357.1L464.2,354.5Z" fill="#E6F598"/>
<path d="M479.2,341.3L481.7,340.4L484.8,339.1L487.1,334.7L490.3,334.2L493.2,327.6L495.9,326.3L497.5,331.1L498.9,336.0L501.1,340.8L503.9,345.2L506.2,352.0L501.8,350.9L499.3,351.8L495.9,353.1L494.8,356.2L490.5,354.9L488.2,351.8L486.2,355.3L486.2,358.9L483.7,358.4L481.7,358.9L480.8,364.6L478.3,356.7L476.9,352.3L477.1,347.9Z" fill="#99D594"/>
<path d="M466.3,364.1L469.8,364.6L469.8,369.9L466.3,369.9L465.8,367.7ZM463.3,358.0L464.2,358.0L463.8,360.0Z" fill="#FEE08B"/>
<path d="M466.3,369.9L469.8,369.9L469.8,364.6L474.2,364.6L474.0,368.5L476.2,368.1L476.9,370.7L475.6,374.2L476.9,376.9L476.7,382.6L476.2,384.8L473.1,383.0L472.4,384.8L470.4,384.8L471.0,389.6L469.2,391.6L465.8,384.8L464.0,377.3L465.1,374.2L465.6,371.6Z" fill="#99D594"/>
<path d="M469.2,391.6L471.0,389.6L470.4,384.8L472.4,384.8L473.1,383.0L476.2,384.8L476.7,382.6L476.9,376.9L475.6,374.2L476.9,370.7L476.2,368.1L474.0,368.5L474.2,364.6L476.9,365.0L480.5,366.8L480.8,364.6L481.7,358.9L483.7,358.4L486.2,358.9L485.1,364.1L484.4,372.9L483.9,376.9L480.8,383.9L480.3,389.2L478.5,393.2L476.7,395.6L474.4,395.8L473.7,394.5L473.1,393.6L471.3,396.2L470.8,394.5Z" fill="#3288BD"/>
<path d="M471.7,399.5L472.4,399.3L473.7,394.5L474.4,395.8L476.7,395.6L478.5,393.2L480.3,389.2L480.8,383.9L483.9,376.9L484.4,372.9L485.1,364.1L486.2,358.9L486.2,355.3L488.2,351.8L490.5,354.9L494.8,356.2L495.9,353.1L499.3,351.8L501.8,350.9L506.2,352.0L508.4,355.3L511.3,354.5L513.9,358.9L513.8,363.7L514.9,364.8L513.1,369.0L511.9,370.7L511.3,374.7L511.1,380.4L510.2,381.7L509.7,386.3L510.2,388.8L510.4,393.8L511.1,400.6L512.7,407.2L513.8,410.3L509.5,411.6L508.4,415.2L508.8,419.1L508.4,426.6L509.7,428.8L511.5,427.9L511.5,433.2L508.4,429.2L505.7,425.3L501.6,423.9L499.3,423.9L498.4,422.2L498.2,422.6L494.6,422.6L494.3,417.8L493.4,410.3L493.7,406.4L490.5,406.4L490.0,404.8L488.2,405.0L487.8,409.4L483.9,409.9L481.7,400.2L474.4,400.0L471.9,401.1Z" fill="#99D594"/>
<path d="M471.9,401.1L474.4,400.0L481.7,400.2L483.9,409.9L487.8,409.4L488.2,405.0L490.0,404.8L490.5,406.4L493.7,406.4L493.4,410.3L494.3,417.8L494.6,422.6L498.2,422.6L498.4,422.2L498.4,431.4L493.9,431.4L493.9,445.5L497.1,451.7L492.5,453.4L486.0,450.8L475.8,450.8L473.5,449.0L470.7,450.1L470.8,444.6L471.7,438.0L474.4,429.7L475.3,422.6L474.0,413.0L473.3,405.0ZM471.3,396.2L473.1,393.6L473.7,394.5L472.4,399.3L471.7,399.5Z" fill="#99D594"/>
<path d="M498.4,422.2L499.3,423.9L501.6,423.9L505.7,425.3L508.4,429.2L511.5,433.2L511.5,427.9L509.7,428.8L508.4,426.6L508.8,419.1L508.4,415.2L509.5,411.6L513.8,410.3L518.7,415.6L519.5,421.7L518.8,425.3L519.5,429.2L518.1,434.1L519.2,435.8L512.5,439.3L512.9,442.9L509.5,444.4L509.3,446.8L505.2,453.2L501.4,452.5L498.4,451.2L497.1,451.7L493.9,445.5L493.9,431.4L498.4,431.4Z" fill="#3288BD"/>
<path d="M470.7,450.1L473.5,449.0L475.8,450.8L486.0,450.8L492.5,453.4L497.1,451.7L498.4,451.2L501.4,452.5L499.6,453.4L496.8,453.4L491.6,454.7L491.6,471.0L489.4,471.0L489.4,483.3L489.4,499.2L487.1,501.4L483.5,500.5L481.4,500.0L478.5,493.0L476.9,479.8L476.9,475.0L474.4,466.2L471.3,455.6Z" fill="#E6F598"/>
<path d="M489.4,483.3L489.4,471.0L491.6,471.0L491.6,454.7L496.8,453.4L499.6,453.4L501.4,452.5L503.4,460.0L506.8,464.4L507.5,469.2L510.6,471.9L508.2,473.6L505.2,478.0L504.8,481.1L502.7,482.9L501.8,487.3L500.0,487.7L496.2,485.5L495.3,489.0L493.2,492.3L491.0,492.3Z" fill="#FC8D59"/>
<path d="M501.4,452.5L505.2,453.2L509.3,446.8L509.5,444.4L512.9,442.9L514.9,444.6L518.6,447.7L518.8,453.4L518.1,457.8L518.8,461.3L517.4,467.9L514.9,472.8L510.6,471.9L507.5,469.2L506.8,464.4L503.4,460.0Z" fill="#3288BD"/>
<path d="M535.7,420.2L531.2,424.4L529.0,425.7L525.1,424.6L523.2,425.0L522.6,429.2L523.1,433.6L525.4,439.8L525.1,444.6L524.0,449.5L522.0,445.9L522.2,438.0L519.2,435.8L512.5,439.3L512.9,442.9L514.9,444.6L518.6,447.7L518.8,453.4L518.1,457.8L518.8,461.3L517.4,467.9L514.9,472.8L516.3,481.1L516.5,488.2L516.8,492.1L518.6,492.3L517.9,488.4L519.9,485.1L524.4,479.8L524.4,471.0L522.9,462.2L525.6,457.4L527.8,452.5L532.6,447.7L536.0,440.2L535.9,431.0Z" fill="#FEE08B"/>
<path d="M518.7,415.6L520.8,416.0L522.4,422.6L523.2,425.0L522.6,429.2L523.1,433.6L525.4,439.8L525.1,444.6L524.0,449.5L522.0,445.9L522.2,438.0L519.2,435.8L518.1,434.1L519.5,429.2L518.8,425.3L519.5,421.7Z" fill="#E6F598"/>
<path d="M535.7,420.2L534.2,413.4L533.0,404.2L531.9,400.6L532.8,394.9L529.2,387.4L521.1,378.6L515.8,378.6L513.1,378.9L513.9,384.6L513.4,389.2L512.0,393.2L510.4,393.8L511.1,400.6L512.7,407.2L513.8,410.3L518.7,415.6L520.8,416.0L522.4,422.6L523.2,425.0L525.1,424.6L529.0,425.7L531.2,424.4ZM532.8,399.8L533.6,401.1L533.3,402.6ZM534.0,395.8L534.3,397.1L534.0,398.0Z" fill="#99D594"/>
<path d="M532.8,394.9L529.2,387.4L521.1,378.6L521.1,373.4L522.2,369.4L523.3,365.9L521.1,355.8L525.4,354.0L527.6,354.7L530.3,358.4L533.5,359.1L536.4,355.6L538.9,356.9L536.9,361.9L536.9,374.2L536.9,378.0L538.1,381.5L535.1,386.1L534.9,388.8L533.8,392.1Z" fill="#D53E4F"/>
<path d="M521.1,378.6L515.8,378.6L513.1,378.9L511.1,380.4L511.3,374.7L511.9,370.7L513.1,369.0L514.9,364.8L513.8,363.7L513.9,358.9L514.3,358.0L518.8,357.3L521.1,355.8L523.3,365.9L522.2,369.4L521.1,373.4Z" fill="#E6F598"/>
<path d="M511.1,380.4L513.1,378.9L513.9,384.6L512.0,384.8L511.8,386.1L509.7,386.3L510.2,381.7Z" fill="#FEE08B"/>
<path d="M509.7,386.3L511.8,386.1L512.0,384.8L513.9,384.6L513.4,389.2L512.0,393.2L510.4,393.8L510.2,388.8Z" fill="#99D594"/>
<path d="M526.6,311.6L529.9,308.7L532.4,310.0L534.9,310.5L537.3,314.9L540.1,319.5L538.7,325.9L541.3,326.0L541.0,329.4L542.8,333.3L543.7,334.9L550.5,339.1L552.7,339.1L545.9,352.3L541.4,354.0L538.9,356.9L536.4,355.6L533.5,359.1L530.3,358.4L527.6,354.7L525.4,354.0L524.0,350.5L521.1,342.1L518.8,339.1L521.3,336.4L521.3,332.5L521.7,327.6L523.3,322.4L525.8,318.4Z" fill="#3288BD"/>
<path d="M531.5,295.1L527.8,299.3L526.7,307.4L526.6,311.6L529.9,308.7L532.4,310.0L534.9,310.5L537.3,314.9L540.1,319.5L541.6,318.4L539.8,314.4L537.3,310.0L534.6,306.1L533.5,306.1L532.8,301.7Z" fill="#3288BD"/>
<path d="M541.6,318.4L540.1,319.5L538.7,325.9L541.3,326.0L542.0,323.9L540.7,323.2L542.3,321.5Z" fill="#E6F598"/>
<path d="M542.0,323.9L541.3,326.0L541.0,329.4L542.8,333.3L543.7,334.9L550.5,339.1L552.7,339.1L545.9,352.3L541.4,354.0L538.9,356.9L536.9,361.9L536.9,374.2L536.9,378.0L538.1,381.5L540.3,376.0L543.7,369.9L546.7,365.2L551.6,356.7L555.0,347.9L557.3,338.6L559.1,332.9L559.8,328.5L560.4,328.3L560.1,322.1L558.4,322.6L555.0,324.6L550.5,325.2L545.9,328.1L543.7,328.3L542.6,325.0Z" fill="#3288BD"/>
<path d="M481.4,500.0L483.5,500.5L487.1,501.4L489.4,499.2L489.4,483.3L491.0,492.3L493.2,492.3L495.3,489.0L496.2,485.5L500.0,487.7L501.8,487.3L502.7,482.9L504.8,481.1L505.2,478.0L508.2,473.6L510.6,471.9L514.9,472.8L516.3,481.1L516.5,488.2L516.8,492.1L518.6,492.3L517.9,499.6L516.1,501.8L514.3,505.8L512.0,511.9L508.6,518.1L507.2,519.4L504.1,522.7L502.0,523.8L500.2,524.7L496.2,524.2L494.1,524.7L489.4,527.3L486.7,525.5L486.0,525.3L485.7,523.3L484.6,519.4L485.5,515.0L483.3,507.5Z" fill="#99D594"/>
<path d="M505.2,504.4L507.5,500.5L509.5,500.7L510.6,503.6L510.0,506.2L507.9,508.4L506.1,507.5Z" fill="#99D594"/>
<path d="M515.2,487.5L516.5,488.6L516.8,492.1L516.4,494.3L514.3,493.9L513.8,490.8Z" fill="#7F7F7F"/>
<path d="M555.7,427.0L557.7,435.8L558.4,442.0L556.6,442.4L556.8,448.1L555.9,453.4L553.9,466.6L551.8,477.6L550.7,484.0L546.4,486.8L543.7,484.2L542.8,477.2L542.1,471.0L544.4,463.5L543.7,455.6L544.6,445.5L548.9,443.3L552.5,435.8L554.5,431.4Z" fill="#99D594"/>
<path d="M573.8,462.2L574.9,462.6L574.5,464.4Z" fill="#FC8D59"/>
<path d="M569.3,466.2L570.4,467.0L569.7,468.4Z" fill="#7F7F7F"/>
<path d="M541.9,424.8L542.6,425.7L542.1,426.6ZM544.4,427.5L544.8,428.3L544.4,428.8Z" fill="#7F7F7F"/>
<path d="M390.2,307.0L391.1,307.8L390.7,308.7ZM387.1,299.0L387.5,299.5L387.1,299.9ZM388.9,308.7L389.1,308.3L388.6,308.3Z" fill="#7F7F7F"/>
<path d="M458.8,372.9L459.3,372.9L459.0,374.0Z" fill="#7F7F7F"/>
<path d="M700.3,489.0L701.2,482.0L701.7,473.2L702.6,470.1L705.5,466.6L708.9,464.8L713.4,462.2L718.0,460.0L720.7,453.4L722.3,446.8L723.8,450.3L725.9,444.6L728.1,438.0L731.3,434.9L733.8,439.3L737.2,439.8L737.7,433.6L739.0,431.0L740.1,428.8L742.9,427.9L744.2,423.9L746.3,426.1L750.8,427.0L753.9,427.9L751.9,433.6L750.8,439.8L754.2,444.2L759.4,451.2L762.8,451.2L764.6,440.2L764.6,431.4L765.9,422.6L766.6,421.3L768.9,430.5L769.6,437.1L773.0,440.2L774.1,448.6L775.2,457.4L776.4,458.9L780.2,462.6L781.8,467.0L785.4,475.4L786.5,479.4L790.4,485.5L790.6,494.8L791.7,500.3L790.2,512.3L787.7,518.9L786.3,523.3L784.0,531.3L783.4,539.2L779.1,540.9L775.4,546.2L772.3,542.3L768.9,544.9L764.4,543.1L762.1,541.4L760.3,536.5L759.6,532.1L757.6,530.8L757.6,527.3L756.4,520.3L756.0,517.6L754.2,523.8L751.9,527.3L751.0,527.7L748.5,520.3L746.5,515.4L741.0,512.8L736.1,513.7L729.3,516.3L724.7,519.4L723.6,523.3L720.0,523.3L715.7,523.3L711.2,528.2L706.6,527.5L704.6,525.1L704.4,522.0L706.0,520.7L706.0,515.0L704.4,508.4L703.5,500.9L702.6,495.2ZM771.6,553.2L775.7,555.0L779.1,553.7L779.7,559.0L778.8,564.2L776.4,566.0L774.5,565.6L773.0,561.2L771.6,555.4ZM739.0,424.4L741.5,423.9L740.6,426.1L739.2,426.1ZM753.0,434.9L754.2,435.4L753.5,436.7ZM753.5,531.3L756.0,531.3L755.3,532.6L753.5,532.6ZM769.8,548.9L770.2,548.9L770.0,550.6ZM779.1,549.3L779.7,550.2L779.3,551.9Z" fill="#D53E4F"/>
<path d="M835.0,525.8L838.6,529.5L839.7,536.5L842.2,535.7L842.4,539.6L845.2,541.4L848.1,540.1L847.0,544.5L844.7,547.1L844.7,549.3L842.4,555.9L840.9,557.2L839.7,555.9L840.6,551.0L839.3,548.9L837.5,547.1L839.3,544.9L839.7,540.5L839.0,536.1L837.5,532.1L835.7,528.2ZM835.0,552.4L837.5,554.1L838.6,557.6L835.7,563.4L835.2,566.0L835.9,567.1L831.8,569.1L830.9,576.1L828.4,578.8L825.2,579.2L823.2,577.4L820.9,575.7L823.2,570.8L825.7,567.8L828.9,563.8L831.6,560.7L832.5,557.9L833.6,554.1ZM823.4,580.1L824.8,580.5L823.9,581.8Z" fill="#FEE08B"/>
<path d="M763.2,385.7L766.6,388.3L771.1,391.0L774.1,395.8L776.6,400.2L778.6,400.6L777.9,403.7L779.5,409.9L782.0,413.8L785.2,419.3L783.6,421.1L779.1,418.7L777.1,415.8L774.5,409.9L771.4,407.7L769.6,409.9L768.4,411.2L768.4,413.8L766.6,414.7L763.2,414.3ZM779.7,398.9L783.6,396.2L787.0,395.8L788.6,392.7L788.8,396.2L787.0,398.9L784.7,401.5L781.3,401.1ZM785.4,385.7L788.1,389.2L790.4,394.5L789.7,394.9L787.0,388.8ZM794.2,398.4L796.9,404.2L795.6,403.7L794.2,400.2ZM775.7,382.6L777.7,383.0L776.8,383.9Z" fill="#FEE08B"/>
<path d="M805.3,415.2L808.0,416.9L807.6,418.0L805.5,416.9ZM807.6,410.8L809.4,415.6L808.9,416.9L807.8,413.4ZM802.8,407.2L806.0,411.2L805.5,412.1L803.1,408.6ZM798.3,403.3L800.6,406.4L799.9,407.2L798.3,404.6ZM799.9,409.4L801.5,411.6L800.6,412.5ZM809.2,419.1L811.4,421.3L810.3,421.7Z" fill="#E6F598"/>
<path d="M821.2,438.9L822.5,441.1L822.1,442.9L821.2,441.5ZM822.5,444.6L823.9,446.4L823.2,447.3ZM824.8,451.7L825.5,452.1L825.0,452.8ZM827.1,456.5L827.5,457.4L827.1,457.8Z" fill="#99D594"/>
<path d="M815.3,462.6L818.7,465.7L822.1,472.3L820.9,472.8L817.5,468.8L815.3,464.4Z" fill="#7F7F7F"/>
<path d="M845.4,451.2L848.3,451.7L848.1,454.3L845.6,453.9ZM848.3,448.1L851.5,445.5L850.8,448.1Z" fill="#FEE08B"/>
<path d="M599.6,588.4L603.7,589.8L603.0,592.8L600.3,592.4ZM610.0,607.3L611.1,607.3L610.7,608.2Z" fill="#7F7F7F"/>
<path d="M358.1,611.7L362.6,613.1L363.1,615.3L359.2,613.1Z" fill="#7F7F7F"/>
<path d="M237.0,375.6L238.4,375.1L238.6,378.2L237.2,378.6ZM239.3,376.4L240.0,376.4L239.7,377.5ZM241.3,377.3L242.0,377.5L241.5,378.4Z" fill="#FC8D59"/>
</g>
<g transform="translate(-0.75,683)">
<path d="M125.0,68.1L129.5,68.6L135.2,71.2L139.7,68.1L147.6,66.4L154.4,64.2L160.1,69.0L165.7,67.3L170.2,67.3L179.3,70.8L183.8,75.2L188.3,76.1L195.1,75.6L199.7,72.5L204.2,71.7L206.5,75.2L213.2,76.1L220.0,76.1L222.3,72.5L226.8,74.3L227.3,78.3L229.1,75.2L231.8,70.8L228.0,68.1L226.1,62.0L228.6,58.0L233.2,58.9L235.2,64.2L237.0,68.1L239.3,73.0L244.9,71.2L244.9,77.4L248.3,76.5L249.9,70.8L251.0,67.3L257.4,67.3L260.1,69.9L259.6,73.9L257.8,79.6L255.1,82.7L250.6,81.8L247.6,82.7L249.5,86.2L246.1,90.6L241.5,92.8L238.1,94.5L234.7,99.4L232.5,103.8L229.8,109.5L229.5,114.8L233.6,116.1L234.7,123.6L239.3,122.7L244.9,125.8L251.7,131.0L257.8,131.9L258.1,141.2L259.6,144.7L261.9,148.6L264.2,149.1L265.8,145.6L265.8,137.6L263.9,133.7L268.7,130.2L270.7,125.8L270.7,121.4L266.4,115.6L268.7,110.4L267.3,100.3L273.2,100.3L277.3,99.4L281.8,104.2L285.7,106.0L286.8,111.7L285.7,116.1L289.5,117.8L294.7,115.6L297.9,109.1L300.8,115.6L304.2,123.6L307.6,130.2L313.3,134.1L317.4,140.3L318.0,145.6L315.1,148.2L311.2,150.0L308.3,153.5L303.8,153.0L298.1,153.0L293.6,153.5L291.3,157.4L287.9,161.8L283.9,167.5L285.7,167.5L289.1,161.8L293.6,158.3L298.6,159.2L297.9,163.1L294.7,163.1L297.0,167.5L297.9,171.1L299.7,171.9L304.9,173.3L307.6,167.5L308.8,171.9L306.0,175.5L300.4,178.1L295.9,182.9L294.3,181.2L294.7,178.5L298.1,175.0L295.9,175.5L292.5,175.9L290.6,173.3L290.6,167.1L287.5,165.8L285.0,171.1L283.9,175.0L282.3,176.3L275.0,176.3L271.4,179.9L270.3,182.5L265.3,182.9L265.3,185.6L263.0,187.8L257.4,190.9L256.0,188.7L257.4,185.1L257.8,175.0L255.1,171.9L252.9,169.7L251.7,167.5L244.3,161.8L241.5,163.1L238.6,162.3L235.9,160.9L230.0,159.6L228.7,158.7L165.3,158.7L161.6,154.4L156.2,150.0L154.9,144.7L152.1,139.0L149.2,134.6L149.9,131.0L149.9,128.4L145.8,124.9L141.9,117.0L137.9,111.7L132.9,114.8L129.5,109.9L125.0,109.1ZM164.8,161.4L161.2,160.1L153.7,152.2L154.9,150.4L160.5,153.5L164.4,158.7ZM147.2,144.7L144.2,140.3L143.1,136.3L146.0,136.8L145.8,141.2ZM309.9,164.5L311.7,160.9L312.8,156.1L315.1,150.8L317.8,147.3L318.3,150.8L316.2,154.4L318.5,155.2L321.9,156.5L323.0,160.5L324.6,163.1L324.8,165.3L323.7,168.9L321.9,168.0L320.1,165.8L317.8,168.0L315.5,165.3L312.8,164.5ZM298.6,168.9L303.3,170.0L302.6,171.9L299.9,171.1ZM298.3,155.2L303.1,157.0L304.2,158.3L300.4,157.4ZM240.4,49.7L249.5,49.7L258.5,50.1L261.9,55.4L267.6,54.1L274.4,56.7L281.1,59.8L287.9,64.2L291.3,69.5L292.5,73.9L299.2,77.4L303.8,80.5L303.8,84.0L299.7,88.4L296.3,90.1L297.7,95.0L294.7,97.6L295.9,102.0L290.2,100.3L285.7,98.5L281.1,95.4L275.5,91.5L268.7,91.5L267.6,87.5L276.6,86.2L277.7,82.7L279.3,76.9L275.5,73.9L270.7,71.7L272.8,69.9L268.7,67.3L264.2,66.8L258.5,66.8L251.7,66.4L243.8,64.6L241.5,61.1L244.9,59.8L251.7,60.7L252.2,56.3L248.3,54.1L241.5,56.7ZM247.2,87.5L252.9,86.2L258.5,90.1L262.4,93.7L257.4,94.5L251.0,97.2L247.4,94.5L249.5,91.0ZM256.2,97.6L259.2,97.6L263.7,100.3L257.4,100.3ZM178.2,53.6L185.0,51.9L195.1,53.2L201.9,52.3L206.5,54.5L206.5,59.8L213.2,64.2L215.5,67.7L211.0,71.2L201.9,71.2L195.1,72.5L187.2,72.5L180.4,69.9L178.6,66.0L188.3,65.5L178.2,60.7L174.8,58.9ZM160.1,57.6L164.6,61.1L171.4,59.8L179.3,55.0L182.7,51.4L178.2,47.5L169.1,46.6L162.3,49.2L163.5,54.1ZM213.2,49.2L220.0,48.8L224.6,51.4L224.6,54.5L225.7,58.5L220.7,60.7L216.6,56.7L211.7,54.1ZM228.0,48.8L235.9,48.8L240.4,49.7L234.7,54.5L231.3,57.6L228.0,56.7L228.4,53.2ZM218.9,70.8L224.6,67.3L228.0,69.5L226.8,72.5L221.2,73.0ZM179.3,40.9L183.8,37.8L190.6,38.7L197.4,36.5L205.3,40.4L204.2,44.4L197.4,45.7L188.3,47.0L183.8,44.4L179.3,43.5ZM165.7,39.1L172.5,34.3L180.4,33.4L181.6,36.9L177.0,40.0L170.2,40.4ZM208.7,37.4L216.6,36.9L223.4,39.1L222.3,43.5L216.6,44.4L211.0,42.6ZM225.7,42.2L231.3,41.8L232.5,44.4L230.2,46.2L225.7,44.4ZM226.8,37.4L235.9,37.4L242.7,40.0L254.0,40.9L263.0,42.2L264.2,45.3L258.5,46.6L244.9,46.6L235.9,45.7L235.2,41.8L229.1,40.4ZM260.8,50.1L267.6,50.6L272.1,53.6L264.2,54.1ZM235.9,16.7L244.9,13.6L258.5,9.2L274.4,8.8L290.2,9.2L303.8,11.4L298.1,15.8L290.2,18.9L281.1,23.7L273.2,26.8L273.2,30.3L266.4,34.7L266.4,37.8L258.5,38.2L249.5,38.2L241.5,37.8L244.9,33.4L250.6,31.2L246.1,28.6L249.5,25.5L254.0,23.7L247.2,20.7L240.4,20.2ZM226.8,22.4L234.7,17.1L240.4,20.2L247.2,23.3L247.2,28.1L239.3,29.9L233.6,26.8ZM206.5,26.8L217.8,27.7L224.6,27.7L226.8,31.2L220.0,32.5L209.8,33.0L206.5,29.9ZM186.1,27.7L194.0,27.7L197.4,30.3L195.1,33.4L187.2,32.5ZM225.7,32.1L232.5,31.6L233.6,33.8L226.8,34.3Z" fill="#99D594" style="stroke:#99D594;stroke-opacity:1;stroke-width:1"/>
<path d="M125.0,68.1L118.2,66.4L109.1,64.6L100.1,62.9L89.9,60.7L82.0,64.2L75.2,68.6L67.3,73.9L72.9,77.4L74.1,79.6L78.6,82.7L72.9,81.8L63.9,85.7L68.4,90.6L75.2,90.6L79.7,89.3L79.7,95.0L71.8,97.2L68.4,103.3L70.7,108.2L76.3,110.4L77.4,114.8L82.0,116.1L87.6,116.1L87.6,121.4L82.0,128.0L76.3,131.5L71.1,134.6L77.4,132.4L84.2,128.8L89.9,123.6L94.4,118.3L96.7,113.4L100.1,106.9L104.6,105.1L101.2,113.4L105.7,111.2L109.1,108.2L113.7,106.9L118.2,110.4L125.0,111.2L131.8,115.6L135.2,118.3L138.6,123.6L141.9,130.2L146.5,132.4L149.9,131.0L149.9,128.4L145.8,124.9L141.9,117.0L137.9,111.7L132.9,114.8L129.5,109.9L125.0,109.1ZM94.4,121.4L97.8,119.2L99.6,121.4L96.7,124.4ZM55.5,95.0L61.6,95.9L62.1,97.2L55.9,96.3ZM65.4,109.5L68.8,109.1L68.8,111.2L66.1,111.2ZM70.7,134.1L67.3,136.8L63.9,139.0L63.4,140.3L67.3,138.5L70.7,135.9ZM61.6,140.3L58.2,142.0L53.7,143.8L53.7,145.1L58.2,143.4L61.6,141.6ZM51.4,144.2L46.9,145.1L42.4,146.0L42.4,147.3L46.9,146.4L51.4,145.6ZM41.2,146.0L37.8,146.9L37.8,148.2L41.2,147.3Z" fill="#3288BD"/>
<path d="M165.3,158.7L228.7,158.7L230.0,159.6L235.9,160.9L238.6,162.3L241.5,163.1L244.3,161.8L251.7,167.5L252.9,169.7L255.1,171.9L257.8,175.0L257.4,185.1L256.0,188.7L257.4,190.9L263.0,187.8L265.3,185.6L265.3,182.9L270.3,182.5L271.4,179.9L275.0,176.3L282.3,176.3L283.9,175.0L285.0,171.1L287.5,165.8L290.6,167.1L290.6,173.3L292.5,175.9L292.5,178.1L289.1,179.4L285.7,181.6L284.1,185.1L283.9,188.2L285.7,190.4L282.3,192.2L280.0,193.9L276.6,195.7L276.6,200.1L274.4,203.2L274.1,207.1L272.1,211.5L272.5,215.0L273.2,219.4L269.8,222.1L267.6,225.2L264.8,228.2L261.2,233.1L259.9,238.8L260.1,243.2L261.9,250.2L263.0,256.4L262.4,263.0L260.8,263.9L259.0,258.6L256.7,252.0L256.9,246.7L254.0,241.9L250.6,243.2L248.3,240.6L244.9,241.0L241.5,241.4L242.2,245.8L239.3,245.8L235.9,244.1L231.3,244.1L228.0,247.6L224.1,252.9L224.1,259.9L219.6,257.7L218.9,253.3L216.6,248.0L214.4,243.2L211.7,243.6L210.5,246.7L207.6,244.1L206.7,239.7L203.1,234.6L199.2,234.6L199.2,236.5L192.6,236.5L184.3,231.3L179.1,231.3L178.6,228.2L176.1,224.7L171.4,222.5L170.9,219.4L168.2,213.3L166.8,208.0L163.9,201.4L162.8,196.6L163.2,189.5L162.3,186.0L163.5,178.5L163.5,171.1L161.9,161.4L165.7,162.3L166.2,158.7ZM276.6,195.7L281.1,193.5L281.1,194.6L277.1,195.9Z" fill="#3288BD"/>
<path d="M91.0,285.4L93.3,287.2L93.3,289.4L91.7,290.9L91.0,288.0ZM89.4,281.9L91.0,282.3L90.3,283.7ZM86.0,279.3L87.2,280.1L86.5,280.6ZM82.7,276.6L83.6,277.1L83.1,277.9Z" fill="#3288BD"/>
<path d="M278.9,30.3L290.2,25.9L297.0,22.4L301.5,17.1L312.8,12.7L330.9,11.4L344.5,9.2L358.1,7.0L371.7,6.6L385.3,8.3L394.3,11.4L403.4,14.5L414.7,14.9L416.9,18.0L405.6,22.4L401.1,26.8L401.1,31.2L402.2,36.5L398.8,40.0L400.0,44.4L397.7,48.8L394.3,51.9L393.2,56.3L394.3,59.8L394.3,64.2L389.8,66.4L392.0,68.1L385.3,72.5L378.5,74.3L371.7,75.2L367.1,81.3L361.5,84.9L355.8,85.7L352.9,90.6L351.3,95.9L347.9,101.6L346.8,108.2L344.5,110.8L341.1,109.5L336.6,106.9L333.2,102.5L330.9,97.2L327.5,92.8L325.3,86.2L322.6,80.5L323.0,74.3L327.5,70.8L326.4,67.3L320.8,65.1L320.8,60.2L317.4,55.4L315.1,48.8L311.7,43.1L303.8,39.6L294.7,40.0L287.9,37.8L282.3,34.3L285.7,32.1Z" fill="#3288BD"/>
<path d="M179.1,231.3L184.3,231.3L192.6,236.5L199.2,236.5L199.2,234.6L203.1,234.6L206.7,239.7L207.6,244.1L210.5,246.7L211.7,243.6L214.4,243.2L216.6,248.0L218.9,253.3L219.6,257.7L224.1,259.9L222.7,268.7L222.7,276.2L224.1,282.8L226.4,289.4L229.1,292.4L230.7,294.2L234.7,292.4L238.1,291.6L239.3,284.1L240.4,281.5L243.8,279.7L247.2,279.7L247.6,282.8L246.1,287.2L245.6,292.9L244.3,292.9L242.3,295.9L238.1,295.9L238.1,298.4L239.5,303.4L236.6,303.6L235.4,307.0L235.4,310.5L231.8,303.9L229.1,303.4L225.7,305.2L221.2,302.6L218.2,300.4L213.7,296.0L209.8,293.8L207.6,289.8L205.3,286.3L205.8,279.7L204.2,273.1L200.8,266.5L197.4,262.1L196.3,256.8L193.8,251.5L190.2,246.7L188.3,237.0L184.3,234.4L184.5,237.9L187.2,244.5L189.5,251.1L191.7,258.6L194.0,266.5L196.3,272.2L194.7,273.1L190.6,265.2L187.2,256.8L183.8,252.0L185.6,248.9L182.0,241.0Z" fill="#E6F598"/>
<path d="M235.4,310.5L235.4,307.0L236.6,303.6L239.5,303.4L238.1,298.4L238.1,295.9L242.3,295.9L242.2,304.3L244.3,305.2L241.9,310.9L240.2,313.8Z" fill="#FC8D59"/>
<path d="M242.3,295.9L244.3,292.9L244.7,294.6L244.3,301.7L242.9,304.3L242.2,304.3Z" fill="#FEE08B"/>
<path d="M240.2,313.8L241.9,310.9L243.8,312.9L245.6,313.6L245.4,316.2L243.8,316.2Z" fill="#E6F598"/>
<path d="M241.9,310.9L244.3,305.2L246.1,304.8L249.5,304.3L252.9,304.8L255.8,308.3L252.2,309.2L249.9,313.1L247.9,313.6L246.5,317.1L245.6,315.3L245.6,313.6L243.8,312.9Z" fill="#E6F598"/>
<path d="M245.6,317.5L246.5,317.1L247.9,313.6L249.9,313.1L252.2,309.2L255.8,308.3L255.1,314.9L254.7,321.5L254.7,326.1L252.2,325.9L250.1,325.4L248.3,322.4Z" fill="#E6F598"/>
<path d="M250.1,325.4L252.2,325.9L254.7,326.1L257.2,332.0L256.5,334.2L256.5,338.8L254.7,336.4L252.4,332.0L249.9,330.3L249.9,326.3Z" fill="#E6F598"/>
<path d="M256.5,338.8L256.5,334.2L257.2,332.0L259.6,335.5L263.0,333.8L265.3,332.2L268.9,336.0L269.1,339.5L267.8,342.6L266.4,338.2L263.7,335.1L262.1,338.2L263.0,341.7L260.8,342.1L259.2,338.6Z" fill="#E6F598"/>
<path d="M251.9,277.9L256.2,273.1L259.6,272.2L263.0,273.5L267.6,276.2L272.1,281.0L276.2,285.4L274.4,286.7L268.2,286.9L269.4,283.7L266.4,281.9L263.0,278.8L259.0,276.6L255.1,277.1Z" fill="#E6F598"/>
<path d="M275.7,293.5L280.5,294.2L281.7,294.9L281.7,287.6L278.9,286.7L279.3,290.2L280.2,292.4L275.7,292.4Z" fill="#7F7F7F"/>
<path d="M281.7,294.9L282.5,296.8L285.7,293.8L289.1,294.2L289.3,292.0L286.8,289.4L284.5,287.2L281.7,287.6Z" fill="#FC8D59"/>
<path d="M266.9,293.3L271.4,294.6L270.3,296.0L267.1,295.1Z" fill="#FC8D59"/>
<path d="M292.0,292.9L295.6,293.3L295.2,295.1L292.0,295.3Z" fill="#E6F598"/>
<path d="M266.9,256.8L268.7,256.8L268.7,258.1L266.9,257.7ZM267.1,263.9L268.2,266.1L268.5,268.3L267.1,267.4ZM268.9,263.9L271.6,263.4L271.6,265.2ZM277.3,281.5L278.9,281.0L278.4,282.3ZM272.7,267.8L273.2,265.6L273.8,267.8L273.2,270.0ZM273.9,271.8L274.4,270.0L274.8,271.8L274.4,273.5ZM275.5,274.9L276.2,273.8L276.8,274.9L276.2,276.0ZM278.2,275.7L278.9,274.9L279.6,275.7L278.9,276.6ZM268.9,259.9L269.4,257.7L269.8,259.9L269.4,262.1ZM280.5,278.4L281.1,277.7L281.8,278.4L281.1,279.0Z" fill="#7F7F7F"/>
<path d="M304.0,327.2L306.3,326.8L306.0,329.8L304.0,329.8Z" fill="#7F7F7F"/>
<path d="M303.9,303.0L304.8,301.7L305.7,303.0L304.8,304.3ZM304.5,306.5L305.2,305.2L306.0,306.5L305.2,307.8ZM305.4,309.8L306.0,308.3L306.7,309.8L306.0,311.4ZM305.5,313.1L306.0,311.8L306.6,313.1L306.0,314.4ZM305.1,316.0L305.6,314.9L306.0,316.0L305.6,317.1ZM308.8,316.4L309.3,315.3L309.9,316.4L309.3,317.5ZM304.0,321.0L304.5,319.9L304.9,321.0L304.5,322.1ZM303.7,299.0L304.2,298.2L304.8,299.0L304.2,299.9ZM301.5,298.2L302.1,297.3L302.6,298.2L302.1,299.0ZM296.8,293.8L297.4,293.1L298.1,293.8L297.4,294.4ZM300.9,294.6L301.4,294.0L301.9,294.6L301.4,295.3Z" fill="#7F7F7F"/>
<path d="M259.8,289.4L260.3,288.8L260.9,289.4L260.3,289.9ZM262.8,287.6L263.3,287.2L263.7,287.6L263.3,288.0Z" fill="#7F7F7F"/>
<path d="M327.3,355.8L329.8,365.5L331.2,369.9L329.8,374.2L334.3,376.4L336.6,376.9L341.1,380.4L343.8,385.7L346.8,384.8L350.2,387.0L353.6,386.6L357.0,390.5L360.4,395.8L364.4,397.6L365.3,405.9L364.9,413.4L361.9,420.4L359.7,424.8L357.0,431.4L355.8,440.2L355.6,452.1L354.0,460.5L352.9,463.5L351.3,471.0L349.0,475.2L346.3,475.4L342.3,478.0L339.1,479.8L335.5,485.5L334.1,490.8L334.1,498.7L330.9,506.2L326.2,515.9L323.2,522.7L323.7,518.1L321.9,514.5L318.3,509.9L315.5,506.6L313.7,507.1L317.4,499.6L319.6,496.5L322.3,493.7L322.6,489.5L320.5,486.8L321.2,479.8L318.7,479.4L318.0,472.3L313.3,471.4L313.1,465.3L312.5,462.9L314.0,454.3L311.9,450.3L312.1,445.9L307.8,445.9L307.2,434.9L303.8,431.9L300.4,429.2L296.3,424.8L296.1,416.9L293.4,417.8L288.6,422.6L286.6,422.4L284.3,422.6L284.3,416.0L280.7,418.2L280.5,416.0L278.4,415.6L276.8,406.4L278.4,400.6L279.3,396.7L285.7,393.6L285.8,392.7L287.0,379.1L285.7,375.1L286.1,370.7L286.1,366.8L290.2,366.3L292.7,369.0L295.9,370.3L300.6,364.6L299.2,363.3L298.1,355.8L301.5,356.7L304.2,355.3L306.7,351.4L308.1,354.0L309.0,354.9L309.2,358.4L308.5,362.8L309.0,366.3L310.8,368.8L316.2,365.7L317.4,365.5L320.5,363.9L325.1,363.3Z" fill="#E6F598"/>
<path d="M268.9,336.0L270.3,339.1L273.0,332.5L273.2,327.6L274.8,325.4L278.4,324.6L281.1,321.5L282.7,319.7L282.7,322.4L280.5,325.4L278.9,332.5L280.2,337.7L281.1,343.5L285.7,343.5L291.3,347.0L290.6,355.8L291.6,361.1L292.0,365.5L292.7,369.0L290.2,366.3L286.1,366.8L286.1,370.7L285.7,375.1L287.0,379.1L285.8,392.7L284.1,391.0L285.6,386.1L279.1,384.8L276.6,378.6L273.7,374.7L271.4,372.5L268.7,371.2L265.8,368.1L266.4,363.3L269.4,357.5L268.7,350.1L268.9,344.8L267.8,342.6L269.1,339.5Z" fill="#E6F598"/>
<path d="M282.7,322.4L281.8,325.9L282.7,330.3L281.8,333.3L283.4,333.3L283.4,328.1L285.2,324.6L285.7,320.6L286.3,323.7L289.5,325.9L290.2,328.1L294.7,327.6L298.1,329.8L303.8,327.2L302.0,328.5L306.0,332.5L307.2,336.9L308.5,337.7L306.7,341.3L305.1,348.1L306.7,351.4L304.2,355.3L301.5,356.7L298.1,355.8L299.2,363.3L300.6,364.6L295.9,370.3L292.7,369.0L292.0,365.5L291.6,361.1L290.6,355.8L291.3,347.0L285.7,343.5L281.1,343.5L280.2,337.7L278.9,332.5L280.5,325.4Z" fill="#7F7F7F"/>
<path d="M308.5,337.7L311.7,343.9L314.8,348.1L314.4,352.3L313.1,356.7L314.4,359.7L316.2,365.7L310.8,368.8L309.0,366.3L308.5,362.8L309.2,358.4L309.0,354.9L308.1,354.0L306.7,351.4L305.1,348.1L306.7,341.3Z" fill="#FC8D59"/>
<path d="M314.8,348.1L317.6,348.3L321.9,349.0L321.0,352.3L321.9,358.4L320.5,363.9L317.4,365.5L316.2,365.7L314.4,359.7L313.1,356.7L314.4,352.3Z" fill="#FC8D59"/>
<path d="M321.9,349.0L324.4,350.5L327.3,355.8L325.1,363.3L320.5,363.9L321.9,358.4L321.0,352.3Z" fill="#7F7F7F"/>
<path d="M265.8,368.1L268.7,371.2L271.4,372.5L273.7,374.7L273.9,378.4L273.0,381.1L270.7,385.7L268.0,387.4L266.7,389.2L266.0,394.5L264.8,396.2L262.1,393.6L262.4,389.2L263.0,385.2L260.8,383.9L261.5,378.6L262.8,374.2L263.0,370.7Z" fill="#FEE08B"/>
<path d="M262.4,389.2L262.1,393.6L264.8,396.2L266.0,394.5L266.7,389.2L268.0,387.4L270.7,385.7L273.0,381.1L273.9,378.4L273.7,374.7L276.6,378.6L279.1,384.8L285.6,386.1L284.1,391.0L285.8,392.7L285.7,393.6L279.3,396.7L278.4,400.6L276.8,406.4L278.4,415.6L280.5,416.0L280.7,418.2L284.3,416.0L284.3,422.6L286.6,422.4L288.6,429.2L287.9,438.0L287.0,442.4L287.9,445.5L286.6,450.3L286.8,451.2L284.8,455.0L282.5,450.8L278.9,446.8L273.9,441.5L271.4,435.4L269.6,427.5L267.1,419.1L265.3,410.3L263.3,404.6L260.3,400.6L260.1,394.9Z" fill="#E6F598"/>
<path d="M286.6,422.4L288.6,422.6L293.4,417.8L296.1,416.9L296.3,424.8L300.4,429.2L303.8,431.9L307.2,434.9L307.8,445.9L312.1,445.9L311.9,450.3L314.0,454.3L312.5,462.9L312.4,461.3L310.3,459.4L304.3,460.7L303.1,464.4L302.3,472.1L298.6,474.5L296.5,471.4L294.0,470.1L292.0,474.5L289.7,468.8L289.1,462.2L287.9,457.8L286.8,451.2L286.6,450.3L287.9,445.5L287.0,442.4L287.9,438.0L288.6,429.2Z" fill="#7F7F7F"/>
<path d="M312.5,462.9L313.1,465.3L313.3,471.4L318.0,472.3L318.7,479.4L321.2,479.8L320.5,486.8L320.3,491.7L317.6,494.5L316.2,495.2L311.5,494.3L313.7,485.5L306.0,478.9L302.3,472.1L303.1,464.4L304.3,460.7L310.3,459.4L312.4,461.3Z" fill="#E6F598"/>
<path d="M323.2,522.7L319.8,528.0L316.9,527.7L313.1,525.8L311.9,523.3L312.4,517.2L313.3,510.6L313.7,507.1L315.5,506.6L318.3,509.9L321.9,514.5L323.7,518.1Z" fill="#99D594"/>
<path d="M302.3,472.1L298.6,474.5L296.5,471.4L294.0,470.1L292.0,474.5L292.5,479.8L289.3,482.0L289.5,492.6L286.6,499.2L285.7,506.2L285.0,512.8L285.7,520.7L286.1,525.1L284.8,532.6L283.4,539.2L283.2,545.8L281.8,552.4L281.6,559.0L281.8,567.8L282.7,574.4L281.6,578.8L280.5,585.4L278.2,592.0L278.9,597.7L280.5,598.5L281.1,602.9L285.7,602.9L289.3,604.7L287.9,601.2L287.9,595.5L290.9,591.1L294.9,584.9L291.3,577.9L292.5,573.0L295.9,571.7L296.5,564.7L300.2,561.6L297.0,559.8L297.0,553.7L301.5,555.0L303.3,552.8L303.1,545.3L308.3,545.3L314.0,541.4L315.8,534.3L314.4,530.4L311.9,526.4L311.9,523.3L312.4,517.2L313.3,510.6L313.7,507.1L317.4,499.6L319.6,496.5L322.3,493.7L322.6,489.5L320.5,486.8L320.3,491.7L317.6,494.5L316.2,495.2L311.5,494.3L313.7,485.5L306.0,478.9ZM288.8,605.8L289.6,607.8L292.0,611.7L296.5,614.6L293.6,616.4L288.8,615.7Z" fill="#99D594"/>
<path d="M284.8,455.0L286.8,451.2L287.9,457.8L289.1,462.2L289.7,468.8L292.0,474.5L292.5,479.8L289.3,482.0L289.5,492.6L286.6,499.2L285.7,506.2L285.0,512.8L285.7,520.7L286.1,525.1L284.8,532.6L283.4,539.2L283.2,545.8L281.8,552.4L281.6,559.0L281.8,567.8L282.7,574.4L281.6,578.8L280.5,585.4L278.2,592.0L278.9,597.7L280.5,598.5L281.1,602.9L285.7,602.9L289.3,604.7L283.6,606.5L282.3,610.9L277.7,607.3L275.5,600.7L273.2,592.0L273.2,581.0L276.6,574.4L278.2,565.6L279.3,559.0L277.1,558.1L277.7,550.2L277.3,541.4L278.4,537.4L279.8,530.4L282.0,519.4L282.3,508.4L282.7,505.8L284.1,493.0L284.5,486.0L284.8,477.6L285.4,466.6L285.2,463.1ZM288.8,605.8L284.5,606.5L284.8,611.3L281.1,613.5L285.7,617.0L288.8,615.7ZM276.8,558.5L277.7,560.3L277.5,565.1L275.7,564.2L276.2,559.8Z" fill="#E6F598"/>
<path d="M306.0,600.3L309.4,599.9L313.3,601.2L311.7,603.8L307.2,603.8Z" fill="#7F7F7F"/>
<path d="M513.8,67.3L518.8,68.6L525.6,69.9L535.8,76.1L537.3,80.9L531.2,84.0L523.3,82.2L517.7,79.1L522.2,86.2L522.9,90.6L527.8,92.8L530.1,89.3L535.8,90.4L534.6,84.9L539.2,82.2L543.7,83.5L544.1,75.6L542.1,72.5L548.2,75.2L549.3,79.6L552.7,76.5L564.1,73.9L567.4,73.9L573.1,72.5L579.9,72.1L581.0,67.3L589.0,69.5L593.5,71.7L598.0,73.9L595.7,68.6L595.3,62.0L600.3,53.6L608.2,54.5L608.6,62.0L607.1,70.8L610.9,79.6L608.2,82.7L611.6,80.5L611.1,73.0L612.7,64.2L610.5,59.8L613.8,54.5L620.6,56.3L626.3,57.6L630.8,64.2L632.0,59.8L626.7,51.0L638.7,48.8L641.0,44.0L652.3,40.4L665.9,38.2L680.2,32.5L686.3,36.5L697.6,37.8L701.0,42.2L693.1,48.8L686.3,52.3L695.3,49.2L702.1,50.6L713.4,53.2L723.6,51.9L731.5,51.0L737.2,55.4L736.1,62.0L742.9,59.8L751.9,59.4L759.8,55.8L763.2,54.1L774.5,56.3L783.6,59.8L789.3,62.4L799.4,62.0L806.2,66.4L810.8,68.1L819.8,68.6L825.5,66.4L830.0,66.0L830.0,70.8L835.7,66.8L844.7,68.1L851.5,71.2L860.5,76.5L869.6,80.5L874.6,83.5L871.9,86.2L867.3,91.0L859.4,89.3L853.8,86.6L848.1,90.1L845.8,89.7L849.2,97.2L850.4,99.8L840.2,102.9L833.4,106.9L828.9,110.4L819.8,110.4L816.6,113.9L817.1,118.3L814.4,120.5L816.0,126.6L812.6,132.4L808.0,139.4L803.3,141.6L798.8,150.0L796.3,143.4L797.2,132.4L796.3,123.6L801.7,119.2L808.5,112.6L814.8,103.8L816.4,99.4L810.8,103.8L807.4,102.5L799.4,103.3L794.9,113.0L788.1,114.8L785.4,112.3L774.5,113.4L767.8,113.4L761.0,121.4L755.3,128.0L750.1,133.7L754.2,136.8L757.6,136.8L762.1,140.3L764.1,140.7L764.1,144.7L762.1,150.0L762.1,158.7L758.7,166.2L754.2,175.0L750.1,182.1L745.6,186.5L742.9,184.3L739.9,188.2L741.0,182.9L741.3,176.8L745.3,175.9L747.4,167.5L749.2,161.4L744.0,164.2L740.6,164.5L739.7,159.2L736.1,157.0L732.7,155.2L732.7,153.0L729.3,143.4L728.1,140.9L723.6,138.7L718.0,139.8L715.7,142.9L717.3,145.6L713.4,154.4L710.7,156.5L708.2,155.1L703.2,153.3L697.6,157.0L688.5,157.0L684.0,153.0L676.1,152.6L675.4,148.6L667.7,145.1L665.5,150.0L666.6,153.0L664.3,155.4L658.0,154.4L652.3,151.3L647.1,155.2L642.8,158.0L641.7,158.3L636.9,156.1L632.0,150.0L625.4,150.8L620.4,139.8L617.2,135.9L610.5,136.8L605.2,135.9L604.6,131.0L600.3,131.0L591.7,135.0L582.2,137.0L583.3,141.2L579.9,145.6L583.3,148.6L583.1,150.8L578.8,151.9L576.5,149.7L570.2,151.7L567.4,150.0L562.9,147.8L559.1,146.7L554.1,151.7L551.6,152.6L550.0,159.2L550.9,164.2L553.2,164.5L555.0,170.2L555.5,170.6L552.7,173.3L551.4,177.2L549.8,179.0L551.6,185.1L554.0,190.2L552.3,193.1L549.9,190.2L549.1,190.0L545.9,186.5L543.2,186.9L540.3,184.3L534.6,183.4L532.4,180.7L529.7,177.9L527.4,175.5L529.0,174.6L529.4,169.3L530.6,168.9L533.0,167.1L530.6,167.1L532.1,163.8L534.4,163.8L534.2,159.6L535.1,156.1L532.1,155.0L529.0,153.0L524.7,152.6L524.2,149.7L521.3,147.1L519.2,144.0L516.1,145.1L515.2,140.3L518.1,139.4L516.1,136.8L513.8,133.2L514.0,129.7L510.6,128.8L507.8,127.3L507.0,122.2L506.0,121.1L506.3,118.3L506.1,115.6L507.5,112.8L508.6,111.2L512.5,110.6L509.7,109.1L507.0,108.0L510.9,103.8L515.4,98.1L512.0,93.7L512.0,88.4L510.9,81.8L509.7,77.4L508.6,73.0L509.7,70.3L513.8,68.1ZM488.5,134.8L495.7,135.2L495.5,132.6L492.3,131.3L491.4,131.1L489.4,132.6L489.1,134.1ZM560.7,59.8L565.2,63.8L570.8,63.8L574.2,63.3L569.7,58.5L569.7,53.2L572.0,48.8L577.6,44.4L586.7,40.4L599.1,37.4L593.5,35.6L579.9,38.7L573.1,42.2L568.6,47.5L565.2,51.0L564.1,55.4ZM659.1,26.8L665.9,22.4L659.1,17.1L663.6,18.0L670.4,23.3L679.5,26.8L681.7,29.9L675.0,31.2L668.2,29.0ZM669.3,31.2L677.2,30.3L684.0,29.9L681.7,32.1L672.7,33.0ZM550.5,21.1L557.3,18.5L566.3,18.0L575.4,16.3L584.4,16.7L591.2,18.0L584.4,20.7L575.4,21.5L566.3,21.5L557.3,22.4ZM754.2,42.2L761.0,40.0L767.8,40.0L774.5,42.2L783.6,43.1L784.7,45.3L776.8,44.4L767.8,44.4L761.0,45.3L755.3,44.4ZM761.0,49.7L765.5,49.2L768.9,51.9L763.2,51.9ZM848.1,60.2L853.8,59.4L857.2,61.1L853.8,62.4L849.2,62.4ZM765.5,135.4L767.5,135.9L768.4,141.2L768.2,147.8L769.1,154.4L771.1,158.7L767.8,157.4L767.1,163.1L768.4,168.4L768.9,171.1L766.8,169.3L765.7,171.9L765.3,167.5L765.7,160.9L765.7,154.4L764.8,145.6L765.0,139.8ZM553.4,69.5L556.1,68.6L557.9,70.8L555.0,72.1ZM773.4,179.4L776.8,176.3L780.9,174.1L779.1,176.3L775.7,179.0ZM783.6,171.1L788.1,166.7L784.7,171.9ZM791.5,160.9L796.0,153.0L797.2,151.3L793.8,158.7ZM814.1,113.9L816.4,114.8L815.3,117.0Z" fill="#99D594"/>
<path d="M389.1,86.2L390.2,84.0L393.2,82.0L395.9,85.7L398.8,84.0L403.4,83.1L407.9,81.8L411.1,84.0L413.3,88.4L410.2,91.5L404.5,94.5L401.1,95.4L397.7,94.5L392.7,93.7L394.3,90.6L389.8,88.8L394.3,87.5Z" fill="#3288BD"/>
<path d="M421.9,147.8L420.8,145.1L422.8,142.5L421.5,139.0L421.5,135.9L424.9,135.0L425.3,131.9L427.6,131.0L427.6,132.4L425.8,134.6L427.6,136.3L429.8,136.5L430.3,139.8L430.1,144.2L429.6,144.7L426.0,146.4Z" fill="#3288BD"/>
<path d="M427.6,132.4L430.1,131.3L431.7,133.7L431.7,135.4L429.8,136.5L427.6,136.3L425.8,134.6ZM431.2,154.1L436.2,153.0L439.6,151.7L444.8,151.1L447.3,149.3L446.4,146.4L447.9,142.9L444.8,141.2L444.3,138.5L443.6,136.3L441.2,133.2L440.5,130.2L439.1,128.0L436.9,128.0L438.2,126.2L439.6,122.7L440.0,120.9L436.2,120.5L435.0,120.9L437.3,116.5L432.8,116.5L431.0,121.4L431.7,125.8L431.2,130.6L433.2,130.2L432.6,133.2L436.2,132.8L436.9,136.3L437.5,137.6L437.1,139.4L433.9,139.8L433.5,142.0L434.8,143.8L432.3,146.4L436.9,148.2L438.0,147.3L436.9,149.1L433.9,150.0ZM427.1,122.2L428.3,118.3L430.1,117.4L429.4,120.0ZM429.4,121.8L430.3,120.9L431.0,122.7L429.8,123.1ZM440.5,107.7L441.8,108.2L441.4,110.8L440.5,109.9ZM436.6,114.3L438.0,113.9L437.8,115.6L436.6,115.2Z" fill="#7F7F7F"/>
<path d="M469.4,114.8L467.9,113.4L465.6,115.6L462.2,118.7L459.3,118.7L456.5,115.2L455.4,108.6L455.4,102.5L458.8,98.5L463.3,95.0L467.6,93.2L470.1,88.8L472.4,84.0L475.8,78.3L479.2,73.9L483.7,69.5L487.1,66.8L492.8,65.5L497.3,62.9L502.5,61.6L507.5,62.0L514.3,64.6L513.8,67.3L513.8,68.1L509.7,70.3L507.5,66.4L502.9,66.8L502.3,69.9L497.3,72.1L492.8,69.9L490.5,70.6L489.4,73.4L484.8,73.0L481.4,77.4L479.2,82.7L476.9,87.1L475.1,90.6L471.7,95.0L471.7,101.6L472.6,106.0L471.7,110.4L470.6,112.1ZM473.5,75.2L476.9,73.9L480.3,71.2L478.0,72.1L474.7,74.3ZM469.0,26.8L470.1,23.3L475.8,23.3L480.3,22.4L483.7,24.6L487.1,27.7L492.8,28.6L487.1,31.2L482.6,36.9L478.0,35.6L475.8,32.1L471.3,29.0ZM484.8,21.5L489.4,20.2L498.4,21.1L505.2,22.4L496.2,25.0L489.4,24.2ZM491.6,30.3L496.2,31.2L497.3,33.4L492.8,33.8Z" fill="#99D594"/>
<path d="M469.4,114.8L469.4,117.8L471.3,121.8L473.1,126.6L473.3,130.6L476.5,130.2L476.9,127.5L480.3,127.1L481.4,121.4L481.9,117.0L486.0,113.4L486.7,109.5L483.0,106.9L483.3,100.3L486.0,96.7L490.5,93.7L492.8,89.3L494.6,85.3L498.8,84.9L497.7,81.8L498.0,77.4L493.9,73.0L490.5,70.6L489.4,73.4L484.8,73.0L481.4,77.4L479.2,82.7L476.9,87.1L475.1,90.6L471.7,95.0L471.7,101.6L472.6,106.0L471.7,110.4L470.6,112.1ZM485.3,123.6L486.7,119.6L487.6,119.6L486.7,122.2ZM481.2,127.1L482.8,122.2L482.3,124.9Z" fill="#3288BD"/>
<path d="M498.8,84.9L501.4,88.4L499.6,91.5L495.7,95.0L492.3,97.2L492.3,102.5L492.3,106.4L495.0,109.5L496.2,111.0L500.7,109.5L507.0,108.0L510.9,103.8L515.4,98.1L512.0,93.7L512.0,88.4L510.9,81.8L509.7,77.4L508.6,73.0L509.7,70.3L507.5,66.4L502.9,66.8L502.3,69.9L497.3,72.1L492.8,69.9L490.5,70.6L493.9,73.0L498.0,77.4L497.7,81.8Z" fill="#3288BD"/>
<path d="M463.6,132.8L462.7,129.7L462.4,125.8L462.7,123.6L465.6,122.7L468.1,120.3L467.6,125.8L468.8,126.6L467.2,128.4L466.3,131.0L465.6,133.0ZM469.0,129.3L472.4,127.5L472.6,129.7L471.7,132.4L469.4,131.5ZM466.3,130.2L468.5,130.2L468.3,132.4L466.7,131.9ZM469.0,132.8L471.3,133.2L470.8,134.1L469.0,133.7Z" fill="#99D594"/>
<path d="M463.6,132.8L465.6,133.0L466.7,134.6L469.0,135.0L469.0,136.8L472.4,135.0L474.7,134.1L476.2,137.2L476.5,141.2L477.1,143.4L477.4,146.4L478.0,150.0L476.5,149.7L473.5,152.2L471.7,153.0L472.6,156.5L475.3,159.6L474.4,161.4L473.1,162.7L473.6,165.3L471.7,164.9L467.9,165.8L465.8,165.1L463.6,164.0L461.3,164.9L461.3,161.8L462.7,158.7L458.6,156.8L457.9,153.7L457.7,151.1L458.1,148.2L457.7,146.2L459.5,145.1L459.9,142.9L460.4,140.1L459.9,138.1L462.9,138.5L463.6,137.2L464.5,136.8L463.8,135.0Z" fill="#3288BD"/>
<path d="M460.4,140.1L459.7,139.2L456.5,139.4L455.0,141.4L453.8,145.1L451.8,148.2L451.8,148.4L453.8,148.4L455.4,148.0L457.2,149.3L457.0,151.1L457.7,151.1L458.1,148.2L457.7,146.2L459.5,145.1L459.9,142.9Z" fill="#3288BD"/>
<path d="M451.8,148.4L449.9,149.5L451.3,151.3L453.6,154.4L455.1,153.7L455.2,155.2L457.2,156.3L457.1,154.4L457.9,153.7L457.7,151.1L457.0,151.1L457.2,149.3L455.4,148.0L453.8,148.4Z" fill="#3288BD"/>
<path d="M457.2,156.3L457.1,154.4L457.9,153.7L458.6,156.8L457.7,156.8Z" fill="#3288BD"/>
<path d="M449.9,149.5L447.7,150.4L447.7,153.5L444.6,155.7L441.4,157.0L439.8,155.7L440.5,160.3L437.3,159.6L433.2,161.4L434.4,164.0L438.4,166.2L441.4,171.1L441.4,177.7L440.0,183.4L442.5,185.6L445.7,186.2L447.9,187.3L451.3,187.6L450.9,184.7L452.7,182.9L455.0,183.6L456.3,184.0L459.0,184.5L461.1,181.7L461.5,179.9L459.7,179.0L459.9,175.5L459.5,172.6L459.5,170.2L457.9,171.1L457.9,169.5L459.9,166.2L461.3,164.9L461.3,161.8L462.7,158.7L458.6,156.8L457.7,156.8L457.2,156.3L455.2,155.2L455.1,153.7L453.6,154.4L451.3,151.3ZM463.6,187.8L465.4,185.1L465.7,189.1L464.9,192.2L463.6,190.0Z" fill="#99D594"/>
<path d="M440.0,183.4L435.5,182.9L431.2,182.5L426.7,181.8L423.3,184.3L424.0,190.0L425.5,189.1L429.2,189.8L430.1,191.3L428.5,193.9L428.3,199.6L427.1,199.9L428.3,206.2L427.4,210.6L429.6,212.4L431.4,215.9L434.1,212.8L439.1,212.6L442.5,208.9L444.6,203.8L443.4,200.5L446.1,194.8L449.1,192.2L451.6,189.5L451.3,187.6L447.9,187.3L445.7,186.2L442.5,185.6ZM449.5,200.1L451.3,198.5L451.8,200.1L450.9,201.4ZM447.0,202.3L447.7,202.7L447.3,203.4ZM452.7,198.1L453.8,198.8L452.9,198.8Z" fill="#99D594"/>
<path d="M424.0,190.0L424.4,193.9L423.7,198.3L422.6,203.6L424.2,205.4L424.2,207.6L423.7,211.5L426.2,211.5L427.4,210.6L428.3,206.2L427.1,199.9L428.3,199.6L428.5,193.9L430.1,191.3L429.2,189.8L425.5,189.1Z" fill="#99D594"/>
<path d="M461.1,181.7L464.2,179.0L467.0,180.7L467.9,185.6L470.8,189.1L471.9,190.9L475.3,193.1L476.5,194.8L478.0,197.5L479.6,198.3L480.5,202.7L479.9,205.8L479.5,207.1L480.5,207.3L481.7,205.4L482.8,202.7L481.4,199.6L482.3,196.4L483.0,196.4L484.8,199.0L486.0,197.7L484.6,195.3L480.3,191.7L480.8,190.0L478.0,189.5L475.8,186.5L474.9,182.7L472.4,180.3L471.9,176.8L471.9,174.6L473.7,173.3L475.3,173.7L474.9,171.9L475.1,169.7L472.2,168.9L471.7,167.3L469.0,168.4L467.8,168.2L467.0,170.6L465.1,170.2L464.5,172.6L463.2,170.2L461.9,172.2L460.1,172.4L459.5,172.6L459.9,175.5L459.7,179.0L461.5,179.9ZM472.3,207.6L474.3,206.5L479.3,206.0L478.3,210.2L478.3,212.8L476.5,211.5L473.3,209.1ZM462.7,194.4L464.9,192.8L466.3,196.1L465.8,201.8L464.5,202.7L463.1,202.3L463.1,197.0Z" fill="#99D594"/>
<path d="M457.9,171.1L457.9,169.5L459.9,166.2L461.3,164.9L463.6,164.0L465.8,165.1L465.8,167.3L467.8,168.2L467.0,170.6L465.1,170.2L464.5,172.6L463.2,170.2L461.9,172.2L460.1,172.4L459.5,172.6L459.5,170.2Z" fill="#3288BD"/>
<path d="M465.8,165.1L467.9,165.8L471.7,164.9L473.6,165.3L473.1,162.7L474.4,161.4L475.3,159.6L477.4,160.5L478.0,158.7L480.5,159.8L482.5,160.5L482.9,163.1L482.8,164.5L481.4,165.3L481.4,167.5L480.5,168.2L479.5,168.9L477.1,170.2L475.1,169.7L472.2,168.9L471.7,167.3L469.0,168.4L467.8,168.2L465.8,167.3Z" fill="#99D594"/>
<path d="M471.7,153.0L473.5,152.2L476.5,149.7L478.0,150.0L481.0,151.5L482.3,152.6L484.2,153.0L486.8,156.5L485.1,158.3L483.0,159.4L482.5,160.5L480.5,159.8L478.0,158.7L477.4,160.5L475.3,159.6L472.6,156.5Z" fill="#99D594"/>
<path d="M476.2,137.2L480.8,135.4L484.8,133.2L486.4,135.0L488.5,134.8L495.7,135.2L497.3,137.0L498.2,142.5L496.6,144.7L497.5,147.8L498.6,150.8L496.2,154.8L495.5,158.3L495.1,158.4L492.8,157.0L489.6,157.9L488.2,156.3L486.8,156.5L484.2,153.0L482.3,152.6L481.0,151.5L478.0,150.0L477.4,146.4L477.1,143.4L476.5,141.2Z" fill="#99D594"/>
<path d="M482.5,160.5L483.0,159.4L485.1,158.3L486.8,156.5L488.2,156.3L489.6,157.9L492.8,157.0L495.1,158.4L494.2,161.4L490.5,160.9L488.5,162.3L486.7,164.0L484.4,164.2L482.9,163.1Z" fill="#E6F598"/>
<path d="M482.9,163.1L484.4,164.2L486.7,164.0L488.5,162.3L490.5,160.9L494.2,161.4L495.9,163.1L493.9,164.9L492.3,169.3L489.9,171.5L486.9,172.4L484.2,172.2L482.3,170.4L481.2,169.3L480.5,168.2L481.4,167.5L481.4,165.3L482.8,164.5Z" fill="#99D594"/>
<path d="M475.3,173.7L474.9,171.9L475.1,169.7L477.1,170.2L479.5,168.9L480.5,168.2L481.2,169.3L479.6,171.1L478.7,174.1L477.1,173.7L474.9,174.4Z" fill="#99D594"/>
<path d="M474.9,174.4L477.1,173.7L478.7,174.1L479.6,171.1L481.2,169.3L482.3,170.4L484.2,172.2L486.9,172.4L487.2,174.6L487.1,176.8L484.8,175.9L482.3,175.5L479.9,175.5L479.7,177.2L480.8,179.9L482.6,182.9L483.9,185.1L485.9,187.3L486.0,187.8L483.9,185.6L481.4,182.9L480.1,182.1L478.5,179.9L477.8,176.3L476.7,175.0L475.6,177.2L474.7,174.4Z" fill="#99D594"/>
<path d="M479.7,177.2L479.9,175.5L482.3,175.5L484.8,175.9L487.1,176.8L488.0,179.4L488.2,182.5L486.4,184.3L485.9,187.3L483.9,185.1L482.6,182.9L480.8,179.9Z" fill="#99D594"/>
<path d="M486.9,172.4L489.9,171.5L492.8,175.5L492.5,177.2L495.0,177.7L495.5,179.9L494.8,182.9L496.2,184.7L494.8,188.2L493.0,188.4L493.4,186.5L491.9,184.3L490.2,185.8L487.7,182.9L488.2,182.5L488.0,179.4L487.1,176.8L487.2,174.6Z" fill="#99D594"/>
<path d="M490.2,185.8L491.9,184.3L493.4,186.5L493.0,188.4L490.7,190.0L489.6,187.1Z" fill="#7F7F7F"/>
<path d="M485.9,187.3L486.4,184.3L487.7,182.9L490.2,185.8L489.6,187.1L488.5,187.3L487.9,190.2L486.0,187.8Z" fill="#7F7F7F"/>
<path d="M487.9,190.2L488.5,187.3L489.6,187.1L490.7,190.0L490.5,192.6L491.6,194.6L491.0,197.0L489.4,199.6L487.8,196.6L488.1,192.6Z" fill="#3288BD"/>
<path d="M490.7,190.0L493.0,188.4L494.8,188.2L496.2,190.9L495.9,192.4L495.5,193.3L493.7,194.2L491.6,194.6L490.5,192.6Z" fill="#99D594"/>
<path d="M489.4,199.6L491.0,197.0L491.6,194.6L493.7,194.2L495.5,193.3L495.9,192.4L499.6,191.5L502.9,190.9L503.7,190.9L504.3,192.4L502.9,195.0L500.7,194.2L498.4,195.0L499.3,197.7L496.8,197.5L495.9,196.1L495.3,198.3L496.6,201.8L495.9,203.2L498.4,207.1L498.5,208.7L497.5,207.1L496.2,207.1L496.6,209.8L495.5,209.3L496.4,213.7L495.0,214.2L493.2,212.4L491.9,208.0L493.2,205.8L491.9,205.4L491.0,203.2L489.8,200.5ZM497.3,218.1L498.4,217.9L502.5,218.8L503.6,219.4L502.9,220.3L500.0,220.5L497.3,219.2ZM496.6,203.2L498.9,204.5L499.8,207.1L498.4,205.8ZM507.0,214.2L507.9,214.2L507.0,216.4ZM502.9,201.4L504.3,201.8L503.4,202.7ZM502.7,204.9L503.2,204.9L502.9,206.2ZM488.7,199.2L489.6,200.5L489.1,201.0ZM490.5,205.4L491.2,206.7L490.5,206.7Z" fill="#99D594"/>
<path d="M495.5,179.9L498.4,182.1L501.8,182.3L505.2,180.1L508.8,181.8L507.2,184.3L506.3,187.3L507.5,189.5L505.9,189.1L503.7,190.9L502.9,190.9L499.6,191.5L495.9,192.4L496.2,190.9L494.8,188.2L496.2,184.7L494.8,182.9Z" fill="#99D594"/>
<path d="M489.9,171.5L492.3,169.3L493.9,164.9L495.9,163.1L499.6,163.4L504.3,162.0L506.3,165.3L507.7,168.0L507.9,174.1L511.1,175.0L511.1,177.2L509.1,179.9L508.8,181.8L505.2,180.1L501.8,182.3L498.4,182.1L495.5,179.9L495.0,177.7L492.5,177.2L492.8,175.5Z" fill="#3288BD"/>
<path d="M504.3,162.0L507.0,161.2L510.0,163.4L510.2,165.8L512.2,170.2L509.5,170.0L509.6,171.9L507.9,174.1L507.7,168.0L506.3,165.3Z" fill="#99D594"/>
<path d="M497.5,147.8L499.1,146.9L501.8,146.0L507.0,147.8L510.4,148.2L513.4,148.6L514.0,145.1L516.1,145.1L519.2,144.0L521.3,147.1L524.2,149.7L524.7,152.6L529.0,153.0L532.1,155.0L535.1,156.1L534.2,159.6L534.4,163.8L532.1,163.8L530.6,167.1L527.4,168.6L523.8,171.5L523.3,173.3L526.9,174.6L524.2,176.3L522.2,179.0L519.7,178.5L517.7,174.8L520.1,171.5L516.5,171.1L515.4,169.3L513.7,169.7L512.9,171.9L511.3,174.6L511.1,175.0L507.9,174.1L509.6,171.9L509.5,170.0L512.2,170.2L510.2,165.8L510.0,163.4L507.0,161.2L504.3,162.0L499.6,163.4L495.9,163.1L494.2,161.4L495.1,158.4L495.5,158.3L496.2,154.8L498.6,150.8Z" fill="#99D594"/>
<path d="M497.3,137.0L500.7,136.3L502.5,132.8L504.3,131.0L504.3,129.3L507.8,127.3L510.6,128.8L514.0,129.7L513.8,133.2L516.1,136.8L518.1,139.4L515.2,140.3L516.1,145.1L514.0,145.1L513.4,148.6L510.4,148.2L507.0,147.8L501.8,146.0L499.1,146.9L497.5,147.8L496.6,144.7L498.2,142.5Z" fill="#99D594"/>
<path d="M492.3,131.3L491.7,127.7L493.9,126.2L500.5,126.2L504.3,129.3L504.3,131.0L502.5,132.8L500.7,136.3L497.3,137.0L495.7,135.2L495.5,132.6Z" fill="#99D594"/>
<path d="M491.7,127.7L491.6,124.4L492.8,121.1L495.3,120.3L496.6,123.6L498.6,123.3L499.2,119.7L501.4,119.2L504.1,121.1L506.0,121.1L507.0,122.2L507.8,127.3L504.3,129.3L500.5,126.2L493.9,126.2Z" fill="#99D594"/>
<path d="M499.2,119.7L499.6,117.6L497.3,116.1L497.3,113.9L500.1,112.8L502.9,112.1L507.5,112.8L506.1,115.6L506.3,118.3L506.0,121.1L504.1,121.1L501.4,119.2ZM493.4,117.8L496.2,116.5L496.6,117.4L494.3,119.2ZM494.3,115.2L496.2,114.8L495.7,116.1Z" fill="#99D594"/>
<path d="M502.9,195.0L504.3,192.4L503.7,190.9L505.9,189.1L507.5,189.5L510.0,192.8L514.9,193.5L519.5,189.5L523.5,189.3L526.3,192.6L531.0,194.2L534.6,193.9L538.1,191.7L540.3,192.0L542.4,193.5L543.0,197.9L545.5,199.6L544.6,201.0L543.7,201.0L544.8,205.8L544.4,207.6L545.5,210.9L543.9,210.2L540.0,211.1L536.9,211.1L532.4,212.8L528.1,213.1L527.0,214.8L526.0,216.6L525.5,216.4L526.0,213.3L524.4,213.5L522.4,212.4L520.4,215.3L518.3,215.7L516.5,213.5L513.6,212.2L512.9,214.8L510.0,213.1L507.9,212.4L506.1,211.5L505.7,207.6L503.6,205.8L505.0,205.1L504.5,201.4L503.2,200.5L503.4,198.3L506.3,196.6L509.7,196.4L510.2,194.6L507.5,194.2L505.2,195.9Z" fill="#99D594"/>
<path d="M517.2,220.1L518.8,218.8L522.3,217.5L521.1,220.3L518.8,222.1L517.4,221.4Z" fill="#99D594"/>
<path d="M534.6,183.4L540.3,184.3L543.2,186.9L545.9,186.5L549.1,190.0L549.8,192.6L545.9,192.6L542.4,193.5L540.3,192.0L538.1,191.7L538.3,188.7L536.9,185.4Z" fill="#99D594"/>
<path d="M542.4,193.5L545.9,192.6L547.1,195.3L548.0,197.5L549.3,200.5L549.3,203.2L548.4,203.4L547.1,200.5L545.5,199.6L543.0,197.9Z" fill="#99D594"/>
<path d="M549.1,190.0L549.9,190.2L552.3,193.1L554.0,190.2L555.5,193.9L557.9,196.6L556.1,197.7L555.7,201.4L554.8,205.1L552.7,203.4L553.4,201.0L550.5,201.6L549.3,203.2L549.3,200.5L548.0,197.5L547.1,195.3L545.9,192.6L549.8,192.6ZM545.5,199.6L547.1,200.5L548.4,203.4L546.9,202.7L545.8,201.0Z" fill="#99D594"/>
<path d="M405.9,249.3L407.7,248.7L406.5,251.1ZM408.3,250.7L409.2,250.7L409.0,252.2ZM411.7,248.5L412.9,248.0L412.2,250.7ZM412.9,245.8L413.8,245.8L413.1,247.1ZM403.4,247.6L404.0,247.6L403.8,248.9Z" fill="#7F7F7F"/>
<path d="M555.5,170.6L555.0,170.2L553.2,164.5L550.9,164.2L550.0,159.2L551.6,152.6L554.1,151.7L559.1,146.7L562.9,147.8L567.4,150.0L570.2,151.7L576.5,149.7L578.8,151.9L583.1,150.8L583.3,148.6L579.9,145.6L583.3,141.2L582.2,137.0L591.7,135.0L600.3,131.0L604.6,131.0L605.2,135.9L610.5,136.8L617.2,135.9L620.4,139.8L625.4,150.8L632.0,150.0L636.9,156.1L641.7,158.3L640.6,159.6L638.1,161.8L637.6,167.3L632.0,166.7L630.6,174.1L631.0,175.5L627.2,175.9L624.9,176.8L626.1,180.7L627.0,184.5L625.6,188.7L623.4,186.0L617.2,185.1L611.6,184.3L610.5,187.3L604.8,186.9L604.7,188.4L602.5,190.4L600.3,192.4L598.2,194.8L595.1,193.3L593.5,185.6L593.0,185.6L584.4,182.9L582.2,179.0L576.5,173.9L570.8,176.3L570.8,192.6L568.1,189.5L564.1,189.1L562.8,190.6L562.9,186.0L559.5,178.5L557.9,178.1L560.0,175.5L564.1,175.0L564.5,168.9L560.7,167.5Z" fill="#3288BD"/>
<path d="M570.8,192.6L570.8,176.3L576.5,173.9L582.2,179.0L584.4,182.9L593.0,185.6L593.5,185.6L595.1,193.3L598.2,194.8L600.3,192.4L602.5,190.4L604.7,188.4L605.5,188.7L606.4,191.7L609.5,194.6L608.0,196.4L606.4,197.7L603.7,196.6L603.4,193.9L600.9,195.0L600.3,197.5L599.4,197.9L598.0,200.5L596.6,201.4L597.6,203.2L598.2,205.4L597.6,210.6L594.6,210.0L592.6,206.2L589.0,202.9L585.3,198.3L584.2,193.5L580.1,192.2L579.9,188.7L576.7,186.5L574.9,188.7L573.1,192.6Z" fill="#3288BD"/>
<path d="M562.8,190.6L564.1,189.1L568.1,189.5L570.8,192.6L573.1,192.6L574.9,188.7L576.7,186.5L579.9,188.7L580.1,192.2L584.2,193.5L585.3,198.3L589.0,202.9L592.6,206.2L594.6,210.0L592.8,209.3L590.8,211.1L589.9,215.0L586.9,216.6L585.1,219.4L582.8,217.7L582.4,213.3L579.9,211.5L577.2,208.4L573.6,206.0L569.5,207.1L566.1,210.0L565.9,203.2L564.1,200.5L565.2,198.3L563.6,194.4L566.3,193.1Z" fill="#3288BD"/>
<path d="M604.7,188.4L604.8,186.9L610.5,187.3L611.6,184.3L617.2,185.1L623.4,186.0L625.6,188.7L621.5,192.2L617.9,193.9L616.1,196.6L613.4,196.1L611.1,199.2L610.8,200.7L606.6,201.4L600.9,200.3L601.6,197.5L603.7,198.1L603.7,196.6L606.4,197.7L608.0,196.4L609.5,194.6L606.4,191.7L605.5,188.7Z" fill="#3288BD"/>
<path d="M597.6,210.6L598.2,205.4L597.6,203.2L596.6,201.4L598.0,200.5L599.4,197.9L600.3,197.5L600.9,195.0L603.4,193.9L603.7,196.6L603.7,198.1L601.6,197.5L600.9,200.3L606.6,201.4L610.8,200.7L611.1,204.5L613.6,205.1L614.2,209.8L613.6,210.4L610.0,209.5L606.6,212.8L605.7,207.6L603.0,207.6L602.8,209.1L600.9,211.1Z" fill="#3288BD"/>
<path d="M642.8,158.0L647.1,155.2L652.3,151.3L658.0,154.4L664.3,155.4L666.6,153.0L665.5,150.0L667.7,145.1L675.4,148.6L676.1,152.6L684.0,153.0L688.5,157.0L697.6,157.0L703.2,153.3L708.2,155.1L706.6,159.6L705.5,163.6L710.0,164.5L715.2,168.9L708.9,170.2L705.5,174.6L697.6,176.3L697.1,182.1L693.1,186.5L686.3,190.4L681.7,191.3L672.7,186.9L663.6,186.2L662.1,186.0L660.2,179.9L655.7,176.3L649.8,175.0L648.9,165.3L644.4,161.8Z" fill="#99D594"/>
<path d="M739.7,187.8L737.9,185.6L733.8,189.5L731.3,190.6L727.7,195.5L725.5,198.5L720.2,202.5L718.4,203.8L719.1,200.1L720.7,195.7L718.0,194.6L714.6,199.0L710.7,202.3L713.2,209.3L713.9,210.9L717.5,208.0L721.6,210.2L718.0,213.3L716.4,215.7L714.1,220.3L716.8,226.9L719.8,234.0L720.0,238.4L717.7,241.0L720.0,242.7L719.3,249.8L717.1,253.3L714.8,260.3L712.5,266.1L708.2,271.8L702.8,275.7L701.0,276.6L697.1,279.3L694.0,280.6L693.7,285.0L692.4,280.1L688.5,279.5L685.6,277.5L685.4,273.5L682.4,271.8L679.3,275.1L675.3,275.5L674.5,281.0L673.0,279.5L673.0,281.2L670.4,278.8L668.6,276.6L669.1,272.7L667.5,268.7L665.0,268.7L667.3,260.8L667.5,252.9L664.4,250.0L661.4,245.4L658.0,245.8L652.3,252.0L651.5,252.2L650.1,251.1L647.8,249.8L645.5,253.3L645.3,254.2L643.6,251.6L640.8,251.2L638.1,249.8L634.2,245.8L629.7,241.0L627.5,241.4L624.0,237.9L622.2,235.7L621.5,231.3L623.6,230.9L622.7,227.8L623.8,223.0L620.6,218.1L616.6,216.8L614.8,211.7L612.8,211.4L613.6,210.4L614.2,209.8L613.6,205.1L611.1,204.5L610.8,200.7L611.1,199.2L613.4,196.1L616.1,196.6L617.9,193.9L621.5,192.2L625.6,188.7L627.0,184.5L626.1,180.7L624.9,176.8L627.2,175.9L631.0,175.5L630.6,174.1L632.0,166.7L637.6,167.3L638.1,161.8L640.6,159.6L641.7,158.3L642.8,158.0L644.4,161.8L648.9,165.3L649.8,175.0L655.7,176.3L660.2,179.9L662.1,186.0L663.6,186.2L672.7,186.9L681.7,191.3L686.3,190.4L693.1,186.5L697.1,182.1L697.6,176.3L705.5,174.6L708.9,170.2L715.2,168.9L710.0,164.5L705.5,163.6L706.6,159.6L708.2,155.1L710.7,156.5L713.4,154.4L717.3,145.6L715.7,142.9L718.0,139.8L723.6,138.7L728.1,140.9L729.3,143.4L732.7,153.0L732.7,155.2L736.1,157.0L739.7,159.2L740.6,164.5L744.0,164.2L749.2,161.4L747.4,167.5L745.3,175.9L741.3,176.8L741.0,182.9L739.9,188.2ZM690.1,289.4L691.9,286.3L694.6,285.9L695.3,288.0L693.1,293.3L691.9,294.2L690.1,292.9Z" fill="#99D594"/>
<path d="M718.0,264.3L720.0,263.9L719.1,268.7L717.7,277.5L716.1,274.0L715.9,270.9L717.3,266.1Z" fill="#99D594"/>
<path d="M725.5,198.5L727.7,195.5L731.3,190.6L733.8,189.5L737.9,185.6L739.7,187.8L739.9,188.2L737.7,192.2L737.7,194.6L734.5,198.3L732.7,199.2L732.7,201.4L734.6,204.5L731.8,205.8L730.9,208.0L727.7,208.4L726.3,206.7L727.5,204.0L727.7,201.0Z" fill="#99D594"/>
<path d="M730.9,208.0L731.8,205.8L734.6,204.5L737.0,211.5L737.3,215.9L736.7,219.0L733.8,221.0L730.4,223.2L730.2,218.1L730.4,212.8L730.6,211.5L729.5,208.4ZM729.7,227.4L731.3,226.9L730.6,228.2Z" fill="#99D594"/>
<path d="M763.0,191.7L764.4,196.1L765.5,200.1L764.4,205.8L763.2,211.5L762.3,214.6L763.0,217.2L760.7,220.3L760.5,217.7L759.2,219.4L758.2,221.9L756.9,222.1L754.2,222.1L753.9,220.3L753.0,223.4L751.5,227.1L749.9,223.8L750.6,221.9L747.4,222.1L744.0,223.4L740.6,224.9L740.6,223.0L744.0,218.6L745.6,217.9L748.5,217.7L751.9,217.2L752.4,214.6L753.7,211.5L754.9,209.3L754.6,212.4L757.6,209.8L759.6,205.8L761.0,199.2L761.0,195.7L761.6,193.1ZM761.4,191.7L761.0,187.3L762.1,183.8L764.1,183.8L764.8,174.6L767.8,178.5L770.7,180.7L773.0,179.4L773.6,183.8L770.0,185.4L768.4,189.5L765.0,186.9L763.0,187.8L763.2,190.6ZM744.0,226.5L745.1,224.7L748.1,223.2L749.0,225.6L747.8,228.0L745.6,227.4L745.1,230.2L743.8,229.1ZM740.4,225.2L742.2,226.5L742.9,230.0L741.7,235.3L740.6,237.9L739.0,236.6L738.8,232.2L737.7,230.4L737.9,227.4L739.2,226.5ZM733.1,259.0L734.5,256.4L733.8,258.6ZM738.3,249.3L737.2,249.8L737.0,250.7Z" fill="#99D594"/>
<path d="M598.5,270.0L600.0,276.2L602.5,281.9L604.8,283.2L607.3,281.0L608.4,276.2L608.9,281.9L608.9,290.7L610.0,299.5L611.1,306.5L613.4,317.5L615.7,325.0L616.8,330.7L618.4,337.7L619.6,338.7L621.1,335.1L622.9,333.3L624.9,329.0L624.8,323.7L625.8,316.6L625.4,308.3L627.4,304.8L630.4,301.2L632.6,296.4L636.5,289.4L639.6,286.3L641.0,283.2L641.2,279.7L643.7,279.3L645.8,278.4L645.3,272.2L644.9,267.4L643.5,266.1L644.2,263.4L645.3,263.0L644.2,258.6L644.4,257.7L647.3,259.9L647.3,263.0L653.2,264.1L652.8,266.9L650.5,268.7L650.5,270.9L651.6,273.1L652.1,270.5L653.0,270.0L653.7,277.7L655.0,276.6L655.5,269.1L657.2,269.4L658.4,263.4L659.6,256.8L663.6,255.1L664.4,250.0L661.4,245.4L658.0,245.8L652.3,252.0L651.5,252.2L652.5,256.2L647.5,256.8L645.3,255.7L645.3,254.2L643.6,251.6L643.5,257.9L638.3,257.3L634.4,253.3L632.6,254.0L629.5,251.5L625.4,247.6L625.8,243.4L627.5,241.4L624.0,237.9L622.2,235.7L621.5,231.3L623.6,230.9L622.7,227.8L623.8,223.0L620.6,218.1L620.2,218.1L618.1,221.9L615.7,222.5L611.6,221.6L611.4,226.0L612.7,230.0L614.8,232.2L612.9,237.5L611.4,242.3L609.1,247.1L606.8,251.5L603.4,251.1L601.6,254.6L603.0,257.7L602.8,261.2L604.6,266.9L599.8,267.4ZM653.9,314.9L654.6,315.8L654.4,322.4L653.7,322.8L653.7,318.0ZM656.2,342.1L656.6,343.5L656.4,344.3Z" fill="#99D594"/>
<path d="M583.5,263.4L590.1,263.2L594.6,262.5L596.6,268.7L598.5,270.0L599.8,267.4L604.6,266.9L602.8,261.2L603.0,257.7L601.6,254.6L603.4,251.1L606.8,251.5L609.1,247.1L611.4,242.3L612.9,237.5L614.8,232.2L612.7,230.0L611.4,226.0L611.6,221.6L615.7,222.5L618.1,221.9L620.2,218.1L616.6,216.8L614.8,211.7L612.8,211.4L609.3,212.2L606.2,214.2L605.2,216.1L606.2,219.4L605.0,223.8L602.5,224.7L602.5,228.2L601.2,230.4L600.9,234.0L598.2,234.8L595.1,237.0L594.2,242.7L589.2,244.9L585.6,244.9L581.9,242.9L584.0,248.5L586.2,250.0L586.2,254.4L587.4,257.3L585.1,258.1Z" fill="#E6F598"/>
<path d="M581.9,242.9L585.6,244.9L589.2,244.9L594.2,242.7L595.1,237.0L598.2,234.8L600.9,234.0L601.2,230.4L602.5,228.2L602.5,224.7L605.0,223.8L606.2,219.4L605.2,216.1L606.2,214.2L609.3,212.2L612.8,211.4L613.6,210.4L610.0,209.5L606.6,212.8L605.7,207.6L603.0,207.6L602.8,209.1L600.9,211.1L597.6,210.6L594.6,210.0L592.8,209.3L590.8,211.1L589.9,215.0L586.9,216.6L585.1,219.4L582.8,217.7L581.0,224.7L581.3,229.1L581.8,235.7L584.0,236.4L584.0,238.6Z" fill="#E6F598"/>
<path d="M625.4,247.6L625.8,243.4L627.5,241.4L629.7,241.0L634.2,245.8L638.1,249.8L640.8,251.2L643.6,251.6L643.5,257.9L638.3,257.3L634.4,253.3L632.6,254.0L629.5,251.5Z" fill="#99D594"/>
<path d="M645.3,254.2L645.5,253.3L647.8,249.8L650.1,251.1L651.5,252.2L652.5,256.2L647.5,256.8L645.3,255.7Z" fill="#E6F598"/>
<path d="M645.8,278.4L645.3,272.2L644.9,267.4L643.5,266.1L644.2,263.4L645.3,263.0L644.2,258.6L644.4,257.7L647.3,259.9L647.3,263.0L653.2,264.1L652.8,266.9L650.5,268.7L650.5,270.9L651.6,273.1L652.1,270.5L653.0,270.0L653.7,277.7L653.0,283.2L651.9,276.2L649.6,275.7L648.5,277.9Z" fill="#E6F598"/>
<path d="M624.5,338.2L625.2,331.1L627.2,334.7L629.2,341.3L628.8,345.7L626.5,348.1L625.2,347.0L624.7,343.5Z" fill="#E6F598"/>
<path d="M653.0,283.2L653.7,277.7L655.0,276.6L655.5,269.1L657.2,269.4L658.4,263.4L659.6,256.8L663.6,255.1L664.4,250.0L667.5,252.9L667.3,260.8L665.0,268.7L667.5,268.7L669.1,272.7L668.6,276.6L670.4,278.8L673.0,281.2L670.7,284.8L668.2,285.9L665.9,287.6L665.2,292.9L665.5,296.8L667.3,301.7L666.4,307.4L668.4,313.6L668.6,319.3L669.5,322.4L667.7,328.1L667.1,330.4L667.0,322.4L667.3,317.1L666.1,312.7L665.2,304.3L665.0,301.7L663.6,299.5L661.8,301.7L659.8,304.8L657.5,303.9L658.0,297.3L656.9,290.7L655.3,286.3Z" fill="#E6F598"/>
<path d="M670.7,284.8L671.6,285.6L671.8,288.5L673.1,288.3L672.7,295.1L672.9,297.3L675.2,294.2L676.5,295.7L678.1,293.3L681.1,297.7L681.3,302.6L683.1,307.0L682.2,311.1L677.2,311.6L676.1,314.7L676.1,318.6L677.0,323.0L675.4,320.6L672.7,318.6L672.5,315.1L670.4,315.3L670.4,321.5L668.6,328.1L668.8,333.3L670.4,336.9L671.3,342.6L674.5,345.9L675.2,346.8L672.9,349.4L670.9,344.8L670.7,345.9L669.8,343.9L668.4,339.9L666.6,339.5L666.6,335.1L667.1,330.4L667.7,328.1L669.5,322.4L668.6,319.3L668.4,313.6L666.4,307.4L667.3,301.7L665.5,296.8L665.2,292.9L665.9,287.6L668.2,285.9Z" fill="#E6F598"/>
<path d="M670.7,284.8L673.0,281.2L673.0,279.5L674.5,281.0L675.3,275.5L677.0,278.8L677.2,282.3L680.8,284.5L679.5,288.9L682.2,292.4L685.4,299.5L687.6,307.4L687.5,309.6L684.0,311.1L682.2,311.1L683.1,307.0L681.3,302.6L681.1,297.7L678.1,293.3L676.5,295.7L675.2,294.2L672.9,297.3L672.7,295.1L673.1,288.3L671.8,288.5L671.6,285.6Z" fill="#FEE08B"/>
<path d="M688.5,279.5L686.3,281.9L685.6,283.2L683.6,289.4L685.1,296.4L687.0,300.4L689.2,303.4L691.3,310.5L691.5,319.3L690.8,324.1L686.7,328.5L685.4,332.0L681.7,336.4L681.5,331.1L680.5,328.5L682.0,326.1L684.5,325.4L683.8,322.8L687.4,320.2L687.5,309.6L687.6,307.4L685.4,299.5L682.2,292.4L679.5,288.9L680.8,284.5L677.2,282.3L677.0,278.8L675.3,275.5L679.3,275.1L682.4,271.8L685.4,273.5L685.6,277.5Z" fill="#7F7F7F"/>
<path d="M677.0,323.0L676.1,318.6L676.1,314.7L677.2,311.6L682.2,311.1L684.0,311.1L687.5,309.6L687.4,320.2L683.8,322.8L684.5,325.4L682.0,326.1L680.5,328.5L678.6,328.1L677.4,325.9Z" fill="#FEE08B"/>
<path d="M670.7,345.9L670.9,344.8L672.9,349.4L675.2,346.8L678.1,354.5L678.4,361.9L680.2,368.1L678.4,368.5L675.4,364.6L673.4,361.5L672.0,356.7L671.2,350.5ZM692.3,365.2L695.8,367.7L696.2,363.3L699.9,360.2L702.1,354.5L705.5,352.3L706.9,347.9L708.5,343.5L710.5,346.1L711.4,348.7L713.9,351.8L711.6,354.9L710.3,356.0L706.4,355.1L705.7,359.3L704.4,361.9L703.9,365.9L701.9,368.1L698.0,368.1L694.4,370.5Z" fill="#E6F598"/>
<path d="M702.3,354.0L705.1,352.5L704.8,355.3L703.5,356.7Z" fill="#7F7F7F"/>
<path d="M659.8,349.6L664.8,351.4L666.6,356.2L668.2,358.4L671.3,364.1L673.8,366.8L677.2,371.6L679.0,376.9L680.6,382.2L684.0,387.4L683.8,394.0L683.6,400.0L680.8,399.8L680.2,396.2L675.6,391.4L672.7,384.4L671.3,378.4L668.4,372.9L667.5,366.8L664.1,360.2L661.6,355.8ZM682.2,404.2L684.2,400.2L685.8,401.1L689.9,403.7L694.0,404.8L695.3,402.4L699.2,405.9L703.0,408.6L703.0,412.5L699.2,411.2L694.2,409.9L689.7,408.6L685.1,406.8ZM692.3,365.2L694.4,370.5L698.0,368.1L701.9,368.1L703.9,365.9L704.4,361.9L705.7,359.3L706.4,355.1L710.3,356.0L710.7,361.1L713.2,369.9L710.9,370.7L710.0,377.8L708.2,380.0L707.3,385.2L706.6,390.1L703.5,392.5L699.9,388.3L697.1,389.6L693.5,387.0L693.1,380.0L691.0,375.6L690.8,369.0ZM715.2,370.7L717.7,368.5L722.5,370.1L726.6,367.2L727.5,368.1L725.4,372.5L722.5,372.1L718.0,372.3L715.9,374.2L715.7,377.8L718.6,378.2L723.2,377.3L723.4,378.6L719.8,381.7L720.7,387.4L722.9,392.7L722.0,395.8L719.3,395.4L719.1,391.4L717.7,386.1L716.4,387.4L716.6,395.4L716.6,398.9L714.6,398.4L714.3,391.8L713.0,386.6L713.9,382.2L715.0,374.7ZM740.6,377.8L744.0,375.8L747.4,377.8L748.5,385.2L750.8,389.2L753.0,383.9L756.4,381.3L759.8,383.9L763.2,385.7L763.2,414.3L760.7,409.9L756.4,411.2L758.0,405.0L756.4,398.4L751.9,394.0L747.4,391.4L744.9,391.8L742.9,387.0L746.3,385.2L742.9,383.0L740.6,380.8ZM723.6,419.5L724.7,415.2L727.0,413.4L727.2,415.6L725.7,418.9ZM703.2,410.3L706.0,411.2L704.8,413.0ZM706.6,411.2L708.2,411.2L707.8,413.4L706.6,413.0ZM708.5,412.1L713.4,410.8L713.4,413.0L708.9,413.8ZM715.5,411.2L722.3,410.3L722.0,412.5L715.5,413.0ZM713.4,416.0L717.5,417.8L716.1,419.5L713.4,417.4ZM733.8,387.4L740.1,388.8L739.5,390.1L733.8,389.2ZM729.3,388.3L732.0,388.8L731.1,391.0L729.3,390.1ZM732.7,366.3L733.8,364.6L735.4,369.9L733.8,372.5L735.6,372.9L733.8,377.8L733.1,372.1ZM682.2,381.3L685.6,385.2L685.1,387.4L682.9,383.9ZM687.6,385.7L689.2,387.0L688.5,388.3L687.6,387.4ZM664.1,368.1L665.7,371.6L664.8,370.3ZM667.3,378.6L668.8,382.2L667.9,381.3ZM725.4,410.8L727.2,410.3L725.9,411.6ZM740.6,407.2L742.2,405.9L742.0,409.4L740.8,409.4ZM747.8,399.8L749.2,400.2L748.5,404.2L747.6,402.8ZM721.4,396.2L722.9,397.1L721.8,398.9ZM750.8,377.3L753.0,378.6L751.9,379.5ZM738.8,374.7L741.0,375.6L739.5,376.0Z" fill="#FEE08B"/>
<path d="M727.0,413.4L729.3,411.6L732.2,411.2L730.4,413.8L727.2,415.6Z" fill="#FEE08B"/>
<path d="M717.1,292.9L720.2,292.9L720.9,298.2L719.3,304.3L719.3,311.4L721.8,311.4L725.0,317.1L724.7,319.1L723.2,316.2L720.9,314.9L718.0,314.0L717.1,311.4L717.7,310.0L716.6,310.0L715.5,304.8L715.2,302.6L716.4,303.4L716.6,297.3ZM720.2,343.5L722.0,338.6L724.3,339.1L726.3,336.9L728.1,334.7L728.1,331.1L730.0,335.1L730.4,342.1L729.7,346.5L728.6,343.5L727.9,347.9L727.7,349.6L725.2,347.0L724.7,342.1L723.4,341.7L722.3,341.7ZM725.4,319.3L727.7,319.7L728.6,325.4L727.0,325.0ZM725.7,324.1L727.0,325.9L727.5,329.4L726.6,330.3ZM722.3,326.3L723.6,326.8L722.9,334.2L721.6,332.9L721.1,330.3ZM720.2,321.9L722.7,323.7L721.6,327.6L720.0,328.1ZM723.4,328.1L724.7,325.0L724.1,330.3L723.2,332.5ZM714.3,324.6L715.0,328.1L712.3,333.3L709.4,337.7L709.6,336.4L712.8,330.3ZM716.6,315.3L718.9,315.8L719.1,319.7L718.4,320.6L717.3,318.0ZM724.3,330.7L725.9,330.3L725.7,332.0ZM722.9,319.7L724.7,321.5L723.2,321.9Z" fill="#FEE08B"/>
<path d="M525.5,216.4L526.0,216.6L527.0,214.8L528.1,213.1L532.4,212.8L536.9,211.1L540.0,211.1L537.6,213.7L537.8,217.7L536.9,223.0L531.9,227.5L527.4,232.2L525.0,230.2L525.2,227.4L526.9,223.8L526.5,222.1L525.5,221.9L525.0,218.1Z" fill="#E6F598"/>
<path d="M523.5,228.7L525.2,227.4L526.9,223.8L526.5,222.1L525.5,221.9L524.4,225.2Z" fill="#E6F598"/>
<path d="M521.6,236.6L523.1,244.5L524.2,237.9L524.6,231.8L525.0,230.2L525.2,227.4L523.5,228.7L523.2,230.0L522.6,233.5Z" fill="#3288BD"/>
<path d="M523.2,244.9L524.2,237.9L524.6,231.8L525.0,230.2L527.4,232.2L531.9,227.5L532.8,232.9L527.8,235.7L530.1,240.1L529.0,242.3L527.3,243.0L525.8,245.8Z" fill="#99D594"/>
<path d="M540.0,211.1L543.9,210.2L545.5,210.9L546.9,215.9L548.2,217.2L548.7,219.9L547.1,222.5L547.1,225.2L548.4,228.7L551.4,231.8L552.3,234.4L552.1,237.9L552.7,240.1L554.0,242.5L552.7,242.3L552.1,241.9L550.5,242.5L549.5,246.3L545.3,245.8L539.4,237.5L535.5,233.7L532.8,232.9L531.9,227.5L536.9,223.0L537.8,217.7L537.6,213.7Z" fill="#E6F598"/>
<path d="M549.5,246.3L550.5,242.5L552.1,241.9L552.7,242.3L552.7,245.4L553.6,248.7L551.8,248.7L551.5,246.7Z" fill="#99D594"/>
<path d="M523.2,244.9L525.8,245.8L527.3,243.0L529.0,242.3L530.1,240.1L527.8,235.7L532.8,232.9L535.5,233.7L539.4,237.5L545.3,245.8L549.5,246.3L551.5,246.7L551.8,248.7L553.6,248.7L554.5,252.4L556.6,255.9L557.7,257.3L557.7,261.2L559.1,265.4L560.0,266.1L560.9,267.6L561.8,273.1L568.8,274.9L569.0,274.4L570.2,277.5L568.6,286.3L561.8,290.7L555.0,292.4L551.6,299.0L548.9,298.6L544.8,297.7L542.1,297.7L541.9,300.8L541.0,302.1L540.3,297.3L537.3,290.7L534.6,285.0L532.7,279.7L531.2,270.9L528.3,264.3L526.7,259.9L524.4,253.3L522.4,250.7Z" fill="#99D594"/>
<path d="M541.0,302.1L541.9,300.8L542.1,297.7L544.8,297.7L548.9,298.6L551.6,299.0L555.0,292.4L561.8,290.7L564.3,301.0L562.2,305.6L555.0,312.7L551.6,314.9L545.9,318.2L542.6,318.6L541.9,315.8L541.4,310.5L540.7,306.1ZM565.0,318.8L567.4,319.1L565.9,320.2Z" fill="#E6F598"/>
<path d="M564.3,301.0L561.8,290.7L568.6,286.3L570.2,277.5L569.0,274.4L570.4,268.7L570.8,264.7L571.8,264.5L573.1,268.7L576.7,270.5L579.4,275.3L577.0,284.1L574.9,290.7L574.7,291.1L572.0,295.1L569.3,297.3L566.5,299.5ZM571.1,259.9L572.0,258.6L571.8,261.7Z" fill="#3288BD"/>
<path d="M560.9,267.6L561.8,273.1L568.8,274.9L569.0,274.4L570.4,268.7L570.8,264.7L571.8,264.5L571.5,261.7L571.1,259.9L569.3,263.0L567.2,266.5L564.1,268.0Z" fill="#E6F598"/>
<path d="M559.1,265.4L559.0,262.1L560.0,259.2L560.9,260.8L560.9,264.3L560.0,266.1Z" fill="#99D594"/>
<path d="M545.5,199.6L546.9,202.7L548.4,203.4L549.3,203.2L550.5,201.6L553.4,201.0L552.7,203.4L554.8,205.1L555.2,208.9L557.7,209.8L559.5,212.4L562.9,212.8L566.1,212.0L566.1,210.0L569.5,207.1L573.6,206.0L577.2,208.4L579.9,211.5L582.4,213.3L582.8,217.7L581.0,224.7L581.3,229.1L581.8,235.7L584.0,236.4L584.0,238.6L581.9,242.9L584.0,248.5L586.2,250.0L586.2,254.4L587.4,257.3L585.1,258.1L583.5,263.4L578.8,262.5L574.9,261.2L573.1,255.5L571.5,254.8L567.9,257.5L564.1,255.5L560.7,251.8L559.1,247.1L557.5,241.7L555.0,240.6L554.0,242.5L552.7,240.1L552.1,237.9L552.3,234.4L551.4,231.8L548.4,228.7L547.1,225.2L547.1,222.5L548.7,219.9L548.2,217.2L546.9,215.9L545.5,210.9L544.4,207.6L544.8,205.8L543.7,201.0L544.6,201.0Z" fill="#7F7F7F"/>
<path d="M439.1,219.9L441.8,217.2L444.3,215.9L447.0,213.7L451.0,212.4L455.6,212.4L459.7,212.0L461.8,212.0L463.6,211.7L462.9,215.9L462.9,221.6L461.1,224.3L461.1,228.2L464.6,233.1L465.7,241.3L466.5,249.8L466.1,257.7L465.4,259.5L466.7,265.2L471.2,270.9L461.1,282.3L457.2,288.5L453.7,290.0L451.6,290.7L451.3,287.2L446.8,283.2L446.7,281.5L433.2,264.3L424.5,254.2L424.5,252.6L424.5,248.0L428.0,244.1L431.7,243.2L435.7,238.4L437.3,234.8L441.4,232.6L440.0,229.1L440.3,222.5Z" fill="#3288BD"/>
<path d="M405.5,282.8L405.6,280.1L407.9,270.0L410.4,265.6L411.5,259.0L413.8,255.5L414.2,252.6L418.1,249.8L421.5,244.9L422.1,240.6L421.9,235.7L423.3,230.9L426.9,226.5L428.7,224.7L430.5,219.4L430.7,216.8L432.1,216.4L433.5,219.4L437.3,219.0L439.1,219.9L440.3,222.5L440.0,229.1L441.4,232.6L437.3,234.8L435.7,238.4L431.7,243.2L428.0,244.1L424.5,248.0L424.5,252.6L424.5,259.9L416.9,259.9L416.9,271.1L414.7,273.1L414.7,280.4L405.6,280.4Z" fill="#99D594"/>
<path d="M418.5,255.5L424.5,254.2L424.5,259.9L419.1,259.9L418.1,262.5L416.3,269.6L414.7,274.4L414.5,280.4L412.0,280.4L412.6,274.4L414.7,268.5L416.3,262.5Z" fill="#7F7F7F"/>
<path d="M405.5,282.8L405.6,280.4L414.7,280.4L414.7,273.1L416.9,271.1L416.9,259.9L424.5,259.9L424.5,254.2L433.2,264.3L429.4,264.3L431.7,306.1L423.1,306.1L419.9,306.5L418.1,305.6L416.4,309.3L414.0,303.4L411.3,301.0L407.2,301.7L406.8,303.7L407.9,295.1L407.2,288.9L406.8,286.3Z" fill="#E6F598"/>
<path d="M406.8,303.7L407.2,301.7L411.3,301.0L414.0,303.4L416.4,309.3L418.3,317.3L418.3,319.7L416.0,320.2L413.1,318.6L409.7,318.5L406.3,319.9L406.1,316.9L406.6,314.4L404.5,309.6L406.1,306.1Z" fill="#7F7F7F"/>
<path d="M406.1,316.9L412.9,315.8L412.9,314.7L409.7,313.6L406.6,314.4Z" fill="#7F7F7F"/>
<path d="M406.3,319.9L409.7,318.5L413.1,318.6L413.1,322.8L410.8,323.7L410.2,326.1L408.1,323.2L407.4,321.5Z" fill="#7F7F7F"/>
<path d="M410.2,326.1L410.8,323.7L413.1,322.8L413.1,318.6L416.0,320.2L418.3,319.7L419.9,321.9L423.1,320.2L424.9,324.1L426.0,329.4L425.3,334.7L426.7,337.3L425.3,340.8L422.8,341.7L423.1,337.3L420.8,336.9L420.1,334.2L418.8,330.3L416.0,330.7L414.0,334.4L412.9,331.1L411.1,328.1Z" fill="#FC8D59"/>
<path d="M414.0,334.4L416.0,330.7L418.8,330.3L420.1,334.2L420.8,336.9L420.1,339.9L418.1,343.7L415.8,341.7L414.2,337.3Z" fill="#7F7F7F"/>
<path d="M418.1,343.7L420.1,339.9L420.8,336.9L423.1,337.3L422.8,341.7L425.3,340.8L424.9,345.7L427.1,348.5L427.0,355.1L423.7,352.3L419.7,346.5Z" fill="#7F7F7F"/>
<path d="M427.0,355.1L427.1,348.5L424.9,345.7L425.3,340.8L426.7,337.3L425.3,334.7L426.0,329.4L430.1,327.6L431.7,328.5L433.5,331.6L437.8,331.6L438.0,332.5L438.4,338.2L436.9,344.3L437.8,351.8L435.0,351.2L430.5,353.1Z" fill="#7F7F7F"/>
<path d="M437.8,351.8L436.9,344.3L438.4,338.2L438.0,332.5L437.8,325.9L443.8,325.4L445.0,329.0L445.2,336.9L445.7,344.3L446.8,347.4L444.1,349.6L439.6,353.4Z" fill="#FC8D59"/>
<path d="M446.8,347.4L445.7,344.3L445.2,336.9L445.0,329.0L443.8,325.4L446.1,325.9L445.9,328.5L447.3,333.3L447.7,343.9L447.8,347.0Z" fill="#7F7F7F"/>
<path d="M447.8,347.0L447.7,343.9L447.3,333.3L445.9,328.5L446.1,325.9L449.5,320.6L452.2,322.8L452.7,328.1L450.4,334.7L450.2,346.1Z" fill="#D53E4F"/>
<path d="M431.7,328.5L433.5,331.6L437.8,331.6L438.0,332.5L437.8,325.9L443.8,325.4L446.1,325.9L449.5,320.6L448.9,318.4L446.3,315.3L444.7,308.7L439.6,311.8L436.2,315.8L434.1,318.4L432.1,322.4Z" fill="#D53E4F"/>
<path d="M416.4,309.3L418.1,305.6L419.9,306.5L423.1,306.1L431.7,306.1L429.4,264.3L433.2,264.3L446.7,281.5L446.8,283.2L451.3,287.2L451.6,290.7L453.7,290.0L453.6,299.9L452.0,306.5L444.7,308.7L439.6,311.8L436.2,315.8L434.1,318.4L432.1,322.4L431.7,328.5L430.1,327.6L426.0,329.4L424.9,324.1L423.1,320.2L419.9,321.9L418.3,319.7L418.3,317.3Z" fill="#E6F598"/>
<path d="M444.7,308.7L452.0,306.5L453.6,299.9L453.7,290.0L457.2,288.5L461.1,282.3L471.2,270.9L476.2,274.9L478.0,273.1L479.2,281.9L479.2,299.9L474.7,310.5L474.9,314.0L471.3,316.2L466.7,315.8L462.2,315.8L459.9,317.1L456.5,313.1L453.4,314.9L452.2,322.8L449.5,320.6L448.9,318.4L446.3,315.3Z" fill="#FEE08B"/>
<path d="M450.2,346.1L450.4,334.7L452.7,328.1L452.2,322.8L453.4,314.9L456.5,313.1L459.9,317.1L462.2,315.8L466.7,315.8L471.3,316.2L474.9,314.0L476.0,317.1L476.2,319.3L477.1,323.7L474.2,330.3L473.1,336.0L470.8,343.5L467.9,343.5L466.3,344.3L463.6,353.1L462.9,354.5L459.9,354.9L457.7,355.3L455.4,348.7L454.1,346.5L451.8,346.1Z" fill="#7F7F7F"/>
<path d="M463.6,211.7L466.3,210.2L467.4,212.0L469.2,211.3L467.9,214.6L468.1,216.8L469.2,219.4L468.3,222.5L466.7,224.7L468.8,226.5L470.2,228.5L470.1,231.3L467.4,234.4L467.4,238.4L465.7,241.3L464.6,233.1L461.1,228.2L461.1,224.3L462.9,221.6L462.9,215.9Z" fill="#99D594"/>
<path d="M470.2,228.5L472.4,229.6L474.0,229.6L478.3,231.8L479.6,236.2L483.7,238.4L487.1,241.0L489.4,238.4L489.5,233.1L492.8,229.8L496.2,230.9L501.0,235.1L500.5,240.1L500.7,277.5L500.7,286.3L498.4,286.3L498.4,288.5L478.0,273.1L476.2,274.9L471.2,270.9L466.7,265.2L465.4,259.5L466.1,257.7L466.5,249.8L465.7,241.3L467.4,238.4L467.4,234.4L470.1,231.3Z" fill="#E6F598"/>
<path d="M501.0,235.1L505.2,236.2L509.7,238.6L511.8,237.0L514.3,235.5L517.2,236.6L519.9,237.5L521.6,236.6L523.1,244.5L522.0,251.1L521.5,252.2L520.1,249.8L517.9,242.7L517.4,244.5L519.2,251.1L520.6,254.6L522.2,261.2L524.4,269.1L527.6,277.5L500.7,277.5L500.5,240.1Z" fill="#E6F598"/>
<path d="M527.6,277.5L500.7,277.5L500.7,286.3L498.4,286.3L498.4,305.2L495.9,305.6L495.0,311.8L493.9,318.4L495.9,324.1L495.9,326.3L497.5,331.1L498.9,336.0L500.5,331.1L504.1,332.5L507.5,333.3L509.7,331.6L513.8,331.4L516.8,321.5L519.2,320.6L519.0,327.2L521.3,332.5L521.7,327.6L523.3,322.4L525.8,318.4L526.6,311.6L526.7,307.4L527.8,299.3L531.5,295.1L528.7,291.6L528.3,286.3L528.1,281.0Z" fill="#E6F598"/>
<path d="M498.9,336.0L500.5,331.1L504.1,332.5L507.5,333.3L509.7,331.6L513.8,331.4L516.8,321.5L519.2,320.6L519.0,327.2L521.3,332.5L521.3,336.4L518.8,339.1L521.1,342.1L524.0,350.5L525.4,354.0L521.1,355.8L518.8,357.3L514.3,358.0L513.9,358.9L511.3,354.5L508.4,355.3L506.2,352.0L503.9,345.2L501.1,340.8Z" fill="#FC8D59"/>
<path d="M474.9,314.0L474.7,310.5L479.2,299.9L479.2,281.9L478.0,273.1L498.4,288.5L498.4,305.2L495.9,305.6L495.0,311.8L493.9,318.4L495.9,324.1L495.9,326.3L493.2,327.6L490.3,334.2L487.1,334.7L484.8,339.1L481.7,340.4L479.2,341.3L478.0,336.0L475.6,332.0L479.2,330.3L478.3,323.7L477.8,319.3L476.0,317.1Z" fill="#D53E4F"/>
<path d="M463.6,353.1L466.3,344.3L467.9,343.5L470.8,343.5L473.1,336.0L474.2,330.3L477.1,323.7L476.2,319.3L476.0,317.1L477.8,319.3L478.3,323.7L479.2,330.3L475.6,332.0L478.0,336.0L479.2,341.3L477.1,347.9L476.9,352.3L478.3,356.7L480.8,364.6L480.5,366.8L476.9,365.0L474.2,364.6L469.8,364.6L466.3,364.1L466.5,361.1L465.6,357.1L464.2,354.5Z" fill="#D53E4F"/>
<path d="M479.2,341.3L481.7,340.4L484.8,339.1L487.1,334.7L490.3,334.2L493.2,327.6L495.9,326.3L497.5,331.1L498.9,336.0L501.1,340.8L503.9,345.2L506.2,352.0L501.8,350.9L499.3,351.8L495.9,353.1L494.8,356.2L490.5,354.9L488.2,351.8L486.2,355.3L486.2,358.9L483.7,358.4L481.7,358.9L480.8,364.6L478.3,356.7L476.9,352.3L477.1,347.9Z" fill="#FC8D59"/>
<path d="M466.3,364.1L469.8,364.6L469.8,369.9L466.3,369.9L465.8,367.7ZM463.3,358.0L464.2,358.0L463.8,360.0Z" fill="#FC8D59"/>
<path d="M466.3,369.9L469.8,369.9L469.8,364.6L474.2,364.6L474.0,368.5L476.2,368.1L476.9,370.7L475.6,374.2L476.9,376.9L476.7,382.6L476.2,384.8L473.1,383.0L472.4,384.8L470.4,384.8L471.0,389.6L469.2,391.6L465.8,384.8L464.0,377.3L465.1,374.2L465.6,371.6Z" fill="#D53E4F"/>
<path d="M469.2,391.6L471.0,389.6L470.4,384.8L472.4,384.8L473.1,383.0L476.2,384.8L476.7,382.6L476.9,376.9L475.6,374.2L476.9,370.7L476.2,368.1L474.0,368.5L474.2,364.6L476.9,365.0L480.5,366.8L480.8,364.6L481.7,358.9L483.7,358.4L486.2,358.9L485.1,364.1L484.4,372.9L483.9,376.9L480.8,383.9L480.3,389.2L478.5,393.2L476.7,395.6L474.4,395.8L473.7,394.5L473.1,393.6L471.3,396.2L470.8,394.5Z" fill="#7F7F7F"/>
<path d="M471.7,399.5L472.4,399.3L473.7,394.5L474.4,395.8L476.7,395.6L478.5,393.2L480.3,389.2L480.8,383.9L483.9,376.9L484.4,372.9L485.1,364.1L486.2,358.9L486.2,355.3L488.2,351.8L490.5,354.9L494.8,356.2L495.9,353.1L499.3,351.8L501.8,350.9L506.2,352.0L508.4,355.3L511.3,354.5L513.9,358.9L513.8,363.7L514.9,364.8L513.1,369.0L511.9,370.7L511.3,374.7L511.1,380.4L510.2,381.7L509.7,386.3L510.2,388.8L510.4,393.8L511.1,400.6L512.7,407.2L513.8,410.3L509.5,411.6L508.4,415.2L508.8,419.1L508.4,426.6L509.7,428.8L511.5,427.9L511.5,433.2L508.4,429.2L505.7,425.3L501.6,423.9L499.3,423.9L498.4,422.2L498.2,422.6L494.6,422.6L494.3,417.8L493.4,410.3L493.7,406.4L490.5,406.4L490.0,404.8L488.2,405.0L487.8,409.4L483.9,409.9L481.7,400.2L474.4,400.0L471.9,401.1Z" fill="#D53E4F"/>
<path d="M471.9,401.1L474.4,400.0L481.7,400.2L483.9,409.9L487.8,409.4L488.2,405.0L490.0,404.8L490.5,406.4L493.7,406.4L493.4,410.3L494.3,417.8L494.6,422.6L498.2,422.6L498.4,422.2L498.4,431.4L493.9,431.4L493.9,445.5L497.1,451.7L492.5,453.4L486.0,450.8L475.8,450.8L473.5,449.0L470.7,450.1L470.8,444.6L471.7,438.0L474.4,429.7L475.3,422.6L474.0,413.0L473.3,405.0ZM471.3,396.2L473.1,393.6L473.7,394.5L472.4,399.3L471.7,399.5Z" fill="#D53E4F"/>
<path d="M498.4,422.2L499.3,423.9L501.6,423.9L505.7,425.3L508.4,429.2L511.5,433.2L511.5,427.9L509.7,428.8L508.4,426.6L508.8,419.1L508.4,415.2L509.5,411.6L513.8,410.3L518.7,415.6L519.5,421.7L518.8,425.3L519.5,429.2L518.1,434.1L519.2,435.8L512.5,439.3L512.9,442.9L509.5,444.4L509.3,446.8L505.2,453.2L501.4,452.5L498.4,451.2L497.1,451.7L493.9,445.5L493.9,431.4L498.4,431.4Z" fill="#7F7F7F"/>
<path d="M470.7,450.1L473.5,449.0L475.8,450.8L486.0,450.8L492.5,453.4L497.1,451.7L498.4,451.2L501.4,452.5L499.6,453.4L496.8,453.4L491.6,454.7L491.6,471.0L489.4,471.0L489.4,483.3L489.4,499.2L487.1,501.4L483.5,500.5L481.4,500.0L478.5,493.0L476.9,479.8L476.9,475.0L474.4,466.2L471.3,455.6Z" fill="#D53E4F"/>
<path d="M489.4,483.3L489.4,471.0L491.6,471.0L491.6,454.7L496.8,453.4L499.6,453.4L501.4,452.5L503.4,460.0L506.8,464.4L507.5,469.2L510.6,471.9L508.2,473.6L505.2,478.0L504.8,481.1L502.7,482.9L501.8,487.3L500.0,487.7L496.2,485.5L495.3,489.0L493.2,492.3L491.0,492.3Z" fill="#FEE08B"/>
<path d="M501.4,452.5L505.2,453.2L509.3,446.8L509.5,444.4L512.9,442.9L514.9,444.6L518.6,447.7L518.8,453.4L518.1,457.8L518.8,461.3L517.4,467.9L514.9,472.8L510.6,471.9L507.5,469.2L506.8,464.4L503.4,460.0Z" fill="#7F7F7F"/>
<path d="M535.7,420.2L531.2,424.4L529.0,425.7L525.1,424.6L523.2,425.0L522.6,429.2L523.1,433.6L525.4,439.8L525.1,444.6L524.0,449.5L522.0,445.9L522.2,438.0L519.2,435.8L512.5,439.3L512.9,442.9L514.9,444.6L518.6,447.7L518.8,453.4L518.1,457.8L518.8,461.3L517.4,467.9L514.9,472.8L516.3,481.1L516.5,488.2L516.8,492.1L518.6,492.3L517.9,488.4L519.9,485.1L524.4,479.8L524.4,471.0L522.9,462.2L525.6,457.4L527.8,452.5L532.6,447.7L536.0,440.2L535.9,431.0Z" fill="#FEE08B"/>
<path d="M518.7,415.6L520.8,416.0L522.4,422.6L523.2,425.0L522.6,429.2L523.1,433.6L525.4,439.8L525.1,444.6L524.0,449.5L522.0,445.9L522.2,438.0L519.2,435.8L518.1,434.1L519.5,429.2L518.8,425.3L519.5,421.7Z" fill="#D53E4F"/>
<path d="M535.7,420.2L534.2,413.4L533.0,404.2L531.9,400.6L532.8,394.9L529.2,387.4L521.1,378.6L515.8,378.6L513.1,378.9L513.9,384.6L513.4,389.2L512.0,393.2L510.4,393.8L511.1,400.6L512.7,407.2L513.8,410.3L518.7,415.6L520.8,416.0L522.4,422.6L523.2,425.0L525.1,424.6L529.0,425.7L531.2,424.4ZM532.8,399.8L533.6,401.1L533.3,402.6ZM534.0,395.8L534.3,397.1L534.0,398.0Z" fill="#FC8D59"/>
<path d="M532.8,394.9L529.2,387.4L521.1,378.6L521.1,373.4L522.2,369.4L523.3,365.9L521.1,355.8L525.4,354.0L527.6,354.7L530.3,358.4L533.5,359.1L536.4,355.6L538.9,356.9L536.9,361.9L536.9,374.2L536.9,378.0L538.1,381.5L535.1,386.1L534.9,388.8L533.8,392.1Z" fill="#E6F598"/>
<path d="M521.1,378.6L515.8,378.6L513.1,378.9L511.1,380.4L511.3,374.7L511.9,370.7L513.1,369.0L514.9,364.8L513.8,363.7L513.9,358.9L514.3,358.0L518.8,357.3L521.1,355.8L523.3,365.9L522.2,369.4L521.1,373.4Z" fill="#7F7F7F"/>
<path d="M511.1,380.4L513.1,378.9L513.9,384.6L512.0,384.8L511.8,386.1L509.7,386.3L510.2,381.7Z" fill="#FEE08B"/>
<path d="M509.7,386.3L511.8,386.1L512.0,384.8L513.9,384.6L513.4,389.2L512.0,393.2L510.4,393.8L510.2,388.8Z" fill="#D53E4F"/>
<path d="M526.6,311.6L529.9,308.7L532.4,310.0L534.9,310.5L537.3,314.9L540.1,319.5L538.7,325.9L541.3,326.0L541.0,329.4L542.8,333.3L543.7,334.9L550.5,339.1L552.7,339.1L545.9,352.3L541.4,354.0L538.9,356.9L536.4,355.6L533.5,359.1L530.3,358.4L527.6,354.7L525.4,354.0L524.0,350.5L521.1,342.1L518.8,339.1L521.3,336.4L521.3,332.5L521.7,327.6L523.3,322.4L525.8,318.4Z" fill="#E6F598"/>
<path d="M531.5,295.1L527.8,299.3L526.7,307.4L526.6,311.6L529.9,308.7L532.4,310.0L534.9,310.5L537.3,314.9L540.1,319.5L541.6,318.4L539.8,314.4L537.3,310.0L534.6,306.1L533.5,306.1L532.8,301.7Z" fill="#FC8D59"/>
<path d="M541.6,318.4L540.1,319.5L538.7,325.9L541.3,326.0L542.0,323.9L540.7,323.2L542.3,321.5Z" fill="#FC8D59"/>
<path d="M542.0,323.9L541.3,326.0L541.0,329.4L542.8,333.3L543.7,334.9L550.5,339.1L552.7,339.1L545.9,352.3L541.4,354.0L538.9,356.9L536.9,361.9L536.9,374.2L536.9,378.0L538.1,381.5L540.3,376.0L543.7,369.9L546.7,365.2L551.6,356.7L555.0,347.9L557.3,338.6L559.1,332.9L559.8,328.5L560.4,328.3L560.1,322.1L558.4,322.6L555.0,324.6L550.5,325.2L545.9,328.1L543.7,328.3L542.6,325.0Z" fill="#FC8D59"/>
<path d="M481.4,500.0L483.5,500.5L487.1,501.4L489.4,499.2L489.4,483.3L491.0,492.3L493.2,492.3L495.3,489.0L496.2,485.5L500.0,487.7L501.8,487.3L502.7,482.9L504.8,481.1L505.2,478.0L508.2,473.6L510.6,471.9L514.9,472.8L516.3,481.1L516.5,488.2L516.8,492.1L518.6,492.3L517.9,499.6L516.1,501.8L514.3,505.8L512.0,511.9L508.6,518.1L507.2,519.4L504.1,522.7L502.0,523.8L500.2,524.7L496.2,524.2L494.1,524.7L489.4,527.3L486.7,525.5L486.0,525.3L485.7,523.3L484.6,519.4L485.5,515.0L483.3,507.5Z" fill="#D53E4F"/>
<path d="M505.2,504.4L507.5,500.5L509.5,500.7L510.6,503.6L510.0,506.2L507.9,508.4L506.1,507.5Z" fill="#D53E4F"/>
<path d="M515.2,487.5L516.5,488.6L516.8,492.1L516.4,494.3L514.3,493.9L513.8,490.8Z" fill="#7F7F7F"/>
<path d="M555.7,427.0L557.7,435.8L558.4,442.0L556.6,442.4L556.8,448.1L555.9,453.4L553.9,466.6L551.8,477.6L550.7,484.0L546.4,486.8L543.7,484.2L542.8,477.2L542.1,471.0L544.4,463.5L543.7,455.6L544.6,445.5L548.9,443.3L552.5,435.8L554.5,431.4Z" fill="#FC8D59"/>
<path d="M573.8,462.2L574.9,462.6L574.5,464.4Z" fill="#E6F598"/>
<path d="M569.3,466.2L570.4,467.0L569.7,468.4Z" fill="#7F7F7F"/>
<path d="M541.9,424.8L542.6,425.7L542.1,426.6ZM544.4,427.5L544.8,428.3L544.4,428.8Z" fill="#7F7F7F"/>
<path d="M390.2,307.0L391.1,307.8L390.7,308.7ZM387.1,299.0L387.5,299.5L387.1,299.9ZM388.9,308.7L389.1,308.3L388.6,308.3Z" fill="#7F7F7F"/>
<path d="M458.8,372.9L459.3,372.9L459.0,374.0Z" fill="#7F7F7F"/>
<path d="M700.3,489.0L701.2,482.0L701.7,473.2L702.6,470.1L705.5,466.6L708.9,464.8L713.4,462.2L718.0,460.0L720.7,453.4L722.3,446.8L723.8,450.3L725.9,444.6L728.1,438.0L731.3,434.9L733.8,439.3L737.2,439.8L737.7,433.6L739.0,431.0L740.1,428.8L742.9,427.9L744.2,423.9L746.3,426.1L750.8,427.0L753.9,427.9L751.9,433.6L750.8,439.8L754.2,444.2L759.4,451.2L762.8,451.2L764.6,440.2L764.6,431.4L765.9,422.6L766.6,421.3L768.9,430.5L769.6,437.1L773.0,440.2L774.1,448.6L775.2,457.4L776.4,458.9L780.2,462.6L781.8,467.0L785.4,475.4L786.5,479.4L790.4,485.5L790.6,494.8L791.7,500.3L790.2,512.3L787.7,518.9L786.3,523.3L784.0,531.3L783.4,539.2L779.1,540.9L775.4,546.2L772.3,542.3L768.9,544.9L764.4,543.1L762.1,541.4L760.3,536.5L759.6,532.1L757.6,530.8L757.6,527.3L756.4,520.3L756.0,517.6L754.2,523.8L751.9,527.3L751.0,527.7L748.5,520.3L746.5,515.4L741.0,512.8L736.1,513.7L729.3,516.3L724.7,519.4L723.6,523.3L720.0,523.3L715.7,523.3L711.2,528.2L706.6,527.5L704.6,525.1L704.4,522.0L706.0,520.7L706.0,515.0L704.4,508.4L703.5,500.9L702.6,495.2ZM771.6,553.2L775.7,555.0L779.1,553.7L779.7,559.0L778.8,564.2L776.4,566.0L774.5,565.6L773.0,561.2L771.6,555.4ZM739.0,424.4L741.5,423.9L740.6,426.1L739.2,426.1ZM753.0,434.9L754.2,435.4L753.5,436.7ZM753.5,531.3L756.0,531.3L755.3,532.6L753.5,532.6ZM769.8,548.9L770.2,548.9L770.0,550.6ZM779.1,549.3L779.7,550.2L779.3,551.9Z" fill="#99D594"/>
<path d="M835.0,525.8L838.6,529.5L839.7,536.5L842.2,535.7L842.4,539.6L845.2,541.4L848.1,540.1L847.0,544.5L844.7,547.1L844.7,549.3L842.4,555.9L840.9,557.2L839.7,555.9L840.6,551.0L839.3,548.9L837.5,547.1L839.3,544.9L839.7,540.5L839.0,536.1L837.5,532.1L835.7,528.2ZM835.0,552.4L837.5,554.1L838.6,557.6L835.7,563.4L835.2,566.0L835.9,567.1L831.8,569.1L830.9,576.1L828.4,578.8L825.2,579.2L823.2,577.4L820.9,575.7L823.2,570.8L825.7,567.8L828.9,563.8L831.6,560.7L832.5,557.9L833.6,554.1ZM823.4,580.1L824.8,580.5L823.9,581.8Z" fill="#E6F598"/>
<path d="M763.2,385.7L766.6,388.3L771.1,391.0L774.1,395.8L776.6,400.2L778.6,400.6L777.9,403.7L779.5,409.9L782.0,413.8L785.2,419.3L783.6,421.1L779.1,418.7L777.1,415.8L774.5,409.9L771.4,407.7L769.6,409.9L768.4,411.2L768.4,413.8L766.6,414.7L763.2,414.3ZM779.7,398.9L783.6,396.2L787.0,395.8L788.6,392.7L788.8,396.2L787.0,398.9L784.7,401.5L781.3,401.1ZM785.4,385.7L788.1,389.2L790.4,394.5L789.7,394.9L787.0,388.8ZM794.2,398.4L796.9,404.2L795.6,403.7L794.2,400.2ZM775.7,382.6L777.7,383.0L776.8,383.9Z" fill="#D53E4F"/>
<path d="M805.3,415.2L808.0,416.9L807.6,418.0L805.5,416.9ZM807.6,410.8L809.4,415.6L808.9,416.9L807.8,413.4ZM802.8,407.2L806.0,411.2L805.5,412.1L803.1,408.6ZM798.3,403.3L800.6,406.4L799.9,407.2L798.3,404.6ZM799.9,409.4L801.5,411.6L800.6,412.5ZM809.2,419.1L811.4,421.3L810.3,421.7Z" fill="#D53E4F"/>
<path d="M821.2,438.9L822.5,441.1L822.1,442.9L821.2,441.5ZM822.5,444.6L823.9,446.4L823.2,447.3ZM824.8,451.7L825.5,452.1L825.0,452.8ZM827.1,456.5L827.5,457.4L827.1,457.8Z" fill="#D53E4F"/>
<path d="M815.3,462.6L818.7,465.7L822.1,472.3L820.9,472.8L817.5,468.8L815.3,464.4Z" fill="#7F7F7F"/>
<path d="M845.4,451.2L848.3,451.7L848.1,454.3L845.6,453.9ZM848.3,448.1L851.5,445.5L850.8,448.1Z" fill="#FEE08B"/>
<path d="M599.6,588.4L603.7,589.8L603.0,592.8L600.3,592.4ZM610.0,607.3L611.1,607.3L610.7,608.2Z" fill="#7F7F7F"/>
<path d="M358.1,611.7L362.6,613.1L363.1,615.3L359.2,613.1Z" fill="#7F7F7F"/>
<path d="M237.0,375.6L238.4,375.1L238.6,378.2L237.2,378.6ZM239.3,376.4L240.0,376.4L239.7,377.5ZM241.3,377.3L242.0,377.5L241.5,378.4Z" fill="#FEE08B"/>
</g>
<g transform="translate(890.5,683)">
<path d="M125.0,68.1L129.5,68.6L135.2,71.2L139.7,68.1L147.6,66.4L154.4,64.2L160.1,69.0L165.7,67.3L170.2,67.3L179.3,70.8L183.8,75.2L188.3,76.1L195.1,75.6L199.7,72.5L204.2,71.7L206.5,75.2L213.2,76.1L220.0,76.1L222.3,72.5L226.8,74.3L227.3,78.3L229.1,75.2L231.8,70.8L228.0,68.1L226.1,62.0L228.6,58.0L233.2,58.9L235.2,64.2L237.0,68.1L239.3,73.0L244.9,71.2L244.9,77.4L248.3,76.5L249.9,70.8L251.0,67.3L257.4,67.3L260.1,69.9L259.6,73.9L257.8,79.6L255.1,82.7L250.6,81.8L247.6,82.7L249.5,86.2L246.1,90.6L241.5,92.8L238.1,94.5L234.7,99.4L232.5,103.8L229.8,109.5L229.5,114.8L233.6,116.1L234.7,123.6L239.3,122.7L244.9,125.8L251.7,131.0L257.8,131.9L258.1,141.2L259.6,144.7L261.9,148.6L264.2,149.1L265.8,145.6L265.8,137.6L263.9,133.7L268.7,130.2L270.7,125.8L270.7,121.4L266.4,115.6L268.7,110.4L267.3,100.3L273.2,100.3L277.3,99.4L281.8,104.2L285.7,106.0L286.8,111.7L285.7,116.1L289.5,117.8L294.7,115.6L297.9,109.1L300.8,115.6L304.2,123.6L307.6,130.2L313.3,134.1L317.4,140.3L318.0,145.6L315.1,148.2L311.2,150.0L308.3,153.5L303.8,153.0L298.1,153.0L293.6,153.5L291.3,157.4L287.9,161.8L283.9,167.5L285.7,167.5L289.1,161.8L293.6,158.3L298.6,159.2L297.9,163.1L294.7,163.1L297.0,167.5L297.9,171.1L299.7,171.9L304.9,173.3L307.6,167.5L308.8,171.9L306.0,175.5L300.4,178.1L295.9,182.9L294.3,181.2L294.7,178.5L298.1,175.0L295.9,175.5L292.5,175.9L290.6,173.3L290.6,167.1L287.5,165.8L285.0,171.1L283.9,175.0L282.3,176.3L275.0,176.3L271.4,179.9L270.3,182.5L265.3,182.9L265.3,185.6L263.0,187.8L257.4,190.9L256.0,188.7L257.4,185.1L257.8,175.0L255.1,171.9L252.9,169.7L251.7,167.5L244.3,161.8L241.5,163.1L238.6,162.3L235.9,160.9L230.0,159.6L228.7,158.7L165.3,158.7L161.6,154.4L156.2,150.0L154.9,144.7L152.1,139.0L149.2,134.6L149.9,131.0L149.9,128.4L145.8,124.9L141.9,117.0L137.9,111.7L132.9,114.8L129.5,109.9L125.0,109.1ZM164.8,161.4L161.2,160.1L153.7,152.2L154.9,150.4L160.5,153.5L164.4,158.7ZM147.2,144.7L144.2,140.3L143.1,136.3L146.0,136.8L145.8,141.2ZM309.9,164.5L311.7,160.9L312.8,156.1L315.1,150.8L317.8,147.3L318.3,150.8L316.2,154.4L318.5,155.2L321.9,156.5L323.0,160.5L324.6,163.1L324.8,165.3L323.7,168.9L321.9,168.0L320.1,165.8L317.8,168.0L315.5,165.3L312.8,164.5ZM298.6,168.9L303.3,170.0L302.6,171.9L299.9,171.1ZM298.3,155.2L303.1,157.0L304.2,158.3L300.4,157.4ZM240.4,49.7L249.5,49.7L258.5,50.1L261.9,55.4L267.6,54.1L274.4,56.7L281.1,59.8L287.9,64.2L291.3,69.5L292.5,73.9L299.2,77.4L303.8,80.5L303.8,84.0L299.7,88.4L296.3,90.1L297.7,95.0L294.7,97.6L295.9,102.0L290.2,100.3L285.7,98.5L281.1,95.4L275.5,91.5L268.7,91.5L267.6,87.5L276.6,86.2L277.7,82.7L279.3,76.9L275.5,73.9L270.7,71.7L272.8,69.9L268.7,67.3L264.2,66.8L258.5,66.8L251.7,66.4L243.8,64.6L241.5,61.1L244.9,59.8L251.7,60.7L252.2,56.3L248.3,54.1L241.5,56.7ZM247.2,87.5L252.9,86.2L258.5,90.1L262.4,93.7L257.4,94.5L251.0,97.2L247.4,94.5L249.5,91.0ZM256.2,97.6L259.2,97.6L263.7,100.3L257.4,100.3ZM178.2,53.6L185.0,51.9L195.1,53.2L201.9,52.3L206.5,54.5L206.5,59.8L213.2,64.2L215.5,67.7L211.0,71.2L201.9,71.2L195.1,72.5L187.2,72.5L180.4,69.9L178.6,66.0L188.3,65.5L178.2,60.7L174.8,58.9ZM160.1,57.6L164.6,61.1L171.4,59.8L179.3,55.0L182.7,51.4L178.2,47.5L169.1,46.6L162.3,49.2L163.5,54.1ZM213.2,49.2L220.0,48.8L224.6,51.4L224.6,54.5L225.7,58.5L220.7,60.7L216.6,56.7L211.7,54.1ZM228.0,48.8L235.9,48.8L240.4,49.7L234.7,54.5L231.3,57.6L228.0,56.7L228.4,53.2ZM218.9,70.8L224.6,67.3L228.0,69.5L226.8,72.5L221.2,73.0ZM179.3,40.9L183.8,37.8L190.6,38.7L197.4,36.5L205.3,40.4L204.2,44.4L197.4,45.7L188.3,47.0L183.8,44.4L179.3,43.5ZM165.7,39.1L172.5,34.3L180.4,33.4L181.6,36.9L177.0,40.0L170.2,40.4ZM208.7,37.4L216.6,36.9L223.4,39.1L222.3,43.5L216.6,44.4L211.0,42.6ZM225.7,42.2L231.3,41.8L232.5,44.4L230.2,46.2L225.7,44.4ZM226.8,37.4L235.9,37.4L242.7,40.0L254.0,40.9L263.0,42.2L264.2,45.3L258.5,46.6L244.9,46.6L235.9,45.7L235.2,41.8L229.1,40.4ZM260.8,50.1L267.6,50.6L272.1,53.6L264.2,54.1ZM235.9,16.7L244.9,13.6L258.5,9.2L274.4,8.8L290.2,9.2L303.8,11.4L298.1,15.8L290.2,18.9L281.1,23.7L273.2,26.8L273.2,30.3L266.4,34.7L266.4,37.8L258.5,38.2L249.5,38.2L241.5,37.8L244.9,33.4L250.6,31.2L246.1,28.6L249.5,25.5L254.0,23.7L247.2,20.7L240.4,20.2ZM226.8,22.4L234.7,17.1L240.4,20.2L247.2,23.3L247.2,28.1L239.3,29.9L233.6,26.8ZM206.5,26.8L217.8,27.7L224.6,27.7L226.8,31.2L220.0,32.5L209.8,33.0L206.5,29.9ZM186.1,27.7L194.0,27.7L197.4,30.3L195.1,33.4L187.2,32.5ZM225.7,32.1L232.5,31.6L233.6,33.8L226.8,34.3Z" fill="#99D594" style="stroke:#99D594;stroke-opacity:1;stroke-width:1"/>
<path d="M125.0,68.1L118.2,66.4L109.1,64.6L100.1,62.9L89.9,60.7L82.0,64.2L75.2,68.6L67.3,73.9L72.9,77.4L74.1,79.6L78.6,82.7L72.9,81.8L63.9,85.7L68.4,90.6L75.2,90.6L79.7,89.3L79.7,95.0L71.8,97.2L68.4,103.3L70.7,108.2L76.3,110.4L77.4,114.8L82.0,116.1L87.6,116.1L87.6,121.4L82.0,128.0L76.3,131.5L71.1,134.6L77.4,132.4L84.2,128.8L89.9,123.6L94.4,118.3L96.7,113.4L100.1,106.9L104.6,105.1L101.2,113.4L105.7,111.2L109.1,108.2L113.7,106.9L118.2,110.4L125.0,111.2L131.8,115.6L135.2,118.3L138.6,123.6L141.9,130.2L146.5,132.4L149.9,131.0L149.9,128.4L145.8,124.9L141.9,117.0L137.9,111.7L132.9,114.8L129.5,109.9L125.0,109.1ZM94.4,121.4L97.8,119.2L99.6,121.4L96.7,124.4ZM55.5,95.0L61.6,95.9L62.1,97.2L55.9,96.3ZM65.4,109.5L68.8,109.1L68.8,111.2L66.1,111.2ZM70.7,134.1L67.3,136.8L63.9,139.0L63.4,140.3L67.3,138.5L70.7,135.9ZM61.6,140.3L58.2,142.0L53.7,143.8L53.7,145.1L58.2,143.4L61.6,141.6ZM51.4,144.2L46.9,145.1L42.4,146.0L42.4,147.3L46.9,146.4L51.4,145.6ZM41.2,146.0L37.8,146.9L37.8,148.2L41.2,147.3Z" fill="#3288BD"/>
<path d="M165.3,158.7L228.7,158.7L230.0,159.6L235.9,160.9L238.6,162.3L241.5,163.1L244.3,161.8L251.7,167.5L252.9,169.7L255.1,171.9L257.8,175.0L257.4,185.1L256.0,188.7L257.4,190.9L263.0,187.8L265.3,185.6L265.3,182.9L270.3,182.5L271.4,179.9L275.0,176.3L282.3,176.3L283.9,175.0L285.0,171.1L287.5,165.8L290.6,167.1L290.6,173.3L292.5,175.9L292.5,178.1L289.1,179.4L285.7,181.6L284.1,185.1L283.9,188.2L285.7,190.4L282.3,192.2L280.0,193.9L276.6,195.7L276.6,200.1L274.4,203.2L274.1,207.1L272.1,211.5L272.5,215.0L273.2,219.4L269.8,222.1L267.6,225.2L264.8,228.2L261.2,233.1L259.9,238.8L260.1,243.2L261.9,250.2L263.0,256.4L262.4,263.0L260.8,263.9L259.0,258.6L256.7,252.0L256.9,246.7L254.0,241.9L250.6,243.2L248.3,240.6L244.9,241.0L241.5,241.4L242.2,245.8L239.3,245.8L235.9,244.1L231.3,244.1L228.0,247.6L224.1,252.9L224.1,259.9L219.6,257.7L218.9,253.3L216.6,248.0L214.4,243.2L211.7,243.6L210.5,246.7L207.6,244.1L206.7,239.7L203.1,234.6L199.2,234.6L199.2,236.5L192.6,236.5L184.3,231.3L179.1,231.3L178.6,228.2L176.1,224.7L171.4,222.5L170.9,219.4L168.2,213.3L166.8,208.0L163.9,201.4L162.8,196.6L163.2,189.5L162.3,186.0L163.5,178.5L163.5,171.1L161.9,161.4L165.7,162.3L166.2,158.7ZM276.6,195.7L281.1,193.5L281.1,194.6L277.1,195.9Z" fill="#3288BD"/>
<path d="M91.0,285.4L93.3,287.2L93.3,289.4L91.7,290.9L91.0,288.0ZM89.4,281.9L91.0,282.3L90.3,283.7ZM86.0,279.3L87.2,280.1L86.5,280.6ZM82.7,276.6L83.6,277.1L83.1,277.9Z" fill="#3288BD"/>
<path d="M278.9,30.3L290.2,25.9L297.0,22.4L301.5,17.1L312.8,12.7L330.9,11.4L344.5,9.2L358.1,7.0L371.7,6.6L385.3,8.3L394.3,11.4L403.4,14.5L414.7,14.9L416.9,18.0L405.6,22.4L401.1,26.8L401.1,31.2L402.2,36.5L398.8,40.0L400.0,44.4L397.7,48.8L394.3,51.9L393.2,56.3L394.3,59.8L394.3,64.2L389.8,66.4L392.0,68.1L385.3,72.5L378.5,74.3L371.7,75.2L367.1,81.3L361.5,84.9L355.8,85.7L352.9,90.6L351.3,95.9L347.9,101.6L346.8,108.2L344.5,110.8L341.1,109.5L336.6,106.9L333.2,102.5L330.9,97.2L327.5,92.8L325.3,86.2L322.6,80.5L323.0,74.3L327.5,70.8L326.4,67.3L320.8,65.1L320.8,60.2L317.4,55.4L315.1,48.8L311.7,43.1L303.8,39.6L294.7,40.0L287.9,37.8L282.3,34.3L285.7,32.1Z" fill="#3288BD"/>
<path d="M179.1,231.3L184.3,231.3L192.6,236.5L199.2,236.5L199.2,234.6L203.1,234.6L206.7,239.7L207.6,244.1L210.5,246.7L211.7,243.6L214.4,243.2L216.6,248.0L218.9,253.3L219.6,257.7L224.1,259.9L222.7,268.7L222.7,276.2L224.1,282.8L226.4,289.4L229.1,292.4L230.7,294.2L234.7,292.4L238.1,291.6L239.3,284.1L240.4,281.5L243.8,279.7L247.2,279.7L247.6,282.8L246.1,287.2L245.6,292.9L244.3,292.9L242.3,295.9L238.1,295.9L238.1,298.4L239.5,303.4L236.6,303.6L235.4,307.0L235.4,310.5L231.8,303.9L229.1,303.4L225.7,305.2L221.2,302.6L218.2,300.4L213.7,296.0L209.8,293.8L207.6,289.8L205.3,286.3L205.8,279.7L204.2,273.1L200.8,266.5L197.4,262.1L196.3,256.8L193.8,251.5L190.2,246.7L188.3,237.0L184.3,234.4L184.5,237.9L187.2,244.5L189.5,251.1L191.7,258.6L194.0,266.5L196.3,272.2L194.7,273.1L190.6,265.2L187.2,256.8L183.8,252.0L185.6,248.9L182.0,241.0Z" fill="#E6F598"/>
<path d="M235.4,310.5L235.4,307.0L236.6,303.6L239.5,303.4L238.1,298.4L238.1,295.9L242.3,295.9L242.2,304.3L244.3,305.2L241.9,310.9L240.2,313.8Z" fill="#FEE08B"/>
<path d="M242.3,295.9L244.3,292.9L244.7,294.6L244.3,301.7L242.9,304.3L242.2,304.3Z" fill="#FEE08B"/>
<path d="M240.2,313.8L241.9,310.9L243.8,312.9L245.6,313.6L245.4,316.2L243.8,316.2Z" fill="#E6F598"/>
<path d="M241.9,310.9L244.3,305.2L246.1,304.8L249.5,304.3L252.9,304.8L255.8,308.3L252.2,309.2L249.9,313.1L247.9,313.6L246.5,317.1L245.6,315.3L245.6,313.6L243.8,312.9Z" fill="#E6F598"/>
<path d="M245.6,317.5L246.5,317.1L247.9,313.6L249.9,313.1L252.2,309.2L255.8,308.3L255.1,314.9L254.7,321.5L254.7,326.1L252.2,325.9L250.1,325.4L248.3,322.4Z" fill="#E6F598"/>
<path d="M250.1,325.4L252.2,325.9L254.7,326.1L257.2,332.0L256.5,334.2L256.5,338.8L254.7,336.4L252.4,332.0L249.9,330.3L249.9,326.3Z" fill="#E6F598"/>
<path d="M256.5,338.8L256.5,334.2L257.2,332.0L259.6,335.5L263.0,333.8L265.3,332.2L268.9,336.0L269.1,339.5L267.8,342.6L266.4,338.2L263.7,335.1L262.1,338.2L263.0,341.7L260.8,342.1L259.2,338.6Z" fill="#E6F598"/>
<path d="M251.9,277.9L256.2,273.1L259.6,272.2L263.0,273.5L267.6,276.2L272.1,281.0L276.2,285.4L274.4,286.7L268.2,286.9L269.4,283.7L266.4,281.9L263.0,278.8L259.0,276.6L255.1,277.1Z" fill="#E6F598"/>
<path d="M275.7,293.5L280.5,294.2L281.7,294.9L281.7,287.6L278.9,286.7L279.3,290.2L280.2,292.4L275.7,292.4Z" fill="#7F7F7F"/>
<path d="M281.7,294.9L282.5,296.8L285.7,293.8L289.1,294.2L289.3,292.0L286.8,289.4L284.5,287.2L281.7,287.6Z" fill="#FC8D59"/>
<path d="M266.9,293.3L271.4,294.6L270.3,296.0L267.1,295.1Z" fill="#FC8D59"/>
<path d="M292.0,292.9L295.6,293.3L295.2,295.1L292.0,295.3Z" fill="#E6F598"/>
<path d="M266.9,256.8L268.7,256.8L268.7,258.1L266.9,257.7ZM267.1,263.9L268.2,266.1L268.5,268.3L267.1,267.4ZM268.9,263.9L271.6,263.4L271.6,265.2ZM277.3,281.5L278.9,281.0L278.4,282.3ZM272.7,267.8L273.2,265.6L273.8,267.8L273.2,270.0ZM273.9,271.8L274.4,270.0L274.8,271.8L274.4,273.5ZM275.5,274.9L276.2,273.8L276.8,274.9L276.2,276.0ZM278.2,275.7L278.9,274.9L279.6,275.7L278.9,276.6ZM268.9,259.9L269.4,257.7L269.8,259.9L269.4,262.1ZM280.5,278.4L281.1,277.7L281.8,278.4L281.1,279.0Z" fill="#7F7F7F"/>
<path d="M304.0,327.2L306.3,326.8L306.0,329.8L304.0,329.8Z" fill="#7F7F7F"/>
<path d="M303.9,303.0L304.8,301.7L305.7,303.0L304.8,304.3ZM304.5,306.5L305.2,305.2L306.0,306.5L305.2,307.8ZM305.4,309.8L306.0,308.3L306.7,309.8L306.0,311.4ZM305.5,313.1L306.0,311.8L306.6,313.1L306.0,314.4ZM305.1,316.0L305.6,314.9L306.0,316.0L305.6,317.1ZM308.8,316.4L309.3,315.3L309.9,316.4L309.3,317.5ZM304.0,321.0L304.5,319.9L304.9,321.0L304.5,322.1ZM303.7,299.0L304.2,298.2L304.8,299.0L304.2,299.9ZM301.5,298.2L302.1,297.3L302.6,298.2L302.1,299.0ZM296.8,293.8L297.4,293.1L298.1,293.8L297.4,294.4ZM300.9,294.6L301.4,294.0L301.9,294.6L301.4,295.3Z" fill="#7F7F7F"/>
<path d="M259.8,289.4L260.3,288.8L260.9,289.4L260.3,289.9ZM262.8,287.6L263.3,287.2L263.7,287.6L263.3,288.0Z" fill="#7F7F7F"/>
<path d="M327.3,355.8L329.8,365.5L331.2,369.9L329.8,374.2L334.3,376.4L336.6,376.9L341.1,380.4L343.8,385.7L346.8,384.8L350.2,387.0L353.6,386.6L357.0,390.5L360.4,395.8L364.4,397.6L365.3,405.9L364.9,413.4L361.9,420.4L359.7,424.8L357.0,431.4L355.8,440.2L355.6,452.1L354.0,460.5L352.9,463.5L351.3,471.0L349.0,475.2L346.3,475.4L342.3,478.0L339.1,479.8L335.5,485.5L334.1,490.8L334.1,498.7L330.9,506.2L326.2,515.9L323.2,522.7L323.7,518.1L321.9,514.5L318.3,509.9L315.5,506.6L313.7,507.1L317.4,499.6L319.6,496.5L322.3,493.7L322.6,489.5L320.5,486.8L321.2,479.8L318.7,479.4L318.0,472.3L313.3,471.4L313.1,465.3L312.5,462.9L314.0,454.3L311.9,450.3L312.1,445.9L307.8,445.9L307.2,434.9L303.8,431.9L300.4,429.2L296.3,424.8L296.1,416.9L293.4,417.8L288.6,422.6L286.6,422.4L284.3,422.6L284.3,416.0L280.7,418.2L280.5,416.0L278.4,415.6L276.8,406.4L278.4,400.6L279.3,396.7L285.7,393.6L285.8,392.7L287.0,379.1L285.7,375.1L286.1,370.7L286.1,366.8L290.2,366.3L292.7,369.0L295.9,370.3L300.6,364.6L299.2,363.3L298.1,355.8L301.5,356.7L304.2,355.3L306.7,351.4L308.1,354.0L309.0,354.9L309.2,358.4L308.5,362.8L309.0,366.3L310.8,368.8L316.2,365.7L317.4,365.5L320.5,363.9L325.1,363.3Z" fill="#E6F598"/>
<path d="M268.9,336.0L270.3,339.1L273.0,332.5L273.2,327.6L274.8,325.4L278.4,324.6L281.1,321.5L282.7,319.7L282.7,322.4L280.5,325.4L278.9,332.5L280.2,337.7L281.1,343.5L285.7,343.5L291.3,347.0L290.6,355.8L291.6,361.1L292.0,365.5L292.7,369.0L290.2,366.3L286.1,366.8L286.1,370.7L285.7,375.1L287.0,379.1L285.8,392.7L284.1,391.0L285.6,386.1L279.1,384.8L276.6,378.6L273.7,374.7L271.4,372.5L268.7,371.2L265.8,368.1L266.4,363.3L269.4,357.5L268.7,350.1L268.9,344.8L267.8,342.6L269.1,339.5Z" fill="#E6F598"/>
<path d="M282.7,322.4L281.8,325.9L282.7,330.3L281.8,333.3L283.4,333.3L283.4,328.1L285.2,324.6L285.7,320.6L286.3,323.7L289.5,325.9L290.2,328.1L294.7,327.6L298.1,329.8L303.8,327.2L302.0,328.5L306.0,332.5L307.2,336.9L308.5,337.7L306.7,341.3L305.1,348.1L306.7,351.4L304.2,355.3L301.5,356.7L298.1,355.8L299.2,363.3L300.6,364.6L295.9,370.3L292.7,369.0L292.0,365.5L291.6,361.1L290.6,355.8L291.3,347.0L285.7,343.5L281.1,343.5L280.2,337.7L278.9,332.5L280.5,325.4Z" fill="#7F7F7F"/>
<path d="M308.5,337.7L311.7,343.9L314.8,348.1L314.4,352.3L313.1,356.7L314.4,359.7L316.2,365.7L310.8,368.8L309.0,366.3L308.5,362.8L309.2,358.4L309.0,354.9L308.1,354.0L306.7,351.4L305.1,348.1L306.7,341.3Z" fill="#FC8D59"/>
<path d="M314.8,348.1L317.6,348.3L321.9,349.0L321.0,352.3L321.9,358.4L320.5,363.9L317.4,365.5L316.2,365.7L314.4,359.7L313.1,356.7L314.4,352.3Z" fill="#FC8D59"/>
<path d="M321.9,349.0L324.4,350.5L327.3,355.8L325.1,363.3L320.5,363.9L321.9,358.4L321.0,352.3Z" fill="#7F7F7F"/>
<path d="M265.8,368.1L268.7,371.2L271.4,372.5L273.7,374.7L273.9,378.4L273.0,381.1L270.7,385.7L268.0,387.4L266.7,389.2L266.0,394.5L264.8,396.2L262.1,393.6L262.4,389.2L263.0,385.2L260.8,383.9L261.5,378.6L262.8,374.2L263.0,370.7Z" fill="#E6F598"/>
<path d="M262.4,389.2L262.1,393.6L264.8,396.2L266.0,394.5L266.7,389.2L268.0,387.4L270.7,385.7L273.0,381.1L273.9,378.4L273.7,374.7L276.6,378.6L279.1,384.8L285.6,386.1L284.1,391.0L285.8,392.7L285.7,393.6L279.3,396.7L278.4,400.6L276.8,406.4L278.4,415.6L280.5,416.0L280.7,418.2L284.3,416.0L284.3,422.6L286.6,422.4L288.6,429.2L287.9,438.0L287.0,442.4L287.9,445.5L286.6,450.3L286.8,451.2L284.8,455.0L282.5,450.8L278.9,446.8L273.9,441.5L271.4,435.4L269.6,427.5L267.1,419.1L265.3,410.3L263.3,404.6L260.3,400.6L260.1,394.9Z" fill="#E6F598"/>
<path d="M286.6,422.4L288.6,422.6L293.4,417.8L296.1,416.9L296.3,424.8L300.4,429.2L303.8,431.9L307.2,434.9L307.8,445.9L312.1,445.9L311.9,450.3L314.0,454.3L312.5,462.9L312.4,461.3L310.3,459.4L304.3,460.7L303.1,464.4L302.3,472.1L298.6,474.5L296.5,471.4L294.0,470.1L292.0,474.5L289.7,468.8L289.1,462.2L287.9,457.8L286.8,451.2L286.6,450.3L287.9,445.5L287.0,442.4L287.9,438.0L288.6,429.2Z" fill="#7F7F7F"/>
<path d="M312.5,462.9L313.1,465.3L313.3,471.4L318.0,472.3L318.7,479.4L321.2,479.8L320.5,486.8L320.3,491.7L317.6,494.5L316.2,495.2L311.5,494.3L313.7,485.5L306.0,478.9L302.3,472.1L303.1,464.4L304.3,460.7L310.3,459.4L312.4,461.3Z" fill="#E6F598"/>
<path d="M323.2,522.7L319.8,528.0L316.9,527.7L313.1,525.8L311.9,523.3L312.4,517.2L313.3,510.6L313.7,507.1L315.5,506.6L318.3,509.9L321.9,514.5L323.7,518.1Z" fill="#99D594"/>
<path d="M302.3,472.1L298.6,474.5L296.5,471.4L294.0,470.1L292.0,474.5L292.5,479.8L289.3,482.0L289.5,492.6L286.6,499.2L285.7,506.2L285.0,512.8L285.7,520.7L286.1,525.1L284.8,532.6L283.4,539.2L283.2,545.8L281.8,552.4L281.6,559.0L281.8,567.8L282.7,574.4L281.6,578.8L280.5,585.4L278.2,592.0L278.9,597.7L280.5,598.5L281.1,602.9L285.7,602.9L289.3,604.7L287.9,601.2L287.9,595.5L290.9,591.1L294.9,584.9L291.3,577.9L292.5,573.0L295.9,571.7L296.5,564.7L300.2,561.6L297.0,559.8L297.0,553.7L301.5,555.0L303.3,552.8L303.1,545.3L308.3,545.3L314.0,541.4L315.8,534.3L314.4,530.4L311.9,526.4L311.9,523.3L312.4,517.2L313.3,510.6L313.7,507.1L317.4,499.6L319.6,496.5L322.3,493.7L322.6,489.5L320.5,486.8L320.3,491.7L317.6,494.5L316.2,495.2L311.5,494.3L313.7,485.5L306.0,478.9ZM288.8,605.8L289.6,607.8L292.0,611.7L296.5,614.6L293.6,616.4L288.8,615.7Z" fill="#99D594"/>
<path d="M284.8,455.0L286.8,451.2L287.9,457.8L289.1,462.2L289.7,468.8L292.0,474.5L292.5,479.8L289.3,482.0L289.5,492.6L286.6,499.2L285.7,506.2L285.0,512.8L285.7,520.7L286.1,525.1L284.8,532.6L283.4,539.2L283.2,545.8L281.8,552.4L281.6,559.0L281.8,567.8L282.7,574.4L281.6,578.8L280.5,585.4L278.2,592.0L278.9,597.7L280.5,598.5L281.1,602.9L285.7,602.9L289.3,604.7L283.6,606.5L282.3,610.9L277.7,607.3L275.5,600.7L273.2,592.0L273.2,581.0L276.6,574.4L278.2,565.6L279.3,559.0L277.1,558.1L277.7,550.2L277.3,541.4L278.4,537.4L279.8,530.4L282.0,519.4L282.3,508.4L282.7,505.8L284.1,493.0L284.5,486.0L284.8,477.6L285.4,466.6L285.2,463.1ZM288.8,605.8L284.5,606.5L284.8,611.3L281.1,613.5L285.7,617.0L288.8,615.7ZM276.8,558.5L277.7,560.3L277.5,565.1L275.7,564.2L276.2,559.8Z" fill="#E6F598"/>
<path d="M306.0,600.3L309.4,599.9L313.3,601.2L311.7,603.8L307.2,603.8Z" fill="#7F7F7F"/>
<path d="M513.8,67.3L518.8,68.6L525.6,69.9L535.8,76.1L537.3,80.9L531.2,84.0L523.3,82.2L517.7,79.1L522.2,86.2L522.9,90.6L527.8,92.8L530.1,89.3L535.8,90.4L534.6,84.9L539.2,82.2L543.7,83.5L544.1,75.6L542.1,72.5L548.2,75.2L549.3,79.6L552.7,76.5L564.1,73.9L567.4,73.9L573.1,72.5L579.9,72.1L581.0,67.3L589.0,69.5L593.5,71.7L598.0,73.9L595.7,68.6L595.3,62.0L600.3,53.6L608.2,54.5L608.6,62.0L607.1,70.8L610.9,79.6L608.2,82.7L611.6,80.5L611.1,73.0L612.7,64.2L610.5,59.8L613.8,54.5L620.6,56.3L626.3,57.6L630.8,64.2L632.0,59.8L626.7,51.0L638.7,48.8L641.0,44.0L652.3,40.4L665.9,38.2L680.2,32.5L686.3,36.5L697.6,37.8L701.0,42.2L693.1,48.8L686.3,52.3L695.3,49.2L702.1,50.6L713.4,53.2L723.6,51.9L731.5,51.0L737.2,55.4L736.1,62.0L742.9,59.8L751.9,59.4L759.8,55.8L763.2,54.1L774.5,56.3L783.6,59.8L789.3,62.4L799.4,62.0L806.2,66.4L810.8,68.1L819.8,68.6L825.5,66.4L830.0,66.0L830.0,70.8L835.7,66.8L844.7,68.1L851.5,71.2L860.5,76.5L869.6,80.5L874.6,83.5L871.9,86.2L867.3,91.0L859.4,89.3L853.8,86.6L848.1,90.1L845.8,89.7L849.2,97.2L850.4,99.8L840.2,102.9L833.4,106.9L828.9,110.4L819.8,110.4L816.6,113.9L817.1,118.3L814.4,120.5L816.0,126.6L812.6,132.4L808.0,139.4L803.3,141.6L798.8,150.0L796.3,143.4L797.2,132.4L796.3,123.6L801.7,119.2L808.5,112.6L814.8,103.8L816.4,99.4L810.8,103.8L807.4,102.5L799.4,103.3L794.9,113.0L788.1,114.8L785.4,112.3L774.5,113.4L767.8,113.4L761.0,121.4L755.3,128.0L750.1,133.7L754.2,136.8L757.6,136.8L762.1,140.3L764.1,140.7L764.1,144.7L762.1,150.0L762.1,158.7L758.7,166.2L754.2,175.0L750.1,182.1L745.6,186.5L742.9,184.3L739.9,188.2L741.0,182.9L741.3,176.8L745.3,175.9L747.4,167.5L749.2,161.4L744.0,164.2L740.6,164.5L739.7,159.2L736.1,157.0L732.7,155.2L732.7,153.0L729.3,143.4L728.1,140.9L723.6,138.7L718.0,139.8L715.7,142.9L717.3,145.6L713.4,154.4L710.7,156.5L708.2,155.1L703.2,153.3L697.6,157.0L688.5,157.0L684.0,153.0L676.1,152.6L675.4,148.6L667.7,145.1L665.5,150.0L666.6,153.0L664.3,155.4L658.0,154.4L652.3,151.3L647.1,155.2L642.8,158.0L641.7,158.3L636.9,156.1L632.0,150.0L625.4,150.8L620.4,139.8L617.2,135.9L610.5,136.8L605.2,135.9L604.6,131.0L600.3,131.0L591.7,135.0L582.2,137.0L583.3,141.2L579.9,145.6L583.3,148.6L583.1,150.8L578.8,151.9L576.5,149.7L570.2,151.7L567.4,150.0L562.9,147.8L559.1,146.7L554.1,151.7L551.6,152.6L550.0,159.2L550.9,164.2L553.2,164.5L555.0,170.2L555.5,170.6L552.7,173.3L551.4,177.2L549.8,179.0L551.6,185.1L554.0,190.2L552.3,193.1L549.9,190.2L549.1,190.0L545.9,186.5L543.2,186.9L540.3,184.3L534.6,183.4L532.4,180.7L529.7,177.9L527.4,175.5L529.0,174.6L529.4,169.3L530.6,168.9L533.0,167.1L530.6,167.1L532.1,163.8L534.4,163.8L534.2,159.6L535.1,156.1L532.1,155.0L529.0,153.0L524.7,152.6L524.2,149.7L521.3,147.1L519.2,144.0L516.1,145.1L515.2,140.3L518.1,139.4L516.1,136.8L513.8,133.2L514.0,129.7L510.6,128.8L507.8,127.3L507.0,122.2L506.0,121.1L506.3,118.3L506.1,115.6L507.5,112.8L508.6,111.2L512.5,110.6L509.7,109.1L507.0,108.0L510.9,103.8L515.4,98.1L512.0,93.7L512.0,88.4L510.9,81.8L509.7,77.4L508.6,73.0L509.7,70.3L513.8,68.1ZM488.5,134.8L495.7,135.2L495.5,132.6L492.3,131.3L491.4,131.1L489.4,132.6L489.1,134.1ZM560.7,59.8L565.2,63.8L570.8,63.8L574.2,63.3L569.7,58.5L569.7,53.2L572.0,48.8L577.6,44.4L586.7,40.4L599.1,37.4L593.5,35.6L579.9,38.7L573.1,42.2L568.6,47.5L565.2,51.0L564.1,55.4ZM659.1,26.8L665.9,22.4L659.1,17.1L663.6,18.0L670.4,23.3L679.5,26.8L681.7,29.9L675.0,31.2L668.2,29.0ZM669.3,31.2L677.2,30.3L684.0,29.9L681.7,32.1L672.7,33.0ZM550.5,21.1L557.3,18.5L566.3,18.0L575.4,16.3L584.4,16.7L591.2,18.0L584.4,20.7L575.4,21.5L566.3,21.5L557.3,22.4ZM754.2,42.2L761.0,40.0L767.8,40.0L774.5,42.2L783.6,43.1L784.7,45.3L776.8,44.4L767.8,44.4L761.0,45.3L755.3,44.4ZM761.0,49.7L765.5,49.2L768.9,51.9L763.2,51.9ZM848.1,60.2L853.8,59.4L857.2,61.1L853.8,62.4L849.2,62.4ZM765.5,135.4L767.5,135.9L768.4,141.2L768.2,147.8L769.1,154.4L771.1,158.7L767.8,157.4L767.1,163.1L768.4,168.4L768.9,171.1L766.8,169.3L765.7,171.9L765.3,167.5L765.7,160.9L765.7,154.4L764.8,145.6L765.0,139.8ZM553.4,69.5L556.1,68.6L557.9,70.8L555.0,72.1ZM773.4,179.4L776.8,176.3L780.9,174.1L779.1,176.3L775.7,179.0ZM783.6,171.1L788.1,166.7L784.7,171.9ZM791.5,160.9L796.0,153.0L797.2,151.3L793.8,158.7ZM814.1,113.9L816.4,114.8L815.3,117.0Z" fill="#99D594"/>
<path d="M389.1,86.2L390.2,84.0L393.2,82.0L395.9,85.7L398.8,84.0L403.4,83.1L407.9,81.8L411.1,84.0L413.3,88.4L410.2,91.5L404.5,94.5L401.1,95.4L397.7,94.5L392.7,93.7L394.3,90.6L389.8,88.8L394.3,87.5Z" fill="#3288BD"/>
<path d="M421.9,147.8L420.8,145.1L422.8,142.5L421.5,139.0L421.5,135.9L424.9,135.0L425.3,131.9L427.6,131.0L427.6,132.4L425.8,134.6L427.6,136.3L429.8,136.5L430.3,139.8L430.1,144.2L429.6,144.7L426.0,146.4Z" fill="#3288BD"/>
<path d="M427.6,132.4L430.1,131.3L431.7,133.7L431.7,135.4L429.8,136.5L427.6,136.3L425.8,134.6ZM431.2,154.1L436.2,153.0L439.6,151.7L444.8,151.1L447.3,149.3L446.4,146.4L447.9,142.9L444.8,141.2L444.3,138.5L443.6,136.3L441.2,133.2L440.5,130.2L439.1,128.0L436.9,128.0L438.2,126.2L439.6,122.7L440.0,120.9L436.2,120.5L435.0,120.9L437.3,116.5L432.8,116.5L431.0,121.4L431.7,125.8L431.2,130.6L433.2,130.2L432.6,133.2L436.2,132.8L436.9,136.3L437.5,137.6L437.1,139.4L433.9,139.8L433.5,142.0L434.8,143.8L432.3,146.4L436.9,148.2L438.0,147.3L436.9,149.1L433.9,150.0ZM427.1,122.2L428.3,118.3L430.1,117.4L429.4,120.0ZM429.4,121.8L430.3,120.9L431.0,122.7L429.8,123.1ZM440.5,107.7L441.8,108.2L441.4,110.8L440.5,109.9ZM436.6,114.3L438.0,113.9L437.8,115.6L436.6,115.2Z" fill="#7F7F7F"/>
<path d="M469.4,114.8L467.9,113.4L465.6,115.6L462.2,118.7L459.3,118.7L456.5,115.2L455.4,108.6L455.4,102.5L458.8,98.5L463.3,95.0L467.6,93.2L470.1,88.8L472.4,84.0L475.8,78.3L479.2,73.9L483.7,69.5L487.1,66.8L492.8,65.5L497.3,62.9L502.5,61.6L507.5,62.0L514.3,64.6L513.8,67.3L513.8,68.1L509.7,70.3L507.5,66.4L502.9,66.8L502.3,69.9L497.3,72.1L492.8,69.9L490.5,70.6L489.4,73.4L484.8,73.0L481.4,77.4L479.2,82.7L476.9,87.1L475.1,90.6L471.7,95.0L471.7,101.6L472.6,106.0L471.7,110.4L470.6,112.1ZM473.5,75.2L476.9,73.9L480.3,71.2L478.0,72.1L474.7,74.3ZM469.0,26.8L470.1,23.3L475.8,23.3L480.3,22.4L483.7,24.6L487.1,27.7L492.8,28.6L487.1,31.2L482.6,36.9L478.0,35.6L475.8,32.1L471.3,29.0ZM484.8,21.5L489.4,20.2L498.4,21.1L505.2,22.4L496.2,25.0L489.4,24.2ZM491.6,30.3L496.2,31.2L497.3,33.4L492.8,33.8Z" fill="#3288BD"/>
<path d="M469.4,114.8L469.4,117.8L471.3,121.8L473.1,126.6L473.3,130.6L476.5,130.2L476.9,127.5L480.3,127.1L481.4,121.4L481.9,117.0L486.0,113.4L486.7,109.5L483.0,106.9L483.3,100.3L486.0,96.7L490.5,93.7L492.8,89.3L494.6,85.3L498.8,84.9L497.7,81.8L498.0,77.4L493.9,73.0L490.5,70.6L489.4,73.4L484.8,73.0L481.4,77.4L479.2,82.7L476.9,87.1L475.1,90.6L471.7,95.0L471.7,101.6L472.6,106.0L471.7,110.4L470.6,112.1ZM485.3,123.6L486.7,119.6L487.6,119.6L486.7,122.2ZM481.2,127.1L482.8,122.2L482.3,124.9Z" fill="#3288BD"/>
<path d="M498.8,84.9L501.4,88.4L499.6,91.5L495.7,95.0L492.3,97.2L492.3,102.5L492.3,106.4L495.0,109.5L496.2,111.0L500.7,109.5L507.0,108.0L510.9,103.8L515.4,98.1L512.0,93.7L512.0,88.4L510.9,81.8L509.7,77.4L508.6,73.0L509.7,70.3L507.5,66.4L502.9,66.8L502.3,69.9L497.3,72.1L492.8,69.9L490.5,70.6L493.9,73.0L498.0,77.4L497.7,81.8Z" fill="#3288BD"/>
<path d="M463.6,132.8L462.7,129.7L462.4,125.8L462.7,123.6L465.6,122.7L468.1,120.3L467.6,125.8L468.8,126.6L467.2,128.4L466.3,131.0L465.6,133.0ZM469.0,129.3L472.4,127.5L472.6,129.7L471.7,132.4L469.4,131.5ZM466.3,130.2L468.5,130.2L468.3,132.4L466.7,131.9ZM469.0,132.8L471.3,133.2L470.8,134.1L469.0,133.7Z" fill="#3288BD"/>
<path d="M463.6,132.8L465.6,133.0L466.7,134.6L469.0,135.0L469.0,136.8L472.4,135.0L474.7,134.1L476.2,137.2L476.5,141.2L477.1,143.4L477.4,146.4L478.0,150.0L476.5,149.7L473.5,152.2L471.7,153.0L472.6,156.5L475.3,159.6L474.4,161.4L473.1,162.7L473.6,165.3L471.7,164.9L467.9,165.8L465.8,165.1L463.6,164.0L461.3,164.9L461.3,161.8L462.7,158.7L458.6,156.8L457.9,153.7L457.7,151.1L458.1,148.2L457.7,146.2L459.5,145.1L459.9,142.9L460.4,140.1L459.9,138.1L462.9,138.5L463.6,137.2L464.5,136.8L463.8,135.0Z" fill="#3288BD"/>
<path d="M460.4,140.1L459.7,139.2L456.5,139.4L455.0,141.4L453.8,145.1L451.8,148.2L451.8,148.4L453.8,148.4L455.4,148.0L457.2,149.3L457.0,151.1L457.7,151.1L458.1,148.2L457.7,146.2L459.5,145.1L459.9,142.9Z" fill="#3288BD"/>
<path d="M451.8,148.4L449.9,149.5L451.3,151.3L453.6,154.4L455.1,153.7L455.2,155.2L457.2,156.3L457.1,154.4L457.9,153.7L457.7,151.1L457.0,151.1L457.2,149.3L455.4,148.0L453.8,148.4Z" fill="#3288BD"/>
<path d="M457.2,156.3L457.1,154.4L457.9,153.7L458.6,156.8L457.7,156.8Z" fill="#3288BD"/>
<path d="M449.9,149.5L447.7,150.4L447.7,153.5L444.6,155.7L441.4,157.0L439.8,155.7L440.5,160.3L437.3,159.6L433.2,161.4L434.4,164.0L438.4,166.2L441.4,171.1L441.4,177.7L440.0,183.4L442.5,185.6L445.7,186.2L447.9,187.3L451.3,187.6L450.9,184.7L452.7,182.9L455.0,183.6L456.3,184.0L459.0,184.5L461.1,181.7L461.5,179.9L459.7,179.0L459.9,175.5L459.5,172.6L459.5,170.2L457.9,171.1L457.9,169.5L459.9,166.2L461.3,164.9L461.3,161.8L462.7,158.7L458.6,156.8L457.7,156.8L457.2,156.3L455.2,155.2L455.1,153.7L453.6,154.4L451.3,151.3ZM463.6,187.8L465.4,185.1L465.7,189.1L464.9,192.2L463.6,190.0Z" fill="#3288BD"/>
<path d="M440.0,183.4L435.5,182.9L431.2,182.5L426.7,181.8L423.3,184.3L424.0,190.0L425.5,189.1L429.2,189.8L430.1,191.3L428.5,193.9L428.3,199.6L427.1,199.9L428.3,206.2L427.4,210.6L429.6,212.4L431.4,215.9L434.1,212.8L439.1,212.6L442.5,208.9L444.6,203.8L443.4,200.5L446.1,194.8L449.1,192.2L451.6,189.5L451.3,187.6L447.9,187.3L445.7,186.2L442.5,185.6ZM449.5,200.1L451.3,198.5L451.8,200.1L450.9,201.4ZM447.0,202.3L447.7,202.7L447.3,203.4ZM452.7,198.1L453.8,198.8L452.9,198.8Z" fill="#99D594"/>
<path d="M424.0,190.0L424.4,193.9L423.7,198.3L422.6,203.6L424.2,205.4L424.2,207.6L423.7,211.5L426.2,211.5L427.4,210.6L428.3,206.2L427.1,199.9L428.3,199.6L428.5,193.9L430.1,191.3L429.2,189.8L425.5,189.1Z" fill="#99D594"/>
<path d="M461.1,181.7L464.2,179.0L467.0,180.7L467.9,185.6L470.8,189.1L471.9,190.9L475.3,193.1L476.5,194.8L478.0,197.5L479.6,198.3L480.5,202.7L479.9,205.8L479.5,207.1L480.5,207.3L481.7,205.4L482.8,202.7L481.4,199.6L482.3,196.4L483.0,196.4L484.8,199.0L486.0,197.7L484.6,195.3L480.3,191.7L480.8,190.0L478.0,189.5L475.8,186.5L474.9,182.7L472.4,180.3L471.9,176.8L471.9,174.6L473.7,173.3L475.3,173.7L474.9,171.9L475.1,169.7L472.2,168.9L471.7,167.3L469.0,168.4L467.8,168.2L467.0,170.6L465.1,170.2L464.5,172.6L463.2,170.2L461.9,172.2L460.1,172.4L459.5,172.6L459.9,175.5L459.7,179.0L461.5,179.9ZM472.3,207.6L474.3,206.5L479.3,206.0L478.3,210.2L478.3,212.8L476.5,211.5L473.3,209.1ZM462.7,194.4L464.9,192.8L466.3,196.1L465.8,201.8L464.5,202.7L463.1,202.3L463.1,197.0Z" fill="#3288BD"/>
<path d="M457.9,171.1L457.9,169.5L459.9,166.2L461.3,164.9L463.6,164.0L465.8,165.1L465.8,167.3L467.8,168.2L467.0,170.6L465.1,170.2L464.5,172.6L463.2,170.2L461.9,172.2L460.1,172.4L459.5,172.6L459.5,170.2Z" fill="#3288BD"/>
<path d="M465.8,165.1L467.9,165.8L471.7,164.9L473.6,165.3L473.1,162.7L474.4,161.4L475.3,159.6L477.4,160.5L478.0,158.7L480.5,159.8L482.5,160.5L482.9,163.1L482.8,164.5L481.4,165.3L481.4,167.5L480.5,168.2L479.5,168.9L477.1,170.2L475.1,169.7L472.2,168.9L471.7,167.3L469.0,168.4L467.8,168.2L465.8,167.3Z" fill="#3288BD"/>
<path d="M471.7,153.0L473.5,152.2L476.5,149.7L478.0,150.0L481.0,151.5L482.3,152.6L484.2,153.0L486.8,156.5L485.1,158.3L483.0,159.4L482.5,160.5L480.5,159.8L478.0,158.7L477.4,160.5L475.3,159.6L472.6,156.5Z" fill="#3288BD"/>
<path d="M476.2,137.2L480.8,135.4L484.8,133.2L486.4,135.0L488.5,134.8L495.7,135.2L497.3,137.0L498.2,142.5L496.6,144.7L497.5,147.8L498.6,150.8L496.2,154.8L495.5,158.3L495.1,158.4L492.8,157.0L489.6,157.9L488.2,156.3L486.8,156.5L484.2,153.0L482.3,152.6L481.0,151.5L478.0,150.0L477.4,146.4L477.1,143.4L476.5,141.2Z" fill="#99D594"/>
<path d="M482.5,160.5L483.0,159.4L485.1,158.3L486.8,156.5L488.2,156.3L489.6,157.9L492.8,157.0L495.1,158.4L494.2,161.4L490.5,160.9L488.5,162.3L486.7,164.0L484.4,164.2L482.9,163.1Z" fill="#E6F598"/>
<path d="M482.9,163.1L484.4,164.2L486.7,164.0L488.5,162.3L490.5,160.9L494.2,161.4L495.9,163.1L493.9,164.9L492.3,169.3L489.9,171.5L486.9,172.4L484.2,172.2L482.3,170.4L481.2,169.3L480.5,168.2L481.4,167.5L481.4,165.3L482.8,164.5Z" fill="#99D594"/>
<path d="M475.3,173.7L474.9,171.9L475.1,169.7L477.1,170.2L479.5,168.9L480.5,168.2L481.2,169.3L479.6,171.1L478.7,174.1L477.1,173.7L474.9,174.4Z" fill="#3288BD"/>
<path d="M474.9,174.4L477.1,173.7L478.7,174.1L479.6,171.1L481.2,169.3L482.3,170.4L484.2,172.2L486.9,172.4L487.2,174.6L487.1,176.8L484.8,175.9L482.3,175.5L479.9,175.5L479.7,177.2L480.8,179.9L482.6,182.9L483.9,185.1L485.9,187.3L486.0,187.8L483.9,185.6L481.4,182.9L480.1,182.1L478.5,179.9L477.8,176.3L476.7,175.0L475.6,177.2L474.7,174.4Z" fill="#99D594"/>
<path d="M479.7,177.2L479.9,175.5L482.3,175.5L484.8,175.9L487.1,176.8L488.0,179.4L488.2,182.5L486.4,184.3L485.9,187.3L483.9,185.1L482.6,182.9L480.8,179.9Z" fill="#3288BD"/>
<path d="M486.9,172.4L489.9,171.5L492.8,175.5L492.5,177.2L495.0,177.7L495.5,179.9L494.8,182.9L496.2,184.7L494.8,188.2L493.0,188.4L493.4,186.5L491.9,184.3L490.2,185.8L487.7,182.9L488.2,182.5L488.0,179.4L487.1,176.8L487.2,174.6Z" fill="#99D594"/>
<path d="M490.2,185.8L491.9,184.3L493.4,186.5L493.0,188.4L490.7,190.0L489.6,187.1Z" fill="#7F7F7F"/>
<path d="M485.9,187.3L486.4,184.3L487.7,182.9L490.2,185.8L489.6,187.1L488.5,187.3L487.9,190.2L486.0,187.8Z" fill="#7F7F7F"/>
<path d="M487.9,190.2L488.5,187.3L489.6,187.1L490.7,190.0L490.5,192.6L491.6,194.6L491.0,197.0L489.4,199.6L487.8,196.6L488.1,192.6Z" fill="#3288BD"/>
<path d="M490.7,190.0L493.0,188.4L494.8,188.2L496.2,190.9L495.9,192.4L495.5,193.3L493.7,194.2L491.6,194.6L490.5,192.6Z" fill="#3288BD"/>
<path d="M489.4,199.6L491.0,197.0L491.6,194.6L493.7,194.2L495.5,193.3L495.9,192.4L499.6,191.5L502.9,190.9L503.7,190.9L504.3,192.4L502.9,195.0L500.7,194.2L498.4,195.0L499.3,197.7L496.8,197.5L495.9,196.1L495.3,198.3L496.6,201.8L495.9,203.2L498.4,207.1L498.5,208.7L497.5,207.1L496.2,207.1L496.6,209.8L495.5,209.3L496.4,213.7L495.0,214.2L493.2,212.4L491.9,208.0L493.2,205.8L491.9,205.4L491.0,203.2L489.8,200.5ZM497.3,218.1L498.4,217.9L502.5,218.8L503.6,219.4L502.9,220.3L500.0,220.5L497.3,219.2ZM496.6,203.2L498.9,204.5L499.8,207.1L498.4,205.8ZM507.0,214.2L507.9,214.2L507.0,216.4ZM502.9,201.4L504.3,201.8L503.4,202.7ZM502.7,204.9L503.2,204.9L502.9,206.2ZM488.7,199.2L489.6,200.5L489.1,201.0ZM490.5,205.4L491.2,206.7L490.5,206.7Z" fill="#3288BD"/>
<path d="M495.5,179.9L498.4,182.1L501.8,182.3L505.2,180.1L508.8,181.8L507.2,184.3L506.3,187.3L507.5,189.5L505.9,189.1L503.7,190.9L502.9,190.9L499.6,191.5L495.9,192.4L496.2,190.9L494.8,188.2L496.2,184.7L494.8,182.9Z" fill="#99D594"/>
<path d="M489.9,171.5L492.3,169.3L493.9,164.9L495.9,163.1L499.6,163.4L504.3,162.0L506.3,165.3L507.7,168.0L507.9,174.1L511.1,175.0L511.1,177.2L509.1,179.9L508.8,181.8L505.2,180.1L501.8,182.3L498.4,182.1L495.5,179.9L495.0,177.7L492.5,177.2L492.8,175.5Z" fill="#3288BD"/>
<path d="M504.3,162.0L507.0,161.2L510.0,163.4L510.2,165.8L512.2,170.2L509.5,170.0L509.6,171.9L507.9,174.1L507.7,168.0L506.3,165.3Z" fill="#99D594"/>
<path d="M497.5,147.8L499.1,146.9L501.8,146.0L507.0,147.8L510.4,148.2L513.4,148.6L514.0,145.1L516.1,145.1L519.2,144.0L521.3,147.1L524.2,149.7L524.7,152.6L529.0,153.0L532.1,155.0L535.1,156.1L534.2,159.6L534.4,163.8L532.1,163.8L530.6,167.1L527.4,168.6L523.8,171.5L523.3,173.3L526.9,174.6L524.2,176.3L522.2,179.0L519.7,178.5L517.7,174.8L520.1,171.5L516.5,171.1L515.4,169.3L513.7,169.7L512.9,171.9L511.3,174.6L511.1,175.0L507.9,174.1L509.6,171.9L509.5,170.0L512.2,170.2L510.2,165.8L510.0,163.4L507.0,161.2L504.3,162.0L499.6,163.4L495.9,163.1L494.2,161.4L495.1,158.4L495.5,158.3L496.2,154.8L498.6,150.8Z" fill="#99D594"/>
<path d="M497.3,137.0L500.7,136.3L502.5,132.8L504.3,131.0L504.3,129.3L507.8,127.3L510.6,128.8L514.0,129.7L513.8,133.2L516.1,136.8L518.1,139.4L515.2,140.3L516.1,145.1L514.0,145.1L513.4,148.6L510.4,148.2L507.0,147.8L501.8,146.0L499.1,146.9L497.5,147.8L496.6,144.7L498.2,142.5Z" fill="#3288BD"/>
<path d="M492.3,131.3L491.7,127.7L493.9,126.2L500.5,126.2L504.3,129.3L504.3,131.0L502.5,132.8L500.7,136.3L497.3,137.0L495.7,135.2L495.5,132.6Z" fill="#99D594"/>
<path d="M491.7,127.7L491.6,124.4L492.8,121.1L495.3,120.3L496.6,123.6L498.6,123.3L499.2,119.7L501.4,119.2L504.1,121.1L506.0,121.1L507.0,122.2L507.8,127.3L504.3,129.3L500.5,126.2L493.9,126.2Z" fill="#3288BD"/>
<path d="M499.2,119.7L499.6,117.6L497.3,116.1L497.3,113.9L500.1,112.8L502.9,112.1L507.5,112.8L506.1,115.6L506.3,118.3L506.0,121.1L504.1,121.1L501.4,119.2ZM493.4,117.8L496.2,116.5L496.6,117.4L494.3,119.2ZM494.3,115.2L496.2,114.8L495.7,116.1Z" fill="#3288BD"/>
<path d="M502.9,195.0L504.3,192.4L503.7,190.9L505.9,189.1L507.5,189.5L510.0,192.8L514.9,193.5L519.5,189.5L523.5,189.3L526.3,192.6L531.0,194.2L534.6,193.9L538.1,191.7L540.3,192.0L542.4,193.5L543.0,197.9L545.5,199.6L544.6,201.0L543.7,201.0L544.8,205.8L544.4,207.6L545.5,210.9L543.9,210.2L540.0,211.1L536.9,211.1L532.4,212.8L528.1,213.1L527.0,214.8L526.0,216.6L525.5,216.4L526.0,213.3L524.4,213.5L522.4,212.4L520.4,215.3L518.3,215.7L516.5,213.5L513.6,212.2L512.9,214.8L510.0,213.1L507.9,212.4L506.1,211.5L505.7,207.6L503.6,205.8L505.0,205.1L504.5,201.4L503.2,200.5L503.4,198.3L506.3,196.6L509.7,196.4L510.2,194.6L507.5,194.2L505.2,195.9Z" fill="#99D594"/>
<path d="M517.2,220.1L518.8,218.8L522.3,217.5L521.1,220.3L518.8,222.1L517.4,221.4Z" fill="#99D594"/>
<path d="M534.6,183.4L540.3,184.3L543.2,186.9L545.9,186.5L549.1,190.0L549.8,192.6L545.9,192.6L542.4,193.5L540.3,192.0L538.1,191.7L538.3,188.7L536.9,185.4Z" fill="#99D594"/>
<path d="M542.4,193.5L545.9,192.6L547.1,195.3L548.0,197.5L549.3,200.5L549.3,203.2L548.4,203.4L547.1,200.5L545.5,199.6L543.0,197.9Z" fill="#99D594"/>
<path d="M549.1,190.0L549.9,190.2L552.3,193.1L554.0,190.2L555.5,193.9L557.9,196.6L556.1,197.7L555.7,201.4L554.8,205.1L552.7,203.4L553.4,201.0L550.5,201.6L549.3,203.2L549.3,200.5L548.0,197.5L547.1,195.3L545.9,192.6L549.8,192.6ZM545.5,199.6L547.1,200.5L548.4,203.4L546.9,202.7L545.8,201.0Z" fill="#99D594"/>
<path d="M405.9,249.3L407.7,248.7L406.5,251.1ZM408.3,250.7L409.2,250.7L409.0,252.2ZM411.7,248.5L412.9,248.0L412.2,250.7ZM412.9,245.8L413.8,245.8L413.1,247.1ZM403.4,247.6L404.0,247.6L403.8,248.9Z" fill="#7F7F7F"/>
<path d="M555.5,170.6L555.0,170.2L553.2,164.5L550.9,164.2L550.0,159.2L551.6,152.6L554.1,151.7L559.1,146.7L562.9,147.8L567.4,150.0L570.2,151.7L576.5,149.7L578.8,151.9L583.1,150.8L583.3,148.6L579.9,145.6L583.3,141.2L582.2,137.0L591.7,135.0L600.3,131.0L604.6,131.0L605.2,135.9L610.5,136.8L617.2,135.9L620.4,139.8L625.4,150.8L632.0,150.0L636.9,156.1L641.7,158.3L640.6,159.6L638.1,161.8L637.6,167.3L632.0,166.7L630.6,174.1L631.0,175.5L627.2,175.9L624.9,176.8L626.1,180.7L627.0,184.5L625.6,188.7L623.4,186.0L617.2,185.1L611.6,184.3L610.5,187.3L604.8,186.9L604.7,188.4L602.5,190.4L600.3,192.4L598.2,194.8L595.1,193.3L593.5,185.6L593.0,185.6L584.4,182.9L582.2,179.0L576.5,173.9L570.8,176.3L570.8,192.6L568.1,189.5L564.1,189.1L562.8,190.6L562.9,186.0L559.5,178.5L557.9,178.1L560.0,175.5L564.1,175.0L564.5,168.9L560.7,167.5Z" fill="#3288BD"/>
<path d="M570.8,192.6L570.8,176.3L576.5,173.9L582.2,179.0L584.4,182.9L593.0,185.6L593.5,185.6L595.1,193.3L598.2,194.8L600.3,192.4L602.5,190.4L604.7,188.4L605.5,188.7L606.4,191.7L609.5,194.6L608.0,196.4L606.4,197.7L603.7,196.6L603.4,193.9L600.9,195.0L600.3,197.5L599.4,197.9L598.0,200.5L596.6,201.4L597.6,203.2L598.2,205.4L597.6,210.6L594.6,210.0L592.6,206.2L589.0,202.9L585.3,198.3L584.2,193.5L580.1,192.2L579.9,188.7L576.7,186.5L574.9,188.7L573.1,192.6Z" fill="#3288BD"/>
<path d="M562.8,190.6L564.1,189.1L568.1,189.5L570.8,192.6L573.1,192.6L574.9,188.7L576.7,186.5L579.9,188.7L580.1,192.2L584.2,193.5L585.3,198.3L589.0,202.9L592.6,206.2L594.6,210.0L592.8,209.3L590.8,211.1L589.9,215.0L586.9,216.6L585.1,219.4L582.8,217.7L582.4,213.3L579.9,211.5L577.2,208.4L573.6,206.0L569.5,207.1L566.1,210.0L565.9,203.2L564.1,200.5L565.2,198.3L563.6,194.4L566.3,193.1Z" fill="#3288BD"/>
<path d="M604.7,188.4L604.8,186.9L610.5,187.3L611.6,184.3L617.2,185.1L623.4,186.0L625.6,188.7L621.5,192.2L617.9,193.9L616.1,196.6L613.4,196.1L611.1,199.2L610.8,200.7L606.6,201.4L600.9,200.3L601.6,197.5L603.7,198.1L603.7,196.6L606.4,197.7L608.0,196.4L609.5,194.6L606.4,191.7L605.5,188.7Z" fill="#3288BD"/>
<path d="M597.6,210.6L598.2,205.4L597.6,203.2L596.6,201.4L598.0,200.5L599.4,197.9L600.3,197.5L600.9,195.0L603.4,193.9L603.7,196.6L603.7,198.1L601.6,197.5L600.9,200.3L606.6,201.4L610.8,200.7L611.1,204.5L613.6,205.1L614.2,209.8L613.6,210.4L610.0,209.5L606.6,212.8L605.7,207.6L603.0,207.6L602.8,209.1L600.9,211.1Z" fill="#3288BD"/>
<path d="M642.8,158.0L647.1,155.2L652.3,151.3L658.0,154.4L664.3,155.4L666.6,153.0L665.5,150.0L667.7,145.1L675.4,148.6L676.1,152.6L684.0,153.0L688.5,157.0L697.6,157.0L703.2,153.3L708.2,155.1L706.6,159.6L705.5,163.6L710.0,164.5L715.2,168.9L708.9,170.2L705.5,174.6L697.6,176.3L697.1,182.1L693.1,186.5L686.3,190.4L681.7,191.3L672.7,186.9L663.6,186.2L662.1,186.0L660.2,179.9L655.7,176.3L649.8,175.0L648.9,165.3L644.4,161.8Z" fill="#3288BD"/>
<path d="M739.7,187.8L737.9,185.6L733.8,189.5L731.3,190.6L727.7,195.5L725.5,198.5L720.2,202.5L718.4,203.8L719.1,200.1L720.7,195.7L718.0,194.6L714.6,199.0L710.7,202.3L713.2,209.3L713.9,210.9L717.5,208.0L721.6,210.2L718.0,213.3L716.4,215.7L714.1,220.3L716.8,226.9L719.8,234.0L720.0,238.4L717.7,241.0L720.0,242.7L719.3,249.8L717.1,253.3L714.8,260.3L712.5,266.1L708.2,271.8L702.8,275.7L701.0,276.6L697.1,279.3L694.0,280.6L693.7,285.0L692.4,280.1L688.5,279.5L685.6,277.5L685.4,273.5L682.4,271.8L679.3,275.1L675.3,275.5L674.5,281.0L673.0,279.5L673.0,281.2L670.4,278.8L668.6,276.6L669.1,272.7L667.5,268.7L665.0,268.7L667.3,260.8L667.5,252.9L664.4,250.0L661.4,245.4L658.0,245.8L652.3,252.0L651.5,252.2L650.1,251.1L647.8,249.8L645.5,253.3L645.3,254.2L643.6,251.6L640.8,251.2L638.1,249.8L634.2,245.8L629.7,241.0L627.5,241.4L624.0,237.9L622.2,235.7L621.5,231.3L623.6,230.9L622.7,227.8L623.8,223.0L620.6,218.1L616.6,216.8L614.8,211.7L612.8,211.4L613.6,210.4L614.2,209.8L613.6,205.1L611.1,204.5L610.8,200.7L611.1,199.2L613.4,196.1L616.1,196.6L617.9,193.9L621.5,192.2L625.6,188.7L627.0,184.5L626.1,180.7L624.9,176.8L627.2,175.9L631.0,175.5L630.6,174.1L632.0,166.7L637.6,167.3L638.1,161.8L640.6,159.6L641.7,158.3L642.8,158.0L644.4,161.8L648.9,165.3L649.8,175.0L655.7,176.3L660.2,179.9L662.1,186.0L663.6,186.2L672.7,186.9L681.7,191.3L686.3,190.4L693.1,186.5L697.1,182.1L697.6,176.3L705.5,174.6L708.9,170.2L715.2,168.9L710.0,164.5L705.5,163.6L706.6,159.6L708.2,155.1L710.7,156.5L713.4,154.4L717.3,145.6L715.7,142.9L718.0,139.8L723.6,138.7L728.1,140.9L729.3,143.4L732.7,153.0L732.7,155.2L736.1,157.0L739.7,159.2L740.6,164.5L744.0,164.2L749.2,161.4L747.4,167.5L745.3,175.9L741.3,176.8L741.0,182.9L739.9,188.2ZM690.1,289.4L691.9,286.3L694.6,285.9L695.3,288.0L693.1,293.3L691.9,294.2L690.1,292.9Z" fill="#99D594"/>
<path d="M718.0,264.3L720.0,263.9L719.1,268.7L717.7,277.5L716.1,274.0L715.9,270.9L717.3,266.1Z" fill="#99D594"/>
<path d="M725.5,198.5L727.7,195.5L731.3,190.6L733.8,189.5L737.9,185.6L739.7,187.8L739.9,188.2L737.7,192.2L737.7,194.6L734.5,198.3L732.7,199.2L732.7,201.4L734.6,204.5L731.8,205.8L730.9,208.0L727.7,208.4L726.3,206.7L727.5,204.0L727.7,201.0Z" fill="#E6F598"/>
<path d="M730.9,208.0L731.8,205.8L734.6,204.5L737.0,211.5L737.3,215.9L736.7,219.0L733.8,221.0L730.4,223.2L730.2,218.1L730.4,212.8L730.6,211.5L729.5,208.4ZM729.7,227.4L731.3,226.9L730.6,228.2Z" fill="#99D594"/>
<path d="M763.0,191.7L764.4,196.1L765.5,200.1L764.4,205.8L763.2,211.5L762.3,214.6L763.0,217.2L760.7,220.3L760.5,217.7L759.2,219.4L758.2,221.9L756.9,222.1L754.2,222.1L753.9,220.3L753.0,223.4L751.5,227.1L749.9,223.8L750.6,221.9L747.4,222.1L744.0,223.4L740.6,224.9L740.6,223.0L744.0,218.6L745.6,217.9L748.5,217.7L751.9,217.2L752.4,214.6L753.7,211.5L754.9,209.3L754.6,212.4L757.6,209.8L759.6,205.8L761.0,199.2L761.0,195.7L761.6,193.1ZM761.4,191.7L761.0,187.3L762.1,183.8L764.1,183.8L764.8,174.6L767.8,178.5L770.7,180.7L773.0,179.4L773.6,183.8L770.0,185.4L768.4,189.5L765.0,186.9L763.0,187.8L763.2,190.6ZM744.0,226.5L745.1,224.7L748.1,223.2L749.0,225.6L747.8,228.0L745.6,227.4L745.1,230.2L743.8,229.1ZM740.4,225.2L742.2,226.5L742.9,230.0L741.7,235.3L740.6,237.9L739.0,236.6L738.8,232.2L737.7,230.4L737.9,227.4L739.2,226.5ZM733.1,259.0L734.5,256.4L733.8,258.6ZM738.3,249.3L737.2,249.8L737.0,250.7Z" fill="#99D594"/>
<path d="M598.5,270.0L600.0,276.2L602.5,281.9L604.8,283.2L607.3,281.0L608.4,276.2L608.9,281.9L608.9,290.7L610.0,299.5L611.1,306.5L613.4,317.5L615.7,325.0L616.8,330.7L618.4,337.7L619.6,338.7L621.1,335.1L622.9,333.3L624.9,329.0L624.8,323.7L625.8,316.6L625.4,308.3L627.4,304.8L630.4,301.2L632.6,296.4L636.5,289.4L639.6,286.3L641.0,283.2L641.2,279.7L643.7,279.3L645.8,278.4L645.3,272.2L644.9,267.4L643.5,266.1L644.2,263.4L645.3,263.0L644.2,258.6L644.4,257.7L647.3,259.9L647.3,263.0L653.2,264.1L652.8,266.9L650.5,268.7L650.5,270.9L651.6,273.1L652.1,270.5L653.0,270.0L653.7,277.7L655.0,276.6L655.5,269.1L657.2,269.4L658.4,263.4L659.6,256.8L663.6,255.1L664.4,250.0L661.4,245.4L658.0,245.8L652.3,252.0L651.5,252.2L652.5,256.2L647.5,256.8L645.3,255.7L645.3,254.2L643.6,251.6L643.5,257.9L638.3,257.3L634.4,253.3L632.6,254.0L629.5,251.5L625.4,247.6L625.8,243.4L627.5,241.4L624.0,237.9L622.2,235.7L621.5,231.3L623.6,230.9L622.7,227.8L623.8,223.0L620.6,218.1L620.2,218.1L618.1,221.9L615.7,222.5L611.6,221.6L611.4,226.0L612.7,230.0L614.8,232.2L612.9,237.5L611.4,242.3L609.1,247.1L606.8,251.5L603.4,251.1L601.6,254.6L603.0,257.7L602.8,261.2L604.6,266.9L599.8,267.4ZM653.9,314.9L654.6,315.8L654.4,322.4L653.7,322.8L653.7,318.0ZM656.2,342.1L656.6,343.5L656.4,344.3Z" fill="#99D594"/>
<path d="M583.5,263.4L590.1,263.2L594.6,262.5L596.6,268.7L598.5,270.0L599.8,267.4L604.6,266.9L602.8,261.2L603.0,257.7L601.6,254.6L603.4,251.1L606.8,251.5L609.1,247.1L611.4,242.3L612.9,237.5L614.8,232.2L612.7,230.0L611.4,226.0L611.6,221.6L615.7,222.5L618.1,221.9L620.2,218.1L616.6,216.8L614.8,211.7L612.8,211.4L609.3,212.2L606.2,214.2L605.2,216.1L606.2,219.4L605.0,223.8L602.5,224.7L602.5,228.2L601.2,230.4L600.9,234.0L598.2,234.8L595.1,237.0L594.2,242.7L589.2,244.9L585.6,244.9L581.9,242.9L584.0,248.5L586.2,250.0L586.2,254.4L587.4,257.3L585.1,258.1Z" fill="#E6F598"/>
<path d="M581.9,242.9L585.6,244.9L589.2,244.9L594.2,242.7L595.1,237.0L598.2,234.8L600.9,234.0L601.2,230.4L602.5,228.2L602.5,224.7L605.0,223.8L606.2,219.4L605.2,216.1L606.2,214.2L609.3,212.2L612.8,211.4L613.6,210.4L610.0,209.5L606.6,212.8L605.7,207.6L603.0,207.6L602.8,209.1L600.9,211.1L597.6,210.6L594.6,210.0L592.8,209.3L590.8,211.1L589.9,215.0L586.9,216.6L585.1,219.4L582.8,217.7L581.0,224.7L581.3,229.1L581.8,235.7L584.0,236.4L584.0,238.6Z" fill="#E6F598"/>
<path d="M625.4,247.6L625.8,243.4L627.5,241.4L629.7,241.0L634.2,245.8L638.1,249.8L640.8,251.2L643.6,251.6L643.5,257.9L638.3,257.3L634.4,253.3L632.6,254.0L629.5,251.5Z" fill="#99D594"/>
<path d="M645.3,254.2L645.5,253.3L647.8,249.8L650.1,251.1L651.5,252.2L652.5,256.2L647.5,256.8L645.3,255.7Z" fill="#E6F598"/>
<path d="M645.8,278.4L645.3,272.2L644.9,267.4L643.5,266.1L644.2,263.4L645.3,263.0L644.2,258.6L644.4,257.7L647.3,259.9L647.3,263.0L653.2,264.1L652.8,266.9L650.5,268.7L650.5,270.9L651.6,273.1L652.1,270.5L653.0,270.0L653.7,277.7L653.0,283.2L651.9,276.2L649.6,275.7L648.5,277.9Z" fill="#E6F598"/>
<path d="M624.5,338.2L625.2,331.1L627.2,334.7L629.2,341.3L628.8,345.7L626.5,348.1L625.2,347.0L624.7,343.5Z" fill="#E6F598"/>
<path d="M653.0,283.2L653.7,277.7L655.0,276.6L655.5,269.1L657.2,269.4L658.4,263.4L659.6,256.8L663.6,255.1L664.4,250.0L667.5,252.9L667.3,260.8L665.0,268.7L667.5,268.7L669.1,272.7L668.6,276.6L670.4,278.8L673.0,281.2L670.7,284.8L668.2,285.9L665.9,287.6L665.2,292.9L665.5,296.8L667.3,301.7L666.4,307.4L668.4,313.6L668.6,319.3L669.5,322.4L667.7,328.1L667.1,330.4L667.0,322.4L667.3,317.1L666.1,312.7L665.2,304.3L665.0,301.7L663.6,299.5L661.8,301.7L659.8,304.8L657.5,303.9L658.0,297.3L656.9,290.7L655.3,286.3Z" fill="#E6F598"/>
<path d="M670.7,284.8L671.6,285.6L671.8,288.5L673.1,288.3L672.7,295.1L672.9,297.3L675.2,294.2L676.5,295.7L678.1,293.3L681.1,297.7L681.3,302.6L683.1,307.0L682.2,311.1L677.2,311.6L676.1,314.7L676.1,318.6L677.0,323.0L675.4,320.6L672.7,318.6L672.5,315.1L670.4,315.3L670.4,321.5L668.6,328.1L668.8,333.3L670.4,336.9L671.3,342.6L674.5,345.9L675.2,346.8L672.9,349.4L670.9,344.8L670.7,345.9L669.8,343.9L668.4,339.9L666.6,339.5L666.6,335.1L667.1,330.4L667.7,328.1L669.5,322.4L668.6,319.3L668.4,313.6L666.4,307.4L667.3,301.7L665.5,296.8L665.2,292.9L665.9,287.6L668.2,285.9Z" fill="#E6F598"/>
<path d="M670.7,284.8L673.0,281.2L673.0,279.5L674.5,281.0L675.3,275.5L677.0,278.8L677.2,282.3L680.8,284.5L679.5,288.9L682.2,292.4L685.4,299.5L687.6,307.4L687.5,309.6L684.0,311.1L682.2,311.1L683.1,307.0L681.3,302.6L681.1,297.7L678.1,293.3L676.5,295.7L675.2,294.2L672.9,297.3L672.7,295.1L673.1,288.3L671.8,288.5L671.6,285.6Z" fill="#FEE08B"/>
<path d="M688.5,279.5L686.3,281.9L685.6,283.2L683.6,289.4L685.1,296.4L687.0,300.4L689.2,303.4L691.3,310.5L691.5,319.3L690.8,324.1L686.7,328.5L685.4,332.0L681.7,336.4L681.5,331.1L680.5,328.5L682.0,326.1L684.5,325.4L683.8,322.8L687.4,320.2L687.5,309.6L687.6,307.4L685.4,299.5L682.2,292.4L679.5,288.9L680.8,284.5L677.2,282.3L677.0,278.8L675.3,275.5L679.3,275.1L682.4,271.8L685.4,273.5L685.6,277.5Z" fill="#7F7F7F"/>
<path d="M677.0,323.0L676.1,318.6L676.1,314.7L677.2,311.6L682.2,311.1L684.0,311.1L687.5,309.6L687.4,320.2L683.8,322.8L684.5,325.4L682.0,326.1L680.5,328.5L678.6,328.1L677.4,325.9Z" fill="#FEE08B"/>
<path d="M670.7,345.9L670.9,344.8L672.9,349.4L675.2,346.8L678.1,354.5L678.4,361.9L680.2,368.1L678.4,368.5L675.4,364.6L673.4,361.5L672.0,356.7L671.2,350.5ZM692.3,365.2L695.8,367.7L696.2,363.3L699.9,360.2L702.1,354.5L705.5,352.3L706.9,347.9L708.5,343.5L710.5,346.1L711.4,348.7L713.9,351.8L711.6,354.9L710.3,356.0L706.4,355.1L705.7,359.3L704.4,361.9L703.9,365.9L701.9,368.1L698.0,368.1L694.4,370.5Z" fill="#E6F598"/>
<path d="M702.3,354.0L705.1,352.5L704.8,355.3L703.5,356.7Z" fill="#7F7F7F"/>
<path d="M659.8,349.6L664.8,351.4L666.6,356.2L668.2,358.4L671.3,364.1L673.8,366.8L677.2,371.6L679.0,376.9L680.6,382.2L684.0,387.4L683.8,394.0L683.6,400.0L680.8,399.8L680.2,396.2L675.6,391.4L672.7,384.4L671.3,378.4L668.4,372.9L667.5,366.8L664.1,360.2L661.6,355.8ZM682.2,404.2L684.2,400.2L685.8,401.1L689.9,403.7L694.0,404.8L695.3,402.4L699.2,405.9L703.0,408.6L703.0,412.5L699.2,411.2L694.2,409.9L689.7,408.6L685.1,406.8ZM692.3,365.2L694.4,370.5L698.0,368.1L701.9,368.1L703.9,365.9L704.4,361.9L705.7,359.3L706.4,355.1L710.3,356.0L710.7,361.1L713.2,369.9L710.9,370.7L710.0,377.8L708.2,380.0L707.3,385.2L706.6,390.1L703.5,392.5L699.9,388.3L697.1,389.6L693.5,387.0L693.1,380.0L691.0,375.6L690.8,369.0ZM715.2,370.7L717.7,368.5L722.5,370.1L726.6,367.2L727.5,368.1L725.4,372.5L722.5,372.1L718.0,372.3L715.9,374.2L715.7,377.8L718.6,378.2L723.2,377.3L723.4,378.6L719.8,381.7L720.7,387.4L722.9,392.7L722.0,395.8L719.3,395.4L719.1,391.4L717.7,386.1L716.4,387.4L716.6,395.4L716.6,398.9L714.6,398.4L714.3,391.8L713.0,386.6L713.9,382.2L715.0,374.7ZM740.6,377.8L744.0,375.8L747.4,377.8L748.5,385.2L750.8,389.2L753.0,383.9L756.4,381.3L759.8,383.9L763.2,385.7L763.2,414.3L760.7,409.9L756.4,411.2L758.0,405.0L756.4,398.4L751.9,394.0L747.4,391.4L744.9,391.8L742.9,387.0L746.3,385.2L742.9,383.0L740.6,380.8ZM723.6,419.5L724.7,415.2L727.0,413.4L727.2,415.6L725.7,418.9ZM703.2,410.3L706.0,411.2L704.8,413.0ZM706.6,411.2L708.2,411.2L707.8,413.4L706.6,413.0ZM708.5,412.1L713.4,410.8L713.4,413.0L708.9,413.8ZM715.5,411.2L722.3,410.3L722.0,412.5L715.5,413.0ZM713.4,416.0L717.5,417.8L716.1,419.5L713.4,417.4ZM733.8,387.4L740.1,388.8L739.5,390.1L733.8,389.2ZM729.3,388.3L732.0,388.8L731.1,391.0L729.3,390.1ZM732.7,366.3L733.8,364.6L735.4,369.9L733.8,372.5L735.6,372.9L733.8,377.8L733.1,372.1ZM682.2,381.3L685.6,385.2L685.1,387.4L682.9,383.9ZM687.6,385.7L689.2,387.0L688.5,388.3L687.6,387.4ZM664.1,368.1L665.7,371.6L664.8,370.3ZM667.3,378.6L668.8,382.2L667.9,381.3ZM725.4,410.8L727.2,410.3L725.9,411.6ZM740.6,407.2L742.2,405.9L742.0,409.4L740.8,409.4ZM747.8,399.8L749.2,400.2L748.5,404.2L747.6,402.8ZM721.4,396.2L722.9,397.1L721.8,398.9ZM750.8,377.3L753.0,378.6L751.9,379.5ZM738.8,374.7L741.0,375.6L739.5,376.0Z" fill="#FEE08B"/>
<path d="M727.0,413.4L729.3,411.6L732.2,411.2L730.4,413.8L727.2,415.6Z" fill="#FEE08B"/>
<path d="M717.1,292.9L720.2,292.9L720.9,298.2L719.3,304.3L719.3,311.4L721.8,311.4L725.0,317.1L724.7,319.1L723.2,316.2L720.9,314.9L718.0,314.0L717.1,311.4L717.7,310.0L716.6,310.0L715.5,304.8L715.2,302.6L716.4,303.4L716.6,297.3ZM720.2,343.5L722.0,338.6L724.3,339.1L726.3,336.9L728.1,334.7L728.1,331.1L730.0,335.1L730.4,342.1L729.7,346.5L728.6,343.5L727.9,347.9L727.7,349.6L725.2,347.0L724.7,342.1L723.4,341.7L722.3,341.7ZM725.4,319.3L727.7,319.7L728.6,325.4L727.0,325.0ZM725.7,324.1L727.0,325.9L727.5,329.4L726.6,330.3ZM722.3,326.3L723.6,326.8L722.9,334.2L721.6,332.9L721.1,330.3ZM720.2,321.9L722.7,323.7L721.6,327.6L720.0,328.1ZM723.4,328.1L724.7,325.0L724.1,330.3L723.2,332.5ZM714.3,324.6L715.0,328.1L712.3,333.3L709.4,337.7L709.6,336.4L712.8,330.3ZM716.6,315.3L718.9,315.8L719.1,319.7L718.4,320.6L717.3,318.0ZM724.3,330.7L725.9,330.3L725.7,332.0ZM722.9,319.7L724.7,321.5L723.2,321.9Z" fill="#FC8D59"/>
<path d="M525.5,216.4L526.0,216.6L527.0,214.8L528.1,213.1L532.4,212.8L536.9,211.1L540.0,211.1L537.6,213.7L537.8,217.7L536.9,223.0L531.9,227.5L527.4,232.2L525.0,230.2L525.2,227.4L526.9,223.8L526.5,222.1L525.5,221.9L525.0,218.1Z" fill="#E6F598"/>
<path d="M523.5,228.7L525.2,227.4L526.9,223.8L526.5,222.1L525.5,221.9L524.4,225.2Z" fill="#FC8D59"/>
<path d="M521.6,236.6L523.1,244.5L524.2,237.9L524.6,231.8L525.0,230.2L525.2,227.4L523.5,228.7L523.2,230.0L522.6,233.5Z" fill="#3288BD"/>
<path d="M523.2,244.9L524.2,237.9L524.6,231.8L525.0,230.2L527.4,232.2L531.9,227.5L532.8,232.9L527.8,235.7L530.1,240.1L529.0,242.3L527.3,243.0L525.8,245.8Z" fill="#E6F598"/>
<path d="M540.0,211.1L543.9,210.2L545.5,210.9L546.9,215.9L548.2,217.2L548.7,219.9L547.1,222.5L547.1,225.2L548.4,228.7L551.4,231.8L552.3,234.4L552.1,237.9L552.7,240.1L554.0,242.5L552.7,242.3L552.1,241.9L550.5,242.5L549.5,246.3L545.3,245.8L539.4,237.5L535.5,233.7L532.8,232.9L531.9,227.5L536.9,223.0L537.8,217.7L537.6,213.7Z" fill="#E6F598"/>
<path d="M549.5,246.3L550.5,242.5L552.1,241.9L552.7,242.3L552.7,245.4L553.6,248.7L551.8,248.7L551.5,246.7Z" fill="#99D594"/>
<path d="M523.2,244.9L525.8,245.8L527.3,243.0L529.0,242.3L530.1,240.1L527.8,235.7L532.8,232.9L535.5,233.7L539.4,237.5L545.3,245.8L549.5,246.3L551.5,246.7L551.8,248.7L553.6,248.7L554.5,252.4L556.6,255.9L557.7,257.3L557.7,261.2L559.1,265.4L560.0,266.1L560.9,267.6L561.8,273.1L568.8,274.9L569.0,274.4L570.2,277.5L568.6,286.3L561.8,290.7L555.0,292.4L551.6,299.0L548.9,298.6L544.8,297.7L542.1,297.7L541.9,300.8L541.0,302.1L540.3,297.3L537.3,290.7L534.6,285.0L532.7,279.7L531.2,270.9L528.3,264.3L526.7,259.9L524.4,253.3L522.4,250.7Z" fill="#99D594"/>
<path d="M541.0,302.1L541.9,300.8L542.1,297.7L544.8,297.7L548.9,298.6L551.6,299.0L555.0,292.4L561.8,290.7L564.3,301.0L562.2,305.6L555.0,312.7L551.6,314.9L545.9,318.2L542.6,318.6L541.9,315.8L541.4,310.5L540.7,306.1ZM565.0,318.8L567.4,319.1L565.9,320.2Z" fill="#E6F598"/>
<path d="M564.3,301.0L561.8,290.7L568.6,286.3L570.2,277.5L569.0,274.4L570.4,268.7L570.8,264.7L571.8,264.5L573.1,268.7L576.7,270.5L579.4,275.3L577.0,284.1L574.9,290.7L574.7,291.1L572.0,295.1L569.3,297.3L566.5,299.5ZM571.1,259.9L572.0,258.6L571.8,261.7Z" fill="#3288BD"/>
<path d="M560.9,267.6L561.8,273.1L568.8,274.9L569.0,274.4L570.4,268.7L570.8,264.7L571.8,264.5L571.5,261.7L571.1,259.9L569.3,263.0L567.2,266.5L564.1,268.0Z" fill="#99D594"/>
<path d="M559.1,265.4L559.0,262.1L560.0,259.2L560.9,260.8L560.9,264.3L560.0,266.1Z" fill="#99D594"/>
<path d="M545.5,199.6L546.9,202.7L548.4,203.4L549.3,203.2L550.5,201.6L553.4,201.0L552.7,203.4L554.8,205.1L555.2,208.9L557.7,209.8L559.5,212.4L562.9,212.8L566.1,212.0L566.1,210.0L569.5,207.1L573.6,206.0L577.2,208.4L579.9,211.5L582.4,213.3L582.8,217.7L581.0,224.7L581.3,229.1L581.8,235.7L584.0,236.4L584.0,238.6L581.9,242.9L584.0,248.5L586.2,250.0L586.2,254.4L587.4,257.3L585.1,258.1L583.5,263.4L578.8,262.5L574.9,261.2L573.1,255.5L571.5,254.8L567.9,257.5L564.1,255.5L560.7,251.8L559.1,247.1L557.5,241.7L555.0,240.6L554.0,242.5L552.7,240.1L552.1,237.9L552.3,234.4L551.4,231.8L548.4,228.7L547.1,225.2L547.1,222.5L548.7,219.9L548.2,217.2L546.9,215.9L545.5,210.9L544.4,207.6L544.8,205.8L543.7,201.0L544.6,201.0Z" fill="#7F7F7F"/>
<path d="M439.1,219.9L441.8,217.2L444.3,215.9L447.0,213.7L451.0,212.4L455.6,212.4L459.7,212.0L461.8,212.0L463.6,211.7L462.9,215.9L462.9,221.6L461.1,224.3L461.1,228.2L464.6,233.1L465.7,241.3L466.5,249.8L466.1,257.7L465.4,259.5L466.7,265.2L471.2,270.9L461.1,282.3L457.2,288.5L453.7,290.0L451.6,290.7L451.3,287.2L446.8,283.2L446.7,281.5L433.2,264.3L424.5,254.2L424.5,252.6L424.5,248.0L428.0,244.1L431.7,243.2L435.7,238.4L437.3,234.8L441.4,232.6L440.0,229.1L440.3,222.5Z" fill="#3288BD"/>
<path d="M405.5,282.8L405.6,280.1L407.9,270.0L410.4,265.6L411.5,259.0L413.8,255.5L414.2,252.6L418.1,249.8L421.5,244.9L422.1,240.6L421.9,235.7L423.3,230.9L426.9,226.5L428.7,224.7L430.5,219.4L430.7,216.8L432.1,216.4L433.5,219.4L437.3,219.0L439.1,219.9L440.3,222.5L440.0,229.1L441.4,232.6L437.3,234.8L435.7,238.4L431.7,243.2L428.0,244.1L424.5,248.0L424.5,252.6L424.5,259.9L416.9,259.9L416.9,271.1L414.7,273.1L414.7,280.4L405.6,280.4Z" fill="#99D594"/>
<path d="M418.5,255.5L424.5,254.2L424.5,259.9L419.1,259.9L418.1,262.5L416.3,269.6L414.7,274.4L414.5,280.4L412.0,280.4L412.6,274.4L414.7,268.5L416.3,262.5Z" fill="#7F7F7F"/>
<path d="M405.5,282.8L405.6,280.4L414.7,280.4L414.7,273.1L416.9,271.1L416.9,259.9L424.5,259.9L424.5,254.2L433.2,264.3L429.4,264.3L431.7,306.1L423.1,306.1L419.9,306.5L418.1,305.6L416.4,309.3L414.0,303.4L411.3,301.0L407.2,301.7L406.8,303.7L407.9,295.1L407.2,288.9L406.8,286.3Z" fill="#E6F598"/>
<path d="M406.8,303.7L407.2,301.7L411.3,301.0L414.0,303.4L416.4,309.3L418.3,317.3L418.3,319.7L416.0,320.2L413.1,318.6L409.7,318.5L406.3,319.9L406.1,316.9L406.6,314.4L404.5,309.6L406.1,306.1Z" fill="#7F7F7F"/>
<path d="M406.1,316.9L412.9,315.8L412.9,314.7L409.7,313.6L406.6,314.4Z" fill="#7F7F7F"/>
<path d="M406.3,319.9L409.7,318.5L413.1,318.6L413.1,322.8L410.8,323.7L410.2,326.1L408.1,323.2L407.4,321.5Z" fill="#7F7F7F"/>
<path d="M410.2,326.1L410.8,323.7L413.1,322.8L413.1,318.6L416.0,320.2L418.3,319.7L419.9,321.9L423.1,320.2L424.9,324.1L426.0,329.4L425.3,334.7L426.7,337.3L425.3,340.8L422.8,341.7L423.1,337.3L420.8,336.9L420.1,334.2L418.8,330.3L416.0,330.7L414.0,334.4L412.9,331.1L411.1,328.1Z" fill="#FC8D59"/>
<path d="M414.0,334.4L416.0,330.7L418.8,330.3L420.1,334.2L420.8,336.9L420.1,339.9L418.1,343.7L415.8,341.7L414.2,337.3Z" fill="#7F7F7F"/>
<path d="M418.1,343.7L420.1,339.9L420.8,336.9L423.1,337.3L422.8,341.7L425.3,340.8L424.9,345.7L427.1,348.5L427.0,355.1L423.7,352.3L419.7,346.5Z" fill="#7F7F7F"/>
<path d="M427.0,355.1L427.1,348.5L424.9,345.7L425.3,340.8L426.7,337.3L425.3,334.7L426.0,329.4L430.1,327.6L431.7,328.5L433.5,331.6L437.8,331.6L438.0,332.5L438.4,338.2L436.9,344.3L437.8,351.8L435.0,351.2L430.5,353.1Z" fill="#7F7F7F"/>
<path d="M437.8,351.8L436.9,344.3L438.4,338.2L438.0,332.5L437.8,325.9L443.8,325.4L445.0,329.0L445.2,336.9L445.7,344.3L446.8,347.4L444.1,349.6L439.6,353.4Z" fill="#FC8D59"/>
<path d="M446.8,347.4L445.7,344.3L445.2,336.9L445.0,329.0L443.8,325.4L446.1,325.9L445.9,328.5L447.3,333.3L447.7,343.9L447.8,347.0Z" fill="#7F7F7F"/>
<path d="M447.8,347.0L447.7,343.9L447.3,333.3L445.9,328.5L446.1,325.9L449.5,320.6L452.2,322.8L452.7,328.1L450.4,334.7L450.2,346.1Z" fill="#D53E4F"/>
<path d="M431.7,328.5L433.5,331.6L437.8,331.6L438.0,332.5L437.8,325.9L443.8,325.4L446.1,325.9L449.5,320.6L448.9,318.4L446.3,315.3L444.7,308.7L439.6,311.8L436.2,315.8L434.1,318.4L432.1,322.4Z" fill="#D53E4F"/>
<path d="M416.4,309.3L418.1,305.6L419.9,306.5L423.1,306.1L431.7,306.1L429.4,264.3L433.2,264.3L446.7,281.5L446.8,283.2L451.3,287.2L451.6,290.7L453.7,290.0L453.6,299.9L452.0,306.5L444.7,308.7L439.6,311.8L436.2,315.8L434.1,318.4L432.1,322.4L431.7,328.5L430.1,327.6L426.0,329.4L424.9,324.1L423.1,320.2L419.9,321.9L418.3,319.7L418.3,317.3Z" fill="#E6F598"/>
<path d="M444.7,308.7L452.0,306.5L453.6,299.9L453.7,290.0L457.2,288.5L461.1,282.3L471.2,270.9L476.2,274.9L478.0,273.1L479.2,281.9L479.2,299.9L474.7,310.5L474.9,314.0L471.3,316.2L466.7,315.8L462.2,315.8L459.9,317.1L456.5,313.1L453.4,314.9L452.2,322.8L449.5,320.6L448.9,318.4L446.3,315.3Z" fill="#FEE08B"/>
<path d="M450.2,346.1L450.4,334.7L452.7,328.1L452.2,322.8L453.4,314.9L456.5,313.1L459.9,317.1L462.2,315.8L466.7,315.8L471.3,316.2L474.9,314.0L476.0,317.1L476.2,319.3L477.1,323.7L474.2,330.3L473.1,336.0L470.8,343.5L467.9,343.5L466.3,344.3L463.6,353.1L462.9,354.5L459.9,354.9L457.7,355.3L455.4,348.7L454.1,346.5L451.8,346.1Z" fill="#7F7F7F"/>
<path d="M463.6,211.7L466.3,210.2L467.4,212.0L469.2,211.3L467.9,214.6L468.1,216.8L469.2,219.4L468.3,222.5L466.7,224.7L468.8,226.5L470.2,228.5L470.1,231.3L467.4,234.4L467.4,238.4L465.7,241.3L464.6,233.1L461.1,228.2L461.1,224.3L462.9,221.6L462.9,215.9Z" fill="#99D594"/>
<path d="M470.2,228.5L472.4,229.6L474.0,229.6L478.3,231.8L479.6,236.2L483.7,238.4L487.1,241.0L489.4,238.4L489.5,233.1L492.8,229.8L496.2,230.9L501.0,235.1L500.5,240.1L500.7,277.5L500.7,286.3L498.4,286.3L498.4,288.5L478.0,273.1L476.2,274.9L471.2,270.9L466.7,265.2L465.4,259.5L466.1,257.7L466.5,249.8L465.7,241.3L467.4,238.4L467.4,234.4L470.1,231.3Z" fill="#E6F598"/>
<path d="M501.0,235.1L505.2,236.2L509.7,238.6L511.8,237.0L514.3,235.5L517.2,236.6L519.9,237.5L521.6,236.6L523.1,244.5L522.0,251.1L521.5,252.2L520.1,249.8L517.9,242.7L517.4,244.5L519.2,251.1L520.6,254.6L522.2,261.2L524.4,269.1L527.6,277.5L500.7,277.5L500.5,240.1Z" fill="#E6F598"/>
<path d="M527.6,277.5L500.7,277.5L500.7,286.3L498.4,286.3L498.4,305.2L495.9,305.6L495.0,311.8L493.9,318.4L495.9,324.1L495.9,326.3L497.5,331.1L498.9,336.0L500.5,331.1L504.1,332.5L507.5,333.3L509.7,331.6L513.8,331.4L516.8,321.5L519.2,320.6L519.0,327.2L521.3,332.5L521.7,327.6L523.3,322.4L525.8,318.4L526.6,311.6L526.7,307.4L527.8,299.3L531.5,295.1L528.7,291.6L528.3,286.3L528.1,281.0Z" fill="#E6F598"/>
<path d="M498.9,336.0L500.5,331.1L504.1,332.5L507.5,333.3L509.7,331.6L513.8,331.4L516.8,321.5L519.2,320.6L519.0,327.2L521.3,332.5L521.3,336.4L518.8,339.1L521.1,342.1L524.0,350.5L525.4,354.0L521.1,355.8L518.8,357.3L514.3,358.0L513.9,358.9L511.3,354.5L508.4,355.3L506.2,352.0L503.9,345.2L501.1,340.8Z" fill="#FC8D59"/>
<path d="M474.9,314.0L474.7,310.5L479.2,299.9L479.2,281.9L478.0,273.1L498.4,288.5L498.4,305.2L495.9,305.6L495.0,311.8L493.9,318.4L495.9,324.1L495.9,326.3L493.2,327.6L490.3,334.2L487.1,334.7L484.8,339.1L481.7,340.4L479.2,341.3L478.0,336.0L475.6,332.0L479.2,330.3L478.3,323.7L477.8,319.3L476.0,317.1Z" fill="#D53E4F"/>
<path d="M463.6,353.1L466.3,344.3L467.9,343.5L470.8,343.5L473.1,336.0L474.2,330.3L477.1,323.7L476.2,319.3L476.0,317.1L477.8,319.3L478.3,323.7L479.2,330.3L475.6,332.0L478.0,336.0L479.2,341.3L477.1,347.9L476.9,352.3L478.3,356.7L480.8,364.6L480.5,366.8L476.9,365.0L474.2,364.6L469.8,364.6L466.3,364.1L466.5,361.1L465.6,357.1L464.2,354.5Z" fill="#D53E4F"/>
<path d="M479.2,341.3L481.7,340.4L484.8,339.1L487.1,334.7L490.3,334.2L493.2,327.6L495.9,326.3L497.5,331.1L498.9,336.0L501.1,340.8L503.9,345.2L506.2,352.0L501.8,350.9L499.3,351.8L495.9,353.1L494.8,356.2L490.5,354.9L488.2,351.8L486.2,355.3L486.2,358.9L483.7,358.4L481.7,358.9L480.8,364.6L478.3,356.7L476.9,352.3L477.1,347.9Z" fill="#FC8D59"/>
<path d="M466.3,364.1L469.8,364.6L469.8,369.9L466.3,369.9L465.8,367.7ZM463.3,358.0L464.2,358.0L463.8,360.0Z" fill="#FEE08B"/>
<path d="M466.3,369.9L469.8,369.9L469.8,364.6L474.2,364.6L474.0,368.5L476.2,368.1L476.9,370.7L475.6,374.2L476.9,376.9L476.7,382.6L476.2,384.8L473.1,383.0L472.4,384.8L470.4,384.8L471.0,389.6L469.2,391.6L465.8,384.8L464.0,377.3L465.1,374.2L465.6,371.6Z" fill="#D53E4F"/>
<path d="M469.2,391.6L471.0,389.6L470.4,384.8L472.4,384.8L473.1,383.0L476.2,384.8L476.7,382.6L476.9,376.9L475.6,374.2L476.9,370.7L476.2,368.1L474.0,368.5L474.2,364.6L476.9,365.0L480.5,366.8L480.8,364.6L481.7,358.9L483.7,358.4L486.2,358.9L485.1,364.1L484.4,372.9L483.9,376.9L480.8,383.9L480.3,389.2L478.5,393.2L476.7,395.6L474.4,395.8L473.7,394.5L473.1,393.6L471.3,396.2L470.8,394.5Z" fill="#7F7F7F"/>
<path d="M471.7,399.5L472.4,399.3L473.7,394.5L474.4,395.8L476.7,395.6L478.5,393.2L480.3,389.2L480.8,383.9L483.9,376.9L484.4,372.9L485.1,364.1L486.2,358.9L486.2,355.3L488.2,351.8L490.5,354.9L494.8,356.2L495.9,353.1L499.3,351.8L501.8,350.9L506.2,352.0L508.4,355.3L511.3,354.5L513.9,358.9L513.8,363.7L514.9,364.8L513.1,369.0L511.9,370.7L511.3,374.7L511.1,380.4L510.2,381.7L509.7,386.3L510.2,388.8L510.4,393.8L511.1,400.6L512.7,407.2L513.8,410.3L509.5,411.6L508.4,415.2L508.8,419.1L508.4,426.6L509.7,428.8L511.5,427.9L511.5,433.2L508.4,429.2L505.7,425.3L501.6,423.9L499.3,423.9L498.4,422.2L498.2,422.6L494.6,422.6L494.3,417.8L493.4,410.3L493.7,406.4L490.5,406.4L490.0,404.8L488.2,405.0L487.8,409.4L483.9,409.9L481.7,400.2L474.4,400.0L471.9,401.1Z" fill="#D53E4F"/>
<path d="M471.9,401.1L474.4,400.0L481.7,400.2L483.9,409.9L487.8,409.4L488.2,405.0L490.0,404.8L490.5,406.4L493.7,406.4L493.4,410.3L494.3,417.8L494.6,422.6L498.2,422.6L498.4,422.2L498.4,431.4L493.9,431.4L493.9,445.5L497.1,451.7L492.5,453.4L486.0,450.8L475.8,450.8L473.5,449.0L470.7,450.1L470.8,444.6L471.7,438.0L474.4,429.7L475.3,422.6L474.0,413.0L473.3,405.0ZM471.3,396.2L473.1,393.6L473.7,394.5L472.4,399.3L471.7,399.5Z" fill="#D53E4F"/>
<path d="M498.4,422.2L499.3,423.9L501.6,423.9L505.7,425.3L508.4,429.2L511.5,433.2L511.5,427.9L509.7,428.8L508.4,426.6L508.8,419.1L508.4,415.2L509.5,411.6L513.8,410.3L518.7,415.6L519.5,421.7L518.8,425.3L519.5,429.2L518.1,434.1L519.2,435.8L512.5,439.3L512.9,442.9L509.5,444.4L509.3,446.8L505.2,453.2L501.4,452.5L498.4,451.2L497.1,451.7L493.9,445.5L493.9,431.4L498.4,431.4Z" fill="#7F7F7F"/>
<path d="M470.7,450.1L473.5,449.0L475.8,450.8L486.0,450.8L492.5,453.4L497.1,451.7L498.4,451.2L501.4,452.5L499.6,453.4L496.8,453.4L491.6,454.7L491.6,471.0L489.4,471.0L489.4,483.3L489.4,499.2L487.1,501.4L483.5,500.5L481.4,500.0L478.5,493.0L476.9,479.8L476.9,475.0L474.4,466.2L471.3,455.6Z" fill="#D53E4F"/>
<path d="M489.4,483.3L489.4,471.0L491.6,471.0L491.6,454.7L496.8,453.4L499.6,453.4L501.4,452.5L503.4,460.0L506.8,464.4L507.5,469.2L510.6,471.9L508.2,473.6L505.2,478.0L504.8,481.1L502.7,482.9L501.8,487.3L500.0,487.7L496.2,485.5L495.3,489.0L493.2,492.3L491.0,492.3Z" fill="#FEE08B"/>
<path d="M501.4,452.5L505.2,453.2L509.3,446.8L509.5,444.4L512.9,442.9L514.9,444.6L518.6,447.7L518.8,453.4L518.1,457.8L518.8,461.3L517.4,467.9L514.9,472.8L510.6,471.9L507.5,469.2L506.8,464.4L503.4,460.0Z" fill="#7F7F7F"/>
<path d="M535.7,420.2L531.2,424.4L529.0,425.7L525.1,424.6L523.2,425.0L522.6,429.2L523.1,433.6L525.4,439.8L525.1,444.6L524.0,449.5L522.0,445.9L522.2,438.0L519.2,435.8L512.5,439.3L512.9,442.9L514.9,444.6L518.6,447.7L518.8,453.4L518.1,457.8L518.8,461.3L517.4,467.9L514.9,472.8L516.3,481.1L516.5,488.2L516.8,492.1L518.6,492.3L517.9,488.4L519.9,485.1L524.4,479.8L524.4,471.0L522.9,462.2L525.6,457.4L527.8,452.5L532.6,447.7L536.0,440.2L535.9,431.0Z" fill="#FEE08B"/>
<path d="M518.7,415.6L520.8,416.0L522.4,422.6L523.2,425.0L522.6,429.2L523.1,433.6L525.4,439.8L525.1,444.6L524.0,449.5L522.0,445.9L522.2,438.0L519.2,435.8L518.1,434.1L519.5,429.2L518.8,425.3L519.5,421.7Z" fill="#D53E4F"/>
<path d="M535.7,420.2L534.2,413.4L533.0,404.2L531.9,400.6L532.8,394.9L529.2,387.4L521.1,378.6L515.8,378.6L513.1,378.9L513.9,384.6L513.4,389.2L512.0,393.2L510.4,393.8L511.1,400.6L512.7,407.2L513.8,410.3L518.7,415.6L520.8,416.0L522.4,422.6L523.2,425.0L525.1,424.6L529.0,425.7L531.2,424.4ZM532.8,399.8L533.6,401.1L533.3,402.6ZM534.0,395.8L534.3,397.1L534.0,398.0Z" fill="#D53E4F"/>
<path d="M532.8,394.9L529.2,387.4L521.1,378.6L521.1,373.4L522.2,369.4L523.3,365.9L521.1,355.8L525.4,354.0L527.6,354.7L530.3,358.4L533.5,359.1L536.4,355.6L538.9,356.9L536.9,361.9L536.9,374.2L536.9,378.0L538.1,381.5L535.1,386.1L534.9,388.8L533.8,392.1Z" fill="#E6F598"/>
<path d="M521.1,378.6L515.8,378.6L513.1,378.9L511.1,380.4L511.3,374.7L511.9,370.7L513.1,369.0L514.9,364.8L513.8,363.7L513.9,358.9L514.3,358.0L518.8,357.3L521.1,355.8L523.3,365.9L522.2,369.4L521.1,373.4Z" fill="#7F7F7F"/>
<path d="M511.1,380.4L513.1,378.9L513.9,384.6L512.0,384.8L511.8,386.1L509.7,386.3L510.2,381.7Z" fill="#FEE08B"/>
<path d="M509.7,386.3L511.8,386.1L512.0,384.8L513.9,384.6L513.4,389.2L512.0,393.2L510.4,393.8L510.2,388.8Z" fill="#D53E4F"/>
<path d="M526.6,311.6L529.9,308.7L532.4,310.0L534.9,310.5L537.3,314.9L540.1,319.5L538.7,325.9L541.3,326.0L541.0,329.4L542.8,333.3L543.7,334.9L550.5,339.1L552.7,339.1L545.9,352.3L541.4,354.0L538.9,356.9L536.4,355.6L533.5,359.1L530.3,358.4L527.6,354.7L525.4,354.0L524.0,350.5L521.1,342.1L518.8,339.1L521.3,336.4L521.3,332.5L521.7,327.6L523.3,322.4L525.8,318.4Z" fill="#E6F598"/>
<path d="M531.5,295.1L527.8,299.3L526.7,307.4L526.6,311.6L529.9,308.7L532.4,310.0L534.9,310.5L537.3,314.9L540.1,319.5L541.6,318.4L539.8,314.4L537.3,310.0L534.6,306.1L533.5,306.1L532.8,301.7Z" fill="#D53E4F"/>
<path d="M541.6,318.4L540.1,319.5L538.7,325.9L541.3,326.0L542.0,323.9L540.7,323.2L542.3,321.5Z" fill="#D53E4F"/>
<path d="M542.0,323.9L541.3,326.0L541.0,329.4L542.8,333.3L543.7,334.9L550.5,339.1L552.7,339.1L545.9,352.3L541.4,354.0L538.9,356.9L536.9,361.9L536.9,374.2L536.9,378.0L538.1,381.5L540.3,376.0L543.7,369.9L546.7,365.2L551.6,356.7L555.0,347.9L557.3,338.6L559.1,332.9L559.8,328.5L560.4,328.3L560.1,322.1L558.4,322.6L555.0,324.6L550.5,325.2L545.9,328.1L543.7,328.3L542.6,325.0Z" fill="#FC8D59"/>
<path d="M481.4,500.0L483.5,500.5L487.1,501.4L489.4,499.2L489.4,483.3L491.0,492.3L493.2,492.3L495.3,489.0L496.2,485.5L500.0,487.7L501.8,487.3L502.7,482.9L504.8,481.1L505.2,478.0L508.2,473.6L510.6,471.9L514.9,472.8L516.3,481.1L516.5,488.2L516.8,492.1L518.6,492.3L517.9,499.6L516.1,501.8L514.3,505.8L512.0,511.9L508.6,518.1L507.2,519.4L504.1,522.7L502.0,523.8L500.2,524.7L496.2,524.2L494.1,524.7L489.4,527.3L486.7,525.5L486.0,525.3L485.7,523.3L484.6,519.4L485.5,515.0L483.3,507.5Z" fill="#7F7F7F"/>
<path d="M505.2,504.4L507.5,500.5L509.5,500.7L510.6,503.6L510.0,506.2L507.9,508.4L506.1,507.5Z" fill="#7F7F7F"/>
<path d="M515.2,487.5L516.5,488.6L516.8,492.1L516.4,494.3L514.3,493.9L513.8,490.8Z" fill="#FEE08B"/>
<path d="M555.7,427.0L557.7,435.8L558.4,442.0L556.6,442.4L556.8,448.1L555.9,453.4L553.9,466.6L551.8,477.6L550.7,484.0L546.4,486.8L543.7,484.2L542.8,477.2L542.1,471.0L544.4,463.5L543.7,455.6L544.6,445.5L548.9,443.3L552.5,435.8L554.5,431.4Z" fill="#FC8D59"/>
<path d="M573.8,462.2L574.9,462.6L574.5,464.4Z" fill="#E6F598"/>
<path d="M569.3,466.2L570.4,467.0L569.7,468.4Z" fill="#7F7F7F"/>
<path d="M541.9,424.8L542.6,425.7L542.1,426.6ZM544.4,427.5L544.8,428.3L544.4,428.8Z" fill="#7F7F7F"/>
<path d="M390.2,307.0L391.1,307.8L390.7,308.7ZM387.1,299.0L387.5,299.5L387.1,299.9ZM388.9,308.7L389.1,308.3L388.6,308.3Z" fill="#7F7F7F"/>
<path d="M458.8,372.9L459.3,372.9L459.0,374.0Z" fill="#7F7F7F"/>
<path d="M700.3,489.0L701.2,482.0L701.7,473.2L702.6,470.1L705.5,466.6L708.9,464.8L713.4,462.2L718.0,460.0L720.7,453.4L722.3,446.8L723.8,450.3L725.9,444.6L728.1,438.0L731.3,434.9L733.8,439.3L737.2,439.8L737.7,433.6L739.0,431.0L740.1,428.8L742.9,427.9L744.2,423.9L746.3,426.1L750.8,427.0L753.9,427.9L751.9,433.6L750.8,439.8L754.2,444.2L759.4,451.2L762.8,451.2L764.6,440.2L764.6,431.4L765.9,422.6L766.6,421.3L768.9,430.5L769.6,437.1L773.0,440.2L774.1,448.6L775.2,457.4L776.4,458.9L780.2,462.6L781.8,467.0L785.4,475.4L786.5,479.4L790.4,485.5L790.6,494.8L791.7,500.3L790.2,512.3L787.7,518.9L786.3,523.3L784.0,531.3L783.4,539.2L779.1,540.9L775.4,546.2L772.3,542.3L768.9,544.9L764.4,543.1L762.1,541.4L760.3,536.5L759.6,532.1L757.6,530.8L757.6,527.3L756.4,520.3L756.0,517.6L754.2,523.8L751.9,527.3L751.0,527.7L748.5,520.3L746.5,515.4L741.0,512.8L736.1,513.7L729.3,516.3L724.7,519.4L723.6,523.3L720.0,523.3L715.7,523.3L711.2,528.2L706.6,527.5L704.6,525.1L704.4,522.0L706.0,520.7L706.0,515.0L704.4,508.4L703.5,500.9L702.6,495.2ZM771.6,553.2L775.7,555.0L779.1,553.7L779.7,559.0L778.8,564.2L776.4,566.0L774.5,565.6L773.0,561.2L771.6,555.4ZM739.0,424.4L741.5,423.9L740.6,426.1L739.2,426.1ZM753.0,434.9L754.2,435.4L753.5,436.7ZM753.5,531.3L756.0,531.3L755.3,532.6L753.5,532.6ZM769.8,548.9L770.2,548.9L770.0,550.6ZM779.1,549.3L779.7,550.2L779.3,551.9Z" fill="#99D594"/>
<path d="M835.0,525.8L838.6,529.5L839.7,536.5L842.2,535.7L842.4,539.6L845.2,541.4L848.1,540.1L847.0,544.5L844.7,547.1L844.7,549.3L842.4,555.9L840.9,557.2L839.7,555.9L840.6,551.0L839.3,548.9L837.5,547.1L839.3,544.9L839.7,540.5L839.0,536.1L837.5,532.1L835.7,528.2ZM835.0,552.4L837.5,554.1L838.6,557.6L835.7,563.4L835.2,566.0L835.9,567.1L831.8,569.1L830.9,576.1L828.4,578.8L825.2,579.2L823.2,577.4L820.9,575.7L823.2,570.8L825.7,567.8L828.9,563.8L831.6,560.7L832.5,557.9L833.6,554.1ZM823.4,580.1L824.8,580.5L823.9,581.8Z" fill="#E6F598"/>
<path d="M763.2,385.7L766.6,388.3L771.1,391.0L774.1,395.8L776.6,400.2L778.6,400.6L777.9,403.7L779.5,409.9L782.0,413.8L785.2,419.3L783.6,421.1L779.1,418.7L777.1,415.8L774.5,409.9L771.4,407.7L769.6,409.9L768.4,411.2L768.4,413.8L766.6,414.7L763.2,414.3ZM779.7,398.9L783.6,396.2L787.0,395.8L788.6,392.7L788.8,396.2L787.0,398.9L784.7,401.5L781.3,401.1ZM785.4,385.7L788.1,389.2L790.4,394.5L789.7,394.9L787.0,388.8ZM794.2,398.4L796.9,404.2L795.6,403.7L794.2,400.2ZM775.7,382.6L777.7,383.0L776.8,383.9Z" fill="#D53E4F"/>
<path d="M805.3,415.2L808.0,416.9L807.6,418.0L805.5,416.9ZM807.6,410.8L809.4,415.6L808.9,416.9L807.8,413.4ZM802.8,407.2L806.0,411.2L805.5,412.1L803.1,408.6ZM798.3,403.3L800.6,406.4L799.9,407.2L798.3,404.6ZM799.9,409.4L801.5,411.6L800.6,412.5ZM809.2,419.1L811.4,421.3L810.3,421.7Z" fill="#D53E4F"/>
<path d="M821.2,438.9L822.5,441.1L822.1,442.9L821.2,441.5ZM822.5,444.6L823.9,446.4L823.2,447.3ZM824.8,451.7L825.5,452.1L825.0,452.8ZM827.1,456.5L827.5,457.4L827.1,457.8Z" fill="#D53E4F"/>
<path d="M815.3,462.6L818.7,465.7L822.1,472.3L820.9,472.8L817.5,468.8L815.3,464.4Z" fill="#7F7F7F"/>
<path d="M845.4,451.2L848.3,451.7L848.1,454.3L845.6,453.9ZM848.3,448.1L851.5,445.5L850.8,448.1Z" fill="#FEE08B"/>
<path d="M599.6,588.4L603.7,589.8L603.0,592.8L600.3,592.4ZM610.0,607.3L611.1,607.3L610.7,608.2Z" fill="#7F7F7F"/>
<path d="M358.1,611.7L362.6,613.1L363.1,615.3L359.2,613.1Z" fill="#7F7F7F"/>
<path d="M237.0,375.6L238.4,375.1L238.6,378.2L237.2,378.6ZM239.3,376.4L240.0,376.4L239.7,377.5ZM241.3,377.3L242.0,377.5L241.5,378.4Z" fill="#E6F598"/>
</g>
<text x="61.5" y="372.0" class="lt">ASR(/10^5)</text>
<rect x="61.2" y="385.6" width="34.5" height="34.8" fill="#D53E4F"/>
<text x="106.2" y="409.0" class="ll">0.414~0.690</text>
<rect x="61.2" y="420.1" width="34.5" height="34.8" fill="#FC8D59"/>
<text x="106.2" y="443.5" class="ll">0.690~0.990</text>
<rect x="61.2" y="454.6" width="34.5" height="34.8" fill="#FEE08B"/>
<text x="106.2" y="478.0" class="ll">0.990~1.340</text>
<rect x="61.2" y="489.1" width="34.5" height="34.8" fill="#E6F598"/>
<text x="106.2" y="512.5" class="ll">1.340~1.930</text>
<rect x="61.2" y="523.6" width="34.5" height="34.8" fill="#99D594"/>
<text x="106.2" y="547.0" class="ll">1.930~2.906</text>
<rect x="61.2" y="558.1" width="34.5" height="34.8" fill="#3288BD"/>
<text x="106.2" y="581.5" class="ll">2.906+</text>
<rect x="61.2" y="592.6" width="34.5" height="34.5" fill="#7F7F7F"/>
<text x="106.2" y="616.0" class="ll">NA</text>
<text x="942.5" y="371.6" class="lt">ASR(/10^5)</text>
<rect x="942.2" y="385.2" width="34.5" height="34.8" fill="#D53E4F"/>
<text x="987.2" y="408.6" class="ll">8.298~14.750</text>
<rect x="942.2" y="419.7" width="34.5" height="34.8" fill="#FC8D59"/>
<text x="987.2" y="443.1" class="ll">14.750~22.400</text>
<rect x="942.2" y="454.2" width="34.5" height="34.8" fill="#FEE08B"/>
<text x="987.2" y="477.6" class="ll">22.400~29.692</text>
<rect x="942.2" y="488.7" width="34.5" height="34.8" fill="#E6F598"/>
<text x="987.2" y="512.1" class="ll">29.692~42.280</text>
<rect x="942.2" y="523.2" width="34.5" height="34.8" fill="#99D594"/>
<text x="987.2" y="546.6" class="ll">42.280~68.196</text>
<rect x="942.2" y="557.7" width="34.5" height="34.8" fill="#3288BD"/>
<text x="987.2" y="581.1" class="ll">68.196+</text>
<rect x="942.2" y="592.2" width="34.5" height="34.5" fill="#7F7F7F"/>
<text x="987.2" y="615.6" class="ll">NA</text>
<text x="51.6" y="1054.8" class="lt">ASR(/10^5)</text>
<rect x="51.3" y="1068.4" width="34.5" height="34.8" fill="#D53E4F"/>
<text x="96.3" y="1091.8" class="ll">−0.446~−0.350</text>
<rect x="51.3" y="1102.9" width="34.5" height="34.8" fill="#FC8D59"/>
<text x="96.3" y="1126.3" class="ll">−0.350~−−0.260</text>
<rect x="51.3" y="1137.4" width="34.5" height="34.8" fill="#FEE08B"/>
<text x="96.3" y="1160.8" class="ll">−0.260~−0.164</text>
<rect x="51.3" y="1171.9" width="34.5" height="34.8" fill="#E6F598"/>
<text x="96.3" y="1195.3" class="ll">−0.164~−0.066</text>
<rect x="51.3" y="1206.4" width="34.5" height="34.8" fill="#99D594"/>
<text x="96.3" y="1229.8" class="ll">−0.066~−0.020</text>
<rect x="51.3" y="1240.9" width="34.5" height="34.8" fill="#3288BD"/>
<text x="96.3" y="1264.3" class="ll">−0.020+</text>
<rect x="51.3" y="1275.4" width="34.5" height="34.5" fill="#7F7F7F"/>
<text x="96.3" y="1298.8" class="ll">NA</text>
<text x="946.9" y="1055.1" class="lt">ASR(/10^5)</text>
<rect x="946.6" y="1068.7" width="34.5" height="34.8" fill="#D53E4F"/>
<text x="991.6" y="1092.1" class="ll">−7.684~−5.924</text>
<rect x="946.6" y="1103.2" width="34.5" height="34.8" fill="#FC8D59"/>
<text x="991.6" y="1126.6" class="ll">−5.924~−4.598</text>
<rect x="946.6" y="1137.7" width="34.5" height="34.8" fill="#FEE08B"/>
<text x="991.6" y="1161.1" class="ll">−4.598~−2.808</text>
<rect x="946.6" y="1172.2" width="34.5" height="34.8" fill="#E6F598"/>
<text x="991.6" y="1195.6" class="ll">−2.808~−1.090</text>
<rect x="946.6" y="1206.7" width="34.5" height="34.8" fill="#99D594"/>
<text x="991.6" y="1230.1" class="ll">−1.090~−0.410</text>
<rect x="946.6" y="1241.2" width="34.5" height="34.8" fill="#3288BD"/>
<text x="991.6" y="1264.6" class="ll">−0.410+</text>
<rect x="946.6" y="1275.7" width="34.5" height="34.5" fill="#7F7F7F"/>
<text x="991.6" y="1299.1" class="ll">NA</text>
<text x="4.9" y="34.6" class="pl">A</text>
<text x="899.7" y="34.4" class="pl">B</text>
<text x="4.6" y="718.6" class="pl">C</text>
<text x="900" y="718.4" class="pl">D</text>
</svg></body></html>
